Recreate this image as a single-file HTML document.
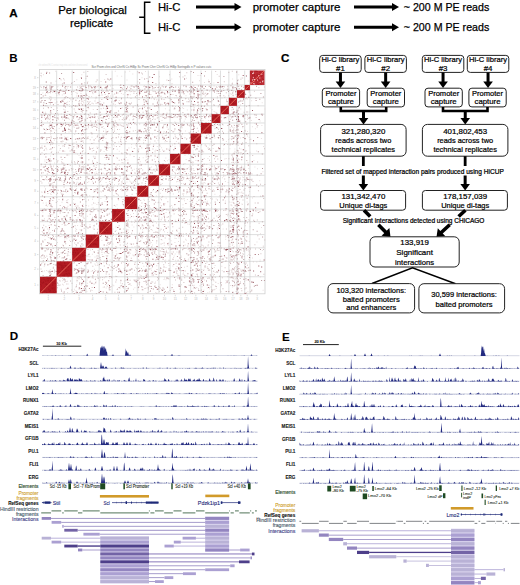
<!DOCTYPE html><html><head><meta charset="utf-8"><style>html,body{margin:0;padding:0;background:#fff;width:520px;height:585px;overflow:hidden}svg text{font-family:"Liberation Sans",sans-serif}</style></head><body><svg width="520" height="585" viewBox="0 0 520 585" style="display:block;font-family:'Liberation Sans',sans-serif">
<rect width="520" height="585" fill="#fff"/>
<text x="9.2" y="17" font-size="11.6" text-anchor="start" font-weight="bold" fill="#000" stroke="#000" stroke-width="0.25">A</text>
<text x="92.5" y="13.6" font-size="11.5" text-anchor="middle" font-weight="normal" fill="#000" textLength="68.6" lengthAdjust="spacingAndGlyphs" stroke="#000" stroke-width="0.25">Per biological</text>
<text x="91.5" y="27" font-size="11.5" text-anchor="middle" font-weight="normal" fill="#000" textLength="43.2" lengthAdjust="spacingAndGlyphs" stroke="#000" stroke-width="0.25">replicate</text>
<path d="M150.5,2.3 H144.6 V33.3 H150.5 M144.6,17.3 H139.2" fill="none" stroke="#000" stroke-width="1.5"/>
<text x="158" y="11.2" font-size="11.5" text-anchor="start" font-weight="normal" fill="#000" textLength="22.5" lengthAdjust="spacingAndGlyphs" stroke="#000" stroke-width="0.25">Hi-C</text>
<text x="252.7" y="11.2" font-size="11.5" text-anchor="start" font-weight="normal" fill="#000" textLength="87.7" lengthAdjust="spacingAndGlyphs" stroke="#000" stroke-width="0.25">promoter capture</text>
<text x="403.8" y="11.2" font-size="11.5" text-anchor="start" font-weight="normal" fill="#000" textLength="85.4" lengthAdjust="spacingAndGlyphs" stroke="#000" stroke-width="0.25">~ 200 M PE reads</text>
<path d="M196,7.0 H235.5" stroke="#000" stroke-width="2.9"/>
<path d="M234.5,3.0 L241.5,7.0 L234.5,11.0 Z" fill="#000"/>
<path d="M354,7.0 H393" stroke="#000" stroke-width="2.9"/>
<path d="M392,3.0 L399,7.0 L392,11.0 Z" fill="#000"/>
<text x="158" y="31.3" font-size="11.5" text-anchor="start" font-weight="normal" fill="#000" textLength="22.5" lengthAdjust="spacingAndGlyphs" stroke="#000" stroke-width="0.25">Hi-C</text>
<text x="252.7" y="31.3" font-size="11.5" text-anchor="start" font-weight="normal" fill="#000" textLength="87.7" lengthAdjust="spacingAndGlyphs" stroke="#000" stroke-width="0.25">promoter capture</text>
<text x="403.8" y="31.3" font-size="11.5" text-anchor="start" font-weight="normal" fill="#000" textLength="85.4" lengthAdjust="spacingAndGlyphs" stroke="#000" stroke-width="0.25">~ 200 M PE reads</text>
<path d="M196,27.2 H235.5" stroke="#000" stroke-width="2.9"/>
<path d="M234.5,23.2 L241.5,27.2 L234.5,31.2 Z" fill="#000"/>
<path d="M354,27.2 H393" stroke="#000" stroke-width="2.9"/>
<path d="M392,23.2 L399,27.2 L392,31.2 Z" fill="#000"/>
<text x="9.3" y="62" font-size="11.6" text-anchor="start" font-weight="bold" fill="#000">B</text>
<rect x="39.5" y="69.5" width="225.5" height="224.3" fill="#fff" stroke="#d0d0d0" stroke-width="0.8"/>
<text x="63" y="66.2" font-size="3.2" text-anchor="middle" font-weight="normal" fill="#e2e2e2" textLength="49" lengthAdjust="spacingAndGlyphs">chr ordered Hi-C contact map intra and inter chromosomal</text>
<text x="151.4" y="67.7" font-size="3.4" text-anchor="middle" font-weight="normal" fill="#6a6a6a" textLength="120" lengthAdjust="spacingAndGlyphs">Scr Prom chrs ord ChrrN Cs HiBp Sc Prom Chrr ChrrN Cs HiBp Sortngdls n P values cutc</text>
<path d="M41.0 264.3h1v1h-1zM54.0 272.3h1v1h-1zM43.8 265.8h1v1h-1zM47.8 276.5h1v1h-1zM44.5 262.7h1v1h-1zM56.1 273.0h1v1h-1zM44.1 262.9h1v1h-1zM42.2 271.3h1v1h-1zM47.0 264.6h1v1h-1zM56.2 273.7h1v1h-1zM54.7 264.6h1v1h-1zM54.2 271.2h1v1h-1zM56.5 264.6h1v1h-1zM52.9 266.4h1v1h-1zM44.1 270.6h1v1h-1zM49.6 274.7h1v1h-1zM44.0 257.4h1v1h-1zM53.7 255.9h1v1h-1zM42.9 257.6h1v1h-1zM43.4 248.0h1v1h-1zM47.4 248.6h1v1h-1zM46.1 255.6h1v1h-1zM42.3 248.3h1v1h-1zM53.2 260.2h1v1h-1zM49.5 256.3h1v1h-1zM49.7 256.1h1v1h-1zM41.4 258.0h1v1h-1zM50.0 254.3h1v1h-1zM55.3 251.3h1v1h-1zM45.0 257.0h1v1h-1zM47.4 259.9h1v1h-1zM46.4 255.7h1v1h-1zM50.4 254.5h1v1h-1zM45.2 245.1h1v1h-1zM42.3 240.6h1v1h-1zM53.8 237.7h1v1h-1zM56.0 243.6h1v1h-1zM47.9 236.9h1v1h-1zM47.9 244.0h1v1h-1zM47.7 243.2h1v1h-1zM54.3 239.2h1v1h-1zM41.1 245.2h1v1h-1zM45.6 245.0h1v1h-1zM48.2 233.9h1v1h-1zM43.7 228.5h1v1h-1zM54.1 228.9h1v1h-1zM48.7 229.1h1v1h-1zM48.2 230.6h1v1h-1zM55.0 227.9h1v1h-1zM42.2 231.7h1v1h-1zM41.7 231.1h1v1h-1zM48.5 225.0h1v1h-1zM48.8 227.3h1v1h-1zM46.9 228.5h1v1h-1zM53.5 220.5h1v1h-1zM45.2 220.8h1v1h-1zM56.6 220.3h1v1h-1zM44.0 218.3h1v1h-1zM51.4 209.3h1v1h-1zM48.4 217.8h1v1h-1zM41.2 210.4h1v1h-1zM42.4 211.4h1v1h-1zM47.7 218.8h1v1h-1zM52.3 214.2h1v1h-1zM42.8 215.6h1v1h-1zM46.8 205.7h1v1h-1zM45.7 202.5h1v1h-1zM40.8 199.2h1v1h-1zM42.7 202.6h1v1h-1zM48.3 204.3h1v1h-1zM50.0 201.3h1v1h-1zM50.9 203.7h1v1h-1zM51.9 189.1h1v1h-1zM44.1 186.3h1v1h-1zM53.6 192.4h1v1h-1zM50.4 190.8h1v1h-1zM40.9 191.6h1v1h-1zM55.9 193.9h1v1h-1zM50.4 189.8h1v1h-1zM50.6 194.1h1v1h-1zM54.6 186.3h1v1h-1zM41.7 191.8h1v1h-1zM54.0 176.1h1v1h-1zM43.6 179.8h1v1h-1zM48.1 182.5h1v1h-1zM52.9 176.1h1v1h-1zM51.0 176.1h1v1h-1zM52.1 182.6h1v1h-1zM45.1 178.6h1v1h-1zM55.6 184.7h1v1h-1zM46.0 179.1h1v1h-1zM46.6 179.4h1v1h-1zM53.9 181.2h1v1h-1zM52.6 184.6h1v1h-1zM53.1 165.2h1v1h-1zM52.3 174.2h1v1h-1zM50.8 166.9h1v1h-1zM47.0 168.9h1v1h-1zM52.4 175.2h1v1h-1zM44.9 174.9h1v1h-1zM52.9 166.2h1v1h-1zM40.6 165.4h1v1h-1zM49.9 166.7h1v1h-1zM55.9 158.9h1v1h-1zM50.1 155.5h1v1h-1zM44.4 159.4h1v1h-1zM54.1 162.4h1v1h-1zM44.5 161.3h1v1h-1zM49.8 162.7h1v1h-1zM41.5 152.1h1v1h-1zM49.1 149.1h1v1h-1zM53.9 146.9h1v1h-1zM43.4 150.0h1v1h-1zM46.3 149.2h1v1h-1zM41.5 145.2h1v1h-1zM51.3 150.9h1v1h-1zM41.5 135.9h1v1h-1zM42.1 137.7h1v1h-1zM50.1 133.7h1v1h-1zM45.7 140.2h1v1h-1zM53.8 139.8h1v1h-1zM45.9 138.6h1v1h-1zM51.9 142.1h1v1h-1zM55.7 129.6h1v1h-1zM46.0 127.9h1v1h-1zM53.6 129.3h1v1h-1zM43.1 128.8h1v1h-1zM55.7 129.9h1v1h-1zM51.2 130.8h1v1h-1zM49.9 131.5h1v1h-1zM43.3 127.9h1v1h-1zM46.4 129.0h1v1h-1zM45.5 129.8h1v1h-1zM55.1 117.0h1v1h-1zM50.0 120.8h1v1h-1zM49.9 114.8h1v1h-1zM47.4 118.6h1v1h-1zM44.0 116.9h1v1h-1zM47.0 121.3h1v1h-1zM41.6 121.2h1v1h-1zM49.0 122.5h1v1h-1zM44.1 116.8h1v1h-1zM56.3 118.3h1v1h-1zM43.3 112.8h1v1h-1zM43.2 113.2h1v1h-1zM41.8 111.9h1v1h-1zM47.4 106.5h1v1h-1zM45.1 111.8h1v1h-1zM54.7 102.6h1v1h-1zM44.6 103.0h1v1h-1zM42.9 104.1h1v1h-1zM43.9 101.8h1v1h-1zM49.7 101.8h1v1h-1zM54.5 99.3h1v1h-1zM49.1 96.2h1v1h-1zM42.4 92.5h1v1h-1zM44.4 94.7h1v1h-1zM53.7 91.5h1v1h-1zM52.4 90.5h1v1h-1zM54.8 91.2h1v1h-1zM45.0 93.4h1v1h-1zM52.2 91.9h1v1h-1zM55.5 93.0h1v1h-1zM56.4 94.8h1v1h-1zM46.7 88.3h1v1h-1zM46.5 89.3h1v1h-1zM53.0 86.1h1v1h-1zM43.1 87.8h1v1h-1zM51.3 89.4h1v1h-1zM46.0 86.4h1v1h-1zM43.0 74.3h1v1h-1zM55.4 80.8h1v1h-1zM55.1 70.8h1v1h-1zM40.9 76.2h1v1h-1zM59.0 280.1h1v1h-1zM67.7 283.5h1v1h-1zM70.1 280.5h1v1h-1zM62.0 280.3h1v1h-1zM69.2 292.9h1v1h-1zM67.1 292.0h1v1h-1zM58.1 283.8h1v1h-1zM57.6 283.1h1v1h-1zM64.4 281.4h1v1h-1zM62.9 284.6h1v1h-1zM67.0 280.7h1v1h-1zM62.0 283.7h1v1h-1zM67.5 277.1h1v1h-1zM63.9 282.1h1v1h-1zM62.6 291.8h1v1h-1zM58.8 285.1h1v1h-1zM62.3 292.9h1v1h-1zM65.4 252.8h1v1h-1zM68.3 255.0h1v1h-1zM60.5 252.2h1v1h-1zM64.6 249.5h1v1h-1zM70.2 248.5h1v1h-1zM64.5 258.6h1v1h-1zM69.6 258.7h1v1h-1zM62.5 256.9h1v1h-1zM71.3 261.0h1v1h-1zM57.4 257.5h1v1h-1zM72.1 249.4h1v1h-1zM69.7 251.7h1v1h-1zM69.1 236.5h1v1h-1zM58.3 246.9h1v1h-1zM64.2 236.2h1v1h-1zM57.0 242.1h1v1h-1zM66.4 238.2h1v1h-1zM64.2 239.4h1v1h-1zM61.5 235.6h1v1h-1zM64.2 247.8h1v1h-1zM69.2 239.8h1v1h-1zM67.9 236.9h1v1h-1zM59.3 236.2h1v1h-1zM62.2 244.6h1v1h-1zM64.6 234.7h1v1h-1zM68.6 234.4h1v1h-1zM60.6 233.4h1v1h-1zM65.6 224.7h1v1h-1zM62.3 229.9h1v1h-1zM61.0 233.4h1v1h-1zM67.2 224.0h1v1h-1zM59.8 233.0h1v1h-1zM63.3 234.1h1v1h-1zM63.0 230.8h1v1h-1zM61.7 224.1h1v1h-1zM62.5 230.0h1v1h-1zM65.6 215.6h1v1h-1zM65.9 220.9h1v1h-1zM62.9 220.1h1v1h-1zM72.0 215.3h1v1h-1zM70.7 219.2h1v1h-1zM62.3 198.0h1v1h-1zM58.5 199.0h1v1h-1zM57.8 208.9h1v1h-1zM56.9 200.9h1v1h-1zM67.5 199.0h1v1h-1zM67.4 202.5h1v1h-1zM67.4 205.8h1v1h-1zM61.5 201.8h1v1h-1zM60.3 192.2h1v1h-1zM60.5 190.3h1v1h-1zM65.8 191.8h1v1h-1zM70.6 186.8h1v1h-1zM62.3 190.9h1v1h-1zM71.8 185.7h1v1h-1zM62.9 182.2h1v1h-1zM72.0 177.5h1v1h-1zM66.3 183.1h1v1h-1zM58.5 180.2h1v1h-1zM61.3 180.6h1v1h-1zM65.5 176.6h1v1h-1zM60.5 179.6h1v1h-1zM63.8 184.2h1v1h-1zM68.1 172.1h1v1h-1zM64.9 164.5h1v1h-1zM57.9 167.1h1v1h-1zM62.9 166.7h1v1h-1zM62.3 170.8h1v1h-1zM68.4 154.4h1v1h-1zM61.1 160.9h1v1h-1zM71.9 162.5h1v1h-1zM71.1 160.5h1v1h-1zM63.4 144.9h1v1h-1zM68.1 144.5h1v1h-1zM58.4 144.9h1v1h-1zM64.3 150.7h1v1h-1zM59.3 149.7h1v1h-1zM62.0 145.4h1v1h-1zM65.8 138.8h1v1h-1zM65.6 142.1h1v1h-1zM61.8 140.6h1v1h-1zM60.3 141.2h1v1h-1zM61.4 142.2h1v1h-1zM68.5 131.5h1v1h-1zM68.8 125.3h1v1h-1zM65.0 129.4h1v1h-1zM71.0 130.3h1v1h-1zM71.4 130.6h1v1h-1zM70.0 130.7h1v1h-1zM60.6 126.1h1v1h-1zM58.7 128.1h1v1h-1zM70.9 131.2h1v1h-1zM57.5 132.9h1v1h-1zM64.5 129.0h1v1h-1zM60.3 122.5h1v1h-1zM71.3 120.0h1v1h-1zM58.5 122.9h1v1h-1zM68.8 118.8h1v1h-1zM62.2 118.6h1v1h-1zM71.8 119.1h1v1h-1zM71.6 106.1h1v1h-1zM70.2 113.8h1v1h-1zM69.2 105.9h1v1h-1zM63.0 108.7h1v1h-1zM56.9 104.0h1v1h-1zM65.8 102.1h1v1h-1zM67.1 101.5h1v1h-1zM70.4 99.2h1v1h-1zM60.7 102.0h1v1h-1zM70.3 99.3h1v1h-1zM57.9 104.0h1v1h-1zM72.0 100.9h1v1h-1zM68.9 104.1h1v1h-1zM68.9 100.9h1v1h-1zM71.6 97.3h1v1h-1zM71.3 91.6h1v1h-1zM71.4 93.6h1v1h-1zM57.8 91.6h1v1h-1zM57.4 92.5h1v1h-1zM71.4 90.8h1v1h-1zM71.0 94.0h1v1h-1zM61.8 94.5h1v1h-1zM57.5 85.8h1v1h-1zM68.1 86.1h1v1h-1zM66.8 87.4h1v1h-1zM56.9 86.5h1v1h-1zM60.7 79.5h1v1h-1zM64.0 79.5h1v1h-1zM61.8 83.7h1v1h-1zM60.3 78.9h1v1h-1zM85.1 281.5h1v1h-1zM76.0 284.1h1v1h-1zM76.9 280.0h1v1h-1zM74.6 290.2h1v1h-1zM75.5 292.0h1v1h-1zM73.9 288.8h1v1h-1zM80.9 284.9h1v1h-1zM77.0 277.1h1v1h-1zM76.5 281.3h1v1h-1zM85.3 289.6h1v1h-1zM78.6 289.1h1v1h-1zM74.9 286.4h1v1h-1zM76.7 277.9h1v1h-1zM85.0 275.3h1v1h-1zM74.8 273.2h1v1h-1zM74.2 269.8h1v1h-1zM82.0 272.6h1v1h-1zM78.4 268.0h1v1h-1zM73.0 262.4h1v1h-1zM81.7 268.1h1v1h-1zM72.4 262.5h1v1h-1zM76.5 276.5h1v1h-1zM79.1 267.7h1v1h-1zM81.8 268.3h1v1h-1zM78.1 268.3h1v1h-1zM80.7 267.7h1v1h-1zM84.2 268.4h1v1h-1zM79.5 247.6h1v1h-1zM74.9 246.7h1v1h-1zM79.6 247.6h1v1h-1zM79.4 241.1h1v1h-1zM81.6 245.5h1v1h-1zM84.9 237.9h1v1h-1zM75.2 227.8h1v1h-1zM80.5 234.4h1v1h-1zM75.2 229.7h1v1h-1zM81.4 223.9h1v1h-1zM84.1 224.6h1v1h-1zM75.3 231.0h1v1h-1zM79.6 229.2h1v1h-1zM80.4 232.8h1v1h-1zM76.1 228.9h1v1h-1zM77.1 224.9h1v1h-1zM75.7 221.9h1v1h-1zM80.3 225.2h1v1h-1zM79.0 214.3h1v1h-1zM75.2 209.4h1v1h-1zM82.3 214.8h1v1h-1zM84.7 219.7h1v1h-1zM79.2 221.6h1v1h-1zM85.7 209.2h1v1h-1zM77.5 217.2h1v1h-1zM80.8 209.3h1v1h-1zM81.1 211.8h1v1h-1zM82.5 209.8h1v1h-1zM83.1 210.8h1v1h-1zM85.3 200.7h1v1h-1zM80.6 208.3h1v1h-1zM75.6 205.6h1v1h-1zM78.9 208.7h1v1h-1zM73.1 199.1h1v1h-1zM73.0 202.8h1v1h-1zM79.4 197.4h1v1h-1zM85.6 201.3h1v1h-1zM82.6 203.7h1v1h-1zM74.8 205.7h1v1h-1zM84.0 197.2h1v1h-1zM72.9 194.9h1v1h-1zM74.4 186.2h1v1h-1zM84.2 190.0h1v1h-1zM84.7 186.2h1v1h-1zM76.1 187.9h1v1h-1zM74.9 192.8h1v1h-1zM74.5 191.7h1v1h-1zM77.5 191.0h1v1h-1zM80.6 187.9h1v1h-1zM72.7 188.9h1v1h-1zM84.8 187.9h1v1h-1zM83.8 194.2h1v1h-1zM73.0 181.9h1v1h-1zM76.6 181.7h1v1h-1zM74.8 184.2h1v1h-1zM79.8 178.9h1v1h-1zM72.2 175.3h1v1h-1zM73.1 182.8h1v1h-1zM84.9 179.7h1v1h-1zM78.5 182.5h1v1h-1zM82.9 185.5h1v1h-1zM80.6 177.0h1v1h-1zM73.0 176.3h1v1h-1zM79.7 184.3h1v1h-1zM73.7 182.0h1v1h-1zM75.3 175.6h1v1h-1zM73.1 180.9h1v1h-1zM80.4 184.0h1v1h-1zM79.2 164.9h1v1h-1zM79.1 173.1h1v1h-1zM84.7 169.6h1v1h-1zM72.8 168.6h1v1h-1zM81.4 165.9h1v1h-1zM78.3 167.5h1v1h-1zM84.3 166.6h1v1h-1zM84.3 169.6h1v1h-1zM73.1 171.7h1v1h-1zM78.3 170.9h1v1h-1zM84.9 167.9h1v1h-1zM82.8 165.4h1v1h-1zM83.0 166.5h1v1h-1zM80.4 169.4h1v1h-1zM84.5 173.0h1v1h-1zM85.1 162.8h1v1h-1zM79.7 157.2h1v1h-1zM82.3 161.7h1v1h-1zM78.5 155.1h1v1h-1zM81.0 157.7h1v1h-1zM77.2 160.6h1v1h-1zM81.4 162.6h1v1h-1zM81.0 156.5h1v1h-1zM76.3 147.6h1v1h-1zM75.3 152.6h1v1h-1zM78.6 145.8h1v1h-1zM76.6 145.7h1v1h-1zM77.0 153.6h1v1h-1zM73.9 151.9h1v1h-1zM79.8 144.7h1v1h-1zM82.8 140.4h1v1h-1zM82.9 142.0h1v1h-1zM74.2 134.0h1v1h-1zM78.5 139.3h1v1h-1zM73.5 142.5h1v1h-1zM75.0 138.3h1v1h-1zM81.4 134.6h1v1h-1zM83.3 132.9h1v1h-1zM73.8 124.7h1v1h-1zM73.9 126.7h1v1h-1zM74.2 123.5h1v1h-1zM77.1 123.3h1v1h-1zM72.6 126.3h1v1h-1zM83.6 127.0h1v1h-1zM73.3 125.0h1v1h-1zM82.7 130.8h1v1h-1zM74.9 131.5h1v1h-1zM84.0 118.7h1v1h-1zM76.8 116.2h1v1h-1zM77.6 119.2h1v1h-1zM72.4 120.1h1v1h-1zM78.9 117.5h1v1h-1zM72.9 116.8h1v1h-1zM72.5 121.9h1v1h-1zM78.2 118.8h1v1h-1zM80.4 113.4h1v1h-1zM74.4 110.5h1v1h-1zM76.4 113.2h1v1h-1zM82.8 108.2h1v1h-1zM81.9 111.9h1v1h-1zM84.9 110.3h1v1h-1zM78.7 108.7h1v1h-1zM84.3 113.6h1v1h-1zM83.5 99.7h1v1h-1zM77.0 105.8h1v1h-1zM72.5 98.6h1v1h-1zM82.2 104.6h1v1h-1zM84.4 100.0h1v1h-1zM74.2 105.6h1v1h-1zM83.4 102.4h1v1h-1zM83.1 101.6h1v1h-1zM73.7 90.2h1v1h-1zM75.5 91.9h1v1h-1zM77.0 92.8h1v1h-1zM85.7 93.7h1v1h-1zM80.5 92.9h1v1h-1zM77.6 90.2h1v1h-1zM77.0 97.8h1v1h-1zM75.9 95.5h1v1h-1zM76.4 93.2h1v1h-1zM76.8 90.0h1v1h-1zM79.4 86.1h1v1h-1zM76.3 89.6h1v1h-1zM78.9 87.7h1v1h-1zM79.5 85.3h1v1h-1zM82.3 85.3h1v1h-1zM80.7 88.1h1v1h-1zM85.4 77.9h1v1h-1zM85.6 76.1h1v1h-1zM81.3 74.3h1v1h-1zM76.3 79.3h1v1h-1zM84.3 83.8h1v1h-1zM72.2 82.0h1v1h-1zM90.5 289.5h1v1h-1zM86.7 279.5h1v1h-1zM89.8 280.6h1v1h-1zM95.5 280.8h1v1h-1zM93.0 277.6h1v1h-1zM98.0 277.9h1v1h-1zM86.4 291.3h1v1h-1zM86.9 282.7h1v1h-1zM87.1 285.6h1v1h-1zM91.7 290.1h1v1h-1zM96.8 265.1h1v1h-1zM95.1 264.8h1v1h-1zM97.2 274.9h1v1h-1zM98.4 264.6h1v1h-1zM93.9 268.7h1v1h-1zM94.4 263.5h1v1h-1zM96.9 263.5h1v1h-1zM87.7 268.9h1v1h-1zM96.9 273.8h1v1h-1zM92.1 276.6h1v1h-1zM89.5 256.2h1v1h-1zM87.8 255.5h1v1h-1zM91.9 253.8h1v1h-1zM87.8 254.0h1v1h-1zM97.4 255.3h1v1h-1zM94.5 256.4h1v1h-1zM98.4 255.8h1v1h-1zM98.2 250.6h1v1h-1zM97.5 249.9h1v1h-1zM98.0 257.9h1v1h-1zM90.0 249.4h1v1h-1zM94.0 224.8h1v1h-1zM93.6 225.9h1v1h-1zM97.4 231.0h1v1h-1zM93.3 228.8h1v1h-1zM92.7 227.6h1v1h-1zM96.4 222.8h1v1h-1zM89.5 224.3h1v1h-1zM86.9 215.7h1v1h-1zM92.2 216.8h1v1h-1zM92.0 217.8h1v1h-1zM95.6 218.2h1v1h-1zM99.1 216.9h1v1h-1zM88.2 205.5h1v1h-1zM92.7 209.0h1v1h-1zM92.0 198.8h1v1h-1zM91.7 207.5h1v1h-1zM96.4 204.1h1v1h-1zM98.6 204.1h1v1h-1zM93.1 207.4h1v1h-1zM94.5 202.8h1v1h-1zM91.5 204.2h1v1h-1zM93.1 189.5h1v1h-1zM89.2 195.2h1v1h-1zM87.1 196.6h1v1h-1zM86.5 194.8h1v1h-1zM97.1 186.0h1v1h-1zM86.0 186.4h1v1h-1zM94.8 177.8h1v1h-1zM87.1 177.8h1v1h-1zM92.6 182.5h1v1h-1zM91.9 180.7h1v1h-1zM87.0 182.1h1v1h-1zM88.3 181.2h1v1h-1zM92.4 168.6h1v1h-1zM90.1 170.0h1v1h-1zM91.0 172.8h1v1h-1zM92.3 169.9h1v1h-1zM92.2 172.4h1v1h-1zM94.2 165.5h1v1h-1zM98.7 168.3h1v1h-1zM95.6 171.6h1v1h-1zM96.1 165.0h1v1h-1zM96.2 161.8h1v1h-1zM92.8 155.8h1v1h-1zM93.2 156.5h1v1h-1zM97.6 147.0h1v1h-1zM91.8 150.4h1v1h-1zM92.8 147.4h1v1h-1zM96.4 146.6h1v1h-1zM97.6 134.2h1v1h-1zM87.7 136.2h1v1h-1zM93.4 142.4h1v1h-1zM98.6 130.2h1v1h-1zM98.4 127.9h1v1h-1zM87.8 125.7h1v1h-1zM90.5 131.9h1v1h-1zM98.5 130.2h1v1h-1zM95.6 124.6h1v1h-1zM90.9 126.5h1v1h-1zM88.0 127.2h1v1h-1zM86.8 117.4h1v1h-1zM97.1 119.7h1v1h-1zM94.8 122.5h1v1h-1zM95.0 120.1h1v1h-1zM86.5 107.3h1v1h-1zM88.3 108.3h1v1h-1zM92.8 109.0h1v1h-1zM94.9 98.2h1v1h-1zM89.7 101.0h1v1h-1zM93.0 103.3h1v1h-1zM92.8 90.6h1v1h-1zM96.1 97.6h1v1h-1zM91.1 96.0h1v1h-1zM92.6 93.3h1v1h-1zM88.0 86.4h1v1h-1zM95.7 86.6h1v1h-1zM87.4 81.3h1v1h-1zM97.2 79.6h1v1h-1zM99.3 279.6h1v1h-1zM111.6 277.3h1v1h-1zM108.7 289.4h1v1h-1zM110.9 286.1h1v1h-1zM108.5 289.3h1v1h-1zM107.8 284.0h1v1h-1zM106.3 282.1h1v1h-1zM109.3 277.8h1v1h-1zM107.0 285.7h1v1h-1zM106.4 285.4h1v1h-1zM102.7 286.8h1v1h-1zM100.8 264.1h1v1h-1zM109.6 269.5h1v1h-1zM103.3 262.2h1v1h-1zM110.5 265.9h1v1h-1zM105.0 276.3h1v1h-1zM105.3 271.3h1v1h-1zM100.2 262.6h1v1h-1zM106.5 264.0h1v1h-1zM100.2 268.0h1v1h-1zM104.3 252.6h1v1h-1zM101.7 254.0h1v1h-1zM105.8 248.8h1v1h-1zM105.7 255.1h1v1h-1zM100.4 260.2h1v1h-1zM111.6 250.3h1v1h-1zM106.2 256.5h1v1h-1zM102.0 256.0h1v1h-1zM109.6 259.4h1v1h-1zM107.3 255.3h1v1h-1zM102.3 249.0h1v1h-1zM107.2 247.9h1v1h-1zM103.8 252.0h1v1h-1zM103.7 244.4h1v1h-1zM101.4 240.1h1v1h-1zM111.4 238.6h1v1h-1zM107.4 234.6h1v1h-1zM109.6 221.7h1v1h-1zM110.7 220.8h1v1h-1zM108.9 212.8h1v1h-1zM111.5 218.3h1v1h-1zM100.5 211.3h1v1h-1zM106.6 213.2h1v1h-1zM111.3 197.5h1v1h-1zM107.5 208.5h1v1h-1zM106.5 204.9h1v1h-1zM100.4 197.9h1v1h-1zM104.5 200.9h1v1h-1zM107.4 208.1h1v1h-1zM100.3 203.7h1v1h-1zM108.2 189.7h1v1h-1zM110.7 187.2h1v1h-1zM100.8 191.6h1v1h-1zM107.6 196.0h1v1h-1zM103.9 188.1h1v1h-1zM100.3 190.8h1v1h-1zM102.9 189.5h1v1h-1zM106.6 186.3h1v1h-1zM108.1 184.6h1v1h-1zM99.4 175.6h1v1h-1zM104.7 175.3h1v1h-1zM100.8 184.5h1v1h-1zM100.6 179.9h1v1h-1zM111.7 182.0h1v1h-1zM99.5 185.2h1v1h-1zM104.3 173.6h1v1h-1zM103.7 167.8h1v1h-1zM109.8 169.5h1v1h-1zM102.6 172.8h1v1h-1zM102.5 172.5h1v1h-1zM111.0 170.2h1v1h-1zM109.7 174.0h1v1h-1zM110.6 174.8h1v1h-1zM109.3 174.7h1v1h-1zM106.5 172.0h1v1h-1zM107.3 163.0h1v1h-1zM104.0 146.2h1v1h-1zM107.4 148.1h1v1h-1zM110.9 144.3h1v1h-1zM109.4 146.9h1v1h-1zM103.6 151.1h1v1h-1zM107.2 144.8h1v1h-1zM102.2 134.6h1v1h-1zM103.6 134.5h1v1h-1zM107.3 142.8h1v1h-1zM101.8 124.0h1v1h-1zM107.7 123.3h1v1h-1zM111.9 126.9h1v1h-1zM105.4 129.6h1v1h-1zM102.7 126.1h1v1h-1zM108.2 123.9h1v1h-1zM107.8 130.8h1v1h-1zM99.6 124.2h1v1h-1zM103.6 128.0h1v1h-1zM111.9 122.2h1v1h-1zM101.8 121.9h1v1h-1zM111.1 121.6h1v1h-1zM111.2 119.2h1v1h-1zM110.1 114.3h1v1h-1zM110.2 112.8h1v1h-1zM102.2 104.6h1v1h-1zM109.5 98.1h1v1h-1zM102.1 104.4h1v1h-1zM99.5 100.9h1v1h-1zM110.1 104.7h1v1h-1zM109.9 95.4h1v1h-1zM108.0 96.1h1v1h-1zM100.8 86.9h1v1h-1zM111.8 87.7h1v1h-1zM107.9 79.1h1v1h-1zM100.6 81.1h1v1h-1zM104.1 78.9h1v1h-1zM112.4 284.4h1v1h-1zM124.1 284.1h1v1h-1zM121.7 285.9h1v1h-1zM123.9 280.5h1v1h-1zM113.3 285.2h1v1h-1zM120.4 279.5h1v1h-1zM123.9 291.3h1v1h-1zM123.8 280.5h1v1h-1zM120.0 282.5h1v1h-1zM118.1 271.2h1v1h-1zM115.1 276.1h1v1h-1zM116.7 266.6h1v1h-1zM115.2 275.8h1v1h-1zM122.8 261.8h1v1h-1zM124.7 267.0h1v1h-1zM113.8 268.0h1v1h-1zM118.4 259.6h1v1h-1zM112.6 254.6h1v1h-1zM115.7 250.5h1v1h-1zM121.9 261.1h1v1h-1zM115.9 254.8h1v1h-1zM116.1 248.1h1v1h-1zM116.6 259.8h1v1h-1zM112.3 252.3h1v1h-1zM117.6 242.5h1v1h-1zM119.3 241.7h1v1h-1zM115.5 235.6h1v1h-1zM112.5 243.4h1v1h-1zM123.7 238.8h1v1h-1zM116.0 246.8h1v1h-1zM115.5 230.0h1v1h-1zM120.4 232.6h1v1h-1zM115.5 226.6h1v1h-1zM124.5 231.4h1v1h-1zM116.2 233.6h1v1h-1zM123.3 232.0h1v1h-1zM112.5 228.5h1v1h-1zM123.1 228.6h1v1h-1zM123.4 205.6h1v1h-1zM121.9 203.6h1v1h-1zM115.2 205.8h1v1h-1zM114.1 204.8h1v1h-1zM116.5 204.3h1v1h-1zM118.2 199.5h1v1h-1zM122.1 189.0h1v1h-1zM113.2 186.2h1v1h-1zM112.3 190.5h1v1h-1zM113.3 194.9h1v1h-1zM115.2 192.5h1v1h-1zM121.3 196.7h1v1h-1zM117.0 185.8h1v1h-1zM118.2 183.2h1v1h-1zM121.9 180.4h1v1h-1zM118.8 183.2h1v1h-1zM118.0 184.1h1v1h-1zM123.1 179.0h1v1h-1zM121.0 181.3h1v1h-1zM120.9 184.9h1v1h-1zM114.0 184.2h1v1h-1zM120.1 177.7h1v1h-1zM119.5 175.9h1v1h-1zM122.7 178.3h1v1h-1zM117.3 167.9h1v1h-1zM123.0 171.7h1v1h-1zM115.4 174.0h1v1h-1zM120.6 169.0h1v1h-1zM122.0 174.6h1v1h-1zM114.8 168.4h1v1h-1zM114.7 172.5h1v1h-1zM119.0 165.7h1v1h-1zM117.8 163.7h1v1h-1zM122.9 162.6h1v1h-1zM121.4 159.8h1v1h-1zM116.2 157.3h1v1h-1zM116.7 148.7h1v1h-1zM118.8 150.8h1v1h-1zM112.7 149.0h1v1h-1zM112.9 144.1h1v1h-1zM113.7 145.5h1v1h-1zM114.0 142.2h1v1h-1zM118.2 141.5h1v1h-1zM124.0 139.3h1v1h-1zM120.8 141.7h1v1h-1zM112.4 141.1h1v1h-1zM115.6 132.7h1v1h-1zM114.1 127.4h1v1h-1zM119.5 124.8h1v1h-1zM112.5 125.8h1v1h-1zM120.0 124.6h1v1h-1zM115.8 126.3h1v1h-1zM119.1 129.0h1v1h-1zM114.1 129.6h1v1h-1zM120.6 124.8h1v1h-1zM114.9 121.5h1v1h-1zM118.8 119.2h1v1h-1zM124.7 119.0h1v1h-1zM122.8 119.8h1v1h-1zM113.5 122.0h1v1h-1zM116.3 116.0h1v1h-1zM114.8 120.2h1v1h-1zM121.6 107.2h1v1h-1zM115.3 106.3h1v1h-1zM120.9 98.7h1v1h-1zM118.1 102.0h1v1h-1zM124.3 102.9h1v1h-1zM118.8 100.0h1v1h-1zM119.2 103.4h1v1h-1zM113.5 101.3h1v1h-1zM114.8 104.1h1v1h-1zM112.7 94.5h1v1h-1zM117.7 92.5h1v1h-1zM115.9 91.4h1v1h-1zM120.9 92.9h1v1h-1zM112.6 96.2h1v1h-1zM121.8 90.3h1v1h-1zM122.8 93.8h1v1h-1zM124.7 91.8h1v1h-1zM112.4 85.1h1v1h-1zM120.6 89.9h1v1h-1zM120.6 88.5h1v1h-1zM123.6 86.6h1v1h-1zM112.8 88.2h1v1h-1zM121.2 75.7h1v1h-1zM124.9 71.4h1v1h-1zM114.8 70.8h1v1h-1zM116.7 75.5h1v1h-1zM127.3 288.3h1v1h-1zM130.6 285.0h1v1h-1zM134.4 287.2h1v1h-1zM135.6 279.0h1v1h-1zM125.7 288.2h1v1h-1zM137.0 285.0h1v1h-1zM133.0 288.7h1v1h-1zM129.0 273.5h1v1h-1zM135.1 266.8h1v1h-1zM134.9 261.7h1v1h-1zM135.3 274.3h1v1h-1zM126.7 265.0h1v1h-1zM128.4 269.7h1v1h-1zM128.2 263.1h1v1h-1zM126.5 276.5h1v1h-1zM134.6 262.0h1v1h-1zM131.9 272.2h1v1h-1zM130.1 249.3h1v1h-1zM136.8 255.9h1v1h-1zM132.4 254.5h1v1h-1zM134.8 251.4h1v1h-1zM128.7 254.8h1v1h-1zM135.9 253.8h1v1h-1zM135.4 249.4h1v1h-1zM129.8 252.8h1v1h-1zM131.3 243.5h1v1h-1zM127.3 237.1h1v1h-1zM131.5 246.4h1v1h-1zM136.4 245.6h1v1h-1zM134.5 246.0h1v1h-1zM129.8 243.3h1v1h-1zM133.4 226.4h1v1h-1zM131.6 224.6h1v1h-1zM136.5 225.2h1v1h-1zM134.1 233.8h1v1h-1zM128.6 227.1h1v1h-1zM126.0 228.8h1v1h-1zM136.3 234.2h1v1h-1zM134.0 222.1h1v1h-1zM128.0 223.4h1v1h-1zM133.0 212.9h1v1h-1zM131.1 220.8h1v1h-1zM129.7 217.3h1v1h-1zM127.6 217.3h1v1h-1zM133.2 216.2h1v1h-1zM137.1 213.9h1v1h-1zM130.1 214.3h1v1h-1zM137.0 194.7h1v1h-1zM130.3 181.6h1v1h-1zM135.0 182.8h1v1h-1zM124.9 176.6h1v1h-1zM129.3 180.4h1v1h-1zM126.5 181.4h1v1h-1zM137.0 177.6h1v1h-1zM137.3 171.5h1v1h-1zM137.0 174.1h1v1h-1zM136.9 171.4h1v1h-1zM135.1 172.8h1v1h-1zM128.4 164.1h1v1h-1zM127.2 162.7h1v1h-1zM127.3 159.4h1v1h-1zM125.8 156.9h1v1h-1zM125.3 159.7h1v1h-1zM136.1 145.7h1v1h-1zM130.9 146.7h1v1h-1zM131.1 144.0h1v1h-1zM128.4 147.6h1v1h-1zM131.8 139.2h1v1h-1zM125.2 135.8h1v1h-1zM135.0 130.1h1v1h-1zM136.2 132.5h1v1h-1zM127.0 131.5h1v1h-1zM137.2 129.6h1v1h-1zM126.0 114.6h1v1h-1zM128.9 119.4h1v1h-1zM127.4 112.0h1v1h-1zM131.5 112.8h1v1h-1zM134.7 105.1h1v1h-1zM129.1 102.7h1v1h-1zM136.3 97.6h1v1h-1zM129.8 91.3h1v1h-1zM129.8 94.3h1v1h-1zM125.7 89.8h1v1h-1zM129.5 89.4h1v1h-1zM136.2 85.1h1v1h-1zM136.0 89.2h1v1h-1zM129.2 70.8h1v1h-1zM137.2 84.5h1v1h-1zM137.3 81.2h1v1h-1zM132.3 73.5h1v1h-1zM145.2 280.2h1v1h-1zM137.3 282.1h1v1h-1zM138.2 292.2h1v1h-1zM139.4 278.0h1v1h-1zM139.0 284.7h1v1h-1zM140.1 277.0h1v1h-1zM144.5 281.0h1v1h-1zM142.3 286.8h1v1h-1zM143.1 289.3h1v1h-1zM145.2 270.6h1v1h-1zM143.3 265.7h1v1h-1zM145.7 271.0h1v1h-1zM142.4 269.5h1v1h-1zM140.7 270.7h1v1h-1zM139.3 270.1h1v1h-1zM145.5 273.5h1v1h-1zM140.3 248.0h1v1h-1zM140.9 249.6h1v1h-1zM143.7 248.9h1v1h-1zM148.1 261.0h1v1h-1zM144.3 251.7h1v1h-1zM140.4 261.3h1v1h-1zM138.2 259.0h1v1h-1zM139.9 248.4h1v1h-1zM147.8 252.7h1v1h-1zM147.9 259.4h1v1h-1zM142.3 235.6h1v1h-1zM147.8 238.7h1v1h-1zM137.8 240.8h1v1h-1zM141.6 237.5h1v1h-1zM142.1 236.2h1v1h-1zM141.4 226.5h1v1h-1zM142.1 229.3h1v1h-1zM140.8 232.8h1v1h-1zM140.4 234.3h1v1h-1zM147.1 225.0h1v1h-1zM147.1 228.0h1v1h-1zM146.1 218.9h1v1h-1zM147.1 214.6h1v1h-1zM144.4 221.2h1v1h-1zM143.9 200.0h1v1h-1zM143.4 198.8h1v1h-1zM147.8 199.0h1v1h-1zM148.2 208.1h1v1h-1zM143.8 205.3h1v1h-1zM138.6 199.4h1v1h-1zM138.9 179.0h1v1h-1zM140.0 178.2h1v1h-1zM140.8 176.6h1v1h-1zM146.5 177.1h1v1h-1zM148.2 185.7h1v1h-1zM138.7 175.4h1v1h-1zM139.0 164.9h1v1h-1zM147.4 174.8h1v1h-1zM143.6 174.8h1v1h-1zM139.5 175.0h1v1h-1zM143.5 172.8h1v1h-1zM145.6 155.4h1v1h-1zM138.7 159.2h1v1h-1zM145.7 156.8h1v1h-1zM139.8 161.2h1v1h-1zM147.7 155.5h1v1h-1zM142.7 157.3h1v1h-1zM141.3 147.5h1v1h-1zM146.0 144.5h1v1h-1zM146.9 146.6h1v1h-1zM147.2 146.9h1v1h-1zM141.0 147.2h1v1h-1zM147.9 133.7h1v1h-1zM143.3 139.8h1v1h-1zM145.2 137.9h1v1h-1zM140.0 129.3h1v1h-1zM143.0 124.6h1v1h-1zM139.3 129.6h1v1h-1zM145.0 124.5h1v1h-1zM145.5 116.0h1v1h-1zM142.5 115.7h1v1h-1zM139.0 116.0h1v1h-1zM141.8 117.2h1v1h-1zM139.2 117.7h1v1h-1zM138.6 118.3h1v1h-1zM138.2 115.9h1v1h-1zM146.6 110.8h1v1h-1zM138.7 108.2h1v1h-1zM138.1 105.9h1v1h-1zM143.3 100.5h1v1h-1zM147.3 102.7h1v1h-1zM145.6 100.9h1v1h-1zM147.1 101.3h1v1h-1zM144.6 101.2h1v1h-1zM146.7 99.5h1v1h-1zM143.1 99.8h1v1h-1zM144.1 97.1h1v1h-1zM143.2 86.1h1v1h-1zM139.0 87.6h1v1h-1zM147.0 86.5h1v1h-1zM147.6 89.1h1v1h-1zM141.5 77.2h1v1h-1zM150.5 282.1h1v1h-1zM151.1 281.3h1v1h-1zM158.1 278.1h1v1h-1zM157.6 279.1h1v1h-1zM149.4 291.1h1v1h-1zM155.0 292.3h1v1h-1zM155.0 281.4h1v1h-1zM154.5 286.6h1v1h-1zM155.1 285.5h1v1h-1zM158.1 286.2h1v1h-1zM156.9 279.9h1v1h-1zM150.5 265.0h1v1h-1zM155.3 273.9h1v1h-1zM150.4 268.0h1v1h-1zM156.3 265.2h1v1h-1zM149.5 263.5h1v1h-1zM155.4 271.4h1v1h-1zM151.3 274.5h1v1h-1zM154.4 273.2h1v1h-1zM153.0 263.1h1v1h-1zM149.4 269.3h1v1h-1zM151.7 266.9h1v1h-1zM158.0 257.0h1v1h-1zM157.3 249.8h1v1h-1zM154.5 252.5h1v1h-1zM152.6 250.7h1v1h-1zM154.7 248.2h1v1h-1zM149.1 260.7h1v1h-1zM153.5 249.4h1v1h-1zM151.9 247.9h1v1h-1zM148.9 253.7h1v1h-1zM149.5 240.2h1v1h-1zM149.5 241.6h1v1h-1zM156.3 235.6h1v1h-1zM150.7 242.1h1v1h-1zM155.9 242.5h1v1h-1zM151.9 244.6h1v1h-1zM149.2 238.5h1v1h-1zM152.4 225.0h1v1h-1zM152.9 225.7h1v1h-1zM151.8 229.7h1v1h-1zM154.9 231.6h1v1h-1zM149.6 226.6h1v1h-1zM148.9 226.9h1v1h-1zM155.6 231.4h1v1h-1zM155.9 222.4h1v1h-1zM152.8 214.2h1v1h-1zM153.4 212.1h1v1h-1zM152.4 221.4h1v1h-1zM152.1 211.9h1v1h-1zM153.3 219.7h1v1h-1zM154.6 220.9h1v1h-1zM149.0 218.0h1v1h-1zM149.1 221.0h1v1h-1zM157.5 202.2h1v1h-1zM150.9 198.6h1v1h-1zM151.1 199.3h1v1h-1zM149.4 206.9h1v1h-1zM150.3 208.5h1v1h-1zM155.3 207.1h1v1h-1zM151.1 195.6h1v1h-1zM152.4 190.3h1v1h-1zM150.7 195.3h1v1h-1zM157.6 190.0h1v1h-1zM154.9 192.0h1v1h-1zM149.8 196.1h1v1h-1zM155.9 195.4h1v1h-1zM149.5 169.5h1v1h-1zM156.7 168.0h1v1h-1zM149.2 167.2h1v1h-1zM151.1 166.6h1v1h-1zM156.3 166.9h1v1h-1zM149.1 173.9h1v1h-1zM156.3 165.3h1v1h-1zM152.5 174.9h1v1h-1zM158.9 173.1h1v1h-1zM156.8 155.7h1v1h-1zM152.6 163.9h1v1h-1zM153.9 158.7h1v1h-1zM155.4 149.6h1v1h-1zM154.5 150.5h1v1h-1zM156.8 145.9h1v1h-1zM154.5 153.4h1v1h-1zM148.4 147.8h1v1h-1zM154.6 151.6h1v1h-1zM157.2 135.6h1v1h-1zM148.6 136.0h1v1h-1zM157.5 139.8h1v1h-1zM155.7 142.5h1v1h-1zM149.7 141.6h1v1h-1zM154.4 129.8h1v1h-1zM151.3 124.2h1v1h-1zM149.1 127.0h1v1h-1zM151.9 133.4h1v1h-1zM148.9 133.4h1v1h-1zM156.2 126.4h1v1h-1zM156.2 123.0h1v1h-1zM150.5 121.9h1v1h-1zM150.8 114.6h1v1h-1zM157.3 116.8h1v1h-1zM153.0 114.6h1v1h-1zM157.7 117.1h1v1h-1zM150.8 112.9h1v1h-1zM158.0 107.2h1v1h-1zM156.6 102.4h1v1h-1zM158.5 99.3h1v1h-1zM157.7 104.5h1v1h-1zM157.6 99.3h1v1h-1zM153.5 97.9h1v1h-1zM155.9 99.3h1v1h-1zM150.8 98.3h1v1h-1zM149.5 94.1h1v1h-1zM155.0 96.7h1v1h-1zM157.6 91.5h1v1h-1zM150.5 94.1h1v1h-1zM153.5 87.9h1v1h-1zM150.6 85.2h1v1h-1zM153.4 87.2h1v1h-1zM155.8 85.2h1v1h-1zM158.8 82.5h1v1h-1zM149.1 83.9h1v1h-1zM159.9 288.0h1v1h-1zM166.3 292.0h1v1h-1zM163.9 292.8h1v1h-1zM168.6 278.6h1v1h-1zM159.7 284.2h1v1h-1zM159.0 291.0h1v1h-1zM166.9 287.0h1v1h-1zM164.0 277.4h1v1h-1zM165.5 279.3h1v1h-1zM163.5 279.1h1v1h-1zM161.7 261.6h1v1h-1zM162.6 271.6h1v1h-1zM160.8 272.5h1v1h-1zM165.5 267.1h1v1h-1zM160.2 271.7h1v1h-1zM168.6 265.1h1v1h-1zM162.9 269.6h1v1h-1zM160.1 254.8h1v1h-1zM169.9 248.8h1v1h-1zM165.2 259.4h1v1h-1zM164.6 260.7h1v1h-1zM166.0 249.7h1v1h-1zM169.4 255.3h1v1h-1zM164.0 260.6h1v1h-1zM161.3 248.4h1v1h-1zM159.2 254.5h1v1h-1zM161.8 247.6h1v1h-1zM162.2 243.0h1v1h-1zM168.1 242.4h1v1h-1zM165.2 247.6h1v1h-1zM161.5 239.6h1v1h-1zM163.8 244.8h1v1h-1zM167.7 244.7h1v1h-1zM168.9 234.8h1v1h-1zM165.6 235.3h1v1h-1zM162.8 224.1h1v1h-1zM162.9 230.0h1v1h-1zM170.0 232.6h1v1h-1zM164.0 231.2h1v1h-1zM168.8 234.2h1v1h-1zM162.5 234.2h1v1h-1zM167.1 232.0h1v1h-1zM159.8 230.3h1v1h-1zM168.9 213.1h1v1h-1zM165.6 212.0h1v1h-1zM161.5 217.4h1v1h-1zM169.9 219.4h1v1h-1zM165.6 197.8h1v1h-1zM160.1 198.3h1v1h-1zM159.7 202.2h1v1h-1zM164.5 203.2h1v1h-1zM166.8 191.1h1v1h-1zM159.9 192.7h1v1h-1zM161.9 195.8h1v1h-1zM159.6 189.0h1v1h-1zM160.9 188.6h1v1h-1zM161.8 183.1h1v1h-1zM162.4 180.0h1v1h-1zM168.0 175.3h1v1h-1zM168.9 183.4h1v1h-1zM161.4 179.6h1v1h-1zM159.5 182.6h1v1h-1zM159.0 177.2h1v1h-1zM162.8 177.9h1v1h-1zM159.6 177.2h1v1h-1zM159.9 184.4h1v1h-1zM164.8 161.1h1v1h-1zM168.5 159.2h1v1h-1zM162.6 163.7h1v1h-1zM165.3 157.6h1v1h-1zM166.9 160.2h1v1h-1zM169.0 163.4h1v1h-1zM159.5 151.1h1v1h-1zM162.0 149.4h1v1h-1zM159.5 145.9h1v1h-1zM164.2 150.4h1v1h-1zM169.1 153.1h1v1h-1zM161.1 147.2h1v1h-1zM166.1 134.4h1v1h-1zM161.6 134.6h1v1h-1zM164.5 141.3h1v1h-1zM164.5 135.3h1v1h-1zM162.4 138.4h1v1h-1zM159.2 133.5h1v1h-1zM168.3 132.8h1v1h-1zM160.1 132.6h1v1h-1zM163.3 131.5h1v1h-1zM163.8 131.2h1v1h-1zM165.8 117.3h1v1h-1zM161.2 114.5h1v1h-1zM160.4 114.4h1v1h-1zM160.1 116.1h1v1h-1zM162.4 115.1h1v1h-1zM161.5 119.9h1v1h-1zM163.7 116.4h1v1h-1zM170.0 116.5h1v1h-1zM165.8 114.7h1v1h-1zM161.5 116.0h1v1h-1zM168.8 109.5h1v1h-1zM165.4 114.2h1v1h-1zM160.3 114.2h1v1h-1zM169.2 109.8h1v1h-1zM164.9 108.3h1v1h-1zM167.9 105.0h1v1h-1zM164.1 99.1h1v1h-1zM168.6 98.1h1v1h-1zM162.8 98.9h1v1h-1zM161.7 103.9h1v1h-1zM169.7 97.9h1v1h-1zM164.5 102.0h1v1h-1zM160.3 91.9h1v1h-1zM160.9 91.2h1v1h-1zM160.1 92.7h1v1h-1zM168.8 92.0h1v1h-1zM159.2 86.1h1v1h-1zM169.2 88.0h1v1h-1zM166.4 79.3h1v1h-1zM166.4 80.0h1v1h-1zM162.8 84.0h1v1h-1zM159.0 76.2h1v1h-1zM176.0 292.9h1v1h-1zM179.7 292.1h1v1h-1zM179.3 288.5h1v1h-1zM171.4 288.4h1v1h-1zM171.8 284.3h1v1h-1zM180.3 277.5h1v1h-1zM178.6 284.1h1v1h-1zM179.7 267.8h1v1h-1zM172.4 265.6h1v1h-1zM176.6 266.1h1v1h-1zM172.6 274.9h1v1h-1zM177.2 273.2h1v1h-1zM175.0 268.5h1v1h-1zM176.4 251.4h1v1h-1zM179.7 251.7h1v1h-1zM171.4 251.4h1v1h-1zM172.0 254.0h1v1h-1zM175.2 259.8h1v1h-1zM173.1 257.0h1v1h-1zM174.7 253.6h1v1h-1zM173.6 255.5h1v1h-1zM178.7 254.1h1v1h-1zM179.4 250.5h1v1h-1zM174.4 242.0h1v1h-1zM176.3 247.4h1v1h-1zM170.6 240.2h1v1h-1zM175.7 237.9h1v1h-1zM174.4 237.8h1v1h-1zM176.6 231.0h1v1h-1zM171.9 209.7h1v1h-1zM173.7 212.9h1v1h-1zM174.8 219.8h1v1h-1zM170.4 216.3h1v1h-1zM180.4 209.3h1v1h-1zM173.6 213.8h1v1h-1zM170.5 215.0h1v1h-1zM180.2 220.4h1v1h-1zM179.6 197.1h1v1h-1zM172.0 206.7h1v1h-1zM171.2 204.9h1v1h-1zM178.9 186.5h1v1h-1zM170.9 190.7h1v1h-1zM178.3 190.2h1v1h-1zM172.8 193.4h1v1h-1zM177.4 187.1h1v1h-1zM178.8 190.6h1v1h-1zM174.0 189.6h1v1h-1zM174.6 176.8h1v1h-1zM170.9 176.8h1v1h-1zM174.4 176.8h1v1h-1zM176.1 181.2h1v1h-1zM177.4 180.9h1v1h-1zM179.0 181.3h1v1h-1zM175.2 175.8h1v1h-1zM171.7 172.7h1v1h-1zM180.4 174.2h1v1h-1zM179.5 144.0h1v1h-1zM172.1 144.4h1v1h-1zM174.4 146.4h1v1h-1zM174.6 146.2h1v1h-1zM174.5 134.0h1v1h-1zM180.0 136.6h1v1h-1zM175.9 141.1h1v1h-1zM179.1 128.8h1v1h-1zM174.1 130.6h1v1h-1zM179.8 126.9h1v1h-1zM170.5 122.3h1v1h-1zM174.6 116.5h1v1h-1zM170.8 115.2h1v1h-1zM174.3 121.6h1v1h-1zM174.0 116.2h1v1h-1zM170.8 113.3h1v1h-1zM173.4 108.4h1v1h-1zM170.6 98.7h1v1h-1zM175.0 105.9h1v1h-1zM178.0 102.4h1v1h-1zM174.4 97.5h1v1h-1zM176.5 97.5h1v1h-1zM171.4 90.2h1v1h-1zM172.5 93.9h1v1h-1zM173.0 89.6h1v1h-1zM171.3 78.4h1v1h-1zM171.3 84.6h1v1h-1zM171.5 83.0h1v1h-1zM178.9 76.0h1v1h-1zM181.2 277.7h1v1h-1zM190.2 281.2h1v1h-1zM190.6 277.1h1v1h-1zM188.4 290.7h1v1h-1zM181.0 284.2h1v1h-1zM185.2 275.1h1v1h-1zM183.0 271.4h1v1h-1zM190.3 263.3h1v1h-1zM181.8 261.9h1v1h-1zM181.1 263.3h1v1h-1zM186.7 275.6h1v1h-1zM184.0 266.7h1v1h-1zM188.3 258.5h1v1h-1zM187.7 259.4h1v1h-1zM180.6 255.4h1v1h-1zM188.8 254.2h1v1h-1zM180.5 261.0h1v1h-1zM180.8 256.8h1v1h-1zM185.1 238.7h1v1h-1zM184.7 244.4h1v1h-1zM183.4 247.7h1v1h-1zM190.3 244.0h1v1h-1zM185.8 239.7h1v1h-1zM187.2 223.5h1v1h-1zM188.8 224.0h1v1h-1zM186.3 221.7h1v1h-1zM180.7 214.0h1v1h-1zM181.7 216.0h1v1h-1zM185.1 220.4h1v1h-1zM184.4 209.5h1v1h-1zM182.3 198.5h1v1h-1zM184.1 200.3h1v1h-1zM182.5 204.2h1v1h-1zM186.9 199.0h1v1h-1zM182.5 207.0h1v1h-1zM183.3 193.3h1v1h-1zM183.0 195.2h1v1h-1zM186.1 193.3h1v1h-1zM183.6 190.3h1v1h-1zM186.5 175.6h1v1h-1zM188.9 179.9h1v1h-1zM183.0 183.2h1v1h-1zM181.1 182.9h1v1h-1zM184.7 184.6h1v1h-1zM181.7 174.0h1v1h-1zM189.8 170.6h1v1h-1zM188.4 167.2h1v1h-1zM189.8 165.2h1v1h-1zM189.3 165.5h1v1h-1zM183.2 172.8h1v1h-1zM190.0 174.0h1v1h-1zM182.3 169.0h1v1h-1zM185.7 158.9h1v1h-1zM189.4 158.3h1v1h-1zM184.5 154.8h1v1h-1zM188.2 154.1h1v1h-1zM184.5 162.9h1v1h-1zM190.1 136.6h1v1h-1zM189.4 133.7h1v1h-1zM189.4 125.8h1v1h-1zM181.4 123.0h1v1h-1zM184.9 130.5h1v1h-1zM187.8 124.8h1v1h-1zM188.5 131.9h1v1h-1zM188.1 115.4h1v1h-1zM184.8 118.5h1v1h-1zM183.7 120.8h1v1h-1zM185.8 115.1h1v1h-1zM182.7 115.1h1v1h-1zM183.1 107.9h1v1h-1zM186.8 109.5h1v1h-1zM181.9 107.2h1v1h-1zM189.0 99.7h1v1h-1zM185.5 95.2h1v1h-1zM181.6 89.6h1v1h-1zM190.0 85.8h1v1h-1zM186.0 77.7h1v1h-1zM200.9 284.1h1v1h-1zM191.4 279.1h1v1h-1zM196.4 287.3h1v1h-1zM199.1 293.0h1v1h-1zM199.4 285.3h1v1h-1zM194.0 281.2h1v1h-1zM196.0 287.0h1v1h-1zM193.3 265.2h1v1h-1zM196.7 269.7h1v1h-1zM197.0 258.3h1v1h-1zM200.4 258.3h1v1h-1zM198.6 250.7h1v1h-1zM198.5 253.3h1v1h-1zM194.3 251.6h1v1h-1zM194.4 243.8h1v1h-1zM195.1 245.3h1v1h-1zM194.9 238.8h1v1h-1zM191.9 227.2h1v1h-1zM197.4 232.0h1v1h-1zM196.4 231.2h1v1h-1zM197.5 213.3h1v1h-1zM196.9 220.9h1v1h-1zM195.6 220.1h1v1h-1zM199.8 211.6h1v1h-1zM199.6 206.0h1v1h-1zM196.5 201.3h1v1h-1zM199.3 199.2h1v1h-1zM199.0 185.8h1v1h-1zM193.4 190.1h1v1h-1zM194.6 181.5h1v1h-1zM200.1 184.8h1v1h-1zM200.5 182.5h1v1h-1zM191.1 170.1h1v1h-1zM199.7 172.5h1v1h-1zM193.8 154.2h1v1h-1zM195.2 154.4h1v1h-1zM195.4 160.1h1v1h-1zM191.7 163.3h1v1h-1zM192.7 152.6h1v1h-1zM192.6 150.5h1v1h-1zM192.1 124.5h1v1h-1zM193.2 125.3h1v1h-1zM199.5 116.8h1v1h-1zM200.5 120.0h1v1h-1zM200.3 107.9h1v1h-1zM197.7 103.4h1v1h-1zM197.9 105.3h1v1h-1zM200.4 99.3h1v1h-1zM192.6 105.0h1v1h-1zM191.2 92.5h1v1h-1zM191.8 91.9h1v1h-1zM196.7 87.7h1v1h-1zM199.7 75.1h1v1h-1zM199.0 80.2h1v1h-1zM197.5 74.9h1v1h-1zM207.3 292.2h1v1h-1zM209.0 288.2h1v1h-1zM206.8 287.5h1v1h-1zM209.1 291.5h1v1h-1zM203.4 289.7h1v1h-1zM204.1 279.4h1v1h-1zM201.6 286.2h1v1h-1zM211.4 292.3h1v1h-1zM201.1 289.1h1v1h-1zM205.2 266.7h1v1h-1zM211.0 267.0h1v1h-1zM209.1 269.8h1v1h-1zM201.6 263.2h1v1h-1zM206.9 266.3h1v1h-1zM204.4 266.9h1v1h-1zM206.6 261.8h1v1h-1zM204.3 266.2h1v1h-1zM203.5 268.7h1v1h-1zM208.2 258.5h1v1h-1zM207.4 255.8h1v1h-1zM210.5 256.7h1v1h-1zM209.0 260.2h1v1h-1zM206.0 260.8h1v1h-1zM209.1 258.3h1v1h-1zM206.8 248.6h1v1h-1zM209.7 253.8h1v1h-1zM206.3 249.2h1v1h-1zM209.9 261.3h1v1h-1zM207.1 256.7h1v1h-1zM208.2 253.3h1v1h-1zM207.8 244.1h1v1h-1zM202.7 247.0h1v1h-1zM202.5 245.0h1v1h-1zM208.6 247.5h1v1h-1zM209.5 235.2h1v1h-1zM203.1 245.7h1v1h-1zM205.8 247.3h1v1h-1zM203.5 238.4h1v1h-1zM210.5 238.6h1v1h-1zM210.5 247.8h1v1h-1zM203.6 221.8h1v1h-1zM210.8 223.9h1v1h-1zM201.4 231.0h1v1h-1zM210.9 227.6h1v1h-1zM210.3 227.1h1v1h-1zM207.7 218.4h1v1h-1zM201.2 218.0h1v1h-1zM209.8 219.7h1v1h-1zM205.6 216.2h1v1h-1zM209.9 202.6h1v1h-1zM211.1 207.2h1v1h-1zM210.0 198.0h1v1h-1zM209.1 204.7h1v1h-1zM206.8 200.7h1v1h-1zM205.4 186.2h1v1h-1zM202.1 191.1h1v1h-1zM202.4 186.3h1v1h-1zM203.4 179.9h1v1h-1zM203.7 181.9h1v1h-1zM201.2 180.2h1v1h-1zM203.4 178.6h1v1h-1zM201.6 178.4h1v1h-1zM209.2 183.2h1v1h-1zM204.7 182.7h1v1h-1zM208.6 167.4h1v1h-1zM211.2 175.0h1v1h-1zM211.1 172.8h1v1h-1zM204.5 168.6h1v1h-1zM209.4 169.2h1v1h-1zM203.7 174.9h1v1h-1zM209.7 164.8h1v1h-1zM206.5 164.0h1v1h-1zM203.9 158.0h1v1h-1zM209.0 156.1h1v1h-1zM205.6 163.9h1v1h-1zM209.8 162.0h1v1h-1zM207.4 158.0h1v1h-1zM209.4 144.5h1v1h-1zM203.2 151.5h1v1h-1zM205.8 145.5h1v1h-1zM204.3 136.5h1v1h-1zM210.7 141.4h1v1h-1zM206.2 135.1h1v1h-1zM207.7 134.1h1v1h-1zM201.1 136.1h1v1h-1zM208.9 135.6h1v1h-1zM208.2 119.9h1v1h-1zM201.0 120.7h1v1h-1zM203.3 115.3h1v1h-1zM202.4 120.1h1v1h-1zM209.8 114.7h1v1h-1zM201.5 111.1h1v1h-1zM206.4 109.2h1v1h-1zM209.7 107.4h1v1h-1zM207.3 104.9h1v1h-1zM204.2 105.2h1v1h-1zM207.8 99.8h1v1h-1zM202.3 102.1h1v1h-1zM211.4 99.9h1v1h-1zM203.6 93.3h1v1h-1zM207.6 92.9h1v1h-1zM201.4 94.6h1v1h-1zM202.4 93.3h1v1h-1zM201.3 85.3h1v1h-1zM211.2 89.1h1v1h-1zM208.1 79.4h1v1h-1zM204.0 82.0h1v1h-1zM219.7 289.4h1v1h-1zM213.5 280.6h1v1h-1zM217.7 282.9h1v1h-1zM220.4 286.2h1v1h-1zM214.5 288.8h1v1h-1zM215.9 287.8h1v1h-1zM214.8 285.3h1v1h-1zM213.8 267.0h1v1h-1zM214.6 264.9h1v1h-1zM212.5 273.4h1v1h-1zM214.7 272.0h1v1h-1zM218.0 271.2h1v1h-1zM216.8 272.1h1v1h-1zM213.0 275.2h1v1h-1zM214.9 255.5h1v1h-1zM219.6 259.7h1v1h-1zM212.6 255.6h1v1h-1zM212.5 247.9h1v1h-1zM216.9 249.4h1v1h-1zM220.0 251.0h1v1h-1zM214.4 249.9h1v1h-1zM219.4 249.9h1v1h-1zM220.1 259.9h1v1h-1zM217.7 237.9h1v1h-1zM217.5 245.2h1v1h-1zM214.4 246.2h1v1h-1zM219.6 245.5h1v1h-1zM216.7 227.8h1v1h-1zM217.2 229.3h1v1h-1zM217.8 226.9h1v1h-1zM218.8 225.9h1v1h-1zM216.8 211.1h1v1h-1zM218.9 216.8h1v1h-1zM213.7 211.8h1v1h-1zM218.0 209.9h1v1h-1zM215.7 198.5h1v1h-1zM214.7 201.8h1v1h-1zM219.8 197.2h1v1h-1zM215.2 208.1h1v1h-1zM220.3 189.6h1v1h-1zM219.6 190.3h1v1h-1zM214.4 193.7h1v1h-1zM212.9 188.9h1v1h-1zM217.9 183.4h1v1h-1zM217.9 182.3h1v1h-1zM217.8 175.4h1v1h-1zM212.6 182.0h1v1h-1zM216.8 179.8h1v1h-1zM212.8 179.3h1v1h-1zM214.4 171.7h1v1h-1zM211.8 165.8h1v1h-1zM215.2 169.4h1v1h-1zM216.8 174.3h1v1h-1zM219.1 165.8h1v1h-1zM220.2 157.2h1v1h-1zM217.5 164.2h1v1h-1zM218.5 148.7h1v1h-1zM212.7 147.9h1v1h-1zM219.1 149.2h1v1h-1zM218.0 137.5h1v1h-1zM214.3 137.4h1v1h-1zM212.5 136.8h1v1h-1zM218.7 132.2h1v1h-1zM215.1 127.8h1v1h-1zM214.2 128.3h1v1h-1zM213.5 126.3h1v1h-1zM213.1 125.0h1v1h-1zM214.6 125.2h1v1h-1zM220.1 113.7h1v1h-1zM214.7 111.8h1v1h-1zM213.6 110.9h1v1h-1zM216.2 112.1h1v1h-1zM211.6 109.3h1v1h-1zM217.6 106.4h1v1h-1zM212.2 100.3h1v1h-1zM216.7 98.3h1v1h-1zM213.1 104.2h1v1h-1zM216.5 92.9h1v1h-1zM218.3 90.4h1v1h-1zM213.8 85.5h1v1h-1zM218.5 89.2h1v1h-1zM213.4 88.5h1v1h-1zM213.4 82.6h1v1h-1zM216.7 73.9h1v1h-1zM225.3 282.6h1v1h-1zM226.1 291.0h1v1h-1zM228.5 282.8h1v1h-1zM225.6 279.9h1v1h-1zM221.3 265.7h1v1h-1zM227.2 272.7h1v1h-1zM225.1 261.1h1v1h-1zM224.0 248.3h1v1h-1zM222.5 258.0h1v1h-1zM223.5 261.0h1v1h-1zM224.7 256.8h1v1h-1zM225.1 236.6h1v1h-1zM225.7 235.7h1v1h-1zM228.0 245.8h1v1h-1zM225.2 238.8h1v1h-1zM228.5 225.4h1v1h-1zM220.7 224.6h1v1h-1zM224.8 234.5h1v1h-1zM228.8 233.1h1v1h-1zM222.6 228.5h1v1h-1zM227.1 215.3h1v1h-1zM227.1 218.9h1v1h-1zM224.9 200.4h1v1h-1zM221.9 177.2h1v1h-1zM227.7 181.9h1v1h-1zM220.9 185.5h1v1h-1zM224.9 181.0h1v1h-1zM227.5 166.8h1v1h-1zM223.2 173.8h1v1h-1zM226.0 164.7h1v1h-1zM224.7 175.2h1v1h-1zM224.3 158.6h1v1h-1zM222.8 154.0h1v1h-1zM225.7 158.1h1v1h-1zM222.5 150.4h1v1h-1zM223.3 148.6h1v1h-1zM225.9 140.9h1v1h-1zM228.1 138.9h1v1h-1zM223.2 139.2h1v1h-1zM227.8 131.6h1v1h-1zM221.8 123.5h1v1h-1zM226.8 116.2h1v1h-1zM223.9 114.3h1v1h-1zM223.8 118.0h1v1h-1zM226.5 101.1h1v1h-1zM223.9 96.9h1v1h-1zM221.5 97.6h1v1h-1zM224.7 96.6h1v1h-1zM222.8 88.0h1v1h-1zM231.7 280.0h1v1h-1zM236.8 277.7h1v1h-1zM234.4 279.6h1v1h-1zM232.8 292.7h1v1h-1zM235.5 290.9h1v1h-1zM236.5 285.6h1v1h-1zM232.9 285.5h1v1h-1zM234.9 278.2h1v1h-1zM234.3 283.2h1v1h-1zM232.8 278.2h1v1h-1zM232.0 277.3h1v1h-1zM230.5 277.5h1v1h-1zM235.8 277.7h1v1h-1zM229.9 285.0h1v1h-1zM232.3 275.6h1v1h-1zM235.9 270.8h1v1h-1zM229.3 272.6h1v1h-1zM235.1 265.9h1v1h-1zM236.5 266.9h1v1h-1zM233.0 273.2h1v1h-1zM231.1 271.7h1v1h-1zM229.1 265.1h1v1h-1zM230.9 269.4h1v1h-1zM230.6 276.4h1v1h-1zM234.8 272.2h1v1h-1zM234.0 260.2h1v1h-1zM229.5 260.2h1v1h-1zM230.3 260.5h1v1h-1zM229.6 257.3h1v1h-1zM229.6 254.8h1v1h-1zM236.7 258.8h1v1h-1zM230.3 257.6h1v1h-1zM235.8 255.7h1v1h-1zM234.3 258.1h1v1h-1zM236.1 251.6h1v1h-1zM236.1 248.3h1v1h-1zM233.1 255.0h1v1h-1zM233.6 258.7h1v1h-1zM232.7 241.7h1v1h-1zM231.4 247.8h1v1h-1zM230.8 240.2h1v1h-1zM231.4 242.6h1v1h-1zM233.7 246.1h1v1h-1zM231.8 229.6h1v1h-1zM231.0 221.7h1v1h-1zM230.5 231.0h1v1h-1zM234.3 222.5h1v1h-1zM236.8 216.8h1v1h-1zM232.9 213.4h1v1h-1zM231.0 209.7h1v1h-1zM230.7 211.9h1v1h-1zM229.6 215.6h1v1h-1zM229.1 220.4h1v1h-1zM232.2 218.0h1v1h-1zM231.3 211.3h1v1h-1zM230.0 213.0h1v1h-1zM228.9 201.5h1v1h-1zM234.2 203.2h1v1h-1zM231.4 205.2h1v1h-1zM230.6 201.7h1v1h-1zM230.5 196.2h1v1h-1zM231.2 186.3h1v1h-1zM231.1 194.7h1v1h-1zM234.8 188.6h1v1h-1zM233.9 196.4h1v1h-1zM231.4 182.5h1v1h-1zM231.8 176.0h1v1h-1zM233.1 176.1h1v1h-1zM232.7 175.9h1v1h-1zM231.1 177.5h1v1h-1zM233.8 168.8h1v1h-1zM236.7 174.5h1v1h-1zM230.9 168.8h1v1h-1zM232.3 168.9h1v1h-1zM231.0 173.2h1v1h-1zM234.6 175.1h1v1h-1zM232.8 164.8h1v1h-1zM231.4 158.4h1v1h-1zM231.1 161.9h1v1h-1zM233.8 162.7h1v1h-1zM234.9 161.8h1v1h-1zM234.5 151.8h1v1h-1zM229.4 148.2h1v1h-1zM235.4 144.3h1v1h-1zM234.4 150.7h1v1h-1zM234.4 148.5h1v1h-1zM231.7 143.6h1v1h-1zM236.9 134.6h1v1h-1zM230.3 143.0h1v1h-1zM229.4 138.2h1v1h-1zM236.1 137.3h1v1h-1zM230.2 127.2h1v1h-1zM233.7 127.2h1v1h-1zM231.1 131.5h1v1h-1zM232.1 126.8h1v1h-1zM231.8 130.1h1v1h-1zM233.5 124.4h1v1h-1zM233.1 115.7h1v1h-1zM232.2 115.7h1v1h-1zM230.0 118.7h1v1h-1zM229.9 118.9h1v1h-1zM231.2 109.4h1v1h-1zM234.5 112.0h1v1h-1zM232.5 94.2h1v1h-1zM229.7 93.3h1v1h-1zM230.9 93.8h1v1h-1zM231.4 96.5h1v1h-1zM233.3 88.0h1v1h-1zM232.0 82.4h1v1h-1zM232.1 78.6h1v1h-1zM236.4 71.1h1v1h-1zM244.1 281.1h1v1h-1zM244.6 287.4h1v1h-1zM237.5 281.6h1v1h-1zM242.6 293.1h1v1h-1zM237.8 282.6h1v1h-1zM244.4 292.4h1v1h-1zM244.0 276.6h1v1h-1zM240.3 268.7h1v1h-1zM241.7 269.6h1v1h-1zM238.9 262.4h1v1h-1zM240.3 270.2h1v1h-1zM243.0 271.0h1v1h-1zM238.9 272.5h1v1h-1zM241.7 248.0h1v1h-1zM243.0 254.0h1v1h-1zM238.5 249.2h1v1h-1zM239.1 253.8h1v1h-1zM243.8 255.9h1v1h-1zM241.5 260.9h1v1h-1zM237.4 252.0h1v1h-1zM238.0 234.7h1v1h-1zM239.8 243.7h1v1h-1zM240.4 238.8h1v1h-1zM239.7 242.9h1v1h-1zM244.2 243.2h1v1h-1zM238.7 245.4h1v1h-1zM244.0 238.3h1v1h-1zM243.7 230.0h1v1h-1zM243.3 234.1h1v1h-1zM238.0 209.5h1v1h-1zM239.3 220.4h1v1h-1zM241.7 220.7h1v1h-1zM240.4 211.0h1v1h-1zM238.7 215.2h1v1h-1zM241.5 203.4h1v1h-1zM241.9 203.9h1v1h-1zM239.2 198.8h1v1h-1zM240.4 194.9h1v1h-1zM241.3 191.4h1v1h-1zM241.8 195.9h1v1h-1zM237.4 188.3h1v1h-1zM238.5 192.0h1v1h-1zM238.4 191.7h1v1h-1zM240.6 192.3h1v1h-1zM244.0 180.4h1v1h-1zM243.1 176.9h1v1h-1zM242.1 176.5h1v1h-1zM242.2 179.4h1v1h-1zM239.8 177.2h1v1h-1zM241.2 165.4h1v1h-1zM237.6 170.0h1v1h-1zM241.5 168.6h1v1h-1zM243.7 173.6h1v1h-1zM242.5 166.7h1v1h-1zM237.0 155.8h1v1h-1zM239.2 158.8h1v1h-1zM237.9 158.2h1v1h-1zM238.0 158.6h1v1h-1zM240.5 148.6h1v1h-1zM239.9 153.5h1v1h-1zM244.3 133.7h1v1h-1zM237.6 136.3h1v1h-1zM238.9 135.4h1v1h-1zM243.6 133.7h1v1h-1zM242.2 127.2h1v1h-1zM238.9 133.2h1v1h-1zM238.1 132.6h1v1h-1zM238.7 124.3h1v1h-1zM243.3 132.3h1v1h-1zM238.8 132.4h1v1h-1zM238.6 124.1h1v1h-1zM239.9 120.6h1v1h-1zM237.5 120.3h1v1h-1zM244.3 117.9h1v1h-1zM244.4 114.0h1v1h-1zM240.3 108.5h1v1h-1zM238.8 106.0h1v1h-1zM238.2 109.4h1v1h-1zM239.0 100.7h1v1h-1zM240.3 99.4h1v1h-1zM240.0 104.4h1v1h-1zM241.7 100.7h1v1h-1zM244.1 105.0h1v1h-1zM238.6 85.4h1v1h-1zM243.5 86.7h1v1h-1zM238.3 74.3h1v1h-1zM240.7 77.6h1v1h-1zM249.6 286.5h1v1h-1zM247.4 291.3h1v1h-1zM245.7 292.3h1v1h-1zM245.6 279.7h1v1h-1zM249.1 281.0h1v1h-1zM247.6 268.3h1v1h-1zM249.0 260.5h1v1h-1zM248.4 253.9h1v1h-1zM248.0 248.7h1v1h-1zM246.9 255.2h1v1h-1zM249.9 248.7h1v1h-1zM248.4 259.1h1v1h-1zM248.8 241.0h1v1h-1zM247.8 245.9h1v1h-1zM249.7 222.4h1v1h-1zM249.6 226.3h1v1h-1zM247.2 229.9h1v1h-1zM245.0 225.2h1v1h-1zM247.9 219.3h1v1h-1zM246.4 217.3h1v1h-1zM249.1 214.3h1v1h-1zM246.6 201.5h1v1h-1zM249.1 191.0h1v1h-1zM248.0 194.6h1v1h-1zM246.6 178.7h1v1h-1zM249.0 183.6h1v1h-1zM249.1 180.3h1v1h-1zM248.1 171.9h1v1h-1zM245.6 172.5h1v1h-1zM249.3 155.2h1v1h-1zM246.5 160.3h1v1h-1zM247.4 162.3h1v1h-1zM249.6 151.7h1v1h-1zM249.1 139.3h1v1h-1zM246.9 135.4h1v1h-1zM247.8 133.3h1v1h-1zM245.0 130.8h1v1h-1zM245.1 129.7h1v1h-1zM247.0 130.9h1v1h-1zM246.2 123.7h1v1h-1zM247.2 116.5h1v1h-1zM247.0 118.7h1v1h-1zM245.2 114.1h1v1h-1zM248.5 111.4h1v1h-1zM245.3 98.1h1v1h-1zM246.9 98.6h1v1h-1zM248.0 95.7h1v1h-1zM246.3 84.7h1v1h-1zM247.8 80.5h1v1h-1zM262.6 289.8h1v1h-1zM259.8 276.4h1v1h-1zM252.9 261.4h1v1h-1zM256.3 261.4h1v1h-1zM252.0 257.5h1v1h-1zM261.9 250.0h1v1h-1zM252.8 261.3h1v1h-1zM259.5 261.1h1v1h-1zM259.6 259.5h1v1h-1zM258.7 248.1h1v1h-1zM256.5 241.5h1v1h-1zM262.8 246.4h1v1h-1zM262.8 245.6h1v1h-1zM260.0 233.3h1v1h-1zM261.0 227.1h1v1h-1zM261.9 221.7h1v1h-1zM259.2 211.6h1v1h-1zM252.0 197.4h1v1h-1zM259.2 180.2h1v1h-1zM262.3 185.5h1v1h-1zM251.5 178.4h1v1h-1zM251.7 173.6h1v1h-1zM259.3 174.9h1v1h-1zM262.4 171.3h1v1h-1zM257.0 168.2h1v1h-1zM254.4 166.6h1v1h-1zM253.4 160.1h1v1h-1zM263.0 146.0h1v1h-1zM256.1 150.5h1v1h-1zM260.9 138.0h1v1h-1zM251.9 126.2h1v1h-1zM261.4 125.0h1v1h-1zM254.9 128.3h1v1h-1zM254.4 123.0h1v1h-1zM256.9 124.9h1v1h-1zM250.8 119.9h1v1h-1zM259.6 120.4h1v1h-1zM264.3 108.6h1v1h-1zM251.1 100.3h1v1h-1zM261.7 102.3h1v1h-1zM251.1 97.3h1v1h-1zM153.0 117.4h1v1h-1zM57.7 116.8h1v1h-1zM170.0 116.1h1v1h-1zM117.2 116.9h1v1h-1zM63.2 116.7h1v1h-1zM88.1 116.5h1v1h-1zM100.0 117.3h1v1h-1zM108.9 116.2h1v1h-1zM186.1 116.9h1v1h-1zM97.4 116.2h1v1h-1zM132.3 116.2h1v1h-1zM94.6 117.3h1v1h-1zM113.6 116.6h1v1h-1zM146.6 116.6h1v1h-1zM204.8 117.7h1v1h-1zM47.0 117.0h1v1h-1zM90.1 117.6h1v1h-1zM229.7 115.9h1v1h-1zM160.0 270.2h1v1h-1zM124.3 269.9h1v1h-1zM80.1 270.0h1v1h-1zM151.0 269.7h1v1h-1zM41.8 270.6h1v1h-1zM46.1 269.9h1v1h-1zM146.7 271.2h1v1h-1zM87.2 269.6h1v1h-1zM90.7 270.7h1v1h-1zM249.5 269.8h1v1h-1zM109.9 269.7h1v1h-1zM47.5 270.7h1v1h-1zM211.1 270.8h1v1h-1zM141.5 270.6h1v1h-1zM221.7 270.3h1v1h-1zM241.4 269.9h1v1h-1zM112.0 169.4h1v1h-1zM236.1 169.3h1v1h-1zM210.4 169.6h1v1h-1zM214.4 169.6h1v1h-1zM81.8 168.1h1v1h-1zM237.8 169.3h1v1h-1zM133.8 168.8h1v1h-1zM199.6 168.1h1v1h-1zM198.7 168.2h1v1h-1zM248.3 168.0h1v1h-1zM185.8 168.4h1v1h-1zM229.2 168.7h1v1h-1zM213.6 168.5h1v1h-1zM87.0 169.0h1v1h-1zM183.2 169.5h1v1h-1zM203.1 168.8h1v1h-1zM53.2 169.1h1v1h-1zM87.0 169.0h1v1h-1zM126.6 168.4h1v1h-1zM229.3 169.1h1v1h-1zM90.3 169.5h1v1h-1zM159.5 178.8h1v1h-1zM196.7 178.1h1v1h-1zM94.0 178.6h1v1h-1zM138.0 178.9h1v1h-1zM71.1 178.1h1v1h-1zM179.2 178.2h1v1h-1zM145.2 177.5h1v1h-1zM128.7 178.7h1v1h-1zM204.1 178.6h1v1h-1zM93.8 178.6h1v1h-1zM177.4 177.6h1v1h-1zM53.1 179.1h1v1h-1zM247.3 178.5h1v1h-1zM174.1 177.4h1v1h-1zM235.8 178.3h1v1h-1zM172.3 177.5h1v1h-1zM233.0 177.9h1v1h-1zM65.3 178.4h1v1h-1zM99.1 124.1h1v1h-1zM153.4 124.8h1v1h-1zM70.4 124.2h1v1h-1zM98.9 123.4h1v1h-1zM222.7 124.6h1v1h-1zM122.9 123.6h1v1h-1zM89.3 125.0h1v1h-1zM92.4 124.1h1v1h-1zM84.2 124.6h1v1h-1zM171.6 123.6h1v1h-1zM87.2 125.0h1v1h-1zM119.6 123.9h1v1h-1zM229.1 123.8h1v1h-1zM74.6 124.4h1v1h-1zM105.0 90.7h1v1h-1zM195.7 90.7h1v1h-1zM177.6 90.4h1v1h-1zM102.0 90.8h1v1h-1zM61.0 90.6h1v1h-1zM152.5 90.9h1v1h-1zM81.6 89.7h1v1h-1zM58.7 89.9h1v1h-1zM96.9 89.8h1v1h-1zM59.1 90.5h1v1h-1zM207.2 89.7h1v1h-1zM106.0 90.6h1v1h-1zM106.2 89.5h1v1h-1zM229.0 89.9h1v1h-1zM162.0 91.2h1v1h-1zM202.0 89.7h1v1h-1zM193.4 89.7h1v1h-1zM132.2 89.6h1v1h-1zM151.9 89.6h1v1h-1zM167.4 90.5h1v1h-1zM232.6 90.6h1v1h-1zM210.6 89.6h1v1h-1zM50.5 85.5h1v1h-1zM84.0 85.4h1v1h-1zM244.1 85.6h1v1h-1zM216.7 87.1h1v1h-1zM64.1 87.1h1v1h-1zM97.0 86.2h1v1h-1zM178.0 86.9h1v1h-1zM40.0 85.8h1v1h-1zM50.2 86.4h1v1h-1zM237.7 86.2h1v1h-1zM110.0 85.5h1v1h-1zM218.3 86.0h1v1h-1zM129.3 86.8h1v1h-1zM106.3 86.1h1v1h-1zM170.1 86.2h1v1h-1zM213.4 85.4h1v1h-1zM90.2 85.7h1v1h-1zM189.0 87.0h1v1h-1zM215.7 86.2h1v1h-1zM133.0 86.0h1v1h-1zM179.3 173.0h1v1h-1zM67.6 172.8h1v1h-1zM88.4 173.6h1v1h-1zM211.9 173.5h1v1h-1zM147.0 171.9h1v1h-1zM74.7 172.0h1v1h-1zM147.4 173.5h1v1h-1zM149.9 172.6h1v1h-1zM215.9 172.7h1v1h-1zM93.9 172.4h1v1h-1zM188.0 173.1h1v1h-1zM178.3 172.1h1v1h-1zM215.4 173.5h1v1h-1zM204.0 172.8h1v1h-1zM87.2 173.5h1v1h-1zM50.6 172.5h1v1h-1zM250.7 173.3h1v1h-1zM89.0 173.4h1v1h-1zM137.0 173.3h1v1h-1zM124.3 172.4h1v1h-1zM112.5 188.7h1v1h-1zM221.9 189.6h1v1h-1zM201.3 188.6h1v1h-1zM87.1 188.5h1v1h-1zM66.2 188.8h1v1h-1zM122.1 189.1h1v1h-1zM203.4 189.9h1v1h-1zM168.8 188.2h1v1h-1zM110.5 188.2h1v1h-1zM120.9 188.3h1v1h-1zM200.7 189.5h1v1h-1zM183.6 189.0h1v1h-1zM131.8 189.6h1v1h-1zM81.4 188.2h1v1h-1zM134.5 188.2h1v1h-1zM135.6 190.0h1v1h-1zM198.7 188.4h1v1h-1zM210.2 189.1h1v1h-1zM179.2 188.9h1v1h-1zM197.5 189.4h1v1h-1zM221.7 188.7h1v1h-1zM175.0 247.9h1v1h-1zM175.2 248.9h1v1h-1zM175.8 248.8h1v1h-1zM216.4 249.4h1v1h-1zM74.8 248.6h1v1h-1zM75.1 248.5h1v1h-1zM211.9 248.3h1v1h-1zM154.0 247.9h1v1h-1zM244.1 249.3h1v1h-1zM130.7 249.5h1v1h-1zM58.0 248.0h1v1h-1zM62.4 247.9h1v1h-1zM218.7 248.3h1v1h-1zM140.2 249.4h1v1h-1zM199.7 248.3h1v1h-1zM41.6 249.0h1v1h-1zM187.5 248.7h1v1h-1zM160.0 221.0h1v1h-1zM253.3 220.4h1v1h-1zM72.7 220.3h1v1h-1zM238.1 219.7h1v1h-1zM76.7 220.7h1v1h-1zM231.7 219.6h1v1h-1zM248.9 219.9h1v1h-1zM109.2 220.3h1v1h-1zM164.8 219.6h1v1h-1zM206.1 220.3h1v1h-1zM61.6 220.1h1v1h-1zM248.7 219.5h1v1h-1zM239.4 219.4h1v1h-1zM47.4 220.9h1v1h-1zM58.5 219.5h1v1h-1zM95.7 220.2h1v1h-1zM134.8 221.0h1v1h-1zM154.9 221.1h1v1h-1zM194.6 220.1h1v1h-1zM91.2 219.5h1v1h-1zM220.2 220.1h1v1h-1zM209.2 114.3h1v1h-1zM211.3 114.6h1v1h-1zM133.5 113.6h1v1h-1zM60.8 113.6h1v1h-1zM143.8 115.1h1v1h-1zM179.1 114.4h1v1h-1zM125.6 114.1h1v1h-1zM74.5 114.4h1v1h-1zM115.5 114.5h1v1h-1zM140.8 114.9h1v1h-1zM157.9 113.8h1v1h-1zM216.2 114.4h1v1h-1zM206.2 113.9h1v1h-1zM68.8 114.3h1v1h-1zM211.4 113.7h1v1h-1zM89.2 115.1h1v1h-1zM204.8 210.3h1v1h-1zM87.0 210.3h1v1h-1zM96.5 208.6h1v1h-1zM152.5 209.2h1v1h-1zM79.2 208.7h1v1h-1zM177.6 208.9h1v1h-1zM191.6 209.3h1v1h-1zM246.4 209.7h1v1h-1zM43.8 209.6h1v1h-1zM86.8 209.4h1v1h-1zM151.2 209.3h1v1h-1zM58.1 209.3h1v1h-1zM171.6 210.5h1v1h-1zM237.4 210.8h1v1h-1zM139.2 210.0h1v1h-1zM257.4 210.1h1v1h-1zM50.1 210.1h1v1h-1zM85.3 210.8h1v1h-1zM228.7 209.7h1v1h-1zM152.4 209.5h1v1h-1zM248.8 136.8h1v1h-1zM91.5 136.7h1v1h-1zM207.1 137.3h1v1h-1zM87.3 136.7h1v1h-1zM105.4 138.1h1v1h-1zM163.3 138.3h1v1h-1zM56.8 137.3h1v1h-1zM67.3 136.8h1v1h-1zM47.4 137.1h1v1h-1zM54.3 138.3h1v1h-1zM240.1 137.6h1v1h-1zM95.0 138.0h1v1h-1zM78.7 137.5h1v1h-1zM155.9 136.6h1v1h-1zM138.4 137.5h1v1h-1zM165.8 137.9h1v1h-1zM176.2 137.1h1v1h-1zM85.2 137.4h1v1h-1zM82.1 235.2h1v1h-1zM149.3 236.4h1v1h-1zM69.5 236.1h1v1h-1zM216.1 234.8h1v1h-1zM151.4 235.9h1v1h-1zM200.0 236.5h1v1h-1zM125.5 235.1h1v1h-1zM55.4 235.9h1v1h-1zM60.3 236.0h1v1h-1zM55.1 235.7h1v1h-1zM186.0 234.8h1v1h-1zM120.6 234.8h1v1h-1zM46.7 235.4h1v1h-1zM229.3 236.0h1v1h-1zM202.3 85.0h1v1h-1zM201.2 182.8h1v1h-1zM202.1 86.7h1v1h-1zM202.4 93.4h1v1h-1zM202.4 124.4h1v1h-1zM201.9 169.4h1v1h-1zM193.8 257.2h1v1h-1zM194.0 223.3h1v1h-1zM192.5 215.2h1v1h-1zM193.8 107.3h1v1h-1zM193.4 111.4h1v1h-1zM193.2 285.6h1v1h-1zM193.8 257.4h1v1h-1zM193.7 284.7h1v1h-1zM193.0 153.9h1v1h-1zM193.8 170.1h1v1h-1zM193.9 196.8h1v1h-1zM192.7 288.2h1v1h-1zM192.9 190.5h1v1h-1zM193.4 107.4h1v1h-1zM193.2 169.9h1v1h-1zM193.1 92.1h1v1h-1zM193.6 280.4h1v1h-1zM192.8 162.3h1v1h-1zM138.8 97.0h1v1h-1zM138.8 234.5h1v1h-1zM138.0 151.2h1v1h-1zM137.6 161.8h1v1h-1zM137.9 238.4h1v1h-1zM139.4 163.5h1v1h-1zM138.1 138.8h1v1h-1zM138.1 150.6h1v1h-1zM138.2 289.4h1v1h-1zM138.2 175.8h1v1h-1zM138.9 92.7h1v1h-1zM137.8 247.3h1v1h-1zM139.2 205.0h1v1h-1zM139.0 216.1h1v1h-1zM138.6 183.1h1v1h-1zM139.1 207.5h1v1h-1zM139.3 274.3h1v1h-1zM138.1 158.7h1v1h-1zM138.3 254.5h1v1h-1zM139.1 173.1h1v1h-1zM82.0 88.7h1v1h-1zM81.7 193.7h1v1h-1zM81.7 94.7h1v1h-1zM81.9 243.2h1v1h-1zM81.3 222.9h1v1h-1zM82.3 167.9h1v1h-1zM81.8 166.8h1v1h-1zM80.8 90.3h1v1h-1zM82.2 224.0h1v1h-1zM81.6 108.6h1v1h-1zM81.3 290.0h1v1h-1zM81.8 152.4h1v1h-1zM80.9 168.6h1v1h-1zM81.7 233.7h1v1h-1zM81.2 160.7h1v1h-1zM146.2 236.2h1v1h-1zM145.8 117.4h1v1h-1zM145.8 117.0h1v1h-1zM145.2 105.8h1v1h-1zM144.9 105.3h1v1h-1zM145.6 134.5h1v1h-1zM146.1 248.6h1v1h-1zM146.1 97.6h1v1h-1zM146.1 102.7h1v1h-1zM146.1 238.2h1v1h-1zM145.4 282.5h1v1h-1zM145.8 179.0h1v1h-1zM146.0 271.3h1v1h-1zM145.7 227.1h1v1h-1zM144.9 159.8h1v1h-1zM145.9 228.2h1v1h-1zM146.3 274.0h1v1h-1zM145.6 287.4h1v1h-1zM146.4 251.3h1v1h-1zM144.8 163.7h1v1h-1zM144.8 137.0h1v1h-1zM145.0 71.1h1v1h-1zM145.8 213.7h1v1h-1zM146.1 172.7h1v1h-1zM145.6 130.2h1v1h-1zM146.0 244.1h1v1h-1zM144.8 244.1h1v1h-1zM198.0 268.6h1v1h-1zM197.0 92.9h1v1h-1zM197.6 215.3h1v1h-1zM197.2 155.2h1v1h-1zM197.3 227.8h1v1h-1zM197.1 145.5h1v1h-1zM197.9 210.3h1v1h-1zM197.7 254.9h1v1h-1zM196.8 114.4h1v1h-1zM197.3 221.9h1v1h-1zM196.8 227.4h1v1h-1zM198.2 106.5h1v1h-1zM198.1 93.1h1v1h-1zM197.4 204.5h1v1h-1zM196.9 242.4h1v1h-1zM196.9 269.7h1v1h-1zM197.1 187.0h1v1h-1zM147.7 201.4h1v1h-1zM148.4 86.3h1v1h-1zM148.5 263.0h1v1h-1zM148.6 206.4h1v1h-1zM147.6 149.9h1v1h-1zM147.6 175.0h1v1h-1zM147.3 110.0h1v1h-1zM147.4 149.7h1v1h-1zM147.5 238.6h1v1h-1zM148.9 261.5h1v1h-1zM147.6 293.1h1v1h-1zM148.3 265.6h1v1h-1zM148.8 268.7h1v1h-1zM148.8 200.9h1v1h-1zM148.8 144.8h1v1h-1zM148.2 233.2h1v1h-1zM149.0 285.6h1v1h-1zM147.5 137.7h1v1h-1zM149.0 129.5h1v1h-1zM149.0 218.6h1v1h-1zM148.8 230.1h1v1h-1zM148.8 225.5h1v1h-1zM148.6 268.1h1v1h-1zM148.5 260.9h1v1h-1zM147.3 112.2h1v1h-1zM63.4 221.5h1v1h-1zM64.4 109.0h1v1h-1zM64.4 222.3h1v1h-1zM63.9 113.7h1v1h-1zM64.1 231.5h1v1h-1zM64.0 144.7h1v1h-1zM63.9 215.9h1v1h-1zM64.8 175.8h1v1h-1zM64.8 173.2h1v1h-1zM64.2 136.6h1v1h-1zM64.4 166.9h1v1h-1zM64.9 170.9h1v1h-1zM64.7 178.7h1v1h-1zM237.5 288.7h1v1h-1zM236.1 152.3h1v1h-1zM236.6 124.2h1v1h-1zM236.2 106.1h1v1h-1zM237.6 275.4h1v1h-1zM236.4 174.0h1v1h-1zM236.3 196.7h1v1h-1zM236.4 112.7h1v1h-1zM236.2 290.7h1v1h-1zM236.8 222.3h1v1h-1zM237.5 188.4h1v1h-1zM236.6 287.8h1v1h-1zM237.1 165.0h1v1h-1zM237.6 141.1h1v1h-1zM237.6 220.3h1v1h-1zM236.6 200.7h1v1h-1zM236.1 250.9h1v1h-1zM236.9 168.1h1v1h-1zM237.4 94.7h1v1h-1zM236.3 261.6h1v1h-1zM237.2 209.6h1v1h-1zM191.5 201.3h1v1h-1zM191.1 102.4h1v1h-1zM190.2 122.8h1v1h-1zM190.2 160.1h1v1h-1zM191.2 252.0h1v1h-1zM191.5 135.4h1v1h-1zM190.7 252.9h1v1h-1zM190.4 256.5h1v1h-1zM190.5 89.8h1v1h-1zM191.5 106.1h1v1h-1zM190.1 155.5h1v1h-1zM191.0 203.0h1v1h-1zM190.3 176.6h1v1h-1zM190.9 239.3h1v1h-1zM190.4 244.8h1v1h-1zM190.3 209.4h1v1h-1zM190.1 140.4h1v1h-1zM190.6 174.6h1v1h-1zM190.1 131.0h1v1h-1zM190.8 123.4h1v1h-1zM190.3 176.7h1v1h-1zM191.4 141.8h1v1h-1zM190.7 124.2h1v1h-1zM106.4 197.9h1v1h-1zM105.9 178.8h1v1h-1zM106.0 110.6h1v1h-1zM105.6 182.0h1v1h-1zM105.9 187.2h1v1h-1zM106.3 143.1h1v1h-1zM105.9 271.1h1v1h-1zM105.7 287.6h1v1h-1zM106.0 158.5h1v1h-1zM106.8 142.5h1v1h-1zM105.8 169.9h1v1h-1zM105.8 159.0h1v1h-1zM106.8 124.8h1v1h-1zM105.9 85.9h1v1h-1zM50.5 133.0h1v1h-1zM50.8 137.2h1v1h-1zM49.9 193.2h1v1h-1zM49.4 178.5h1v1h-1zM50.0 118.3h1v1h-1zM50.2 204.9h1v1h-1zM49.4 237.6h1v1h-1zM49.8 269.3h1v1h-1zM49.7 273.2h1v1h-1zM49.8 189.3h1v1h-1zM49.9 141.4h1v1h-1zM49.2 142.0h1v1h-1zM49.8 183.6h1v1h-1zM50.7 88.5h1v1h-1zM50.9 97.5h1v1h-1zM50.1 232.3h1v1h-1zM232.9 182.0h1v1h-1zM232.1 277.4h1v1h-1zM231.6 89.8h1v1h-1zM232.7 91.3h1v1h-1zM231.9 245.0h1v1h-1zM231.8 250.3h1v1h-1zM232.8 108.2h1v1h-1zM232.4 201.7h1v1h-1zM232.0 143.3h1v1h-1zM232.2 163.9h1v1h-1zM232.7 197.3h1v1h-1zM232.1 186.4h1v1h-1zM231.9 209.6h1v1h-1zM232.9 177.0h1v1h-1zM231.7 174.6h1v1h-1zM232.6 278.2h1v1h-1zM231.7 169.6h1v1h-1zM232.2 243.8h1v1h-1zM233.1 164.0h1v1h-1zM231.9 286.4h1v1h-1zM232.9 90.3h1v1h-1zM179.0 88.9h1v1h-1zM178.5 244.9h1v1h-1zM179.1 128.7h1v1h-1zM179.7 215.7h1v1h-1zM178.9 93.3h1v1h-1zM178.6 252.0h1v1h-1zM178.9 251.5h1v1h-1zM179.3 76.6h1v1h-1zM178.6 178.3h1v1h-1zM178.7 285.7h1v1h-1zM179.5 145.4h1v1h-1zM179.5 89.7h1v1h-1zM178.3 123.1h1v1h-1zM178.5 197.6h1v1h-1zM178.4 237.5h1v1h-1zM179.3 171.5h1v1h-1zM179.3 269.8h1v1h-1zM178.5 98.7h1v1h-1zM178.0 241.0h1v1h-1zM237.4 236.0h1v1h-1zM237.9 224.4h1v1h-1zM237.2 192.3h1v1h-1zM237.6 279.6h1v1h-1zM237.7 219.3h1v1h-1zM236.6 200.5h1v1h-1zM237.9 175.1h1v1h-1zM236.7 265.4h1v1h-1zM237.7 280.6h1v1h-1zM237.7 153.0h1v1h-1zM237.3 248.5h1v1h-1zM237.5 284.3h1v1h-1zM237.3 267.6h1v1h-1zM237.1 221.4h1v1h-1zM238.3 86.0h1v1h-1zM237.1 132.8h1v1h-1zM237.8 91.6h1v1h-1zM237.1 254.9h1v1h-1zM237.7 234.1h1v1h-1zM237.5 169.6h1v1h-1zM126.6 94.3h1v1h-1zM127.3 187.7h1v1h-1zM127.3 255.7h1v1h-1zM126.4 237.7h1v1h-1zM126.5 176.9h1v1h-1zM126.1 105.2h1v1h-1zM126.5 79.4h1v1h-1zM126.2 243.7h1v1h-1zM126.4 256.4h1v1h-1zM127.4 125.0h1v1h-1z" fill="#e8dede"/>
<path d="M42.6 261.6h1v1h-1zM40.5 268.5h1v1h-1zM54.0 269.4h1v1h-1zM48.3 271.6h1v1h-1zM53.3 264.1h1v1h-1zM41.2 262.7h1v1h-1zM47.6 276.1h1v1h-1zM54.7 270.7h1v1h-1zM50.9 257.2h1v1h-1zM40.4 256.4h1v1h-1zM51.6 254.5h1v1h-1zM42.8 260.1h1v1h-1zM51.1 250.5h1v1h-1zM44.6 250.1h1v1h-1zM44.6 250.7h1v1h-1zM54.0 261.1h1v1h-1zM40.7 244.0h1v1h-1zM40.8 242.9h1v1h-1zM44.5 239.2h1v1h-1zM42.2 240.6h1v1h-1zM55.2 239.6h1v1h-1zM52.0 245.4h1v1h-1zM56.3 247.5h1v1h-1zM52.1 229.9h1v1h-1zM48.9 228.2h1v1h-1zM40.5 234.2h1v1h-1zM46.7 232.0h1v1h-1zM55.4 225.2h1v1h-1zM43.2 224.7h1v1h-1zM45.4 226.3h1v1h-1zM43.4 229.8h1v1h-1zM48.8 232.7h1v1h-1zM41.6 219.6h1v1h-1zM53.2 210.7h1v1h-1zM49.2 215.6h1v1h-1zM47.8 215.6h1v1h-1zM54.1 211.4h1v1h-1zM54.3 217.0h1v1h-1zM45.9 204.6h1v1h-1zM43.9 208.4h1v1h-1zM45.6 204.9h1v1h-1zM56.3 197.0h1v1h-1zM52.3 199.9h1v1h-1zM49.5 209.0h1v1h-1zM53.5 197.7h1v1h-1zM55.8 201.9h1v1h-1zM47.4 193.1h1v1h-1zM44.4 192.2h1v1h-1zM51.4 192.0h1v1h-1zM44.5 190.5h1v1h-1zM41.4 182.4h1v1h-1zM50.5 179.2h1v1h-1zM53.5 179.2h1v1h-1zM56.5 178.7h1v1h-1zM52.4 185.0h1v1h-1zM41.3 176.2h1v1h-1zM49.4 183.7h1v1h-1zM40.4 180.7h1v1h-1zM49.5 185.5h1v1h-1zM53.4 176.0h1v1h-1zM51.2 169.7h1v1h-1zM46.8 173.4h1v1h-1zM54.8 174.8h1v1h-1zM42.8 166.5h1v1h-1zM45.1 165.5h1v1h-1zM55.2 168.0h1v1h-1zM46.4 159.3h1v1h-1zM44.6 164.1h1v1h-1zM44.0 154.0h1v1h-1zM41.3 146.8h1v1h-1zM51.9 147.4h1v1h-1zM41.8 147.7h1v1h-1zM56.1 152.2h1v1h-1zM44.0 149.5h1v1h-1zM45.6 147.7h1v1h-1zM45.5 153.3h1v1h-1zM46.7 142.1h1v1h-1zM55.3 137.9h1v1h-1zM46.4 136.9h1v1h-1zM40.3 137.6h1v1h-1zM56.4 141.6h1v1h-1zM52.8 142.7h1v1h-1zM51.9 143.6h1v1h-1zM41.4 125.6h1v1h-1zM49.1 128.9h1v1h-1zM48.7 125.8h1v1h-1zM50.0 127.9h1v1h-1zM54.0 132.0h1v1h-1zM48.8 118.8h1v1h-1zM40.9 120.3h1v1h-1zM46.6 117.3h1v1h-1zM56.6 107.6h1v1h-1zM43.0 107.8h1v1h-1zM53.2 109.0h1v1h-1zM45.0 105.3h1v1h-1zM56.4 101.4h1v1h-1zM48.8 98.2h1v1h-1zM44.1 100.1h1v1h-1zM46.4 105.3h1v1h-1zM43.0 102.3h1v1h-1zM50.1 99.7h1v1h-1zM49.9 103.6h1v1h-1zM40.3 101.8h1v1h-1zM41.2 97.1h1v1h-1zM45.2 94.9h1v1h-1zM53.1 90.6h1v1h-1zM56.4 91.3h1v1h-1zM49.2 92.0h1v1h-1zM49.8 89.6h1v1h-1zM43.4 86.1h1v1h-1zM46.4 85.3h1v1h-1zM45.4 81.6h1v1h-1zM40.7 72.7h1v1h-1zM40.5 75.0h1v1h-1zM60.7 288.8h1v1h-1zM57.0 287.2h1v1h-1zM70.1 280.6h1v1h-1zM65.7 288.4h1v1h-1zM62.3 277.8h1v1h-1zM57.5 285.0h1v1h-1zM65.4 281.1h1v1h-1zM59.6 284.5h1v1h-1zM71.5 282.8h1v1h-1zM71.3 289.5h1v1h-1zM66.3 283.6h1v1h-1zM59.7 280.5h1v1h-1zM60.3 276.8h1v1h-1zM62.8 251.1h1v1h-1zM66.8 255.2h1v1h-1zM61.5 257.5h1v1h-1zM59.1 256.2h1v1h-1zM69.7 259.0h1v1h-1zM63.2 257.4h1v1h-1zM59.5 248.0h1v1h-1zM67.3 253.5h1v1h-1zM57.1 255.2h1v1h-1zM62.7 257.2h1v1h-1zM70.1 241.0h1v1h-1zM65.2 243.3h1v1h-1zM71.6 234.7h1v1h-1zM59.9 231.3h1v1h-1zM58.9 226.2h1v1h-1zM56.8 228.2h1v1h-1zM72.0 223.6h1v1h-1zM66.4 215.5h1v1h-1zM58.4 219.7h1v1h-1zM63.7 217.5h1v1h-1zM62.6 212.0h1v1h-1zM66.4 214.7h1v1h-1zM69.5 219.2h1v1h-1zM59.7 212.6h1v1h-1zM69.9 218.8h1v1h-1zM59.7 205.0h1v1h-1zM66.4 200.2h1v1h-1zM58.5 208.3h1v1h-1zM63.0 190.8h1v1h-1zM62.7 194.0h1v1h-1zM63.6 186.5h1v1h-1zM61.2 193.4h1v1h-1zM70.6 188.6h1v1h-1zM62.5 193.7h1v1h-1zM57.0 192.8h1v1h-1zM72.2 176.0h1v1h-1zM58.0 177.0h1v1h-1zM57.0 179.0h1v1h-1zM60.0 180.0h1v1h-1zM64.8 179.6h1v1h-1zM70.1 185.4h1v1h-1zM61.3 174.9h1v1h-1zM69.8 164.7h1v1h-1zM70.9 167.9h1v1h-1zM60.7 168.3h1v1h-1zM64.1 168.2h1v1h-1zM57.6 170.1h1v1h-1zM62.4 167.7h1v1h-1zM60.2 172.5h1v1h-1zM61.3 171.0h1v1h-1zM61.6 159.0h1v1h-1zM63.3 162.8h1v1h-1zM57.4 160.3h1v1h-1zM71.2 161.7h1v1h-1zM56.8 161.5h1v1h-1zM57.8 151.7h1v1h-1zM68.3 147.6h1v1h-1zM69.6 150.5h1v1h-1zM59.9 147.9h1v1h-1zM64.0 144.1h1v1h-1zM60.7 141.0h1v1h-1zM62.5 140.8h1v1h-1zM70.8 138.2h1v1h-1zM67.5 139.3h1v1h-1zM60.5 123.2h1v1h-1zM61.1 125.9h1v1h-1zM69.9 129.4h1v1h-1zM68.1 128.6h1v1h-1zM68.9 125.4h1v1h-1zM70.7 115.1h1v1h-1zM70.2 114.7h1v1h-1zM57.7 114.4h1v1h-1zM64.8 115.8h1v1h-1zM67.6 117.9h1v1h-1zM57.9 118.5h1v1h-1zM57.0 109.9h1v1h-1zM67.3 111.0h1v1h-1zM71.2 106.6h1v1h-1zM57.2 112.8h1v1h-1zM61.8 99.7h1v1h-1zM67.1 104.2h1v1h-1zM65.9 103.8h1v1h-1zM69.4 97.9h1v1h-1zM58.6 94.2h1v1h-1zM65.5 96.0h1v1h-1zM69.0 90.0h1v1h-1zM66.0 89.4h1v1h-1zM57.0 88.9h1v1h-1zM60.1 89.1h1v1h-1zM62.2 83.3h1v1h-1zM63.1 78.3h1v1h-1zM81.6 282.5h1v1h-1zM79.0 292.0h1v1h-1zM77.4 276.8h1v1h-1zM75.9 286.3h1v1h-1zM78.5 278.2h1v1h-1zM79.1 283.8h1v1h-1zM85.1 284.9h1v1h-1zM76.2 290.7h1v1h-1zM81.0 277.8h1v1h-1zM76.4 279.8h1v1h-1zM82.5 293.1h1v1h-1zM83.0 280.5h1v1h-1zM82.8 288.2h1v1h-1zM76.2 292.5h1v1h-1zM76.0 285.4h1v1h-1zM72.7 291.0h1v1h-1zM80.9 267.7h1v1h-1zM73.9 268.0h1v1h-1zM82.6 269.9h1v1h-1zM79.6 276.7h1v1h-1zM77.7 271.4h1v1h-1zM73.9 262.2h1v1h-1zM83.8 268.9h1v1h-1zM82.7 268.4h1v1h-1zM81.1 243.4h1v1h-1zM81.9 234.8h1v1h-1zM82.6 238.0h1v1h-1zM82.6 244.5h1v1h-1zM75.6 243.9h1v1h-1zM85.2 238.2h1v1h-1zM80.7 246.4h1v1h-1zM76.1 245.2h1v1h-1zM74.2 242.6h1v1h-1zM79.4 247.7h1v1h-1zM73.2 238.6h1v1h-1zM75.9 239.3h1v1h-1zM72.5 239.5h1v1h-1zM82.3 238.1h1v1h-1zM78.2 232.2h1v1h-1zM85.3 226.1h1v1h-1zM73.6 222.0h1v1h-1zM74.6 225.2h1v1h-1zM81.7 225.9h1v1h-1zM83.7 227.8h1v1h-1zM80.7 230.2h1v1h-1zM79.1 215.0h1v1h-1zM72.6 219.2h1v1h-1zM83.6 217.7h1v1h-1zM75.6 221.4h1v1h-1zM79.9 221.0h1v1h-1zM82.6 216.6h1v1h-1zM81.4 211.8h1v1h-1zM79.6 213.3h1v1h-1zM79.8 210.4h1v1h-1zM72.6 211.1h1v1h-1zM83.5 199.0h1v1h-1zM76.0 208.1h1v1h-1zM85.6 205.0h1v1h-1zM77.4 205.6h1v1h-1zM74.6 202.9h1v1h-1zM78.6 207.2h1v1h-1zM72.8 195.1h1v1h-1zM74.2 192.0h1v1h-1zM72.3 195.5h1v1h-1zM82.4 194.4h1v1h-1zM85.8 195.0h1v1h-1zM85.3 176.8h1v1h-1zM75.8 179.1h1v1h-1zM75.9 185.7h1v1h-1zM78.5 184.0h1v1h-1zM84.2 181.1h1v1h-1zM76.1 183.4h1v1h-1zM78.6 164.3h1v1h-1zM75.8 170.9h1v1h-1zM83.0 167.4h1v1h-1zM84.7 166.5h1v1h-1zM79.1 165.8h1v1h-1zM74.5 162.4h1v1h-1zM74.6 164.0h1v1h-1zM73.9 161.2h1v1h-1zM80.6 161.8h1v1h-1zM84.1 163.9h1v1h-1zM81.0 157.8h1v1h-1zM73.2 151.8h1v1h-1zM72.4 148.3h1v1h-1zM76.5 144.1h1v1h-1zM84.8 152.6h1v1h-1zM82.5 150.3h1v1h-1zM79.4 137.8h1v1h-1zM81.9 140.6h1v1h-1zM85.3 136.7h1v1h-1zM83.1 133.6h1v1h-1zM75.8 141.4h1v1h-1zM81.3 137.8h1v1h-1zM74.9 139.0h1v1h-1zM84.5 132.6h1v1h-1zM78.2 127.8h1v1h-1zM77.2 127.8h1v1h-1zM81.9 126.4h1v1h-1zM76.4 124.4h1v1h-1zM78.4 126.7h1v1h-1zM76.1 116.8h1v1h-1zM72.9 117.8h1v1h-1zM73.8 114.4h1v1h-1zM73.6 121.1h1v1h-1zM84.4 120.6h1v1h-1zM78.5 118.9h1v1h-1zM72.9 120.8h1v1h-1zM78.3 108.1h1v1h-1zM73.7 108.6h1v1h-1zM78.6 101.3h1v1h-1zM78.5 103.0h1v1h-1zM79.1 100.0h1v1h-1zM81.2 100.4h1v1h-1zM78.3 103.3h1v1h-1zM81.7 100.8h1v1h-1zM78.3 95.4h1v1h-1zM80.5 95.8h1v1h-1zM81.2 90.6h1v1h-1zM84.6 95.3h1v1h-1zM82.8 85.8h1v1h-1zM83.4 71.8h1v1h-1zM73.9 80.9h1v1h-1zM84.3 82.3h1v1h-1zM91.8 277.2h1v1h-1zM93.6 283.6h1v1h-1zM95.9 293.0h1v1h-1zM87.8 277.2h1v1h-1zM90.0 290.4h1v1h-1zM87.2 277.2h1v1h-1zM91.6 287.0h1v1h-1zM96.4 261.4h1v1h-1zM92.3 265.7h1v1h-1zM87.0 272.0h1v1h-1zM94.9 260.7h1v1h-1zM92.0 248.9h1v1h-1zM96.4 255.5h1v1h-1zM87.4 248.9h1v1h-1zM87.7 259.0h1v1h-1zM89.5 259.2h1v1h-1zM86.5 255.4h1v1h-1zM93.5 251.2h1v1h-1zM89.3 259.6h1v1h-1zM93.6 251.3h1v1h-1zM93.9 233.7h1v1h-1zM93.4 224.9h1v1h-1zM86.2 226.4h1v1h-1zM97.1 228.8h1v1h-1zM93.9 228.8h1v1h-1zM98.5 225.5h1v1h-1zM94.4 216.7h1v1h-1zM89.7 213.8h1v1h-1zM98.6 221.5h1v1h-1zM87.0 209.3h1v1h-1zM91.6 218.5h1v1h-1zM94.3 216.0h1v1h-1zM93.3 210.2h1v1h-1zM92.2 211.2h1v1h-1zM97.9 202.3h1v1h-1zM93.0 202.6h1v1h-1zM88.0 199.6h1v1h-1zM95.3 190.6h1v1h-1zM97.4 190.6h1v1h-1zM93.5 191.5h1v1h-1zM86.2 187.7h1v1h-1zM92.4 196.4h1v1h-1zM92.3 177.4h1v1h-1zM96.6 178.2h1v1h-1zM86.3 176.2h1v1h-1zM91.8 176.8h1v1h-1zM99.1 181.8h1v1h-1zM87.2 176.6h1v1h-1zM94.6 174.4h1v1h-1zM95.6 167.0h1v1h-1zM89.1 170.8h1v1h-1zM93.2 165.4h1v1h-1zM92.6 162.2h1v1h-1zM88.3 159.3h1v1h-1zM92.0 160.5h1v1h-1zM96.9 161.9h1v1h-1zM94.6 156.5h1v1h-1zM93.2 149.9h1v1h-1zM89.0 146.8h1v1h-1zM91.8 148.1h1v1h-1zM95.5 153.6h1v1h-1zM96.9 148.0h1v1h-1zM97.0 135.4h1v1h-1zM87.1 137.4h1v1h-1zM96.7 136.5h1v1h-1zM89.7 139.2h1v1h-1zM93.2 125.7h1v1h-1zM92.0 126.7h1v1h-1zM91.2 132.5h1v1h-1zM98.2 117.8h1v1h-1zM86.8 117.9h1v1h-1zM94.7 116.2h1v1h-1zM91.3 122.6h1v1h-1zM90.5 116.3h1v1h-1zM90.2 120.5h1v1h-1zM86.9 107.0h1v1h-1zM89.8 112.4h1v1h-1zM87.2 101.3h1v1h-1zM98.3 105.9h1v1h-1zM95.6 102.7h1v1h-1zM88.1 103.0h1v1h-1zM87.3 104.0h1v1h-1zM89.6 104.1h1v1h-1zM91.6 102.7h1v1h-1zM94.5 100.6h1v1h-1zM88.6 101.8h1v1h-1zM95.4 91.4h1v1h-1zM92.1 92.2h1v1h-1zM95.6 96.8h1v1h-1zM95.1 90.8h1v1h-1zM98.2 94.9h1v1h-1zM88.5 96.3h1v1h-1zM88.3 87.6h1v1h-1zM88.1 85.2h1v1h-1zM95.6 81.3h1v1h-1zM96.5 79.5h1v1h-1zM87.3 71.1h1v1h-1zM105.1 284.1h1v1h-1zM103.7 277.2h1v1h-1zM107.2 292.6h1v1h-1zM101.8 277.0h1v1h-1zM99.8 277.2h1v1h-1zM102.1 279.3h1v1h-1zM103.9 286.4h1v1h-1zM108.8 264.5h1v1h-1zM108.7 273.7h1v1h-1zM103.8 265.5h1v1h-1zM111.0 266.6h1v1h-1zM105.7 273.4h1v1h-1zM102.0 255.9h1v1h-1zM108.2 252.9h1v1h-1zM109.8 248.8h1v1h-1zM103.7 260.4h1v1h-1zM99.8 259.2h1v1h-1zM101.4 251.8h1v1h-1zM104.5 248.8h1v1h-1zM103.2 255.9h1v1h-1zM102.3 248.1h1v1h-1zM108.5 237.9h1v1h-1zM108.1 246.7h1v1h-1zM107.7 241.9h1v1h-1zM107.2 239.8h1v1h-1zM105.2 236.1h1v1h-1zM111.8 235.8h1v1h-1zM107.1 242.7h1v1h-1zM104.8 219.4h1v1h-1zM111.1 211.9h1v1h-1zM110.7 218.2h1v1h-1zM111.7 212.8h1v1h-1zM108.7 213.4h1v1h-1zM111.5 198.5h1v1h-1zM108.4 187.1h1v1h-1zM102.8 190.8h1v1h-1zM104.6 195.0h1v1h-1zM109.7 191.0h1v1h-1zM101.6 178.6h1v1h-1zM99.8 181.0h1v1h-1zM102.3 185.7h1v1h-1zM109.5 183.1h1v1h-1zM109.2 181.0h1v1h-1zM100.4 168.9h1v1h-1zM100.8 168.4h1v1h-1zM109.4 172.2h1v1h-1zM108.4 157.3h1v1h-1zM104.5 156.9h1v1h-1zM108.7 154.8h1v1h-1zM99.8 150.7h1v1h-1zM105.6 148.9h1v1h-1zM106.4 149.9h1v1h-1zM102.7 135.7h1v1h-1zM111.4 140.1h1v1h-1zM102.2 140.0h1v1h-1zM103.0 130.7h1v1h-1zM112.1 129.2h1v1h-1zM105.8 123.2h1v1h-1zM108.3 117.9h1v1h-1zM99.3 122.4h1v1h-1zM103.1 107.7h1v1h-1zM100.6 108.3h1v1h-1zM109.8 110.2h1v1h-1zM101.3 99.1h1v1h-1zM100.7 103.5h1v1h-1zM111.0 101.4h1v1h-1zM103.3 102.6h1v1h-1zM100.0 104.6h1v1h-1zM107.7 90.7h1v1h-1zM104.7 93.7h1v1h-1zM108.1 93.2h1v1h-1zM105.7 97.5h1v1h-1zM107.4 95.4h1v1h-1zM101.5 94.5h1v1h-1zM109.3 89.4h1v1h-1zM104.3 87.3h1v1h-1zM101.5 88.5h1v1h-1zM104.5 87.5h1v1h-1zM105.6 74.1h1v1h-1zM108.8 79.4h1v1h-1zM119.4 287.5h1v1h-1zM122.5 286.9h1v1h-1zM115.8 279.5h1v1h-1zM122.3 285.7h1v1h-1zM114.4 291.7h1v1h-1zM116.7 289.1h1v1h-1zM121.0 285.1h1v1h-1zM123.9 291.5h1v1h-1zM117.1 288.6h1v1h-1zM115.3 281.4h1v1h-1zM123.1 287.4h1v1h-1zM121.8 283.2h1v1h-1zM119.9 285.6h1v1h-1zM113.2 268.3h1v1h-1zM114.1 265.2h1v1h-1zM123.8 268.2h1v1h-1zM121.0 262.4h1v1h-1zM116.3 276.0h1v1h-1zM115.4 266.9h1v1h-1zM117.0 266.0h1v1h-1zM118.1 264.2h1v1h-1zM113.6 266.0h1v1h-1zM116.0 269.8h1v1h-1zM124.1 249.4h1v1h-1zM117.4 257.4h1v1h-1zM118.6 253.0h1v1h-1zM117.6 258.1h1v1h-1zM116.3 253.6h1v1h-1zM120.2 248.3h1v1h-1zM115.0 255.5h1v1h-1zM120.2 257.2h1v1h-1zM115.4 258.3h1v1h-1zM112.9 234.8h1v1h-1zM123.4 241.9h1v1h-1zM119.7 244.5h1v1h-1zM123.4 244.8h1v1h-1zM120.3 235.5h1v1h-1zM115.4 246.3h1v1h-1zM117.9 238.2h1v1h-1zM112.8 233.1h1v1h-1zM118.6 225.3h1v1h-1zM119.8 228.4h1v1h-1zM114.8 231.1h1v1h-1zM124.1 200.0h1v1h-1zM116.9 208.2h1v1h-1zM122.6 199.0h1v1h-1zM124.2 208.8h1v1h-1zM113.8 204.9h1v1h-1zM121.5 190.2h1v1h-1zM116.0 193.0h1v1h-1zM112.3 187.3h1v1h-1zM121.9 189.6h1v1h-1zM117.9 194.7h1v1h-1zM116.6 193.7h1v1h-1zM120.7 184.4h1v1h-1zM121.6 182.6h1v1h-1zM124.8 182.8h1v1h-1zM118.1 181.1h1v1h-1zM116.7 164.6h1v1h-1zM115.3 166.3h1v1h-1zM121.9 172.2h1v1h-1zM121.6 162.2h1v1h-1zM118.7 159.7h1v1h-1zM121.1 159.3h1v1h-1zM116.9 157.7h1v1h-1zM119.2 146.1h1v1h-1zM121.6 153.2h1v1h-1zM124.4 152.0h1v1h-1zM115.9 146.1h1v1h-1zM121.2 152.7h1v1h-1zM118.5 134.0h1v1h-1zM120.2 138.7h1v1h-1zM114.6 142.1h1v1h-1zM117.0 128.9h1v1h-1zM121.3 125.2h1v1h-1zM124.6 127.7h1v1h-1zM113.9 130.8h1v1h-1zM113.0 132.0h1v1h-1zM112.4 126.7h1v1h-1zM121.7 114.4h1v1h-1zM123.8 119.1h1v1h-1zM121.8 119.1h1v1h-1zM114.3 112.5h1v1h-1zM118.0 114.1h1v1h-1zM118.0 110.6h1v1h-1zM115.5 99.2h1v1h-1zM114.2 99.9h1v1h-1zM113.1 103.4h1v1h-1zM124.1 103.6h1v1h-1zM114.2 93.4h1v1h-1zM122.2 87.8h1v1h-1zM122.6 89.0h1v1h-1zM119.7 84.9h1v1h-1zM133.5 279.5h1v1h-1zM128.3 284.0h1v1h-1zM125.5 279.7h1v1h-1zM127.6 288.4h1v1h-1zM134.3 279.8h1v1h-1zM137.1 283.4h1v1h-1zM129.6 279.7h1v1h-1zM131.8 268.4h1v1h-1zM136.9 268.4h1v1h-1zM136.2 268.1h1v1h-1zM128.5 251.5h1v1h-1zM125.6 248.6h1v1h-1zM130.8 257.7h1v1h-1zM128.2 252.6h1v1h-1zM129.7 249.4h1v1h-1zM133.5 255.2h1v1h-1zM136.3 252.8h1v1h-1zM133.1 243.4h1v1h-1zM125.2 247.8h1v1h-1zM131.2 232.8h1v1h-1zM127.8 225.6h1v1h-1zM127.8 232.1h1v1h-1zM132.2 210.0h1v1h-1zM127.3 213.2h1v1h-1zM131.3 221.5h1v1h-1zM131.3 189.0h1v1h-1zM128.4 185.8h1v1h-1zM135.9 193.3h1v1h-1zM131.6 193.8h1v1h-1zM134.8 187.5h1v1h-1zM132.7 186.6h1v1h-1zM132.8 181.6h1v1h-1zM134.8 181.0h1v1h-1zM131.2 176.1h1v1h-1zM129.0 166.1h1v1h-1zM126.5 170.9h1v1h-1zM126.4 174.8h1v1h-1zM125.6 174.2h1v1h-1zM136.6 170.6h1v1h-1zM137.0 159.3h1v1h-1zM129.6 154.2h1v1h-1zM133.5 156.1h1v1h-1zM135.6 144.4h1v1h-1zM133.7 148.0h1v1h-1zM131.8 150.8h1v1h-1zM125.8 152.2h1v1h-1zM125.4 141.1h1v1h-1zM136.6 137.8h1v1h-1zM132.8 130.5h1v1h-1zM129.8 127.3h1v1h-1zM127.8 115.8h1v1h-1zM132.4 119.2h1v1h-1zM130.0 114.3h1v1h-1zM133.2 118.5h1v1h-1zM125.0 107.2h1v1h-1zM128.6 103.0h1v1h-1zM131.0 102.6h1v1h-1zM129.6 104.0h1v1h-1zM126.2 101.9h1v1h-1zM129.6 103.0h1v1h-1zM136.0 93.0h1v1h-1zM130.5 97.7h1v1h-1zM134.4 91.0h1v1h-1zM132.7 90.8h1v1h-1zM133.4 92.8h1v1h-1zM136.5 95.0h1v1h-1zM137.2 71.2h1v1h-1zM138.5 278.4h1v1h-1zM147.3 291.9h1v1h-1zM143.5 280.9h1v1h-1zM146.0 284.2h1v1h-1zM145.9 282.0h1v1h-1zM137.6 279.9h1v1h-1zM144.5 288.1h1v1h-1zM142.9 276.4h1v1h-1zM143.3 276.6h1v1h-1zM140.6 275.3h1v1h-1zM147.6 274.4h1v1h-1zM141.0 268.1h1v1h-1zM142.2 262.8h1v1h-1zM145.0 262.3h1v1h-1zM140.6 254.1h1v1h-1zM139.7 250.7h1v1h-1zM143.6 249.3h1v1h-1zM139.3 252.9h1v1h-1zM140.2 240.2h1v1h-1zM148.0 234.7h1v1h-1zM138.9 246.3h1v1h-1zM143.0 241.9h1v1h-1zM141.0 247.4h1v1h-1zM142.7 235.8h1v1h-1zM139.2 233.8h1v1h-1zM138.9 232.8h1v1h-1zM140.2 228.3h1v1h-1zM140.0 227.3h1v1h-1zM142.5 225.2h1v1h-1zM142.9 212.8h1v1h-1zM140.2 217.5h1v1h-1zM138.1 209.7h1v1h-1zM142.2 219.5h1v1h-1zM140.9 206.1h1v1h-1zM141.4 202.6h1v1h-1zM144.4 206.9h1v1h-1zM140.2 199.9h1v1h-1zM144.9 183.1h1v1h-1zM141.5 182.5h1v1h-1zM146.4 175.7h1v1h-1zM142.8 179.6h1v1h-1zM139.3 168.6h1v1h-1zM148.0 169.4h1v1h-1zM143.4 173.4h1v1h-1zM148.2 169.8h1v1h-1zM138.3 168.6h1v1h-1zM140.8 168.0h1v1h-1zM142.2 169.4h1v1h-1zM147.5 156.0h1v1h-1zM141.3 164.1h1v1h-1zM138.3 148.5h1v1h-1zM145.9 146.8h1v1h-1zM137.3 149.7h1v1h-1zM143.1 142.5h1v1h-1zM145.5 124.9h1v1h-1zM137.4 133.2h1v1h-1zM148.1 129.9h1v1h-1zM145.8 121.5h1v1h-1zM141.9 108.8h1v1h-1zM142.6 111.7h1v1h-1zM137.8 109.2h1v1h-1zM144.0 106.7h1v1h-1zM143.8 102.2h1v1h-1zM142.2 105.3h1v1h-1zM146.0 92.0h1v1h-1zM139.3 92.0h1v1h-1zM138.8 90.2h1v1h-1zM146.2 91.3h1v1h-1zM144.9 94.9h1v1h-1zM142.2 89.7h1v1h-1zM142.0 73.5h1v1h-1zM141.1 72.4h1v1h-1zM147.7 81.5h1v1h-1zM158.3 286.1h1v1h-1zM149.4 286.0h1v1h-1zM158.0 278.6h1v1h-1zM154.4 282.7h1v1h-1zM156.3 292.8h1v1h-1zM157.9 278.0h1v1h-1zM152.2 281.5h1v1h-1zM157.1 277.1h1v1h-1zM156.5 269.0h1v1h-1zM156.1 274.1h1v1h-1zM154.2 270.9h1v1h-1zM158.2 276.4h1v1h-1zM153.5 263.3h1v1h-1zM152.8 271.8h1v1h-1zM155.0 248.8h1v1h-1zM154.0 251.5h1v1h-1zM151.9 249.6h1v1h-1zM156.3 258.8h1v1h-1zM155.2 259.6h1v1h-1zM153.9 252.7h1v1h-1zM156.3 256.5h1v1h-1zM150.3 249.8h1v1h-1zM155.6 254.1h1v1h-1zM154.6 250.6h1v1h-1zM149.4 243.2h1v1h-1zM156.5 236.5h1v1h-1zM152.1 240.0h1v1h-1zM155.7 235.1h1v1h-1zM156.2 240.6h1v1h-1zM153.4 236.9h1v1h-1zM152.0 236.4h1v1h-1zM152.9 236.2h1v1h-1zM156.3 240.2h1v1h-1zM156.8 231.8h1v1h-1zM156.4 227.3h1v1h-1zM152.1 221.9h1v1h-1zM152.8 224.8h1v1h-1zM150.7 229.0h1v1h-1zM157.7 232.2h1v1h-1zM153.5 231.9h1v1h-1zM155.4 231.8h1v1h-1zM158.1 224.5h1v1h-1zM158.2 218.8h1v1h-1zM149.6 218.2h1v1h-1zM150.9 215.5h1v1h-1zM150.6 210.7h1v1h-1zM151.7 209.8h1v1h-1zM155.1 201.8h1v1h-1zM158.1 201.8h1v1h-1zM151.5 199.4h1v1h-1zM158.0 190.4h1v1h-1zM150.7 193.8h1v1h-1zM149.8 193.7h1v1h-1zM156.9 190.5h1v1h-1zM156.0 165.6h1v1h-1zM154.8 170.7h1v1h-1zM153.1 169.2h1v1h-1zM153.5 168.8h1v1h-1zM149.4 167.4h1v1h-1zM158.0 165.7h1v1h-1zM157.6 164.1h1v1h-1zM152.4 148.6h1v1h-1zM149.3 143.9h1v1h-1zM153.2 144.4h1v1h-1zM158.8 137.5h1v1h-1zM156.1 138.0h1v1h-1zM154.4 140.6h1v1h-1zM154.0 123.6h1v1h-1zM158.8 129.7h1v1h-1zM150.6 123.5h1v1h-1zM152.1 116.2h1v1h-1zM154.6 118.8h1v1h-1zM152.1 118.9h1v1h-1zM153.7 121.7h1v1h-1zM155.7 112.0h1v1h-1zM149.3 107.5h1v1h-1zM157.6 105.7h1v1h-1zM153.8 98.7h1v1h-1zM158.2 100.3h1v1h-1zM157.0 101.5h1v1h-1zM157.1 95.9h1v1h-1zM158.2 90.9h1v1h-1zM155.0 91.3h1v1h-1zM148.6 90.0h1v1h-1zM150.5 85.2h1v1h-1zM153.8 73.9h1v1h-1zM155.4 83.3h1v1h-1zM167.9 291.6h1v1h-1zM166.8 277.6h1v1h-1zM161.1 289.3h1v1h-1zM162.4 289.9h1v1h-1zM167.7 278.3h1v1h-1zM167.8 277.7h1v1h-1zM159.3 287.0h1v1h-1zM169.6 290.0h1v1h-1zM167.6 291.5h1v1h-1zM169.1 270.1h1v1h-1zM168.3 263.0h1v1h-1zM160.4 267.9h1v1h-1zM164.9 262.2h1v1h-1zM159.8 269.7h1v1h-1zM163.2 264.3h1v1h-1zM168.6 269.3h1v1h-1zM168.6 267.9h1v1h-1zM159.8 250.5h1v1h-1zM159.7 256.4h1v1h-1zM167.5 252.4h1v1h-1zM161.7 248.5h1v1h-1zM161.6 251.0h1v1h-1zM168.5 259.7h1v1h-1zM159.2 257.4h1v1h-1zM163.8 251.4h1v1h-1zM160.8 239.0h1v1h-1zM160.2 235.1h1v1h-1zM169.5 247.0h1v1h-1zM164.7 237.4h1v1h-1zM160.6 243.6h1v1h-1zM163.7 242.5h1v1h-1zM168.7 238.5h1v1h-1zM167.7 226.5h1v1h-1zM160.0 234.1h1v1h-1zM164.2 223.9h1v1h-1zM169.9 232.3h1v1h-1zM163.1 229.3h1v1h-1zM167.2 234.3h1v1h-1zM160.6 228.8h1v1h-1zM166.7 216.7h1v1h-1zM164.8 220.9h1v1h-1zM159.4 214.0h1v1h-1zM168.0 216.3h1v1h-1zM160.4 213.6h1v1h-1zM160.7 210.4h1v1h-1zM167.3 201.3h1v1h-1zM160.8 205.2h1v1h-1zM161.0 199.2h1v1h-1zM161.4 196.8h1v1h-1zM163.5 204.8h1v1h-1zM169.6 205.8h1v1h-1zM162.9 188.6h1v1h-1zM162.3 196.1h1v1h-1zM162.1 190.0h1v1h-1zM169.6 192.4h1v1h-1zM168.9 185.4h1v1h-1zM168.5 179.8h1v1h-1zM168.5 178.5h1v1h-1zM160.4 184.1h1v1h-1zM163.9 159.9h1v1h-1zM160.3 164.1h1v1h-1zM162.5 163.5h1v1h-1zM168.6 148.7h1v1h-1zM166.4 141.1h1v1h-1zM165.0 140.1h1v1h-1zM163.7 137.2h1v1h-1zM165.4 134.9h1v1h-1zM169.6 140.9h1v1h-1zM162.7 126.0h1v1h-1zM165.9 132.2h1v1h-1zM165.6 132.3h1v1h-1zM163.2 133.0h1v1h-1zM166.6 126.4h1v1h-1zM167.7 128.8h1v1h-1zM165.4 117.5h1v1h-1zM166.5 112.7h1v1h-1zM168.8 113.4h1v1h-1zM166.2 103.2h1v1h-1zM159.7 104.8h1v1h-1zM160.3 103.8h1v1h-1zM162.4 92.0h1v1h-1zM159.0 94.8h1v1h-1zM160.5 95.8h1v1h-1zM165.0 96.9h1v1h-1zM166.0 85.7h1v1h-1zM165.8 89.9h1v1h-1zM162.9 86.6h1v1h-1zM169.1 74.3h1v1h-1zM169.7 79.8h1v1h-1zM173.2 289.5h1v1h-1zM180.3 291.5h1v1h-1zM175.0 279.4h1v1h-1zM177.4 277.4h1v1h-1zM173.8 293.1h1v1h-1zM175.6 262.7h1v1h-1zM176.0 272.4h1v1h-1zM175.6 268.3h1v1h-1zM177.3 274.8h1v1h-1zM172.9 251.4h1v1h-1zM177.6 259.7h1v1h-1zM177.8 235.8h1v1h-1zM174.5 235.3h1v1h-1zM171.5 233.4h1v1h-1zM172.3 226.3h1v1h-1zM172.1 230.4h1v1h-1zM173.7 208.7h1v1h-1zM174.2 204.3h1v1h-1zM178.9 197.9h1v1h-1zM179.3 179.4h1v1h-1zM172.6 170.9h1v1h-1zM178.4 166.7h1v1h-1zM179.5 169.2h1v1h-1zM177.5 138.9h1v1h-1zM174.8 135.7h1v1h-1zM171.1 130.1h1v1h-1zM172.6 116.9h1v1h-1zM174.1 107.6h1v1h-1zM175.4 95.1h1v1h-1zM175.9 95.2h1v1h-1zM179.5 87.9h1v1h-1zM180.1 86.5h1v1h-1zM184.2 277.2h1v1h-1zM184.2 292.3h1v1h-1zM184.4 286.6h1v1h-1zM183.4 282.1h1v1h-1zM188.6 284.8h1v1h-1zM188.2 289.9h1v1h-1zM184.7 270.6h1v1h-1zM186.7 265.7h1v1h-1zM184.0 274.7h1v1h-1zM182.7 273.6h1v1h-1zM182.5 248.6h1v1h-1zM190.4 248.3h1v1h-1zM188.9 250.5h1v1h-1zM182.0 249.3h1v1h-1zM183.8 247.9h1v1h-1zM183.1 260.4h1v1h-1zM183.4 241.4h1v1h-1zM187.3 245.5h1v1h-1zM190.0 242.9h1v1h-1zM190.4 242.4h1v1h-1zM182.2 226.7h1v1h-1zM184.3 222.6h1v1h-1zM189.1 233.3h1v1h-1zM182.8 233.4h1v1h-1zM181.8 222.1h1v1h-1zM185.7 232.9h1v1h-1zM185.2 222.2h1v1h-1zM189.7 222.5h1v1h-1zM181.7 215.0h1v1h-1zM184.3 210.9h1v1h-1zM182.3 219.4h1v1h-1zM181.0 198.2h1v1h-1zM189.7 200.9h1v1h-1zM183.6 198.3h1v1h-1zM188.2 187.0h1v1h-1zM182.4 193.6h1v1h-1zM188.6 191.6h1v1h-1zM188.2 178.3h1v1h-1zM186.2 178.3h1v1h-1zM183.3 177.3h1v1h-1zM190.0 169.6h1v1h-1zM180.9 175.2h1v1h-1zM184.5 171.1h1v1h-1zM183.1 163.8h1v1h-1zM186.0 138.8h1v1h-1zM189.8 143.2h1v1h-1zM181.2 136.5h1v1h-1zM180.7 135.4h1v1h-1zM182.9 124.2h1v1h-1zM181.4 127.3h1v1h-1zM186.6 123.2h1v1h-1zM180.9 117.6h1v1h-1zM180.5 116.0h1v1h-1zM182.4 112.1h1v1h-1zM185.4 98.1h1v1h-1zM184.9 98.3h1v1h-1zM186.5 101.2h1v1h-1zM188.1 98.4h1v1h-1zM182.3 102.7h1v1h-1zM190.0 104.8h1v1h-1zM181.5 92.3h1v1h-1zM181.0 97.3h1v1h-1zM189.3 93.6h1v1h-1zM183.5 85.1h1v1h-1zM183.0 85.4h1v1h-1zM182.5 76.6h1v1h-1zM186.3 72.3h1v1h-1zM184.4 75.2h1v1h-1zM192.1 284.8h1v1h-1zM191.2 282.9h1v1h-1zM199.0 278.9h1v1h-1zM194.1 292.5h1v1h-1zM200.7 290.0h1v1h-1zM200.1 277.4h1v1h-1zM195.1 276.0h1v1h-1zM196.4 268.0h1v1h-1zM195.5 268.3h1v1h-1zM192.4 272.9h1v1h-1zM199.5 265.0h1v1h-1zM195.1 263.5h1v1h-1zM199.9 250.2h1v1h-1zM199.6 257.0h1v1h-1zM196.8 254.9h1v1h-1zM191.8 260.0h1v1h-1zM198.0 252.0h1v1h-1zM192.9 258.7h1v1h-1zM191.1 239.1h1v1h-1zM193.0 243.3h1v1h-1zM197.7 231.6h1v1h-1zM199.4 222.2h1v1h-1zM193.3 231.4h1v1h-1zM200.3 232.6h1v1h-1zM199.5 221.0h1v1h-1zM196.7 216.2h1v1h-1zM199.2 209.3h1v1h-1zM192.2 201.7h1v1h-1zM200.5 202.4h1v1h-1zM191.1 194.0h1v1h-1zM197.9 192.3h1v1h-1zM200.0 189.3h1v1h-1zM191.6 192.4h1v1h-1zM191.1 186.8h1v1h-1zM198.4 187.4h1v1h-1zM192.4 180.7h1v1h-1zM191.6 176.5h1v1h-1zM194.8 183.1h1v1h-1zM198.4 176.5h1v1h-1zM198.8 168.1h1v1h-1zM200.3 174.0h1v1h-1zM191.5 173.8h1v1h-1zM196.7 168.3h1v1h-1zM193.4 172.8h1v1h-1zM199.0 168.8h1v1h-1zM194.9 156.0h1v1h-1zM192.8 157.2h1v1h-1zM196.9 148.4h1v1h-1zM195.3 149.3h1v1h-1zM196.8 127.8h1v1h-1zM193.9 126.1h1v1h-1zM197.8 130.5h1v1h-1zM191.1 121.1h1v1h-1zM193.1 117.8h1v1h-1zM200.1 119.8h1v1h-1zM192.8 122.4h1v1h-1zM196.5 111.5h1v1h-1zM199.7 108.9h1v1h-1zM197.0 104.9h1v1h-1zM193.2 105.4h1v1h-1zM192.0 98.2h1v1h-1zM194.5 104.2h1v1h-1zM191.9 96.4h1v1h-1zM193.6 93.3h1v1h-1zM193.3 85.4h1v1h-1zM199.8 88.3h1v1h-1zM210.5 286.5h1v1h-1zM211.0 279.8h1v1h-1zM202.7 277.3h1v1h-1zM208.5 284.8h1v1h-1zM211.3 288.9h1v1h-1zM207.2 277.7h1v1h-1zM210.6 278.8h1v1h-1zM209.2 269.4h1v1h-1zM207.7 268.2h1v1h-1zM202.5 273.5h1v1h-1zM205.2 263.1h1v1h-1zM211.0 275.8h1v1h-1zM207.2 267.8h1v1h-1zM202.8 260.0h1v1h-1zM204.0 258.1h1v1h-1zM203.7 247.9h1v1h-1zM204.5 247.5h1v1h-1zM205.1 246.7h1v1h-1zM208.4 241.5h1v1h-1zM207.6 245.3h1v1h-1zM201.3 244.5h1v1h-1zM208.4 226.5h1v1h-1zM203.9 223.1h1v1h-1zM203.7 226.9h1v1h-1zM204.8 228.6h1v1h-1zM205.4 228.3h1v1h-1zM206.6 225.6h1v1h-1zM209.2 227.0h1v1h-1zM208.1 217.8h1v1h-1zM211.2 220.0h1v1h-1zM207.4 213.8h1v1h-1zM208.4 221.4h1v1h-1zM205.0 215.6h1v1h-1zM201.9 217.9h1v1h-1zM209.8 220.9h1v1h-1zM208.0 203.6h1v1h-1zM204.6 201.6h1v1h-1zM205.9 205.0h1v1h-1zM209.4 185.9h1v1h-1zM206.6 192.7h1v1h-1zM205.3 195.3h1v1h-1zM201.0 196.7h1v1h-1zM209.6 195.9h1v1h-1zM202.0 176.5h1v1h-1zM211.3 184.0h1v1h-1zM202.4 182.7h1v1h-1zM210.5 182.8h1v1h-1zM201.4 179.6h1v1h-1zM202.5 184.4h1v1h-1zM205.1 175.1h1v1h-1zM201.6 174.2h1v1h-1zM204.7 172.4h1v1h-1zM211.2 165.8h1v1h-1zM205.8 173.8h1v1h-1zM209.0 159.8h1v1h-1zM202.6 158.7h1v1h-1zM204.7 144.6h1v1h-1zM209.2 148.0h1v1h-1zM207.6 147.6h1v1h-1zM205.9 145.7h1v1h-1zM201.3 134.4h1v1h-1zM210.7 141.2h1v1h-1zM211.3 115.8h1v1h-1zM206.0 114.9h1v1h-1zM205.6 108.3h1v1h-1zM203.8 101.3h1v1h-1zM204.3 101.4h1v1h-1zM210.5 101.2h1v1h-1zM205.2 92.8h1v1h-1zM203.3 93.8h1v1h-1zM206.1 94.2h1v1h-1zM203.1 91.5h1v1h-1zM204.8 95.4h1v1h-1zM209.2 90.5h1v1h-1zM207.0 93.5h1v1h-1zM206.3 89.6h1v1h-1zM208.5 85.8h1v1h-1zM209.9 83.1h1v1h-1zM204.9 71.1h1v1h-1zM208.2 81.3h1v1h-1zM212.3 278.6h1v1h-1zM220.4 291.2h1v1h-1zM213.5 289.3h1v1h-1zM212.8 279.5h1v1h-1zM220.0 282.7h1v1h-1zM212.6 279.0h1v1h-1zM215.3 281.8h1v1h-1zM214.8 276.8h1v1h-1zM212.1 289.8h1v1h-1zM212.5 284.3h1v1h-1zM213.0 270.8h1v1h-1zM213.8 273.9h1v1h-1zM213.2 270.8h1v1h-1zM214.0 249.1h1v1h-1zM211.8 260.6h1v1h-1zM217.6 250.0h1v1h-1zM215.2 250.8h1v1h-1zM218.2 260.4h1v1h-1zM214.4 251.4h1v1h-1zM214.2 255.3h1v1h-1zM219.3 258.3h1v1h-1zM220.2 245.5h1v1h-1zM218.9 247.1h1v1h-1zM218.1 224.9h1v1h-1zM219.8 232.8h1v1h-1zM216.7 232.6h1v1h-1zM213.5 217.7h1v1h-1zM218.5 214.5h1v1h-1zM220.1 209.6h1v1h-1zM216.3 215.4h1v1h-1zM214.7 201.4h1v1h-1zM217.0 199.4h1v1h-1zM211.7 198.6h1v1h-1zM214.8 208.3h1v1h-1zM216.6 187.0h1v1h-1zM217.5 186.6h1v1h-1zM213.7 190.6h1v1h-1zM211.7 190.7h1v1h-1zM219.4 195.3h1v1h-1zM212.8 175.6h1v1h-1zM214.5 178.0h1v1h-1zM214.7 166.9h1v1h-1zM216.6 172.3h1v1h-1zM213.9 165.4h1v1h-1zM215.2 174.6h1v1h-1zM216.5 175.0h1v1h-1zM215.1 156.3h1v1h-1zM217.3 158.4h1v1h-1zM214.9 161.1h1v1h-1zM214.1 158.3h1v1h-1zM217.3 150.6h1v1h-1zM212.2 145.0h1v1h-1zM213.6 133.7h1v1h-1zM214.0 135.8h1v1h-1zM214.9 123.2h1v1h-1zM217.1 132.4h1v1h-1zM218.0 128.8h1v1h-1zM218.7 130.9h1v1h-1zM216.7 127.8h1v1h-1zM218.1 105.5h1v1h-1zM212.7 98.2h1v1h-1zM216.9 96.6h1v1h-1zM218.0 93.1h1v1h-1zM215.2 70.9h1v1h-1zM218.7 75.7h1v1h-1zM222.3 288.2h1v1h-1zM221.8 277.2h1v1h-1zM222.6 288.2h1v1h-1zM227.5 280.0h1v1h-1zM224.6 267.3h1v1h-1zM228.3 273.2h1v1h-1zM222.3 261.4h1v1h-1zM227.4 276.2h1v1h-1zM221.5 258.8h1v1h-1zM228.8 250.6h1v1h-1zM228.3 247.7h1v1h-1zM225.9 228.4h1v1h-1zM222.3 223.5h1v1h-1zM228.9 231.4h1v1h-1zM227.5 213.8h1v1h-1zM225.8 214.0h1v1h-1zM223.3 210.0h1v1h-1zM222.7 199.1h1v1h-1zM222.6 199.7h1v1h-1zM228.3 193.6h1v1h-1zM221.6 186.3h1v1h-1zM223.9 185.6h1v1h-1zM223.2 175.5h1v1h-1zM228.4 158.3h1v1h-1zM223.2 144.6h1v1h-1zM227.3 144.1h1v1h-1zM221.8 128.1h1v1h-1zM222.0 130.8h1v1h-1zM222.9 132.3h1v1h-1zM221.2 120.4h1v1h-1zM220.8 116.8h1v1h-1zM228.0 103.2h1v1h-1zM226.0 99.6h1v1h-1zM227.7 103.4h1v1h-1zM228.8 102.3h1v1h-1zM223.3 95.3h1v1h-1zM225.8 92.2h1v1h-1zM228.2 95.3h1v1h-1zM227.6 88.4h1v1h-1zM226.7 88.7h1v1h-1zM223.8 81.3h1v1h-1zM228.3 72.1h1v1h-1zM229.6 277.0h1v1h-1zM231.0 276.8h1v1h-1zM233.2 280.9h1v1h-1zM234.7 284.6h1v1h-1zM234.0 285.3h1v1h-1zM229.0 282.3h1v1h-1zM233.1 277.5h1v1h-1zM236.1 261.8h1v1h-1zM232.7 269.1h1v1h-1zM229.3 261.8h1v1h-1zM229.4 273.7h1v1h-1zM230.5 258.9h1v1h-1zM230.3 255.3h1v1h-1zM232.7 251.3h1v1h-1zM230.4 254.0h1v1h-1zM235.7 254.4h1v1h-1zM230.3 249.3h1v1h-1zM229.4 245.7h1v1h-1zM232.2 238.6h1v1h-1zM232.7 241.7h1v1h-1zM229.4 243.4h1v1h-1zM232.5 236.5h1v1h-1zM229.1 231.6h1v1h-1zM230.6 232.9h1v1h-1zM230.5 225.4h1v1h-1zM236.5 229.8h1v1h-1zM230.5 226.9h1v1h-1zM233.6 222.3h1v1h-1zM234.6 218.2h1v1h-1zM233.7 218.3h1v1h-1zM229.9 214.7h1v1h-1zM230.6 204.6h1v1h-1zM233.2 207.0h1v1h-1zM236.1 196.7h1v1h-1zM234.1 187.1h1v1h-1zM234.3 186.0h1v1h-1zM234.4 186.1h1v1h-1zM235.1 186.3h1v1h-1zM230.9 179.0h1v1h-1zM232.8 179.0h1v1h-1zM232.2 184.1h1v1h-1zM232.7 175.3h1v1h-1zM232.0 180.8h1v1h-1zM233.9 179.3h1v1h-1zM231.8 175.9h1v1h-1zM229.1 169.8h1v1h-1zM236.8 164.5h1v1h-1zM230.2 173.4h1v1h-1zM231.8 171.2h1v1h-1zM232.0 169.1h1v1h-1zM232.7 159.3h1v1h-1zM235.9 157.6h1v1h-1zM232.5 153.6h1v1h-1zM236.5 149.8h1v1h-1zM233.4 152.8h1v1h-1zM231.2 138.8h1v1h-1zM234.0 125.1h1v1h-1zM235.1 115.6h1v1h-1zM229.7 114.4h1v1h-1zM230.9 117.2h1v1h-1zM234.3 115.4h1v1h-1zM229.3 114.4h1v1h-1zM233.9 111.7h1v1h-1zM231.5 113.2h1v1h-1zM236.2 96.1h1v1h-1zM232.5 95.0h1v1h-1zM235.0 92.3h1v1h-1zM231.7 89.8h1v1h-1zM237.9 288.0h1v1h-1zM241.3 290.3h1v1h-1zM239.8 278.1h1v1h-1zM237.6 279.3h1v1h-1zM240.0 281.6h1v1h-1zM244.2 284.8h1v1h-1zM240.7 287.9h1v1h-1zM244.3 288.5h1v1h-1zM238.8 268.3h1v1h-1zM243.7 250.4h1v1h-1zM237.3 251.9h1v1h-1zM242.0 255.6h1v1h-1zM240.2 254.9h1v1h-1zM242.9 248.3h1v1h-1zM241.6 257.8h1v1h-1zM242.4 253.3h1v1h-1zM243.1 250.6h1v1h-1zM240.7 249.5h1v1h-1zM239.9 237.7h1v1h-1zM238.1 228.9h1v1h-1zM243.4 230.3h1v1h-1zM239.8 220.9h1v1h-1zM243.4 216.9h1v1h-1zM237.9 203.6h1v1h-1zM242.5 199.5h1v1h-1zM238.4 205.1h1v1h-1zM244.5 188.0h1v1h-1zM242.5 192.8h1v1h-1zM237.9 177.1h1v1h-1zM241.9 183.7h1v1h-1zM238.5 184.7h1v1h-1zM238.6 183.5h1v1h-1zM239.8 182.3h1v1h-1zM243.7 168.0h1v1h-1zM237.3 170.0h1v1h-1zM240.2 167.4h1v1h-1zM239.6 167.3h1v1h-1zM241.5 156.6h1v1h-1zM238.9 147.7h1v1h-1zM240.5 152.3h1v1h-1zM237.6 144.8h1v1h-1zM242.0 142.5h1v1h-1zM237.6 129.7h1v1h-1zM244.3 133.1h1v1h-1zM244.2 130.2h1v1h-1zM240.1 122.5h1v1h-1zM243.7 115.6h1v1h-1zM237.5 116.8h1v1h-1zM243.6 111.7h1v1h-1zM239.0 107.0h1v1h-1zM241.4 100.4h1v1h-1zM242.6 100.3h1v1h-1zM237.9 86.0h1v1h-1zM240.4 78.7h1v1h-1zM242.2 77.5h1v1h-1zM249.9 291.3h1v1h-1zM246.0 292.7h1v1h-1zM245.7 287.6h1v1h-1zM248.2 279.8h1v1h-1zM246.3 267.4h1v1h-1zM248.5 270.0h1v1h-1zM244.8 266.3h1v1h-1zM246.9 264.7h1v1h-1zM244.9 263.8h1v1h-1zM248.1 267.0h1v1h-1zM245.6 262.6h1v1h-1zM249.8 248.5h1v1h-1zM248.9 252.5h1v1h-1zM249.1 254.5h1v1h-1zM249.6 255.0h1v1h-1zM249.5 247.7h1v1h-1zM245.1 239.5h1v1h-1zM246.3 236.2h1v1h-1zM246.9 222.3h1v1h-1zM246.1 229.9h1v1h-1zM246.0 210.5h1v1h-1zM246.1 216.9h1v1h-1zM245.0 221.4h1v1h-1zM247.7 203.3h1v1h-1zM247.8 194.9h1v1h-1zM245.5 180.0h1v1h-1zM246.7 185.2h1v1h-1zM245.4 179.1h1v1h-1zM245.6 180.5h1v1h-1zM247.9 174.6h1v1h-1zM249.8 174.0h1v1h-1zM246.2 159.9h1v1h-1zM245.2 150.8h1v1h-1zM245.5 150.3h1v1h-1zM248.3 145.3h1v1h-1zM245.5 141.9h1v1h-1zM246.4 123.6h1v1h-1zM248.0 117.7h1v1h-1zM247.0 114.8h1v1h-1zM249.0 105.3h1v1h-1zM245.5 98.3h1v1h-1zM246.0 105.8h1v1h-1zM245.9 96.9h1v1h-1zM248.5 91.6h1v1h-1zM251.3 289.6h1v1h-1zM251.2 290.6h1v1h-1zM263.4 273.8h1v1h-1zM254.9 274.5h1v1h-1zM255.0 248.4h1v1h-1zM260.4 253.3h1v1h-1zM258.7 238.5h1v1h-1zM254.4 244.2h1v1h-1zM264.2 239.6h1v1h-1zM258.6 222.8h1v1h-1zM256.8 219.5h1v1h-1zM252.2 213.6h1v1h-1zM255.6 210.4h1v1h-1zM254.7 202.4h1v1h-1zM263.2 198.1h1v1h-1zM257.9 190.2h1v1h-1zM260.1 195.7h1v1h-1zM253.5 196.0h1v1h-1zM258.0 185.9h1v1h-1zM250.2 186.6h1v1h-1zM252.5 181.1h1v1h-1zM264.3 184.0h1v1h-1zM260.0 183.7h1v1h-1zM257.1 161.5h1v1h-1zM252.2 155.1h1v1h-1zM264.0 148.2h1v1h-1zM250.3 138.8h1v1h-1zM256.3 143.3h1v1h-1zM256.7 126.6h1v1h-1zM255.6 117.1h1v1h-1zM257.6 105.3h1v1h-1zM253.9 90.7h1v1h-1zM263.9 86.6h1v1h-1zM258.4 87.2h1v1h-1zM148.7 117.2h1v1h-1zM122.9 117.6h1v1h-1zM113.1 116.9h1v1h-1zM101.6 117.4h1v1h-1zM156.8 117.5h1v1h-1zM104.4 116.2h1v1h-1zM120.1 116.1h1v1h-1zM101.4 116.9h1v1h-1zM115.5 116.8h1v1h-1zM49.7 116.6h1v1h-1zM173.5 115.9h1v1h-1zM47.8 117.7h1v1h-1zM67.4 117.4h1v1h-1zM170.5 116.2h1v1h-1zM103.1 116.2h1v1h-1zM249.5 116.7h1v1h-1zM191.2 116.3h1v1h-1zM192.5 116.6h1v1h-1zM146.6 116.1h1v1h-1zM242.1 116.0h1v1h-1zM134.9 116.0h1v1h-1zM82.1 117.2h1v1h-1zM54.1 117.1h1v1h-1zM76.7 116.4h1v1h-1zM55.6 117.3h1v1h-1zM195.0 116.1h1v1h-1zM247.8 270.3h1v1h-1zM134.0 269.7h1v1h-1zM111.8 270.0h1v1h-1zM174.1 271.2h1v1h-1zM207.9 269.8h1v1h-1zM234.7 271.2h1v1h-1zM162.8 269.5h1v1h-1zM48.8 270.5h1v1h-1zM77.9 269.8h1v1h-1zM120.1 269.7h1v1h-1zM170.0 269.9h1v1h-1zM241.3 270.9h1v1h-1zM144.2 270.6h1v1h-1zM49.4 270.9h1v1h-1zM103.3 271.0h1v1h-1zM146.4 270.4h1v1h-1zM154.2 270.6h1v1h-1zM229.2 269.8h1v1h-1zM95.2 270.2h1v1h-1zM181.2 270.3h1v1h-1zM203.1 270.1h1v1h-1zM92.1 270.2h1v1h-1zM243.4 270.3h1v1h-1zM88.1 270.1h1v1h-1zM233.8 269.5h1v1h-1zM231.4 270.5h1v1h-1zM245.6 270.9h1v1h-1zM51.1 168.1h1v1h-1zM209.8 169.5h1v1h-1zM197.2 169.4h1v1h-1zM153.6 169.6h1v1h-1zM71.9 168.4h1v1h-1zM57.7 169.4h1v1h-1zM149.1 168.6h1v1h-1zM243.2 169.6h1v1h-1zM189.6 168.8h1v1h-1zM240.5 169.3h1v1h-1zM46.7 168.5h1v1h-1zM177.2 168.1h1v1h-1zM151.5 169.4h1v1h-1zM241.2 168.6h1v1h-1zM71.4 169.6h1v1h-1zM175.8 169.4h1v1h-1zM112.3 168.5h1v1h-1zM75.1 169.0h1v1h-1zM126.8 169.6h1v1h-1zM136.4 168.2h1v1h-1zM101.1 169.3h1v1h-1zM131.8 169.8h1v1h-1zM156.2 169.7h1v1h-1zM190.1 169.5h1v1h-1zM155.6 168.4h1v1h-1zM156.0 168.9h1v1h-1zM90.0 169.7h1v1h-1zM108.4 168.4h1v1h-1zM134.7 178.9h1v1h-1zM243.9 178.9h1v1h-1zM234.1 177.4h1v1h-1zM144.2 178.0h1v1h-1zM219.1 178.3h1v1h-1zM114.6 178.9h1v1h-1zM186.8 178.1h1v1h-1zM123.6 177.6h1v1h-1zM191.6 178.4h1v1h-1zM196.0 178.1h1v1h-1zM91.6 177.9h1v1h-1zM126.6 178.8h1v1h-1zM214.4 178.3h1v1h-1zM55.4 178.8h1v1h-1zM205.3 178.8h1v1h-1zM107.9 177.8h1v1h-1zM85.6 178.8h1v1h-1zM88.4 178.4h1v1h-1zM233.2 179.0h1v1h-1zM112.8 177.7h1v1h-1zM177.6 179.1h1v1h-1zM249.7 179.1h1v1h-1zM161.3 179.0h1v1h-1zM232.7 178.7h1v1h-1zM249.1 179.0h1v1h-1zM182.8 178.6h1v1h-1zM73.8 178.1h1v1h-1zM224.2 178.4h1v1h-1zM60.0 177.5h1v1h-1zM188.9 124.8h1v1h-1zM41.0 124.3h1v1h-1zM84.6 123.7h1v1h-1zM229.4 123.9h1v1h-1zM65.9 124.1h1v1h-1zM218.7 123.8h1v1h-1zM220.0 124.4h1v1h-1zM96.5 124.4h1v1h-1zM99.6 123.7h1v1h-1zM96.0 124.1h1v1h-1zM136.2 124.3h1v1h-1zM163.2 124.6h1v1h-1zM153.1 124.3h1v1h-1zM139.2 123.5h1v1h-1zM49.3 124.4h1v1h-1zM100.7 124.0h1v1h-1zM146.0 124.4h1v1h-1zM90.9 124.2h1v1h-1zM66.8 123.9h1v1h-1zM222.1 124.0h1v1h-1zM218.6 124.7h1v1h-1zM90.7 125.0h1v1h-1zM257.3 125.0h1v1h-1zM94.1 124.2h1v1h-1zM131.0 124.0h1v1h-1zM130.7 90.9h1v1h-1zM139.4 90.1h1v1h-1zM190.1 89.6h1v1h-1zM60.6 90.0h1v1h-1zM183.5 90.4h1v1h-1zM149.0 90.6h1v1h-1zM124.7 89.9h1v1h-1zM239.7 90.7h1v1h-1zM159.0 90.6h1v1h-1zM238.4 90.5h1v1h-1zM95.8 89.9h1v1h-1zM85.2 89.4h1v1h-1zM190.9 90.1h1v1h-1zM153.6 90.8h1v1h-1zM86.6 90.2h1v1h-1zM213.7 90.2h1v1h-1zM73.2 91.1h1v1h-1zM103.0 90.4h1v1h-1zM53.6 91.1h1v1h-1zM138.6 90.6h1v1h-1zM110.9 91.0h1v1h-1zM217.1 90.3h1v1h-1zM223.9 86.3h1v1h-1zM98.2 85.4h1v1h-1zM131.8 85.6h1v1h-1zM202.0 85.9h1v1h-1zM89.8 85.6h1v1h-1zM220.8 86.0h1v1h-1zM163.2 86.2h1v1h-1zM77.1 86.4h1v1h-1zM219.6 86.7h1v1h-1zM80.7 86.3h1v1h-1zM221.5 86.9h1v1h-1zM209.4 86.1h1v1h-1zM143.8 85.6h1v1h-1zM66.4 85.9h1v1h-1zM227.3 86.2h1v1h-1zM100.3 85.7h1v1h-1zM216.1 86.5h1v1h-1zM40.8 86.7h1v1h-1zM227.5 85.5h1v1h-1zM233.4 86.7h1v1h-1zM193.1 85.6h1v1h-1zM93.4 85.9h1v1h-1zM171.1 86.3h1v1h-1zM232.9 86.5h1v1h-1zM170.3 86.4h1v1h-1zM209.8 85.5h1v1h-1zM158.1 86.7h1v1h-1zM232.2 86.3h1v1h-1zM76.9 173.6h1v1h-1zM191.7 172.9h1v1h-1zM174.4 172.2h1v1h-1zM143.2 173.3h1v1h-1zM144.5 172.6h1v1h-1zM86.9 172.4h1v1h-1zM240.4 173.1h1v1h-1zM197.4 172.2h1v1h-1zM97.4 173.6h1v1h-1zM139.2 172.0h1v1h-1zM137.6 172.5h1v1h-1zM95.7 173.3h1v1h-1zM42.7 172.2h1v1h-1zM229.4 173.2h1v1h-1zM226.3 172.1h1v1h-1zM67.1 172.1h1v1h-1zM175.1 173.2h1v1h-1zM98.5 172.0h1v1h-1zM83.7 172.3h1v1h-1zM238.3 172.0h1v1h-1zM248.0 171.9h1v1h-1zM134.3 172.5h1v1h-1zM167.3 189.6h1v1h-1zM228.6 188.9h1v1h-1zM239.5 189.0h1v1h-1zM174.5 189.7h1v1h-1zM53.2 188.5h1v1h-1zM189.5 188.7h1v1h-1zM177.6 188.7h1v1h-1zM227.6 189.9h1v1h-1zM205.7 189.9h1v1h-1zM120.2 188.9h1v1h-1zM130.9 189.4h1v1h-1zM193.4 188.9h1v1h-1zM131.0 188.4h1v1h-1zM45.0 188.4h1v1h-1zM132.0 189.7h1v1h-1zM222.3 189.0h1v1h-1zM230.8 189.3h1v1h-1zM186.6 189.3h1v1h-1zM90.3 188.9h1v1h-1zM60.1 189.8h1v1h-1zM163.0 188.2h1v1h-1zM189.8 189.1h1v1h-1zM125.7 188.5h1v1h-1zM176.5 189.5h1v1h-1zM168.0 188.4h1v1h-1zM183.0 189.5h1v1h-1zM48.9 189.9h1v1h-1zM97.5 188.5h1v1h-1zM94.8 189.0h1v1h-1zM55.6 189.9h1v1h-1zM94.3 189.3h1v1h-1zM174.5 189.4h1v1h-1zM151.4 248.0h1v1h-1zM135.2 248.8h1v1h-1zM52.7 247.9h1v1h-1zM144.3 248.8h1v1h-1zM202.8 249.4h1v1h-1zM168.2 248.3h1v1h-1zM46.6 249.3h1v1h-1zM126.5 248.3h1v1h-1zM147.5 248.5h1v1h-1zM153.9 248.2h1v1h-1zM185.4 248.1h1v1h-1zM191.9 249.5h1v1h-1zM199.9 249.3h1v1h-1zM213.5 248.3h1v1h-1zM106.9 248.3h1v1h-1zM65.8 248.0h1v1h-1zM106.3 248.0h1v1h-1zM45.8 248.0h1v1h-1zM263.0 248.9h1v1h-1zM182.8 248.4h1v1h-1zM245.4 248.6h1v1h-1zM81.7 220.8h1v1h-1zM182.8 220.2h1v1h-1zM196.6 221.1h1v1h-1zM198.4 220.3h1v1h-1zM244.7 221.1h1v1h-1zM226.9 219.5h1v1h-1zM189.1 219.5h1v1h-1zM253.2 219.8h1v1h-1zM77.1 219.5h1v1h-1zM99.2 220.8h1v1h-1zM168.0 220.3h1v1h-1zM225.1 219.8h1v1h-1zM89.6 220.9h1v1h-1zM215.1 220.1h1v1h-1zM181.8 220.0h1v1h-1zM43.5 219.7h1v1h-1zM70.4 219.3h1v1h-1zM73.9 220.5h1v1h-1zM134.6 219.7h1v1h-1zM198.1 219.4h1v1h-1zM94.2 220.8h1v1h-1zM175.9 221.0h1v1h-1zM212.4 220.2h1v1h-1zM125.7 220.9h1v1h-1zM160.7 219.3h1v1h-1zM224.0 221.1h1v1h-1zM204.7 220.7h1v1h-1zM261.9 221.0h1v1h-1zM185.3 220.0h1v1h-1zM239.4 219.4h1v1h-1zM71.3 220.9h1v1h-1zM96.0 219.9h1v1h-1zM58.7 220.5h1v1h-1zM92.0 219.6h1v1h-1zM150.5 220.6h1v1h-1zM76.2 220.8h1v1h-1zM201.3 219.6h1v1h-1zM108.2 114.6h1v1h-1zM107.6 114.4h1v1h-1zM206.2 113.8h1v1h-1zM114.4 114.6h1v1h-1zM208.9 114.9h1v1h-1zM193.9 115.1h1v1h-1zM83.9 114.1h1v1h-1zM174.5 114.1h1v1h-1zM169.6 114.2h1v1h-1zM230.2 114.1h1v1h-1zM130.4 113.6h1v1h-1zM129.7 114.8h1v1h-1zM165.8 115.0h1v1h-1zM47.0 115.0h1v1h-1zM99.7 114.9h1v1h-1zM155.6 114.4h1v1h-1zM45.6 113.4h1v1h-1zM206.0 115.0h1v1h-1zM100.4 114.3h1v1h-1zM156.8 115.0h1v1h-1zM255.7 114.9h1v1h-1zM211.5 113.8h1v1h-1zM41.7 114.8h1v1h-1zM186.9 113.7h1v1h-1zM113.5 113.9h1v1h-1zM117.6 113.7h1v1h-1zM94.6 113.4h1v1h-1zM195.8 114.3h1v1h-1zM48.1 114.2h1v1h-1zM255.7 114.3h1v1h-1zM127.7 114.9h1v1h-1zM136.9 114.3h1v1h-1zM172.5 113.7h1v1h-1zM122.3 114.2h1v1h-1zM99.8 114.8h1v1h-1zM44.5 114.6h1v1h-1zM225.3 209.8h1v1h-1zM90.8 209.1h1v1h-1zM42.4 209.5h1v1h-1zM232.3 209.0h1v1h-1zM43.1 209.2h1v1h-1zM155.8 210.1h1v1h-1zM53.9 209.7h1v1h-1zM57.5 210.0h1v1h-1zM56.7 210.2h1v1h-1zM175.8 209.1h1v1h-1zM172.6 209.5h1v1h-1zM203.8 208.8h1v1h-1zM79.3 209.8h1v1h-1zM197.3 209.1h1v1h-1zM58.0 209.5h1v1h-1zM172.4 209.1h1v1h-1zM94.5 209.1h1v1h-1zM49.9 210.1h1v1h-1zM52.7 209.9h1v1h-1zM76.7 208.9h1v1h-1zM204.9 209.8h1v1h-1zM119.6 209.9h1v1h-1zM97.4 210.2h1v1h-1zM113.5 210.1h1v1h-1zM148.6 209.3h1v1h-1zM93.7 209.0h1v1h-1zM203.3 209.1h1v1h-1zM43.4 210.1h1v1h-1zM255.1 210.2h1v1h-1zM105.4 210.2h1v1h-1zM192.1 210.0h1v1h-1zM106.1 209.8h1v1h-1zM203.2 209.8h1v1h-1zM194.4 209.9h1v1h-1zM61.2 210.3h1v1h-1zM83.4 209.3h1v1h-1zM178.4 208.6h1v1h-1zM180.9 209.1h1v1h-1zM78.6 210.4h1v1h-1zM81.6 210.6h1v1h-1zM233.1 210.4h1v1h-1zM45.0 209.5h1v1h-1zM173.2 210.6h1v1h-1zM236.3 210.9h1v1h-1zM179.1 210.3h1v1h-1zM127.2 210.5h1v1h-1zM90.7 211.1h1v1h-1zM82.1 211.1h1v1h-1zM75.3 210.2h1v1h-1zM72.4 209.9h1v1h-1zM259.5 210.8h1v1h-1zM104.0 209.7h1v1h-1zM152.0 210.0h1v1h-1zM262.3 209.5h1v1h-1zM144.0 209.8h1v1h-1zM161.6 210.4h1v1h-1zM229.7 210.1h1v1h-1zM148.8 209.7h1v1h-1zM183.8 210.0h1v1h-1zM49.5 210.9h1v1h-1zM157.3 210.3h1v1h-1zM69.2 209.9h1v1h-1zM179.9 209.7h1v1h-1zM79.9 210.0h1v1h-1zM87.3 210.5h1v1h-1zM98.4 210.5h1v1h-1zM139.0 210.9h1v1h-1zM40.2 209.9h1v1h-1zM168.3 209.4h1v1h-1zM74.2 209.8h1v1h-1zM40.3 137.8h1v1h-1zM125.9 138.1h1v1h-1zM231.7 137.7h1v1h-1zM140.6 137.1h1v1h-1zM175.3 137.4h1v1h-1zM166.6 137.0h1v1h-1zM163.3 138.4h1v1h-1zM186.3 138.2h1v1h-1zM65.3 138.3h1v1h-1zM140.1 137.2h1v1h-1zM118.0 136.6h1v1h-1zM78.1 138.3h1v1h-1zM184.4 137.3h1v1h-1zM237.8 137.2h1v1h-1zM120.8 136.8h1v1h-1zM87.5 138.1h1v1h-1zM233.5 136.8h1v1h-1zM56.6 137.0h1v1h-1zM50.6 137.5h1v1h-1zM143.9 137.2h1v1h-1zM56.4 138.3h1v1h-1zM217.9 137.4h1v1h-1zM60.4 137.5h1v1h-1zM86.2 138.3h1v1h-1zM100.9 234.9h1v1h-1zM177.5 235.8h1v1h-1zM124.5 235.0h1v1h-1zM163.0 235.7h1v1h-1zM128.0 235.9h1v1h-1zM129.0 235.8h1v1h-1zM80.3 236.1h1v1h-1zM242.5 235.8h1v1h-1zM44.1 235.2h1v1h-1zM237.5 236.2h1v1h-1zM53.0 235.9h1v1h-1zM160.3 236.1h1v1h-1zM105.1 236.1h1v1h-1zM182.8 235.7h1v1h-1zM109.9 235.4h1v1h-1zM157.9 235.1h1v1h-1zM66.4 234.9h1v1h-1zM189.9 236.1h1v1h-1zM257.3 235.3h1v1h-1zM135.8 235.4h1v1h-1zM210.6 235.7h1v1h-1zM152.9 236.5h1v1h-1zM155.2 234.9h1v1h-1zM85.3 235.3h1v1h-1zM65.8 236.5h1v1h-1zM199.9 236.1h1v1h-1zM148.3 235.9h1v1h-1zM139.8 235.2h1v1h-1zM202.3 123.1h1v1h-1zM201.4 101.3h1v1h-1zM201.3 269.3h1v1h-1zM201.3 275.4h1v1h-1zM201.2 131.2h1v1h-1zM201.4 228.1h1v1h-1zM201.6 92.5h1v1h-1zM201.7 122.9h1v1h-1zM202.1 93.0h1v1h-1zM202.4 227.9h1v1h-1zM200.8 169.7h1v1h-1zM201.1 228.4h1v1h-1zM200.9 201.4h1v1h-1zM201.2 118.0h1v1h-1zM201.8 97.9h1v1h-1zM201.1 292.2h1v1h-1zM201.4 278.0h1v1h-1zM200.9 98.4h1v1h-1zM202.3 151.0h1v1h-1zM201.1 196.2h1v1h-1zM202.0 131.7h1v1h-1zM201.7 151.4h1v1h-1zM192.5 164.6h1v1h-1zM193.5 245.3h1v1h-1zM193.8 220.6h1v1h-1zM192.8 96.7h1v1h-1zM192.7 168.3h1v1h-1zM193.6 95.8h1v1h-1zM192.6 206.7h1v1h-1zM192.7 210.7h1v1h-1zM192.9 282.1h1v1h-1zM192.5 88.5h1v1h-1zM193.5 93.3h1v1h-1zM193.5 146.4h1v1h-1zM193.9 144.6h1v1h-1zM194.0 244.8h1v1h-1zM193.8 205.3h1v1h-1zM193.0 261.7h1v1h-1zM193.0 212.6h1v1h-1zM193.8 240.9h1v1h-1zM192.8 132.8h1v1h-1zM192.9 104.3h1v1h-1zM192.8 196.1h1v1h-1zM192.4 161.5h1v1h-1zM193.1 103.9h1v1h-1zM193.6 257.1h1v1h-1zM193.5 279.3h1v1h-1zM137.9 168.9h1v1h-1zM138.6 143.1h1v1h-1zM139.3 139.4h1v1h-1zM138.9 157.2h1v1h-1zM139.3 247.8h1v1h-1zM138.0 287.3h1v1h-1zM137.7 138.8h1v1h-1zM137.7 254.6h1v1h-1zM138.3 278.5h1v1h-1zM138.2 245.7h1v1h-1zM138.8 253.5h1v1h-1zM139.3 254.6h1v1h-1zM138.2 220.2h1v1h-1zM138.4 221.3h1v1h-1zM138.2 207.6h1v1h-1zM139.4 108.0h1v1h-1zM138.4 277.2h1v1h-1zM138.4 260.2h1v1h-1zM138.8 117.8h1v1h-1zM139.0 216.2h1v1h-1zM138.4 206.6h1v1h-1zM137.8 184.1h1v1h-1zM138.5 98.9h1v1h-1zM81.0 272.3h1v1h-1zM82.0 96.5h1v1h-1zM80.7 139.5h1v1h-1zM81.0 209.0h1v1h-1zM80.8 236.8h1v1h-1zM80.7 144.0h1v1h-1zM81.9 110.5h1v1h-1zM81.5 126.0h1v1h-1zM81.9 151.0h1v1h-1zM81.7 234.1h1v1h-1zM82.3 214.2h1v1h-1zM80.8 110.7h1v1h-1zM82.1 196.3h1v1h-1zM80.9 133.2h1v1h-1zM80.6 221.4h1v1h-1zM81.4 104.8h1v1h-1zM82.2 234.9h1v1h-1zM81.3 240.3h1v1h-1zM80.5 288.3h1v1h-1zM81.8 219.8h1v1h-1zM80.8 77.1h1v1h-1zM81.1 130.2h1v1h-1zM80.8 102.7h1v1h-1zM81.5 85.7h1v1h-1zM81.2 109.1h1v1h-1zM80.6 157.4h1v1h-1zM81.9 163.6h1v1h-1zM81.1 98.1h1v1h-1zM81.8 272.6h1v1h-1zM80.7 276.8h1v1h-1zM82.2 97.0h1v1h-1zM81.0 208.7h1v1h-1zM81.7 166.1h1v1h-1zM145.4 261.8h1v1h-1zM146.1 94.9h1v1h-1zM145.6 255.9h1v1h-1zM145.2 160.3h1v1h-1zM146.5 158.9h1v1h-1zM146.1 131.4h1v1h-1zM145.9 111.7h1v1h-1zM146.2 154.1h1v1h-1zM145.9 254.2h1v1h-1zM145.0 140.1h1v1h-1zM144.9 99.7h1v1h-1zM145.1 256.3h1v1h-1zM146.4 77.9h1v1h-1zM146.5 276.2h1v1h-1zM145.5 227.2h1v1h-1zM146.0 265.4h1v1h-1zM145.5 275.2h1v1h-1zM145.6 124.8h1v1h-1zM145.7 173.0h1v1h-1zM145.4 129.4h1v1h-1zM146.5 138.1h1v1h-1zM146.2 208.6h1v1h-1zM146.2 261.6h1v1h-1zM145.4 249.4h1v1h-1zM196.9 251.1h1v1h-1zM196.6 237.6h1v1h-1zM197.0 275.5h1v1h-1zM198.1 177.2h1v1h-1zM198.3 217.3h1v1h-1zM196.5 118.2h1v1h-1zM196.9 269.3h1v1h-1zM198.1 247.5h1v1h-1zM197.7 121.5h1v1h-1zM198.2 184.6h1v1h-1zM197.5 227.6h1v1h-1zM196.7 229.9h1v1h-1zM197.9 236.6h1v1h-1zM197.6 218.2h1v1h-1zM198.1 260.9h1v1h-1zM196.6 88.0h1v1h-1zM197.4 250.9h1v1h-1zM198.1 199.7h1v1h-1zM197.8 244.6h1v1h-1zM198.0 288.4h1v1h-1zM197.6 90.7h1v1h-1zM197.6 146.0h1v1h-1zM197.3 113.2h1v1h-1zM197.9 168.9h1v1h-1zM198.2 104.6h1v1h-1zM197.3 261.7h1v1h-1zM197.7 252.4h1v1h-1zM147.6 157.9h1v1h-1zM148.6 228.0h1v1h-1zM147.7 209.8h1v1h-1zM148.3 231.1h1v1h-1zM148.0 229.5h1v1h-1zM147.7 208.6h1v1h-1zM147.7 147.9h1v1h-1zM148.9 123.1h1v1h-1zM147.9 169.4h1v1h-1zM149.0 205.2h1v1h-1zM148.7 88.5h1v1h-1zM148.5 174.8h1v1h-1zM147.7 150.7h1v1h-1zM148.7 134.5h1v1h-1zM147.3 129.1h1v1h-1zM148.4 268.5h1v1h-1zM147.9 288.5h1v1h-1zM147.7 206.4h1v1h-1zM148.0 87.6h1v1h-1zM147.3 283.4h1v1h-1zM148.7 196.8h1v1h-1zM148.7 123.1h1v1h-1zM147.8 248.3h1v1h-1zM63.7 234.8h1v1h-1zM64.8 97.3h1v1h-1zM64.5 144.1h1v1h-1zM63.4 260.2h1v1h-1zM63.7 116.8h1v1h-1zM63.8 145.9h1v1h-1zM63.8 278.2h1v1h-1zM63.6 247.2h1v1h-1zM63.5 98.8h1v1h-1zM63.8 102.4h1v1h-1zM64.6 90.4h1v1h-1zM63.8 181.7h1v1h-1zM64.0 180.5h1v1h-1zM63.9 175.2h1v1h-1zM64.9 219.2h1v1h-1zM64.9 131.7h1v1h-1zM64.1 233.1h1v1h-1zM63.4 292.9h1v1h-1zM63.5 230.8h1v1h-1zM64.2 181.0h1v1h-1zM64.3 233.5h1v1h-1zM63.6 93.2h1v1h-1zM237.6 134.5h1v1h-1zM236.6 110.4h1v1h-1zM237.3 150.0h1v1h-1zM236.0 220.4h1v1h-1zM236.9 289.8h1v1h-1zM235.9 166.7h1v1h-1zM236.7 190.7h1v1h-1zM236.2 134.7h1v1h-1zM236.9 110.7h1v1h-1zM237.4 264.3h1v1h-1zM237.3 168.2h1v1h-1zM237.6 153.0h1v1h-1zM237.0 269.1h1v1h-1zM235.9 143.6h1v1h-1zM237.6 208.4h1v1h-1zM235.9 198.7h1v1h-1zM236.4 129.9h1v1h-1zM236.3 205.3h1v1h-1zM237.4 79.5h1v1h-1zM237.2 266.4h1v1h-1zM236.8 205.9h1v1h-1zM237.4 183.0h1v1h-1zM236.3 71.7h1v1h-1zM236.7 140.8h1v1h-1zM237.4 286.9h1v1h-1zM236.1 198.9h1v1h-1zM235.9 276.6h1v1h-1zM237.5 110.2h1v1h-1zM236.3 109.8h1v1h-1zM235.9 270.6h1v1h-1zM190.3 225.8h1v1h-1zM190.9 91.0h1v1h-1zM189.9 181.4h1v1h-1zM191.4 203.7h1v1h-1zM191.5 156.4h1v1h-1zM191.4 215.5h1v1h-1zM189.9 205.8h1v1h-1zM190.8 161.9h1v1h-1zM191.0 194.9h1v1h-1zM189.9 292.4h1v1h-1zM191.4 199.9h1v1h-1zM189.9 174.2h1v1h-1zM191.2 109.4h1v1h-1zM189.8 291.5h1v1h-1zM189.8 177.8h1v1h-1zM190.3 116.5h1v1h-1zM190.6 204.3h1v1h-1zM191.3 103.5h1v1h-1zM190.5 185.5h1v1h-1zM190.2 97.4h1v1h-1zM190.5 237.6h1v1h-1zM190.8 250.3h1v1h-1zM190.8 141.2h1v1h-1zM107.1 170.1h1v1h-1zM105.7 276.2h1v1h-1zM105.6 261.2h1v1h-1zM107.1 169.9h1v1h-1zM106.3 88.7h1v1h-1zM106.3 86.1h1v1h-1zM107.3 146.7h1v1h-1zM106.2 87.5h1v1h-1zM106.2 154.6h1v1h-1zM105.7 153.5h1v1h-1zM106.7 255.6h1v1h-1zM106.4 244.8h1v1h-1zM107.1 86.5h1v1h-1zM105.8 219.1h1v1h-1zM106.1 147.4h1v1h-1zM105.7 143.6h1v1h-1zM106.4 107.4h1v1h-1zM107.3 247.6h1v1h-1zM105.6 108.6h1v1h-1zM106.8 252.5h1v1h-1zM105.9 146.2h1v1h-1zM106.0 271.4h1v1h-1zM107.2 214.2h1v1h-1zM105.8 198.7h1v1h-1zM106.7 155.5h1v1h-1zM50.6 179.1h1v1h-1zM50.3 96.6h1v1h-1zM50.5 98.8h1v1h-1zM50.4 214.1h1v1h-1zM50.8 107.0h1v1h-1zM50.8 273.6h1v1h-1zM49.8 205.5h1v1h-1zM50.7 160.3h1v1h-1zM49.7 203.6h1v1h-1zM50.2 88.7h1v1h-1zM49.1 272.4h1v1h-1zM49.4 127.6h1v1h-1zM49.5 184.6h1v1h-1zM49.1 213.3h1v1h-1zM49.9 214.5h1v1h-1zM50.0 212.1h1v1h-1zM50.2 198.8h1v1h-1zM50.8 151.9h1v1h-1zM49.9 144.2h1v1h-1zM50.0 257.6h1v1h-1zM49.9 92.3h1v1h-1zM50.5 135.7h1v1h-1zM50.3 160.8h1v1h-1zM49.2 115.0h1v1h-1zM50.4 143.5h1v1h-1zM50.2 215.8h1v1h-1zM50.5 263.0h1v1h-1zM49.9 237.3h1v1h-1zM49.8 111.4h1v1h-1zM49.3 253.8h1v1h-1zM233.3 130.3h1v1h-1zM233.0 258.4h1v1h-1zM232.6 153.3h1v1h-1zM232.5 274.1h1v1h-1zM233.0 157.4h1v1h-1zM233.2 216.9h1v1h-1zM232.8 180.6h1v1h-1zM232.2 174.2h1v1h-1zM232.1 158.8h1v1h-1zM231.8 239.3h1v1h-1zM232.9 214.1h1v1h-1zM233.1 182.8h1v1h-1zM233.2 277.6h1v1h-1zM232.8 225.3h1v1h-1zM232.2 129.9h1v1h-1zM232.8 95.2h1v1h-1zM232.1 156.6h1v1h-1zM232.6 198.2h1v1h-1zM231.8 144.0h1v1h-1zM232.0 268.3h1v1h-1zM232.0 164.6h1v1h-1zM233.1 262.1h1v1h-1zM231.8 70.8h1v1h-1zM232.1 256.9h1v1h-1zM232.2 167.3h1v1h-1zM232.8 109.0h1v1h-1zM231.9 208.3h1v1h-1zM233.1 128.7h1v1h-1zM233.0 199.3h1v1h-1zM233.4 224.4h1v1h-1zM179.5 270.0h1v1h-1zM178.7 132.5h1v1h-1zM178.2 218.5h1v1h-1zM179.5 113.6h1v1h-1zM179.2 278.7h1v1h-1zM178.2 268.5h1v1h-1zM178.3 86.6h1v1h-1zM178.7 251.3h1v1h-1zM178.1 90.4h1v1h-1zM179.5 117.4h1v1h-1zM178.6 284.0h1v1h-1zM178.7 227.8h1v1h-1zM178.7 263.9h1v1h-1zM178.1 191.6h1v1h-1zM178.7 98.5h1v1h-1zM179.4 276.4h1v1h-1zM179.3 130.0h1v1h-1zM177.9 214.3h1v1h-1zM178.0 219.1h1v1h-1zM178.4 275.0h1v1h-1zM179.1 285.9h1v1h-1zM237.9 124.4h1v1h-1zM236.9 219.4h1v1h-1zM237.4 109.8h1v1h-1zM237.7 128.8h1v1h-1zM237.7 79.6h1v1h-1zM237.7 180.9h1v1h-1zM238.1 268.2h1v1h-1zM237.4 190.1h1v1h-1zM237.9 291.7h1v1h-1zM237.3 212.9h1v1h-1zM237.0 215.4h1v1h-1zM237.1 271.0h1v1h-1zM238.3 152.2h1v1h-1zM237.3 215.6h1v1h-1zM237.0 209.5h1v1h-1zM237.5 192.6h1v1h-1zM238.3 225.5h1v1h-1zM237.5 265.8h1v1h-1zM237.5 193.5h1v1h-1zM237.2 185.2h1v1h-1zM126.3 136.5h1v1h-1zM127.4 264.0h1v1h-1zM126.0 185.0h1v1h-1zM127.2 270.7h1v1h-1zM127.0 96.7h1v1h-1zM126.1 108.3h1v1h-1zM126.1 225.1h1v1h-1zM127.1 167.0h1v1h-1zM126.3 190.4h1v1h-1zM127.0 245.7h1v1h-1zM126.2 115.9h1v1h-1zM126.4 256.7h1v1h-1zM127.0 276.7h1v1h-1zM127.4 229.5h1v1h-1zM125.9 229.9h1v1h-1zM127.0 224.2h1v1h-1zM127.1 125.9h1v1h-1zM127.0 242.8h1v1h-1zM126.3 90.7h1v1h-1zM126.3 220.4h1v1h-1zM127.5 115.1h1v1h-1zM127.3 223.7h1v1h-1zM127.4 277.9h1v1h-1z" fill="#d4c2c3"/>
<path d="M52.8 267.5h1v1h-1zM46.4 276.1h1v1h-1zM41.2 271.1h1v1h-1zM47.5 264.3h1v1h-1zM42.6 275.3h1v1h-1zM44.2 264.3h1v1h-1zM43.8 255.4h1v1h-1zM41.3 255.2h1v1h-1zM55.0 257.8h1v1h-1zM51.4 260.0h1v1h-1zM47.0 258.5h1v1h-1zM50.7 261.3h1v1h-1zM52.1 253.1h1v1h-1zM49.7 253.8h1v1h-1zM53.4 260.2h1v1h-1zM42.3 254.5h1v1h-1zM41.2 248.2h1v1h-1zM50.5 243.3h1v1h-1zM48.7 242.7h1v1h-1zM41.5 246.9h1v1h-1zM52.0 237.4h1v1h-1zM47.3 241.9h1v1h-1zM48.1 235.0h1v1h-1zM42.5 241.4h1v1h-1zM42.1 227.3h1v1h-1zM54.3 224.7h1v1h-1zM41.9 215.5h1v1h-1zM50.0 209.2h1v1h-1zM54.9 219.2h1v1h-1zM52.4 218.9h1v1h-1zM46.8 220.4h1v1h-1zM51.6 206.2h1v1h-1zM50.7 205.4h1v1h-1zM52.6 190.1h1v1h-1zM41.9 195.6h1v1h-1zM43.5 178.9h1v1h-1zM53.5 181.9h1v1h-1zM46.2 176.3h1v1h-1zM42.4 179.1h1v1h-1zM46.1 176.5h1v1h-1zM55.2 179.9h1v1h-1zM50.6 165.8h1v1h-1zM52.8 170.0h1v1h-1zM54.2 173.1h1v1h-1zM48.7 172.1h1v1h-1zM43.6 166.8h1v1h-1zM44.7 166.1h1v1h-1zM45.2 170.3h1v1h-1zM48.0 167.1h1v1h-1zM40.8 163.7h1v1h-1zM46.2 162.1h1v1h-1zM45.4 156.6h1v1h-1zM52.8 153.9h1v1h-1zM40.2 147.6h1v1h-1zM40.2 153.8h1v1h-1zM44.3 145.8h1v1h-1zM52.1 147.1h1v1h-1zM50.8 141.4h1v1h-1zM46.3 138.7h1v1h-1zM53.7 126.0h1v1h-1zM44.0 129.0h1v1h-1zM50.4 130.3h1v1h-1zM52.1 122.1h1v1h-1zM56.1 120.0h1v1h-1zM41.0 122.1h1v1h-1zM40.8 114.5h1v1h-1zM44.9 113.5h1v1h-1zM47.9 107.3h1v1h-1zM55.0 113.1h1v1h-1zM44.7 99.9h1v1h-1zM41.5 100.1h1v1h-1zM40.6 101.5h1v1h-1zM46.0 103.1h1v1h-1zM48.6 101.9h1v1h-1zM52.9 104.2h1v1h-1zM47.4 92.2h1v1h-1zM42.7 95.5h1v1h-1zM40.7 93.9h1v1h-1zM40.6 97.8h1v1h-1zM45.7 88.6h1v1h-1zM46.0 81.6h1v1h-1zM46.4 71.7h1v1h-1zM49.1 72.5h1v1h-1zM57.0 282.5h1v1h-1zM61.0 290.5h1v1h-1zM61.8 252.5h1v1h-1zM67.3 260.9h1v1h-1zM57.7 249.2h1v1h-1zM58.4 253.9h1v1h-1zM64.1 250.0h1v1h-1zM67.8 251.2h1v1h-1zM61.7 252.3h1v1h-1zM57.3 251.7h1v1h-1zM62.5 252.0h1v1h-1zM57.5 235.4h1v1h-1zM61.0 247.0h1v1h-1zM72.1 240.4h1v1h-1zM69.2 245.1h1v1h-1zM62.9 245.2h1v1h-1zM71.4 226.9h1v1h-1zM62.4 230.2h1v1h-1zM58.1 226.0h1v1h-1zM66.2 220.3h1v1h-1zM63.9 221.6h1v1h-1zM72.1 209.9h1v1h-1zM67.7 212.2h1v1h-1zM63.7 215.9h1v1h-1zM57.8 216.1h1v1h-1zM64.3 212.1h1v1h-1zM62.0 207.4h1v1h-1zM66.4 207.6h1v1h-1zM66.5 202.0h1v1h-1zM71.3 189.6h1v1h-1zM70.2 189.0h1v1h-1zM62.0 194.8h1v1h-1zM69.5 182.1h1v1h-1zM58.9 179.4h1v1h-1zM69.3 183.0h1v1h-1zM70.0 185.2h1v1h-1zM65.0 176.5h1v1h-1zM64.6 178.4h1v1h-1zM56.8 165.9h1v1h-1zM62.8 167.5h1v1h-1zM63.7 164.8h1v1h-1zM60.6 156.7h1v1h-1zM61.6 162.4h1v1h-1zM66.6 154.5h1v1h-1zM69.7 145.0h1v1h-1zM68.8 144.8h1v1h-1zM60.7 134.2h1v1h-1zM68.5 129.1h1v1h-1zM70.2 124.7h1v1h-1zM71.9 120.2h1v1h-1zM61.3 117.1h1v1h-1zM64.7 110.7h1v1h-1zM69.0 114.0h1v1h-1zM60.6 101.7h1v1h-1zM61.3 100.5h1v1h-1zM58.9 91.7h1v1h-1zM71.1 91.2h1v1h-1zM67.2 96.9h1v1h-1zM57.9 92.5h1v1h-1zM71.2 82.8h1v1h-1zM61.1 73.0h1v1h-1zM83.1 280.6h1v1h-1zM84.7 288.1h1v1h-1zM81.9 290.2h1v1h-1zM79.2 282.4h1v1h-1zM73.7 293.0h1v1h-1zM84.0 289.5h1v1h-1zM82.7 271.3h1v1h-1zM78.7 276.1h1v1h-1zM78.0 270.2h1v1h-1zM80.6 262.1h1v1h-1zM76.3 264.8h1v1h-1zM84.3 265.3h1v1h-1zM84.4 276.4h1v1h-1zM77.7 271.7h1v1h-1zM81.1 237.6h1v1h-1zM80.1 245.5h1v1h-1zM77.5 242.4h1v1h-1zM82.8 238.9h1v1h-1zM85.2 239.2h1v1h-1zM74.2 238.7h1v1h-1zM73.8 235.7h1v1h-1zM81.7 222.1h1v1h-1zM83.9 224.4h1v1h-1zM81.7 226.1h1v1h-1zM81.8 224.5h1v1h-1zM81.7 222.5h1v1h-1zM76.4 233.1h1v1h-1zM79.5 219.1h1v1h-1zM76.1 211.5h1v1h-1zM79.2 213.0h1v1h-1zM75.8 219.4h1v1h-1zM79.9 201.5h1v1h-1zM76.1 207.2h1v1h-1zM82.4 206.1h1v1h-1zM74.0 190.0h1v1h-1zM85.6 193.9h1v1h-1zM84.4 192.1h1v1h-1zM79.9 176.7h1v1h-1zM78.8 182.9h1v1h-1zM77.6 178.6h1v1h-1zM77.8 177.2h1v1h-1zM73.8 182.4h1v1h-1zM78.0 170.9h1v1h-1zM74.0 174.1h1v1h-1zM80.6 167.8h1v1h-1zM77.9 161.1h1v1h-1zM77.0 162.6h1v1h-1zM74.1 150.2h1v1h-1zM73.3 146.3h1v1h-1zM78.0 146.6h1v1h-1zM72.6 150.2h1v1h-1zM82.8 136.9h1v1h-1zM72.2 143.6h1v1h-1zM77.4 124.7h1v1h-1zM85.5 124.9h1v1h-1zM81.0 130.6h1v1h-1zM78.0 132.9h1v1h-1zM73.6 123.1h1v1h-1zM75.3 130.6h1v1h-1zM83.0 125.7h1v1h-1zM76.3 127.7h1v1h-1zM81.5 116.0h1v1h-1zM85.0 119.4h1v1h-1zM73.2 116.3h1v1h-1zM78.9 117.2h1v1h-1zM79.1 121.2h1v1h-1zM79.4 121.4h1v1h-1zM82.5 109.9h1v1h-1zM75.3 112.0h1v1h-1zM75.4 99.8h1v1h-1zM85.4 105.6h1v1h-1zM78.6 103.8h1v1h-1zM84.8 104.6h1v1h-1zM82.2 104.6h1v1h-1zM72.8 98.3h1v1h-1zM73.1 105.1h1v1h-1zM81.4 90.3h1v1h-1zM83.2 97.5h1v1h-1zM80.6 95.1h1v1h-1zM80.3 96.7h1v1h-1zM85.7 93.7h1v1h-1zM80.3 87.2h1v1h-1zM76.1 89.2h1v1h-1zM81.7 88.1h1v1h-1zM94.9 278.7h1v1h-1zM95.2 282.2h1v1h-1zM89.5 281.5h1v1h-1zM97.5 277.6h1v1h-1zM88.9 288.1h1v1h-1zM99.0 264.0h1v1h-1zM87.5 262.6h1v1h-1zM93.8 271.3h1v1h-1zM97.4 271.9h1v1h-1zM92.3 275.4h1v1h-1zM90.4 262.2h1v1h-1zM96.7 257.8h1v1h-1zM88.5 253.7h1v1h-1zM86.0 248.2h1v1h-1zM93.9 251.7h1v1h-1zM96.2 223.6h1v1h-1zM87.5 227.4h1v1h-1zM94.1 216.0h1v1h-1zM95.4 216.9h1v1h-1zM90.6 211.2h1v1h-1zM94.1 191.0h1v1h-1zM93.3 196.2h1v1h-1zM95.0 181.5h1v1h-1zM88.4 178.1h1v1h-1zM93.0 182.7h1v1h-1zM96.3 177.9h1v1h-1zM98.4 179.8h1v1h-1zM98.4 169.2h1v1h-1zM95.0 168.9h1v1h-1zM94.4 158.1h1v1h-1zM95.9 151.5h1v1h-1zM98.4 140.4h1v1h-1zM93.6 139.5h1v1h-1zM91.4 143.1h1v1h-1zM96.0 129.6h1v1h-1zM86.2 128.5h1v1h-1zM94.6 126.0h1v1h-1zM96.4 126.7h1v1h-1zM91.5 133.3h1v1h-1zM94.1 114.2h1v1h-1zM86.2 110.2h1v1h-1zM88.0 106.7h1v1h-1zM96.8 109.1h1v1h-1zM99.1 94.8h1v1h-1zM86.3 94.9h1v1h-1zM94.5 87.4h1v1h-1zM86.8 75.8h1v1h-1zM86.9 82.6h1v1h-1zM108.2 280.2h1v1h-1zM108.7 287.5h1v1h-1zM102.7 291.6h1v1h-1zM102.7 282.8h1v1h-1zM109.4 289.2h1v1h-1zM105.2 281.7h1v1h-1zM111.0 276.5h1v1h-1zM111.9 267.2h1v1h-1zM106.0 262.8h1v1h-1zM111.5 262.1h1v1h-1zM106.7 252.0h1v1h-1zM99.5 257.2h1v1h-1zM106.7 249.0h1v1h-1zM110.6 241.2h1v1h-1zM103.7 244.5h1v1h-1zM108.6 243.7h1v1h-1zM105.7 238.7h1v1h-1zM105.7 247.7h1v1h-1zM101.9 212.0h1v1h-1zM100.4 217.0h1v1h-1zM100.3 217.8h1v1h-1zM103.8 215.8h1v1h-1zM99.5 220.1h1v1h-1zM101.6 202.4h1v1h-1zM101.7 204.0h1v1h-1zM107.1 201.3h1v1h-1zM105.9 186.4h1v1h-1zM103.7 188.1h1v1h-1zM102.5 190.3h1v1h-1zM102.6 177.2h1v1h-1zM110.0 184.1h1v1h-1zM103.3 177.1h1v1h-1zM102.4 185.8h1v1h-1zM110.3 185.8h1v1h-1zM106.0 174.4h1v1h-1zM104.2 167.7h1v1h-1zM99.4 163.1h1v1h-1zM109.7 154.9h1v1h-1zM110.2 164.0h1v1h-1zM104.8 146.7h1v1h-1zM100.4 149.4h1v1h-1zM99.7 139.0h1v1h-1zM107.3 142.5h1v1h-1zM106.8 142.5h1v1h-1zM111.0 127.9h1v1h-1zM101.5 126.7h1v1h-1zM105.7 133.4h1v1h-1zM108.7 122.4h1v1h-1zM111.7 120.9h1v1h-1zM105.0 121.8h1v1h-1zM105.4 122.4h1v1h-1zM102.1 120.4h1v1h-1zM110.5 110.3h1v1h-1zM99.6 111.7h1v1h-1zM101.6 104.7h1v1h-1zM111.0 98.1h1v1h-1zM108.8 92.9h1v1h-1zM108.2 93.0h1v1h-1zM119.0 291.8h1v1h-1zM117.4 291.8h1v1h-1zM120.4 280.2h1v1h-1zM118.6 287.0h1v1h-1zM121.3 272.2h1v1h-1zM119.5 270.2h1v1h-1zM117.4 264.6h1v1h-1zM119.0 257.7h1v1h-1zM117.1 257.2h1v1h-1zM118.4 259.4h1v1h-1zM113.5 260.0h1v1h-1zM123.5 251.0h1v1h-1zM115.2 257.8h1v1h-1zM113.8 257.4h1v1h-1zM123.7 241.0h1v1h-1zM119.1 238.4h1v1h-1zM119.4 229.0h1v1h-1zM119.5 228.6h1v1h-1zM121.3 232.3h1v1h-1zM122.2 201.3h1v1h-1zM122.9 204.2h1v1h-1zM123.0 182.9h1v1h-1zM114.1 179.7h1v1h-1zM114.4 174.6h1v1h-1zM124.1 166.1h1v1h-1zM115.7 167.6h1v1h-1zM113.1 148.3h1v1h-1zM120.7 144.1h1v1h-1zM120.2 140.8h1v1h-1zM124.6 143.3h1v1h-1zM122.7 125.8h1v1h-1zM114.2 125.6h1v1h-1zM112.9 121.5h1v1h-1zM115.6 122.3h1v1h-1zM124.8 111.2h1v1h-1zM115.6 112.3h1v1h-1zM118.8 103.0h1v1h-1zM119.1 90.7h1v1h-1zM121.0 97.7h1v1h-1zM120.3 84.6h1v1h-1zM134.6 280.4h1v1h-1zM127.8 287.8h1v1h-1zM136.7 279.9h1v1h-1zM125.9 290.7h1v1h-1zM129.4 283.5h1v1h-1zM134.3 263.8h1v1h-1zM130.9 268.4h1v1h-1zM131.4 260.1h1v1h-1zM125.6 258.8h1v1h-1zM136.4 250.3h1v1h-1zM130.2 260.0h1v1h-1zM130.8 243.8h1v1h-1zM136.9 242.8h1v1h-1zM131.9 230.2h1v1h-1zM127.8 219.4h1v1h-1zM131.1 216.0h1v1h-1zM132.2 190.1h1v1h-1zM130.5 195.9h1v1h-1zM133.5 187.6h1v1h-1zM136.2 176.2h1v1h-1zM131.3 182.8h1v1h-1zM134.2 179.9h1v1h-1zM126.7 178.3h1v1h-1zM136.9 170.6h1v1h-1zM130.8 167.6h1v1h-1zM129.8 165.2h1v1h-1zM128.8 166.1h1v1h-1zM136.0 143.0h1v1h-1zM130.4 137.9h1v1h-1zM136.0 138.2h1v1h-1zM126.2 130.1h1v1h-1zM125.2 131.4h1v1h-1zM137.0 131.6h1v1h-1zM126.8 132.2h1v1h-1zM127.4 132.6h1v1h-1zM129.2 131.3h1v1h-1zM133.8 116.1h1v1h-1zM132.9 115.6h1v1h-1zM136.5 113.2h1v1h-1zM132.6 106.5h1v1h-1zM126.0 101.7h1v1h-1zM137.1 104.2h1v1h-1zM137.0 105.3h1v1h-1zM134.9 96.6h1v1h-1zM130.4 88.3h1v1h-1zM141.3 277.8h1v1h-1zM145.6 280.8h1v1h-1zM141.8 289.2h1v1h-1zM147.7 287.3h1v1h-1zM141.3 286.3h1v1h-1zM138.8 283.4h1v1h-1zM146.9 263.0h1v1h-1zM146.7 273.5h1v1h-1zM145.6 250.4h1v1h-1zM142.1 248.9h1v1h-1zM147.1 253.6h1v1h-1zM147.1 255.9h1v1h-1zM142.4 249.0h1v1h-1zM145.5 250.9h1v1h-1zM145.9 258.5h1v1h-1zM143.7 254.4h1v1h-1zM147.2 261.2h1v1h-1zM147.5 239.6h1v1h-1zM143.8 242.5h1v1h-1zM145.2 235.9h1v1h-1zM141.8 224.5h1v1h-1zM142.2 231.8h1v1h-1zM143.2 227.7h1v1h-1zM147.6 224.7h1v1h-1zM138.6 216.0h1v1h-1zM141.5 212.3h1v1h-1zM139.0 216.2h1v1h-1zM141.0 217.5h1v1h-1zM138.0 213.5h1v1h-1zM148.3 180.1h1v1h-1zM137.5 183.2h1v1h-1zM137.7 178.3h1v1h-1zM139.4 176.8h1v1h-1zM140.9 185.4h1v1h-1zM145.0 172.3h1v1h-1zM138.4 159.1h1v1h-1zM147.3 147.4h1v1h-1zM147.3 135.7h1v1h-1zM147.5 135.3h1v1h-1zM144.4 128.1h1v1h-1zM145.4 130.6h1v1h-1zM139.6 129.9h1v1h-1zM143.4 131.3h1v1h-1zM147.1 133.3h1v1h-1zM137.4 131.2h1v1h-1zM140.5 114.6h1v1h-1zM144.8 122.7h1v1h-1zM147.0 114.9h1v1h-1zM143.4 99.1h1v1h-1zM147.4 90.4h1v1h-1zM145.8 95.6h1v1h-1zM144.4 88.4h1v1h-1zM139.2 79.0h1v1h-1zM144.1 78.4h1v1h-1zM152.8 288.6h1v1h-1zM150.7 286.0h1v1h-1zM150.5 282.9h1v1h-1zM158.2 288.4h1v1h-1zM150.9 288.0h1v1h-1zM150.0 290.5h1v1h-1zM154.2 285.8h1v1h-1zM152.6 274.6h1v1h-1zM150.9 264.4h1v1h-1zM157.7 262.9h1v1h-1zM156.7 255.5h1v1h-1zM152.2 253.9h1v1h-1zM157.8 259.1h1v1h-1zM151.2 246.6h1v1h-1zM151.6 234.0h1v1h-1zM156.6 215.7h1v1h-1zM150.4 211.7h1v1h-1zM149.5 212.7h1v1h-1zM150.7 221.0h1v1h-1zM154.3 210.7h1v1h-1zM152.2 199.2h1v1h-1zM153.8 203.5h1v1h-1zM155.8 191.2h1v1h-1zM152.0 195.0h1v1h-1zM150.7 191.9h1v1h-1zM155.2 164.5h1v1h-1zM158.1 164.4h1v1h-1zM156.7 169.6h1v1h-1zM151.8 159.6h1v1h-1zM158.7 162.6h1v1h-1zM154.8 161.2h1v1h-1zM156.9 156.9h1v1h-1zM154.6 155.6h1v1h-1zM150.5 155.2h1v1h-1zM158.1 161.0h1v1h-1zM152.1 152.3h1v1h-1zM152.9 145.9h1v1h-1zM156.8 149.9h1v1h-1zM158.4 153.8h1v1h-1zM150.4 138.7h1v1h-1zM157.4 131.1h1v1h-1zM150.0 125.0h1v1h-1zM150.2 127.5h1v1h-1zM150.7 124.6h1v1h-1zM155.8 126.8h1v1h-1zM154.0 124.3h1v1h-1zM154.5 129.8h1v1h-1zM148.8 132.5h1v1h-1zM152.5 116.0h1v1h-1zM149.6 118.3h1v1h-1zM150.3 120.6h1v1h-1zM157.0 111.2h1v1h-1zM148.3 112.8h1v1h-1zM157.3 112.8h1v1h-1zM152.5 103.5h1v1h-1zM157.0 102.6h1v1h-1zM151.8 96.5h1v1h-1zM149.0 97.7h1v1h-1zM149.0 91.5h1v1h-1zM157.8 92.1h1v1h-1zM158.5 93.1h1v1h-1zM151.9 86.1h1v1h-1zM152.2 87.4h1v1h-1zM149.2 76.6h1v1h-1zM166.3 277.6h1v1h-1zM164.8 291.1h1v1h-1zM163.6 288.8h1v1h-1zM162.5 287.6h1v1h-1zM167.0 286.7h1v1h-1zM163.9 291.9h1v1h-1zM160.1 267.4h1v1h-1zM158.9 272.3h1v1h-1zM163.5 266.6h1v1h-1zM159.2 273.0h1v1h-1zM162.7 270.6h1v1h-1zM161.0 272.6h1v1h-1zM160.9 257.0h1v1h-1zM164.6 256.1h1v1h-1zM162.6 258.7h1v1h-1zM164.8 254.5h1v1h-1zM165.8 251.6h1v1h-1zM162.8 253.8h1v1h-1zM164.8 253.5h1v1h-1zM163.2 251.3h1v1h-1zM164.2 226.0h1v1h-1zM163.8 215.8h1v1h-1zM169.0 211.7h1v1h-1zM162.7 209.7h1v1h-1zM166.4 209.2h1v1h-1zM164.0 217.2h1v1h-1zM162.7 208.9h1v1h-1zM168.3 190.9h1v1h-1zM170.0 186.5h1v1h-1zM167.1 191.8h1v1h-1zM165.1 190.4h1v1h-1zM165.9 175.4h1v1h-1zM161.4 175.7h1v1h-1zM168.4 163.2h1v1h-1zM159.1 149.2h1v1h-1zM166.3 148.5h1v1h-1zM159.2 144.6h1v1h-1zM163.2 150.7h1v1h-1zM168.9 150.0h1v1h-1zM166.0 131.2h1v1h-1zM167.8 132.3h1v1h-1zM166.5 116.3h1v1h-1zM162.7 116.9h1v1h-1zM163.2 113.3h1v1h-1zM165.1 104.5h1v1h-1zM161.1 98.4h1v1h-1zM164.4 93.4h1v1h-1zM167.1 96.3h1v1h-1zM163.9 92.7h1v1h-1zM160.1 87.6h1v1h-1zM161.7 85.4h1v1h-1zM168.2 80.1h1v1h-1zM171.6 286.9h1v1h-1zM174.1 277.0h1v1h-1zM173.3 264.1h1v1h-1zM176.9 256.0h1v1h-1zM171.5 253.2h1v1h-1zM178.7 250.5h1v1h-1zM172.5 258.8h1v1h-1zM171.2 243.8h1v1h-1zM171.3 233.0h1v1h-1zM176.2 229.8h1v1h-1zM180.3 233.1h1v1h-1zM170.6 232.0h1v1h-1zM175.1 221.0h1v1h-1zM174.4 204.1h1v1h-1zM171.8 190.8h1v1h-1zM175.8 185.9h1v1h-1zM170.4 179.9h1v1h-1zM180.2 176.5h1v1h-1zM179.1 168.8h1v1h-1zM177.3 168.4h1v1h-1zM173.8 166.6h1v1h-1zM173.3 149.2h1v1h-1zM174.3 143.3h1v1h-1zM178.2 128.9h1v1h-1zM172.6 131.3h1v1h-1zM174.4 128.4h1v1h-1zM180.2 124.0h1v1h-1zM173.9 125.1h1v1h-1zM179.5 118.7h1v1h-1zM175.2 122.8h1v1h-1zM174.3 108.2h1v1h-1zM172.3 105.6h1v1h-1zM170.5 99.3h1v1h-1zM178.6 100.6h1v1h-1zM174.2 102.6h1v1h-1zM180.4 96.9h1v1h-1zM180.1 89.7h1v1h-1zM184.7 290.7h1v1h-1zM181.2 279.6h1v1h-1zM190.3 267.4h1v1h-1zM187.4 273.2h1v1h-1zM180.9 266.9h1v1h-1zM190.5 274.6h1v1h-1zM184.2 258.4h1v1h-1zM180.8 259.1h1v1h-1zM187.8 254.4h1v1h-1zM186.3 253.3h1v1h-1zM187.8 243.2h1v1h-1zM183.1 245.2h1v1h-1zM181.0 235.3h1v1h-1zM183.6 217.9h1v1h-1zM185.8 213.8h1v1h-1zM184.5 211.1h1v1h-1zM183.3 214.1h1v1h-1zM183.1 212.4h1v1h-1zM185.4 202.9h1v1h-1zM183.4 190.4h1v1h-1zM181.4 180.0h1v1h-1zM189.0 183.7h1v1h-1zM182.2 176.8h1v1h-1zM184.4 184.1h1v1h-1zM184.9 183.2h1v1h-1zM190.6 166.5h1v1h-1zM181.9 133.2h1v1h-1zM181.2 125.4h1v1h-1zM189.9 114.2h1v1h-1zM184.7 116.0h1v1h-1zM182.2 100.1h1v1h-1zM188.4 101.2h1v1h-1zM180.6 96.5h1v1h-1zM183.5 93.2h1v1h-1zM187.3 91.2h1v1h-1zM185.7 86.2h1v1h-1zM194.6 287.7h1v1h-1zM191.8 293.1h1v1h-1zM196.6 273.7h1v1h-1zM191.4 249.7h1v1h-1zM196.4 258.6h1v1h-1zM194.0 252.5h1v1h-1zM193.8 243.3h1v1h-1zM196.3 241.2h1v1h-1zM199.6 246.2h1v1h-1zM196.3 238.3h1v1h-1zM199.9 236.4h1v1h-1zM199.8 227.6h1v1h-1zM191.0 221.2h1v1h-1zM192.1 212.7h1v1h-1zM199.2 215.1h1v1h-1zM199.6 204.6h1v1h-1zM197.1 197.0h1v1h-1zM195.8 203.3h1v1h-1zM194.2 177.2h1v1h-1zM195.2 175.5h1v1h-1zM198.6 150.7h1v1h-1zM196.3 148.3h1v1h-1zM193.5 153.9h1v1h-1zM192.7 132.8h1v1h-1zM195.8 132.0h1v1h-1zM200.5 125.9h1v1h-1zM191.9 119.5h1v1h-1zM198.2 108.1h1v1h-1zM191.0 100.8h1v1h-1zM199.3 94.3h1v1h-1zM192.2 81.8h1v1h-1zM202.8 277.2h1v1h-1zM206.0 280.6h1v1h-1zM202.6 283.4h1v1h-1zM203.0 284.8h1v1h-1zM208.6 277.6h1v1h-1zM209.8 274.6h1v1h-1zM208.6 264.0h1v1h-1zM204.6 265.5h1v1h-1zM209.8 260.5h1v1h-1zM210.5 256.7h1v1h-1zM208.7 250.7h1v1h-1zM204.0 260.8h1v1h-1zM210.4 259.3h1v1h-1zM209.4 258.7h1v1h-1zM208.3 254.1h1v1h-1zM209.9 249.3h1v1h-1zM209.5 258.1h1v1h-1zM206.4 237.3h1v1h-1zM203.8 223.2h1v1h-1zM208.8 227.9h1v1h-1zM209.2 226.1h1v1h-1zM203.8 230.1h1v1h-1zM205.2 218.9h1v1h-1zM203.9 217.6h1v1h-1zM204.6 211.0h1v1h-1zM204.9 198.7h1v1h-1zM206.4 203.7h1v1h-1zM202.8 201.7h1v1h-1zM208.4 186.1h1v1h-1zM208.5 188.3h1v1h-1zM205.4 195.2h1v1h-1zM201.8 192.3h1v1h-1zM207.6 183.8h1v1h-1zM202.0 178.8h1v1h-1zM204.7 179.8h1v1h-1zM207.2 175.6h1v1h-1zM201.0 164.9h1v1h-1zM204.7 174.1h1v1h-1zM203.6 163.8h1v1h-1zM201.4 160.8h1v1h-1zM210.3 149.8h1v1h-1zM208.5 149.0h1v1h-1zM201.1 144.3h1v1h-1zM206.0 136.7h1v1h-1zM208.3 122.6h1v1h-1zM210.3 115.7h1v1h-1zM202.1 110.3h1v1h-1zM210.9 113.6h1v1h-1zM209.5 101.2h1v1h-1zM203.9 105.7h1v1h-1zM204.9 101.1h1v1h-1zM207.2 93.2h1v1h-1zM203.5 88.1h1v1h-1zM210.0 86.9h1v1h-1zM205.0 86.1h1v1h-1zM208.7 81.3h1v1h-1zM204.0 75.4h1v1h-1zM211.7 277.3h1v1h-1zM215.6 286.1h1v1h-1zM220.4 281.9h1v1h-1zM219.2 275.7h1v1h-1zM212.2 276.6h1v1h-1zM216.6 271.5h1v1h-1zM211.9 268.1h1v1h-1zM213.3 262.7h1v1h-1zM216.4 271.2h1v1h-1zM212.5 256.4h1v1h-1zM219.3 260.1h1v1h-1zM217.4 237.1h1v1h-1zM217.7 242.3h1v1h-1zM212.6 239.5h1v1h-1zM212.0 243.0h1v1h-1zM213.4 225.1h1v1h-1zM218.9 224.5h1v1h-1zM219.9 233.9h1v1h-1zM218.1 222.9h1v1h-1zM219.3 219.0h1v1h-1zM217.9 217.1h1v1h-1zM215.2 210.8h1v1h-1zM220.0 215.2h1v1h-1zM219.1 216.1h1v1h-1zM219.0 202.0h1v1h-1zM220.3 191.6h1v1h-1zM212.2 190.6h1v1h-1zM214.2 183.1h1v1h-1zM219.2 184.6h1v1h-1zM213.7 178.4h1v1h-1zM211.8 180.8h1v1h-1zM216.5 175.5h1v1h-1zM218.9 170.9h1v1h-1zM217.9 166.6h1v1h-1zM216.3 168.0h1v1h-1zM216.5 155.7h1v1h-1zM213.5 143.7h1v1h-1zM218.8 135.1h1v1h-1zM213.7 135.3h1v1h-1zM217.7 100.6h1v1h-1zM217.8 99.9h1v1h-1zM213.0 98.9h1v1h-1zM219.2 104.3h1v1h-1zM218.2 100.9h1v1h-1zM213.7 104.8h1v1h-1zM217.8 91.1h1v1h-1zM214.0 91.4h1v1h-1zM220.9 284.5h1v1h-1zM225.7 290.9h1v1h-1zM228.3 290.9h1v1h-1zM223.5 271.2h1v1h-1zM228.4 271.1h1v1h-1zM221.3 262.0h1v1h-1zM226.3 257.4h1v1h-1zM225.5 260.4h1v1h-1zM222.6 258.8h1v1h-1zM223.7 248.4h1v1h-1zM221.2 255.8h1v1h-1zM220.7 247.6h1v1h-1zM227.9 237.1h1v1h-1zM228.5 240.3h1v1h-1zM227.1 220.8h1v1h-1zM224.8 202.8h1v1h-1zM225.0 195.7h1v1h-1zM225.6 191.3h1v1h-1zM222.1 188.4h1v1h-1zM226.2 189.6h1v1h-1zM228.6 177.0h1v1h-1zM220.5 168.6h1v1h-1zM226.9 173.8h1v1h-1zM224.9 169.0h1v1h-1zM224.0 143.9h1v1h-1zM222.6 139.5h1v1h-1zM223.0 132.9h1v1h-1zM223.8 117.3h1v1h-1zM226.6 101.3h1v1h-1zM226.5 104.8h1v1h-1zM223.4 75.9h1v1h-1zM234.0 281.7h1v1h-1zM230.1 262.8h1v1h-1zM234.2 267.4h1v1h-1zM234.7 255.0h1v1h-1zM235.5 251.2h1v1h-1zM234.2 256.4h1v1h-1zM230.9 242.1h1v1h-1zM231.4 235.9h1v1h-1zM231.1 233.0h1v1h-1zM233.3 212.8h1v1h-1zM230.5 216.8h1v1h-1zM234.7 205.3h1v1h-1zM233.7 198.3h1v1h-1zM233.2 202.5h1v1h-1zM229.0 191.3h1v1h-1zM231.5 195.6h1v1h-1zM231.1 189.8h1v1h-1zM231.7 179.1h1v1h-1zM234.7 180.4h1v1h-1zM229.1 173.4h1v1h-1zM234.3 173.6h1v1h-1zM231.5 154.4h1v1h-1zM236.0 155.0h1v1h-1zM229.6 144.2h1v1h-1zM233.9 153.2h1v1h-1zM234.8 135.4h1v1h-1zM232.9 137.8h1v1h-1zM231.5 135.9h1v1h-1zM232.4 131.4h1v1h-1zM231.1 125.4h1v1h-1zM236.3 129.0h1v1h-1zM235.5 130.3h1v1h-1zM229.8 130.8h1v1h-1zM232.2 119.8h1v1h-1zM233.8 111.3h1v1h-1zM232.2 92.6h1v1h-1zM235.5 94.2h1v1h-1zM235.5 90.7h1v1h-1zM229.2 96.9h1v1h-1zM235.9 87.7h1v1h-1zM234.7 87.1h1v1h-1zM230.5 85.2h1v1h-1zM236.0 71.4h1v1h-1zM231.7 83.4h1v1h-1zM239.5 282.9h1v1h-1zM243.1 283.3h1v1h-1zM238.4 263.8h1v1h-1zM242.8 272.8h1v1h-1zM243.7 262.6h1v1h-1zM239.5 274.7h1v1h-1zM240.0 252.4h1v1h-1zM243.3 258.9h1v1h-1zM237.5 254.0h1v1h-1zM238.0 239.5h1v1h-1zM241.4 240.9h1v1h-1zM241.1 238.4h1v1h-1zM240.8 242.7h1v1h-1zM238.3 225.8h1v1h-1zM244.5 222.7h1v1h-1zM238.9 229.7h1v1h-1zM242.7 232.4h1v1h-1zM242.8 231.3h1v1h-1zM241.0 227.8h1v1h-1zM243.2 234.2h1v1h-1zM238.4 212.0h1v1h-1zM241.0 211.1h1v1h-1zM241.8 210.9h1v1h-1zM238.4 218.9h1v1h-1zM238.3 219.1h1v1h-1zM239.0 202.5h1v1h-1zM237.0 208.5h1v1h-1zM241.1 196.6h1v1h-1zM241.7 195.1h1v1h-1zM243.7 184.2h1v1h-1zM242.1 185.7h1v1h-1zM238.9 184.3h1v1h-1zM243.8 172.1h1v1h-1zM241.0 166.7h1v1h-1zM240.3 169.8h1v1h-1zM241.2 159.2h1v1h-1zM243.0 153.0h1v1h-1zM241.0 143.8h1v1h-1zM241.9 153.5h1v1h-1zM242.7 137.1h1v1h-1zM241.6 143.5h1v1h-1zM242.4 125.9h1v1h-1zM239.0 120.8h1v1h-1zM239.1 121.0h1v1h-1zM238.1 101.6h1v1h-1zM239.8 100.5h1v1h-1zM242.2 103.1h1v1h-1zM238.7 88.2h1v1h-1zM245.4 278.2h1v1h-1zM248.6 250.4h1v1h-1zM246.2 240.4h1v1h-1zM246.6 197.7h1v1h-1zM247.3 204.2h1v1h-1zM246.6 208.3h1v1h-1zM245.5 194.8h1v1h-1zM248.6 186.8h1v1h-1zM245.2 170.0h1v1h-1zM246.9 152.9h1v1h-1zM246.3 134.0h1v1h-1zM246.2 133.0h1v1h-1zM245.2 121.2h1v1h-1zM246.5 111.6h1v1h-1zM248.7 105.1h1v1h-1zM261.1 279.9h1v1h-1zM263.9 280.1h1v1h-1zM254.9 284.9h1v1h-1zM253.0 281.9h1v1h-1zM253.8 285.8h1v1h-1zM257.7 275.0h1v1h-1zM258.0 254.0h1v1h-1zM262.1 236.4h1v1h-1zM263.2 224.9h1v1h-1zM252.7 229.3h1v1h-1zM256.6 230.7h1v1h-1zM251.6 215.2h1v1h-1zM257.8 211.9h1v1h-1zM254.1 221.1h1v1h-1zM257.5 202.4h1v1h-1zM256.2 184.5h1v1h-1zM251.3 179.5h1v1h-1zM256.7 174.5h1v1h-1zM261.8 153.5h1v1h-1zM257.8 151.3h1v1h-1zM261.8 114.8h1v1h-1zM254.3 114.2h1v1h-1zM259.3 98.7h1v1h-1zM255.6 100.1h1v1h-1zM255.4 97.8h1v1h-1zM260.4 92.9h1v1h-1zM250.2 94.7h1v1h-1zM262.9 96.6h1v1h-1zM256.0 85.8h1v1h-1zM225.4 117.3h1v1h-1zM164.3 117.7h1v1h-1zM103.0 116.0h1v1h-1zM201.5 116.1h1v1h-1zM199.2 116.1h1v1h-1zM46.1 117.5h1v1h-1zM80.4 117.2h1v1h-1zM61.3 116.2h1v1h-1zM72.5 116.3h1v1h-1zM205.2 116.3h1v1h-1zM234.9 116.0h1v1h-1zM237.3 116.0h1v1h-1zM178.7 115.9h1v1h-1zM57.2 117.5h1v1h-1zM135.8 116.9h1v1h-1zM231.6 116.1h1v1h-1zM185.6 116.5h1v1h-1zM103.0 117.2h1v1h-1zM66.2 117.2h1v1h-1zM238.0 117.1h1v1h-1zM176.7 116.5h1v1h-1zM65.7 117.0h1v1h-1zM125.6 117.4h1v1h-1zM64.2 116.2h1v1h-1zM47.2 116.2h1v1h-1zM126.5 117.2h1v1h-1zM116.5 116.2h1v1h-1zM53.2 116.2h1v1h-1zM168.5 269.7h1v1h-1zM144.8 269.7h1v1h-1zM130.0 269.6h1v1h-1zM170.2 270.1h1v1h-1zM199.1 269.5h1v1h-1zM106.7 271.3h1v1h-1zM83.6 270.2h1v1h-1zM139.4 269.9h1v1h-1zM195.6 270.8h1v1h-1zM82.7 270.0h1v1h-1zM103.0 271.0h1v1h-1zM81.1 271.0h1v1h-1zM176.4 270.5h1v1h-1zM81.8 270.7h1v1h-1zM244.9 270.0h1v1h-1zM196.8 269.5h1v1h-1zM145.9 269.7h1v1h-1zM129.4 269.5h1v1h-1zM144.2 270.4h1v1h-1zM118.0 271.2h1v1h-1zM237.6 270.8h1v1h-1zM100.1 270.9h1v1h-1zM51.4 271.0h1v1h-1zM73.9 269.6h1v1h-1zM142.1 270.2h1v1h-1zM121.4 168.6h1v1h-1zM117.2 168.4h1v1h-1zM119.0 168.2h1v1h-1zM115.2 168.4h1v1h-1zM237.1 168.2h1v1h-1zM210.3 168.3h1v1h-1zM222.3 168.2h1v1h-1zM183.8 168.8h1v1h-1zM186.8 168.2h1v1h-1zM44.4 169.4h1v1h-1zM233.8 169.5h1v1h-1zM85.8 169.5h1v1h-1zM230.5 169.3h1v1h-1zM183.1 168.2h1v1h-1zM262.0 168.1h1v1h-1zM78.1 169.5h1v1h-1zM82.4 168.9h1v1h-1zM94.6 168.4h1v1h-1zM47.5 168.7h1v1h-1zM182.5 169.1h1v1h-1zM68.7 169.6h1v1h-1zM184.2 168.7h1v1h-1zM243.3 168.5h1v1h-1zM63.2 168.4h1v1h-1zM197.1 168.4h1v1h-1zM178.2 169.3h1v1h-1zM104.8 168.3h1v1h-1zM138.1 177.7h1v1h-1zM71.2 178.1h1v1h-1zM180.8 178.3h1v1h-1zM109.6 178.0h1v1h-1zM200.5 178.5h1v1h-1zM212.3 177.5h1v1h-1zM59.8 177.9h1v1h-1zM98.4 177.5h1v1h-1zM217.1 178.7h1v1h-1zM145.4 177.7h1v1h-1zM114.8 178.1h1v1h-1zM204.8 178.7h1v1h-1zM59.4 179.1h1v1h-1zM187.0 177.7h1v1h-1zM98.8 179.1h1v1h-1zM59.5 177.5h1v1h-1zM239.4 178.6h1v1h-1zM115.2 177.4h1v1h-1zM112.3 179.0h1v1h-1zM143.0 177.8h1v1h-1zM114.4 177.6h1v1h-1zM216.4 178.5h1v1h-1zM177.0 179.1h1v1h-1zM71.5 124.1h1v1h-1zM116.5 123.8h1v1h-1zM176.1 124.0h1v1h-1zM241.4 123.7h1v1h-1zM150.6 123.9h1v1h-1zM80.9 124.6h1v1h-1zM181.5 123.8h1v1h-1zM152.1 124.8h1v1h-1zM183.7 124.3h1v1h-1zM113.7 123.3h1v1h-1zM113.3 124.7h1v1h-1zM172.6 124.0h1v1h-1zM128.4 123.3h1v1h-1zM62.9 123.4h1v1h-1zM216.9 124.1h1v1h-1zM187.0 124.2h1v1h-1zM49.8 125.0h1v1h-1zM143.9 124.2h1v1h-1zM134.4 123.3h1v1h-1zM98.5 123.3h1v1h-1zM88.1 123.9h1v1h-1zM190.4 123.8h1v1h-1zM107.4 124.7h1v1h-1zM227.5 124.9h1v1h-1zM90.6 124.8h1v1h-1zM166.9 125.0h1v1h-1zM213.9 124.0h1v1h-1zM164.5 123.9h1v1h-1zM42.7 123.9h1v1h-1zM112.8 123.7h1v1h-1zM91.8 124.4h1v1h-1zM159.5 89.5h1v1h-1zM213.8 90.0h1v1h-1zM227.4 89.6h1v1h-1zM235.0 91.1h1v1h-1zM45.5 89.8h1v1h-1zM240.3 91.1h1v1h-1zM97.9 89.9h1v1h-1zM172.2 89.6h1v1h-1zM178.3 89.5h1v1h-1zM223.3 90.1h1v1h-1zM101.1 90.2h1v1h-1zM174.2 90.6h1v1h-1zM185.7 90.2h1v1h-1zM65.3 89.7h1v1h-1zM196.9 89.5h1v1h-1zM54.7 90.5h1v1h-1zM47.0 91.1h1v1h-1zM220.2 90.9h1v1h-1zM228.0 90.9h1v1h-1zM59.3 90.3h1v1h-1zM128.7 90.3h1v1h-1zM172.2 91.0h1v1h-1zM53.5 90.4h1v1h-1zM93.6 89.4h1v1h-1zM230.9 89.9h1v1h-1zM216.4 90.5h1v1h-1zM64.3 91.1h1v1h-1zM198.5 90.6h1v1h-1zM192.8 90.8h1v1h-1zM206.7 89.7h1v1h-1zM45.8 89.6h1v1h-1zM75.9 89.5h1v1h-1zM145.8 86.8h1v1h-1zM201.6 85.8h1v1h-1zM241.1 85.8h1v1h-1zM46.0 86.8h1v1h-1zM85.0 85.6h1v1h-1zM173.1 87.0h1v1h-1zM136.7 86.5h1v1h-1zM93.9 87.1h1v1h-1zM51.7 86.2h1v1h-1zM232.2 86.7h1v1h-1zM70.2 86.6h1v1h-1zM70.1 86.4h1v1h-1zM237.2 85.5h1v1h-1zM243.4 86.7h1v1h-1zM88.3 85.4h1v1h-1zM43.3 86.4h1v1h-1zM154.7 87.0h1v1h-1zM185.5 85.4h1v1h-1zM90.9 86.6h1v1h-1zM175.2 86.6h1v1h-1zM64.9 86.1h1v1h-1zM133.9 86.6h1v1h-1zM130.7 85.5h1v1h-1zM157.6 87.1h1v1h-1zM133.4 86.5h1v1h-1zM201.3 86.2h1v1h-1zM233.1 172.9h1v1h-1zM197.3 173.2h1v1h-1zM177.3 172.9h1v1h-1zM91.5 172.1h1v1h-1zM248.2 173.2h1v1h-1zM191.2 172.2h1v1h-1zM204.1 172.0h1v1h-1zM75.9 173.1h1v1h-1zM101.1 173.2h1v1h-1zM41.1 172.6h1v1h-1zM228.7 172.7h1v1h-1zM216.8 172.8h1v1h-1zM234.1 172.2h1v1h-1zM101.0 172.6h1v1h-1zM237.5 172.7h1v1h-1zM194.7 172.9h1v1h-1zM150.1 172.3h1v1h-1zM222.7 171.9h1v1h-1zM52.8 173.2h1v1h-1zM228.5 173.6h1v1h-1zM121.4 172.2h1v1h-1zM123.4 172.5h1v1h-1zM107.7 172.1h1v1h-1zM205.1 172.3h1v1h-1zM239.3 171.8h1v1h-1zM121.1 171.9h1v1h-1zM207.0 173.4h1v1h-1zM260.6 173.3h1v1h-1zM124.8 188.9h1v1h-1zM153.0 188.9h1v1h-1zM54.8 189.1h1v1h-1zM177.0 189.2h1v1h-1zM109.1 189.8h1v1h-1zM217.2 188.8h1v1h-1zM112.8 189.6h1v1h-1zM116.9 188.9h1v1h-1zM167.3 188.4h1v1h-1zM107.8 189.6h1v1h-1zM189.8 188.6h1v1h-1zM107.3 189.8h1v1h-1zM104.3 189.1h1v1h-1zM108.7 188.4h1v1h-1zM70.9 189.7h1v1h-1zM52.7 189.2h1v1h-1zM57.6 189.8h1v1h-1zM199.8 188.6h1v1h-1zM50.8 188.9h1v1h-1zM205.0 188.4h1v1h-1zM65.1 189.6h1v1h-1zM189.2 188.4h1v1h-1zM243.6 189.5h1v1h-1zM80.5 189.2h1v1h-1zM81.5 188.6h1v1h-1zM217.1 248.2h1v1h-1zM177.0 248.6h1v1h-1zM203.4 249.5h1v1h-1zM47.8 248.4h1v1h-1zM239.6 249.1h1v1h-1zM153.2 249.0h1v1h-1zM246.0 248.1h1v1h-1zM225.0 249.5h1v1h-1zM149.4 248.2h1v1h-1zM243.1 248.3h1v1h-1zM175.2 247.8h1v1h-1zM246.3 249.5h1v1h-1zM239.1 249.5h1v1h-1zM79.7 248.9h1v1h-1zM113.2 248.0h1v1h-1zM260.0 249.1h1v1h-1zM140.2 248.0h1v1h-1zM123.8 249.0h1v1h-1zM101.4 249.5h1v1h-1zM102.0 248.1h1v1h-1zM102.6 248.7h1v1h-1zM84.1 248.0h1v1h-1zM67.8 248.8h1v1h-1zM144.9 249.6h1v1h-1zM129.5 248.9h1v1h-1zM174.8 248.7h1v1h-1zM152.4 248.6h1v1h-1zM163.2 249.1h1v1h-1zM142.9 247.9h1v1h-1zM229.1 248.6h1v1h-1zM43.3 220.0h1v1h-1zM140.7 220.8h1v1h-1zM58.4 219.5h1v1h-1zM197.2 220.5h1v1h-1zM212.0 219.6h1v1h-1zM102.3 220.1h1v1h-1zM201.7 219.7h1v1h-1zM91.0 219.7h1v1h-1zM135.5 220.8h1v1h-1zM217.1 220.5h1v1h-1zM232.7 219.9h1v1h-1zM65.3 219.5h1v1h-1zM164.2 219.6h1v1h-1zM41.9 220.3h1v1h-1zM170.5 220.8h1v1h-1zM200.7 221.1h1v1h-1zM205.4 220.9h1v1h-1zM229.9 219.4h1v1h-1zM50.2 219.6h1v1h-1zM123.2 113.7h1v1h-1zM233.6 114.0h1v1h-1zM80.7 115.0h1v1h-1zM117.2 114.7h1v1h-1zM87.9 114.2h1v1h-1zM136.6 115.0h1v1h-1zM142.0 115.0h1v1h-1zM199.3 114.0h1v1h-1zM117.2 114.8h1v1h-1zM84.9 113.5h1v1h-1zM136.0 114.3h1v1h-1zM149.4 115.1h1v1h-1zM196.2 114.2h1v1h-1zM54.2 114.8h1v1h-1zM195.9 114.6h1v1h-1zM111.4 115.1h1v1h-1zM49.6 114.2h1v1h-1zM138.9 114.9h1v1h-1zM96.1 113.5h1v1h-1zM130.6 113.4h1v1h-1zM245.3 114.2h1v1h-1zM146.5 114.4h1v1h-1zM195.2 210.1h1v1h-1zM117.8 208.9h1v1h-1zM103.2 209.8h1v1h-1zM236.7 210.3h1v1h-1zM152.2 210.0h1v1h-1zM156.2 208.6h1v1h-1zM81.4 208.8h1v1h-1zM156.0 208.7h1v1h-1zM66.4 209.5h1v1h-1zM200.5 209.1h1v1h-1zM58.2 209.7h1v1h-1zM235.4 209.5h1v1h-1zM158.9 210.3h1v1h-1zM203.3 209.0h1v1h-1zM195.3 209.5h1v1h-1zM195.1 209.5h1v1h-1zM144.2 209.1h1v1h-1zM89.5 210.2h1v1h-1zM102.9 209.7h1v1h-1zM180.0 209.8h1v1h-1zM214.4 209.1h1v1h-1zM174.7 209.7h1v1h-1zM137.5 210.6h1v1h-1zM252.9 210.3h1v1h-1zM192.3 209.7h1v1h-1zM128.1 209.8h1v1h-1zM57.2 209.7h1v1h-1zM232.8 210.8h1v1h-1zM242.0 211.0h1v1h-1zM56.6 210.8h1v1h-1zM58.4 210.4h1v1h-1zM82.9 209.7h1v1h-1zM232.1 210.5h1v1h-1zM71.6 209.6h1v1h-1zM245.5 209.5h1v1h-1zM229.4 210.4h1v1h-1zM104.2 211.1h1v1h-1zM134.9 210.3h1v1h-1zM199.1 210.1h1v1h-1zM60.4 210.5h1v1h-1zM103.9 210.7h1v1h-1zM195.7 209.7h1v1h-1zM59.9 209.8h1v1h-1zM209.3 210.2h1v1h-1zM205.6 210.3h1v1h-1zM183.0 209.9h1v1h-1zM86.1 211.0h1v1h-1zM257.2 136.9h1v1h-1zM59.3 137.6h1v1h-1zM101.3 137.0h1v1h-1zM220.0 136.8h1v1h-1zM222.2 138.0h1v1h-1zM177.7 138.0h1v1h-1zM48.6 137.1h1v1h-1zM211.1 136.9h1v1h-1zM41.6 138.2h1v1h-1zM81.7 137.7h1v1h-1zM217.8 137.1h1v1h-1zM131.2 138.3h1v1h-1zM173.1 137.8h1v1h-1zM115.7 137.2h1v1h-1zM79.0 137.9h1v1h-1zM43.4 137.1h1v1h-1zM40.8 136.9h1v1h-1zM111.1 138.2h1v1h-1zM103.3 136.8h1v1h-1zM139.1 136.7h1v1h-1zM136.0 136.9h1v1h-1zM218.2 137.2h1v1h-1zM244.7 138.2h1v1h-1zM112.3 137.3h1v1h-1zM99.2 137.0h1v1h-1zM189.2 137.4h1v1h-1zM83.8 137.9h1v1h-1zM150.1 137.5h1v1h-1zM233.3 137.7h1v1h-1zM145.4 138.1h1v1h-1zM102.0 137.3h1v1h-1zM137.7 137.6h1v1h-1zM150.3 137.9h1v1h-1zM53.3 138.0h1v1h-1zM125.6 136.8h1v1h-1zM208.5 235.6h1v1h-1zM140.4 236.4h1v1h-1zM45.2 235.1h1v1h-1zM42.4 234.9h1v1h-1zM242.7 236.1h1v1h-1zM125.9 235.4h1v1h-1zM169.5 236.0h1v1h-1zM83.7 235.7h1v1h-1zM227.9 236.4h1v1h-1zM228.3 235.0h1v1h-1zM52.3 234.8h1v1h-1zM147.3 236.5h1v1h-1zM138.8 234.9h1v1h-1zM227.1 235.1h1v1h-1zM134.8 236.1h1v1h-1zM207.4 235.6h1v1h-1zM180.6 235.4h1v1h-1zM120.9 236.1h1v1h-1zM215.6 235.1h1v1h-1zM140.1 235.9h1v1h-1zM100.1 235.9h1v1h-1zM158.2 234.9h1v1h-1zM73.1 235.2h1v1h-1zM150.5 235.8h1v1h-1zM126.7 234.9h1v1h-1zM155.3 234.8h1v1h-1zM126.8 236.5h1v1h-1zM83.3 236.1h1v1h-1zM58.3 234.9h1v1h-1zM81.6 236.2h1v1h-1zM71.6 236.3h1v1h-1zM124.1 236.0h1v1h-1zM202.0 179.5h1v1h-1zM201.6 219.0h1v1h-1zM201.1 251.0h1v1h-1zM202.2 278.4h1v1h-1zM201.0 238.9h1v1h-1zM201.2 239.3h1v1h-1zM202.3 277.1h1v1h-1zM201.9 132.6h1v1h-1zM201.9 109.8h1v1h-1zM201.6 249.5h1v1h-1zM201.0 106.0h1v1h-1zM201.3 153.8h1v1h-1zM201.4 185.8h1v1h-1zM202.4 291.1h1v1h-1zM202.4 234.8h1v1h-1zM201.1 260.6h1v1h-1zM201.1 172.7h1v1h-1zM200.8 208.5h1v1h-1zM202.2 214.1h1v1h-1zM201.2 237.5h1v1h-1zM201.8 86.4h1v1h-1zM201.0 225.9h1v1h-1zM201.1 189.7h1v1h-1zM202.3 227.3h1v1h-1zM201.5 122.0h1v1h-1zM201.2 105.2h1v1h-1zM202.4 292.9h1v1h-1zM201.8 257.8h1v1h-1zM202.4 215.4h1v1h-1zM201.5 213.2h1v1h-1zM202.0 159.0h1v1h-1zM201.4 200.6h1v1h-1zM201.0 282.1h1v1h-1zM202.1 227.9h1v1h-1zM200.8 151.6h1v1h-1zM202.0 224.7h1v1h-1zM200.7 199.5h1v1h-1zM193.1 195.4h1v1h-1zM193.7 119.9h1v1h-1zM193.0 72.0h1v1h-1zM193.5 221.3h1v1h-1zM193.0 88.2h1v1h-1zM192.6 194.4h1v1h-1zM192.7 279.1h1v1h-1zM193.8 147.0h1v1h-1zM192.9 130.8h1v1h-1zM194.0 248.8h1v1h-1zM192.7 104.1h1v1h-1zM193.8 287.1h1v1h-1zM192.7 257.0h1v1h-1zM192.5 116.7h1v1h-1zM193.6 133.5h1v1h-1zM193.0 237.9h1v1h-1zM192.8 198.3h1v1h-1zM192.7 207.9h1v1h-1zM192.5 116.9h1v1h-1zM192.3 277.9h1v1h-1zM193.1 251.0h1v1h-1zM193.5 216.3h1v1h-1zM193.5 258.9h1v1h-1zM139.2 262.1h1v1h-1zM139.3 89.2h1v1h-1zM138.7 225.5h1v1h-1zM137.7 287.0h1v1h-1zM138.9 112.0h1v1h-1zM138.9 94.3h1v1h-1zM137.8 264.1h1v1h-1zM139.0 269.9h1v1h-1zM139.1 281.8h1v1h-1zM138.2 234.7h1v1h-1zM138.4 267.8h1v1h-1zM138.1 221.0h1v1h-1zM139.1 82.6h1v1h-1zM138.0 254.3h1v1h-1zM137.7 151.3h1v1h-1zM138.0 225.1h1v1h-1zM139.3 114.9h1v1h-1zM139.3 241.1h1v1h-1zM138.2 286.4h1v1h-1zM139.0 170.5h1v1h-1zM137.7 140.5h1v1h-1zM137.7 162.5h1v1h-1zM138.7 209.4h1v1h-1zM80.8 107.9h1v1h-1zM80.6 120.7h1v1h-1zM82.1 195.9h1v1h-1zM81.5 155.0h1v1h-1zM81.4 213.3h1v1h-1zM81.4 95.7h1v1h-1zM82.0 145.1h1v1h-1zM81.2 229.4h1v1h-1zM81.2 269.8h1v1h-1zM82.1 208.4h1v1h-1zM81.2 115.8h1v1h-1zM80.7 215.4h1v1h-1zM81.5 146.5h1v1h-1zM81.8 279.0h1v1h-1zM80.7 194.9h1v1h-1zM81.7 220.2h1v1h-1zM82.0 232.9h1v1h-1zM80.9 146.4h1v1h-1zM82.3 282.4h1v1h-1zM80.7 141.1h1v1h-1zM146.2 252.6h1v1h-1zM145.7 220.5h1v1h-1zM146.1 124.0h1v1h-1zM145.8 100.8h1v1h-1zM145.4 110.3h1v1h-1zM145.5 268.7h1v1h-1zM145.1 212.6h1v1h-1zM145.9 151.6h1v1h-1zM146.1 216.4h1v1h-1zM145.8 256.1h1v1h-1zM144.9 219.3h1v1h-1zM145.6 203.7h1v1h-1zM145.6 241.3h1v1h-1zM145.7 216.3h1v1h-1zM146.1 90.6h1v1h-1zM146.0 101.2h1v1h-1zM145.5 125.5h1v1h-1zM145.3 181.1h1v1h-1zM146.0 243.0h1v1h-1zM145.4 218.4h1v1h-1zM145.4 277.0h1v1h-1zM146.5 152.9h1v1h-1zM146.5 246.4h1v1h-1zM146.3 223.3h1v1h-1zM145.2 204.7h1v1h-1zM146.4 161.8h1v1h-1zM146.3 111.0h1v1h-1zM146.1 242.2h1v1h-1zM197.6 225.3h1v1h-1zM198.0 253.5h1v1h-1zM198.1 96.8h1v1h-1zM196.9 242.1h1v1h-1zM198.3 289.9h1v1h-1zM197.0 110.6h1v1h-1zM197.3 110.3h1v1h-1zM197.9 270.1h1v1h-1zM197.9 216.4h1v1h-1zM196.8 112.4h1v1h-1zM197.8 177.4h1v1h-1zM198.0 280.7h1v1h-1zM197.9 85.4h1v1h-1zM197.5 97.2h1v1h-1zM197.7 251.6h1v1h-1zM197.4 276.2h1v1h-1zM148.4 93.0h1v1h-1zM147.5 161.8h1v1h-1zM147.6 127.4h1v1h-1zM147.9 117.2h1v1h-1zM147.6 114.4h1v1h-1zM147.3 161.0h1v1h-1zM147.7 280.2h1v1h-1zM148.3 210.9h1v1h-1zM147.9 252.1h1v1h-1zM149.0 181.6h1v1h-1zM147.5 204.8h1v1h-1zM147.5 97.0h1v1h-1zM148.8 116.0h1v1h-1zM148.5 211.0h1v1h-1zM147.6 276.4h1v1h-1zM147.9 177.7h1v1h-1zM148.6 168.3h1v1h-1zM148.8 212.2h1v1h-1zM148.6 135.2h1v1h-1zM148.7 215.0h1v1h-1zM148.1 212.6h1v1h-1zM148.8 148.8h1v1h-1zM148.0 147.4h1v1h-1zM147.4 217.3h1v1h-1zM63.9 129.9h1v1h-1zM64.3 157.0h1v1h-1zM64.0 119.7h1v1h-1zM65.0 124.7h1v1h-1zM65.1 174.5h1v1h-1zM64.4 237.2h1v1h-1zM63.4 206.0h1v1h-1zM64.6 191.1h1v1h-1zM65.0 219.1h1v1h-1zM64.6 279.6h1v1h-1zM64.3 129.8h1v1h-1zM64.9 106.6h1v1h-1zM64.4 97.2h1v1h-1zM65.0 130.1h1v1h-1zM63.8 291.4h1v1h-1zM63.8 180.0h1v1h-1zM64.5 233.1h1v1h-1zM64.9 122.4h1v1h-1zM64.1 138.6h1v1h-1zM64.7 110.8h1v1h-1zM65.0 217.8h1v1h-1zM63.6 104.6h1v1h-1zM64.3 241.4h1v1h-1zM63.5 164.6h1v1h-1zM64.8 235.9h1v1h-1zM63.4 279.2h1v1h-1zM63.4 184.0h1v1h-1zM64.7 87.6h1v1h-1zM63.8 111.8h1v1h-1zM64.4 224.4h1v1h-1zM64.3 253.0h1v1h-1zM236.7 131.9h1v1h-1zM236.9 174.2h1v1h-1zM236.7 140.7h1v1h-1zM237.0 277.7h1v1h-1zM235.9 203.9h1v1h-1zM236.0 221.2h1v1h-1zM237.5 275.1h1v1h-1zM236.2 132.5h1v1h-1zM236.6 287.5h1v1h-1zM236.2 193.7h1v1h-1zM236.5 126.7h1v1h-1zM235.8 221.2h1v1h-1zM236.6 177.4h1v1h-1zM236.6 171.0h1v1h-1zM236.5 293.3h1v1h-1zM237.3 135.5h1v1h-1zM236.2 293.0h1v1h-1zM236.6 179.9h1v1h-1zM236.8 142.1h1v1h-1zM236.8 258.3h1v1h-1zM236.5 165.5h1v1h-1zM237.5 273.8h1v1h-1zM236.1 222.8h1v1h-1zM236.4 282.3h1v1h-1zM236.0 125.2h1v1h-1zM237.4 252.3h1v1h-1zM236.8 182.0h1v1h-1zM237.0 182.7h1v1h-1zM190.6 133.4h1v1h-1zM189.8 140.8h1v1h-1zM190.7 230.9h1v1h-1zM191.4 208.8h1v1h-1zM191.4 97.8h1v1h-1zM191.4 186.1h1v1h-1zM190.4 105.9h1v1h-1zM190.7 256.9h1v1h-1zM190.6 180.7h1v1h-1zM190.7 168.8h1v1h-1zM190.6 71.0h1v1h-1zM190.1 86.3h1v1h-1zM191.3 291.1h1v1h-1zM189.9 170.7h1v1h-1zM190.4 166.6h1v1h-1zM191.1 125.2h1v1h-1zM190.2 96.2h1v1h-1zM189.9 115.7h1v1h-1zM190.2 161.6h1v1h-1zM190.1 203.5h1v1h-1zM191.2 205.9h1v1h-1zM190.5 167.9h1v1h-1zM190.9 281.5h1v1h-1zM191.5 128.9h1v1h-1zM106.9 260.3h1v1h-1zM105.6 118.9h1v1h-1zM106.6 90.2h1v1h-1zM106.4 144.6h1v1h-1zM105.8 112.9h1v1h-1zM107.2 208.0h1v1h-1zM106.1 105.0h1v1h-1zM106.8 184.8h1v1h-1zM107.0 131.2h1v1h-1zM106.0 291.7h1v1h-1zM106.3 258.5h1v1h-1zM105.9 141.8h1v1h-1zM105.7 131.4h1v1h-1zM107.1 106.3h1v1h-1zM106.7 116.0h1v1h-1zM106.0 282.8h1v1h-1zM106.7 239.4h1v1h-1zM106.7 237.4h1v1h-1zM106.5 96.8h1v1h-1zM105.9 148.3h1v1h-1zM105.7 96.0h1v1h-1zM106.1 196.2h1v1h-1zM107.3 78.6h1v1h-1zM106.6 214.8h1v1h-1zM107.3 236.6h1v1h-1zM106.4 98.2h1v1h-1zM105.9 260.4h1v1h-1zM106.4 197.3h1v1h-1zM106.8 185.5h1v1h-1zM49.7 164.2h1v1h-1zM49.9 197.9h1v1h-1zM50.3 177.7h1v1h-1zM50.1 271.6h1v1h-1zM49.5 87.4h1v1h-1zM49.8 180.6h1v1h-1zM50.8 124.9h1v1h-1zM49.4 85.5h1v1h-1zM50.4 148.6h1v1h-1zM49.8 102.0h1v1h-1zM49.5 263.5h1v1h-1zM50.6 276.2h1v1h-1zM50.6 259.6h1v1h-1zM50.4 112.5h1v1h-1zM49.7 221.8h1v1h-1zM50.7 224.2h1v1h-1zM50.0 211.6h1v1h-1zM50.1 256.4h1v1h-1zM50.5 183.4h1v1h-1zM50.3 208.4h1v1h-1zM49.4 158.4h1v1h-1zM50.6 88.7h1v1h-1zM50.5 82.5h1v1h-1zM50.8 87.6h1v1h-1zM49.2 218.2h1v1h-1zM232.5 268.6h1v1h-1zM232.8 242.0h1v1h-1zM231.7 107.0h1v1h-1zM233.4 132.6h1v1h-1zM232.2 218.1h1v1h-1zM232.6 168.8h1v1h-1zM232.7 232.0h1v1h-1zM233.2 225.1h1v1h-1zM232.5 272.4h1v1h-1zM232.2 87.4h1v1h-1zM231.6 276.8h1v1h-1zM232.3 199.3h1v1h-1zM231.9 284.9h1v1h-1zM233.2 143.2h1v1h-1zM232.8 159.9h1v1h-1zM232.0 292.0h1v1h-1zM232.3 116.4h1v1h-1zM231.6 259.4h1v1h-1zM232.4 291.7h1v1h-1zM232.0 190.3h1v1h-1zM232.4 187.9h1v1h-1zM232.7 161.8h1v1h-1zM232.3 280.5h1v1h-1zM178.6 232.8h1v1h-1zM179.3 95.9h1v1h-1zM178.2 207.8h1v1h-1zM179.7 114.3h1v1h-1zM178.5 102.3h1v1h-1zM179.7 120.5h1v1h-1zM179.7 285.7h1v1h-1zM179.5 187.0h1v1h-1zM177.9 267.6h1v1h-1zM179.2 153.8h1v1h-1zM179.4 97.8h1v1h-1zM178.3 142.7h1v1h-1zM178.0 106.1h1v1h-1zM179.3 130.2h1v1h-1zM178.3 210.2h1v1h-1zM179.6 186.9h1v1h-1zM178.5 92.4h1v1h-1zM179.7 94.8h1v1h-1zM179.6 107.9h1v1h-1zM178.6 153.8h1v1h-1zM178.4 129.6h1v1h-1zM179.7 245.0h1v1h-1zM178.0 152.9h1v1h-1zM178.9 245.2h1v1h-1zM178.6 252.4h1v1h-1zM179.3 134.2h1v1h-1zM178.5 268.5h1v1h-1zM178.7 110.5h1v1h-1zM236.7 161.4h1v1h-1zM237.4 210.6h1v1h-1zM237.3 280.9h1v1h-1zM238.4 204.9h1v1h-1zM237.2 275.2h1v1h-1zM236.7 128.8h1v1h-1zM238.3 107.5h1v1h-1zM236.6 230.8h1v1h-1zM237.1 181.6h1v1h-1zM238.2 90.4h1v1h-1zM238.3 250.9h1v1h-1zM237.6 268.3h1v1h-1zM237.7 270.6h1v1h-1zM238.0 242.7h1v1h-1zM237.4 186.1h1v1h-1zM237.8 280.8h1v1h-1zM238.0 263.5h1v1h-1zM237.0 80.3h1v1h-1zM237.5 126.1h1v1h-1zM237.3 142.1h1v1h-1zM238.0 274.0h1v1h-1zM237.4 150.4h1v1h-1zM237.6 225.9h1v1h-1zM237.9 251.6h1v1h-1zM238.1 272.6h1v1h-1zM237.4 288.3h1v1h-1zM237.5 185.3h1v1h-1zM237.1 155.4h1v1h-1zM237.1 171.9h1v1h-1zM238.1 248.2h1v1h-1zM237.0 114.6h1v1h-1zM127.2 279.7h1v1h-1zM126.2 106.7h1v1h-1zM126.4 194.9h1v1h-1zM126.3 256.6h1v1h-1zM125.9 169.9h1v1h-1zM127.1 108.0h1v1h-1zM126.9 110.5h1v1h-1zM127.1 259.7h1v1h-1zM126.9 222.4h1v1h-1zM126.4 124.2h1v1h-1zM127.3 185.5h1v1h-1zM125.9 103.5h1v1h-1zM125.9 225.3h1v1h-1zM126.6 187.1h1v1h-1zM126.8 265.4h1v1h-1zM127.1 225.5h1v1h-1zM126.6 247.0h1v1h-1zM126.5 133.3h1v1h-1zM126.4 261.0h1v1h-1zM126.0 271.0h1v1h-1zM126.0 178.8h1v1h-1zM125.8 285.9h1v1h-1zM127.1 237.2h1v1h-1zM125.9 223.4h1v1h-1zM127.5 281.9h1v1h-1zM126.6 153.5h1v1h-1zM125.8 176.3h1v1h-1zM125.8 118.4h1v1h-1zM126.2 220.1h1v1h-1zM125.9 255.6h1v1h-1zM127.0 86.5h1v1h-1zM126.2 233.0h1v1h-1zM127.2 105.2h1v1h-1zM126.1 213.2h1v1h-1zM127.2 105.8h1v1h-1zM126.9 233.3h1v1h-1zM126.4 153.0h1v1h-1zM126.3 269.7h1v1h-1z" fill="#bb9a9e"/>
<path d="M44.6 276.7h1v1h-1zM40.0 264.6h1v1h-1zM55.7 264.4h1v1h-1zM41.7 248.3h1v1h-1zM50.2 251.6h1v1h-1zM46.0 259.9h1v1h-1zM55.2 257.3h1v1h-1zM52.2 252.1h1v1h-1zM54.1 257.4h1v1h-1zM46.6 245.1h1v1h-1zM54.7 245.1h1v1h-1zM53.2 238.8h1v1h-1zM54.0 230.6h1v1h-1zM46.4 232.6h1v1h-1zM43.5 232.7h1v1h-1zM49.0 227.0h1v1h-1zM43.2 229.7h1v1h-1zM51.4 220.6h1v1h-1zM54.0 221.6h1v1h-1zM41.6 209.9h1v1h-1zM50.0 215.5h1v1h-1zM53.4 212.3h1v1h-1zM48.9 201.6h1v1h-1zM41.6 199.9h1v1h-1zM49.2 203.0h1v1h-1zM52.7 197.3h1v1h-1zM52.5 186.4h1v1h-1zM55.7 186.6h1v1h-1zM47.2 191.0h1v1h-1zM44.1 191.6h1v1h-1zM52.0 190.9h1v1h-1zM53.0 191.6h1v1h-1zM44.1 196.5h1v1h-1zM49.5 185.0h1v1h-1zM46.6 168.0h1v1h-1zM52.0 172.1h1v1h-1zM47.6 170.7h1v1h-1zM48.6 160.5h1v1h-1zM48.0 158.7h1v1h-1zM53.2 158.2h1v1h-1zM51.6 126.5h1v1h-1zM56.2 124.4h1v1h-1zM44.4 132.6h1v1h-1zM40.5 124.9h1v1h-1zM51.2 124.5h1v1h-1zM52.5 128.1h1v1h-1zM47.2 129.0h1v1h-1zM43.9 114.8h1v1h-1zM52.4 119.2h1v1h-1zM45.1 118.6h1v1h-1zM42.2 111.7h1v1h-1zM43.1 105.0h1v1h-1zM51.4 102.0h1v1h-1zM46.1 91.8h1v1h-1zM45.1 87.3h1v1h-1zM46.0 72.7h1v1h-1zM67.4 287.8h1v1h-1zM65.4 259.1h1v1h-1zM62.8 260.5h1v1h-1zM66.3 258.2h1v1h-1zM61.7 228.6h1v1h-1zM68.4 223.1h1v1h-1zM60.9 230.4h1v1h-1zM61.5 218.4h1v1h-1zM69.7 217.3h1v1h-1zM69.8 204.4h1v1h-1zM62.2 199.2h1v1h-1zM67.2 190.8h1v1h-1zM61.0 190.6h1v1h-1zM62.0 195.7h1v1h-1zM67.1 181.7h1v1h-1zM69.9 176.9h1v1h-1zM66.8 174.0h1v1h-1zM65.5 169.8h1v1h-1zM56.8 168.7h1v1h-1zM56.8 170.8h1v1h-1zM67.2 164.1h1v1h-1zM71.5 149.4h1v1h-1zM62.5 150.6h1v1h-1zM65.7 138.4h1v1h-1zM66.3 139.2h1v1h-1zM61.8 124.6h1v1h-1zM62.4 130.7h1v1h-1zM71.2 122.8h1v1h-1zM71.0 121.7h1v1h-1zM60.0 101.2h1v1h-1zM62.4 100.7h1v1h-1zM62.6 90.7h1v1h-1zM58.5 92.3h1v1h-1zM59.6 89.9h1v1h-1zM59.2 77.9h1v1h-1zM78.8 287.4h1v1h-1zM83.1 281.0h1v1h-1zM83.6 290.0h1v1h-1zM80.5 291.8h1v1h-1zM84.1 286.2h1v1h-1zM81.0 288.1h1v1h-1zM76.7 292.1h1v1h-1zM77.0 269.5h1v1h-1zM75.4 268.7h1v1h-1zM78.6 263.0h1v1h-1zM76.2 272.5h1v1h-1zM75.2 239.9h1v1h-1zM78.1 232.4h1v1h-1zM72.8 226.3h1v1h-1zM79.7 220.2h1v1h-1zM74.6 214.9h1v1h-1zM82.6 213.3h1v1h-1zM74.2 204.1h1v1h-1zM77.5 191.8h1v1h-1zM77.3 193.6h1v1h-1zM77.1 192.4h1v1h-1zM78.3 184.3h1v1h-1zM80.0 182.4h1v1h-1zM84.0 182.4h1v1h-1zM80.5 171.8h1v1h-1zM78.7 168.2h1v1h-1zM81.1 169.4h1v1h-1zM73.2 174.4h1v1h-1zM73.6 151.8h1v1h-1zM77.8 145.3h1v1h-1zM80.1 152.8h1v1h-1zM84.7 129.3h1v1h-1zM85.0 124.8h1v1h-1zM78.7 109.0h1v1h-1zM85.0 105.3h1v1h-1zM75.3 105.6h1v1h-1zM78.8 105.0h1v1h-1zM77.9 95.5h1v1h-1zM83.5 95.0h1v1h-1zM82.4 89.3h1v1h-1zM81.3 83.6h1v1h-1zM73.2 71.9h1v1h-1zM86.4 285.5h1v1h-1zM88.4 276.8h1v1h-1zM94.0 287.0h1v1h-1zM91.4 282.8h1v1h-1zM98.7 291.9h1v1h-1zM93.0 272.4h1v1h-1zM86.5 263.2h1v1h-1zM91.6 259.5h1v1h-1zM95.9 259.8h1v1h-1zM97.7 252.5h1v1h-1zM89.5 226.4h1v1h-1zM96.9 232.5h1v1h-1zM95.6 216.5h1v1h-1zM95.2 214.5h1v1h-1zM97.3 196.8h1v1h-1zM96.6 188.4h1v1h-1zM97.2 192.3h1v1h-1zM92.2 176.4h1v1h-1zM99.1 178.8h1v1h-1zM89.2 167.5h1v1h-1zM87.5 164.5h1v1h-1zM92.9 163.0h1v1h-1zM89.5 148.6h1v1h-1zM87.7 152.9h1v1h-1zM95.2 121.6h1v1h-1zM89.5 116.9h1v1h-1zM87.9 98.4h1v1h-1zM86.6 98.1h1v1h-1zM97.5 102.2h1v1h-1zM94.5 91.5h1v1h-1zM94.7 86.3h1v1h-1zM91.5 87.3h1v1h-1zM100.2 290.9h1v1h-1zM109.0 285.1h1v1h-1zM109.4 286.5h1v1h-1zM107.6 267.3h1v1h-1zM109.4 275.9h1v1h-1zM100.7 262.9h1v1h-1zM111.6 249.8h1v1h-1zM105.4 251.0h1v1h-1zM109.6 242.5h1v1h-1zM110.9 219.1h1v1h-1zM100.8 215.6h1v1h-1zM100.1 204.7h1v1h-1zM106.9 204.3h1v1h-1zM108.7 179.0h1v1h-1zM99.7 177.5h1v1h-1zM104.4 164.2h1v1h-1zM108.8 168.7h1v1h-1zM108.3 158.7h1v1h-1zM108.9 164.1h1v1h-1zM105.5 155.0h1v1h-1zM106.1 147.2h1v1h-1zM102.6 137.4h1v1h-1zM100.2 124.3h1v1h-1zM101.1 119.9h1v1h-1zM109.5 111.3h1v1h-1zM109.4 112.0h1v1h-1zM107.2 99.1h1v1h-1zM102.0 104.5h1v1h-1zM99.4 103.6h1v1h-1zM101.0 92.2h1v1h-1zM104.2 96.9h1v1h-1zM104.0 92.1h1v1h-1zM105.5 87.3h1v1h-1zM105.2 81.5h1v1h-1zM110.3 78.4h1v1h-1zM122.7 285.9h1v1h-1zM118.4 268.6h1v1h-1zM117.9 264.6h1v1h-1zM120.6 252.9h1v1h-1zM119.6 253.0h1v1h-1zM122.2 252.0h1v1h-1zM114.8 255.4h1v1h-1zM117.3 242.1h1v1h-1zM116.0 238.6h1v1h-1zM119.1 240.3h1v1h-1zM118.2 232.8h1v1h-1zM117.3 226.9h1v1h-1zM117.2 221.9h1v1h-1zM117.8 198.3h1v1h-1zM123.4 186.3h1v1h-1zM115.7 190.3h1v1h-1zM115.3 190.5h1v1h-1zM118.8 179.5h1v1h-1zM123.4 174.3h1v1h-1zM115.8 169.3h1v1h-1zM121.5 169.0h1v1h-1zM121.3 167.9h1v1h-1zM123.8 158.7h1v1h-1zM113.6 163.3h1v1h-1zM113.0 155.3h1v1h-1zM118.5 114.6h1v1h-1zM120.2 108.0h1v1h-1zM120.5 102.4h1v1h-1zM115.6 99.7h1v1h-1zM114.7 100.6h1v1h-1zM116.2 92.6h1v1h-1zM115.6 96.7h1v1h-1zM123.3 85.0h1v1h-1zM126.4 290.1h1v1h-1zM135.8 281.2h1v1h-1zM127.5 264.6h1v1h-1zM125.4 251.1h1v1h-1zM134.9 254.2h1v1h-1zM135.0 237.6h1v1h-1zM125.1 246.1h1v1h-1zM136.5 242.7h1v1h-1zM127.4 215.0h1v1h-1zM135.9 216.1h1v1h-1zM130.2 186.6h1v1h-1zM133.8 184.7h1v1h-1zM132.2 151.0h1v1h-1zM128.4 136.1h1v1h-1zM126.9 127.0h1v1h-1zM133.1 122.0h1v1h-1zM130.0 122.7h1v1h-1zM126.3 111.3h1v1h-1zM125.0 104.8h1v1h-1zM143.7 278.0h1v1h-1zM146.7 263.3h1v1h-1zM147.0 264.1h1v1h-1zM147.1 241.4h1v1h-1zM140.8 209.5h1v1h-1zM144.8 211.8h1v1h-1zM143.5 216.6h1v1h-1zM144.7 203.0h1v1h-1zM145.8 177.1h1v1h-1zM140.6 164.6h1v1h-1zM139.6 145.7h1v1h-1zM145.9 137.1h1v1h-1zM138.8 138.8h1v1h-1zM140.8 131.3h1v1h-1zM141.9 107.8h1v1h-1zM147.2 103.3h1v1h-1zM143.7 104.2h1v1h-1zM142.0 96.5h1v1h-1zM144.5 91.8h1v1h-1zM140.7 91.1h1v1h-1zM156.8 288.8h1v1h-1zM148.5 279.7h1v1h-1zM155.5 287.0h1v1h-1zM153.1 264.1h1v1h-1zM151.7 272.8h1v1h-1zM152.0 265.6h1v1h-1zM155.8 248.7h1v1h-1zM157.6 258.6h1v1h-1zM148.3 253.8h1v1h-1zM149.7 248.7h1v1h-1zM152.4 258.7h1v1h-1zM151.5 252.5h1v1h-1zM156.2 257.1h1v1h-1zM158.6 256.0h1v1h-1zM148.3 244.9h1v1h-1zM156.5 246.0h1v1h-1zM157.6 228.1h1v1h-1zM154.7 215.5h1v1h-1zM153.8 206.9h1v1h-1zM155.0 208.0h1v1h-1zM153.6 199.7h1v1h-1zM152.6 196.1h1v1h-1zM157.0 190.0h1v1h-1zM148.4 134.4h1v1h-1zM154.3 136.6h1v1h-1zM148.4 121.7h1v1h-1zM158.8 121.1h1v1h-1zM150.8 109.0h1v1h-1zM154.4 105.4h1v1h-1zM157.9 104.6h1v1h-1zM156.3 105.2h1v1h-1zM155.7 92.7h1v1h-1zM157.4 95.3h1v1h-1zM153.6 74.0h1v1h-1zM151.9 77.1h1v1h-1zM152.2 82.1h1v1h-1zM161.8 289.8h1v1h-1zM162.7 257.1h1v1h-1zM161.3 256.6h1v1h-1zM167.3 243.2h1v1h-1zM165.7 227.8h1v1h-1zM163.3 213.3h1v1h-1zM161.2 214.0h1v1h-1zM160.1 210.0h1v1h-1zM163.3 203.4h1v1h-1zM159.8 207.3h1v1h-1zM168.6 190.9h1v1h-1zM161.5 178.9h1v1h-1zM169.2 175.9h1v1h-1zM162.3 127.2h1v1h-1zM159.8 132.5h1v1h-1zM160.1 131.6h1v1h-1zM167.5 102.7h1v1h-1zM164.2 102.5h1v1h-1zM168.2 103.5h1v1h-1zM161.3 92.2h1v1h-1zM167.2 92.2h1v1h-1zM179.2 277.4h1v1h-1zM173.5 291.0h1v1h-1zM178.6 263.4h1v1h-1zM173.5 271.7h1v1h-1zM176.3 234.8h1v1h-1zM175.5 245.4h1v1h-1zM180.2 234.0h1v1h-1zM171.8 223.2h1v1h-1zM171.7 220.0h1v1h-1zM179.6 215.0h1v1h-1zM175.7 197.8h1v1h-1zM179.5 180.1h1v1h-1zM172.4 166.4h1v1h-1zM178.8 168.0h1v1h-1zM170.1 145.8h1v1h-1zM174.8 148.0h1v1h-1zM180.2 130.4h1v1h-1zM176.7 113.9h1v1h-1zM172.9 102.1h1v1h-1zM171.8 101.2h1v1h-1zM170.2 93.9h1v1h-1zM188.9 280.6h1v1h-1zM185.7 286.8h1v1h-1zM184.6 286.3h1v1h-1zM189.6 281.6h1v1h-1zM189.1 277.6h1v1h-1zM184.7 259.9h1v1h-1zM188.6 248.3h1v1h-1zM185.3 260.4h1v1h-1zM185.6 221.9h1v1h-1zM186.6 191.6h1v1h-1zM189.7 190.4h1v1h-1zM188.6 160.3h1v1h-1zM190.5 136.8h1v1h-1zM189.6 132.7h1v1h-1zM184.3 114.2h1v1h-1zM182.8 103.4h1v1h-1zM182.9 91.5h1v1h-1zM190.3 91.6h1v1h-1zM184.1 78.5h1v1h-1zM197.5 279.1h1v1h-1zM191.0 274.8h1v1h-1zM194.3 264.7h1v1h-1zM196.3 263.2h1v1h-1zM200.5 257.4h1v1h-1zM195.2 261.3h1v1h-1zM198.0 225.5h1v1h-1zM194.9 226.7h1v1h-1zM190.9 180.9h1v1h-1zM191.9 185.5h1v1h-1zM200.8 166.5h1v1h-1zM197.4 169.1h1v1h-1zM193.0 125.5h1v1h-1zM192.8 129.0h1v1h-1zM195.9 97.1h1v1h-1zM197.6 94.2h1v1h-1zM191.5 87.3h1v1h-1zM208.2 287.0h1v1h-1zM211.3 290.7h1v1h-1zM206.8 284.6h1v1h-1zM202.8 290.9h1v1h-1zM211.5 262.9h1v1h-1zM204.8 274.1h1v1h-1zM208.8 250.7h1v1h-1zM207.8 251.6h1v1h-1zM211.0 220.4h1v1h-1zM201.7 210.6h1v1h-1zM206.0 216.6h1v1h-1zM202.0 203.8h1v1h-1zM206.5 202.8h1v1h-1zM203.7 195.3h1v1h-1zM204.0 196.2h1v1h-1zM207.8 183.4h1v1h-1zM206.1 168.5h1v1h-1zM203.5 173.9h1v1h-1zM201.4 149.8h1v1h-1zM211.6 137.0h1v1h-1zM201.1 122.1h1v1h-1zM210.4 119.9h1v1h-1zM205.5 122.5h1v1h-1zM206.5 109.2h1v1h-1zM207.6 101.2h1v1h-1zM207.4 99.9h1v1h-1zM206.5 103.4h1v1h-1zM214.8 254.7h1v1h-1zM219.7 256.1h1v1h-1zM219.7 235.2h1v1h-1zM219.5 242.4h1v1h-1zM218.5 236.4h1v1h-1zM212.1 228.2h1v1h-1zM218.9 227.9h1v1h-1zM214.9 203.8h1v1h-1zM217.8 177.6h1v1h-1zM213.3 154.9h1v1h-1zM219.3 148.1h1v1h-1zM218.1 147.4h1v1h-1zM215.5 150.7h1v1h-1zM216.2 127.1h1v1h-1zM219.8 93.0h1v1h-1zM212.7 90.2h1v1h-1zM219.7 95.2h1v1h-1zM214.9 88.4h1v1h-1zM212.0 88.2h1v1h-1zM217.5 82.1h1v1h-1zM226.6 281.4h1v1h-1zM226.4 271.1h1v1h-1zM223.9 255.2h1v1h-1zM225.9 218.9h1v1h-1zM225.9 219.2h1v1h-1zM224.1 197.3h1v1h-1zM225.6 208.2h1v1h-1zM227.9 191.4h1v1h-1zM222.0 183.4h1v1h-1zM224.0 169.3h1v1h-1zM221.0 160.0h1v1h-1zM221.0 128.0h1v1h-1zM236.6 288.8h1v1h-1zM236.3 273.3h1v1h-1zM229.9 251.1h1v1h-1zM231.2 256.3h1v1h-1zM230.5 237.0h1v1h-1zM235.7 238.7h1v1h-1zM232.7 247.5h1v1h-1zM229.7 230.5h1v1h-1zM233.2 229.4h1v1h-1zM232.9 228.5h1v1h-1zM232.3 228.9h1v1h-1zM236.2 213.9h1v1h-1zM235.8 207.9h1v1h-1zM236.2 197.3h1v1h-1zM233.8 184.2h1v1h-1zM232.1 177.8h1v1h-1zM234.9 172.7h1v1h-1zM233.0 158.6h1v1h-1zM236.7 125.2h1v1h-1zM229.7 129.6h1v1h-1zM229.1 121.2h1v1h-1zM236.3 111.7h1v1h-1zM232.6 113.2h1v1h-1zM236.2 89.0h1v1h-1zM236.7 82.7h1v1h-1zM244.6 293.0h1v1h-1zM238.5 284.2h1v1h-1zM243.5 278.7h1v1h-1zM237.5 284.2h1v1h-1zM240.6 273.8h1v1h-1zM237.2 262.4h1v1h-1zM240.5 275.4h1v1h-1zM241.0 261.7h1v1h-1zM241.4 256.5h1v1h-1zM241.8 242.7h1v1h-1zM237.0 232.5h1v1h-1zM244.3 229.7h1v1h-1zM238.3 218.2h1v1h-1zM237.3 201.1h1v1h-1zM239.6 207.9h1v1h-1zM238.5 180.4h1v1h-1zM238.3 168.4h1v1h-1zM237.0 160.1h1v1h-1zM241.4 156.7h1v1h-1zM242.8 149.3h1v1h-1zM241.1 131.1h1v1h-1zM242.8 116.3h1v1h-1zM243.0 98.4h1v1h-1zM241.1 89.6h1v1h-1zM242.7 75.1h1v1h-1zM247.7 279.3h1v1h-1zM244.9 266.6h1v1h-1zM249.1 257.0h1v1h-1zM247.5 246.4h1v1h-1zM246.8 233.5h1v1h-1zM245.3 220.3h1v1h-1zM249.8 186.7h1v1h-1zM245.0 184.3h1v1h-1zM247.8 164.6h1v1h-1zM248.8 173.5h1v1h-1zM248.4 97.1h1v1h-1zM245.1 93.7h1v1h-1zM245.9 75.4h1v1h-1zM251.3 281.5h1v1h-1zM252.6 281.7h1v1h-1zM256.6 284.7h1v1h-1zM258.3 265.4h1v1h-1zM253.1 270.5h1v1h-1zM261.2 266.4h1v1h-1zM263.6 259.4h1v1h-1zM254.7 253.9h1v1h-1zM255.2 207.3h1v1h-1zM262.4 195.6h1v1h-1zM250.0 172.6h1v1h-1zM251.8 161.3h1v1h-1zM253.0 140.3h1v1h-1zM261.4 132.2h1v1h-1zM258.6 118.9h1v1h-1zM252.0 109.9h1v1h-1zM104.2 116.1h1v1h-1zM93.7 116.7h1v1h-1zM238.0 115.9h1v1h-1zM168.5 116.3h1v1h-1zM65.5 117.5h1v1h-1zM224.7 116.9h1v1h-1zM41.3 116.7h1v1h-1zM76.7 116.1h1v1h-1zM204.0 116.6h1v1h-1zM63.8 116.5h1v1h-1zM91.9 116.5h1v1h-1zM142.1 116.8h1v1h-1zM169.7 116.5h1v1h-1zM195.5 116.9h1v1h-1zM180.1 115.9h1v1h-1zM249.3 117.5h1v1h-1zM141.0 117.6h1v1h-1zM52.1 116.3h1v1h-1zM208.3 116.2h1v1h-1zM171.5 117.0h1v1h-1zM196.9 116.8h1v1h-1zM249.7 269.7h1v1h-1zM102.0 269.5h1v1h-1zM242.7 269.7h1v1h-1zM164.8 270.7h1v1h-1zM124.2 269.7h1v1h-1zM260.2 271.3h1v1h-1zM190.2 270.3h1v1h-1zM56.2 271.1h1v1h-1zM78.5 270.5h1v1h-1zM218.1 269.8h1v1h-1zM155.4 271.1h1v1h-1zM182.6 270.0h1v1h-1zM120.5 271.2h1v1h-1zM145.1 270.7h1v1h-1zM87.6 271.2h1v1h-1zM97.6 270.7h1v1h-1zM244.5 270.8h1v1h-1zM78.2 271.0h1v1h-1zM119.7 271.1h1v1h-1zM51.8 270.7h1v1h-1zM78.2 169.5h1v1h-1zM181.6 168.3h1v1h-1zM209.0 169.2h1v1h-1zM243.6 169.1h1v1h-1zM220.2 168.5h1v1h-1zM210.4 168.8h1v1h-1zM40.5 169.3h1v1h-1zM171.9 169.5h1v1h-1zM86.6 168.1h1v1h-1zM87.8 169.1h1v1h-1zM114.6 168.4h1v1h-1zM201.4 169.1h1v1h-1zM91.3 169.1h1v1h-1zM62.3 168.7h1v1h-1zM215.4 168.2h1v1h-1zM230.3 168.3h1v1h-1zM181.8 168.6h1v1h-1zM51.6 168.5h1v1h-1zM149.2 169.0h1v1h-1zM60.9 169.5h1v1h-1zM236.2 168.6h1v1h-1zM87.3 168.4h1v1h-1zM192.5 177.7h1v1h-1zM247.5 179.1h1v1h-1zM135.3 178.5h1v1h-1zM48.5 178.9h1v1h-1zM104.9 178.3h1v1h-1zM246.4 177.6h1v1h-1zM49.6 178.0h1v1h-1zM233.6 178.0h1v1h-1zM205.0 177.9h1v1h-1zM171.9 178.9h1v1h-1zM148.0 178.2h1v1h-1zM116.1 177.9h1v1h-1zM55.5 178.7h1v1h-1zM127.5 178.7h1v1h-1zM90.8 179.1h1v1h-1zM165.5 178.4h1v1h-1zM68.9 178.4h1v1h-1zM92.6 177.9h1v1h-1zM169.5 177.7h1v1h-1zM214.4 178.7h1v1h-1zM146.8 178.8h1v1h-1zM138.7 178.0h1v1h-1zM106.4 177.7h1v1h-1zM49.9 124.7h1v1h-1zM117.5 124.6h1v1h-1zM68.3 124.3h1v1h-1zM182.5 124.8h1v1h-1zM60.4 123.8h1v1h-1zM228.9 123.7h1v1h-1zM157.0 123.5h1v1h-1zM152.2 124.0h1v1h-1zM255.9 123.5h1v1h-1zM166.9 124.3h1v1h-1zM87.9 124.2h1v1h-1zM75.4 124.8h1v1h-1zM199.5 124.3h1v1h-1zM178.2 125.0h1v1h-1zM60.9 123.9h1v1h-1zM211.7 125.0h1v1h-1zM107.6 123.4h1v1h-1zM56.7 123.8h1v1h-1zM99.1 123.5h1v1h-1zM157.1 124.4h1v1h-1zM50.3 90.7h1v1h-1zM181.7 90.3h1v1h-1zM221.2 90.4h1v1h-1zM193.2 89.5h1v1h-1zM174.9 90.4h1v1h-1zM197.2 90.9h1v1h-1zM81.7 89.8h1v1h-1zM68.0 90.0h1v1h-1zM78.8 89.9h1v1h-1zM111.9 90.7h1v1h-1zM79.7 90.2h1v1h-1zM197.5 90.7h1v1h-1zM189.1 90.2h1v1h-1zM54.0 91.0h1v1h-1zM120.1 90.5h1v1h-1zM89.4 91.0h1v1h-1zM167.0 90.9h1v1h-1zM91.4 90.2h1v1h-1zM141.7 90.0h1v1h-1zM244.2 89.6h1v1h-1zM135.6 85.6h1v1h-1zM149.3 87.0h1v1h-1zM51.3 86.6h1v1h-1zM219.9 85.4h1v1h-1zM169.3 87.0h1v1h-1zM105.5 86.8h1v1h-1zM145.5 86.2h1v1h-1zM220.0 86.4h1v1h-1zM107.0 85.4h1v1h-1zM222.3 86.1h1v1h-1zM100.1 87.1h1v1h-1zM219.6 86.5h1v1h-1zM200.1 85.6h1v1h-1zM62.1 85.5h1v1h-1zM194.6 87.0h1v1h-1zM165.1 86.5h1v1h-1zM171.4 86.2h1v1h-1zM85.5 86.9h1v1h-1zM120.4 87.1h1v1h-1zM141.7 173.5h1v1h-1zM151.6 172.4h1v1h-1zM114.1 172.5h1v1h-1zM137.1 173.2h1v1h-1zM236.2 173.1h1v1h-1zM130.7 172.5h1v1h-1zM200.1 172.4h1v1h-1zM227.4 172.4h1v1h-1zM85.6 172.6h1v1h-1zM131.0 172.7h1v1h-1zM61.3 171.9h1v1h-1zM182.2 172.0h1v1h-1zM217.9 173.2h1v1h-1zM185.8 173.2h1v1h-1zM109.9 172.6h1v1h-1zM91.8 172.2h1v1h-1zM143.6 172.6h1v1h-1zM245.8 172.5h1v1h-1zM243.3 172.2h1v1h-1zM80.6 172.0h1v1h-1zM52.7 172.8h1v1h-1zM81.5 189.8h1v1h-1zM170.2 189.8h1v1h-1zM125.1 189.0h1v1h-1zM74.9 189.7h1v1h-1zM122.7 189.8h1v1h-1zM217.4 189.0h1v1h-1zM111.5 189.6h1v1h-1zM90.6 188.9h1v1h-1zM171.4 189.4h1v1h-1zM174.6 189.7h1v1h-1zM75.3 189.5h1v1h-1zM170.7 188.5h1v1h-1zM228.8 188.3h1v1h-1zM69.7 188.2h1v1h-1zM84.2 189.5h1v1h-1zM80.5 188.7h1v1h-1zM54.1 189.6h1v1h-1zM165.3 188.9h1v1h-1zM220.3 188.7h1v1h-1zM225.5 249.1h1v1h-1zM124.0 248.7h1v1h-1zM150.2 249.0h1v1h-1zM227.3 248.9h1v1h-1zM74.2 249.2h1v1h-1zM139.1 248.9h1v1h-1zM174.7 248.0h1v1h-1zM114.6 248.1h1v1h-1zM154.9 248.6h1v1h-1zM170.6 248.4h1v1h-1zM99.6 248.5h1v1h-1zM109.9 248.4h1v1h-1zM226.4 248.7h1v1h-1zM226.0 249.5h1v1h-1zM172.5 248.3h1v1h-1zM230.2 248.6h1v1h-1zM193.0 247.9h1v1h-1zM108.6 219.9h1v1h-1zM149.3 220.5h1v1h-1zM144.9 219.6h1v1h-1zM178.0 220.1h1v1h-1zM59.6 220.9h1v1h-1zM229.3 220.2h1v1h-1zM105.1 220.0h1v1h-1zM237.0 220.9h1v1h-1zM72.1 219.8h1v1h-1zM224.1 220.0h1v1h-1zM143.8 219.8h1v1h-1zM92.7 219.5h1v1h-1zM150.3 219.7h1v1h-1zM150.6 221.1h1v1h-1zM236.5 219.4h1v1h-1zM230.2 221.0h1v1h-1zM92.2 219.3h1v1h-1zM79.4 219.3h1v1h-1zM115.0 114.9h1v1h-1zM238.0 113.6h1v1h-1zM242.7 115.0h1v1h-1zM66.4 115.0h1v1h-1zM178.3 114.2h1v1h-1zM190.7 115.1h1v1h-1zM242.7 115.1h1v1h-1zM261.4 113.7h1v1h-1zM205.9 114.2h1v1h-1zM162.5 113.8h1v1h-1zM216.4 113.6h1v1h-1zM174.8 114.5h1v1h-1zM173.1 114.0h1v1h-1zM143.2 114.9h1v1h-1zM193.9 114.4h1v1h-1zM166.1 114.2h1v1h-1zM150.8 115.1h1v1h-1zM195.0 114.3h1v1h-1zM187.7 113.8h1v1h-1zM154.6 114.7h1v1h-1zM240.5 209.3h1v1h-1zM59.7 210.3h1v1h-1zM54.4 210.1h1v1h-1zM172.6 209.7h1v1h-1zM164.2 209.0h1v1h-1zM215.0 209.8h1v1h-1zM201.3 209.6h1v1h-1zM140.3 210.1h1v1h-1zM204.1 209.9h1v1h-1zM115.0 209.0h1v1h-1zM116.8 209.8h1v1h-1zM141.0 208.9h1v1h-1zM100.7 209.3h1v1h-1zM106.6 209.0h1v1h-1zM48.8 208.9h1v1h-1zM203.5 209.1h1v1h-1zM179.5 208.8h1v1h-1zM262.6 209.5h1v1h-1zM41.9 209.7h1v1h-1zM250.0 211.1h1v1h-1zM45.5 209.5h1v1h-1zM236.6 209.6h1v1h-1zM249.4 210.7h1v1h-1zM80.8 210.1h1v1h-1zM235.9 209.9h1v1h-1zM131.9 210.3h1v1h-1zM252.6 209.6h1v1h-1zM157.8 209.6h1v1h-1zM216.3 209.6h1v1h-1zM111.5 210.9h1v1h-1zM215.1 210.4h1v1h-1zM206.6 211.0h1v1h-1zM203.0 210.0h1v1h-1zM79.0 211.0h1v1h-1zM182.0 211.0h1v1h-1zM181.7 138.1h1v1h-1zM131.3 137.5h1v1h-1zM42.1 137.6h1v1h-1zM162.3 136.7h1v1h-1zM168.1 136.7h1v1h-1zM125.8 138.2h1v1h-1zM76.8 138.2h1v1h-1zM65.5 137.7h1v1h-1zM206.3 137.4h1v1h-1zM163.7 138.3h1v1h-1zM70.1 138.1h1v1h-1zM100.7 138.0h1v1h-1zM65.4 137.6h1v1h-1zM101.1 137.8h1v1h-1zM209.6 138.2h1v1h-1zM244.3 137.9h1v1h-1zM61.3 137.4h1v1h-1zM205.3 137.4h1v1h-1zM123.8 137.0h1v1h-1zM118.6 235.3h1v1h-1zM129.3 235.7h1v1h-1zM74.7 235.4h1v1h-1zM168.6 235.0h1v1h-1zM106.5 236.5h1v1h-1zM211.7 234.8h1v1h-1zM118.3 236.1h1v1h-1zM188.1 235.6h1v1h-1zM68.0 235.3h1v1h-1zM151.4 235.3h1v1h-1zM154.0 236.3h1v1h-1zM162.4 235.5h1v1h-1zM77.5 235.6h1v1h-1zM66.8 235.6h1v1h-1zM141.4 235.3h1v1h-1zM105.1 235.7h1v1h-1zM202.5 236.2h1v1h-1zM201.1 279.7h1v1h-1zM201.9 186.6h1v1h-1zM202.0 281.2h1v1h-1zM202.3 256.3h1v1h-1zM201.0 72.9h1v1h-1zM201.8 262.0h1v1h-1zM201.3 90.2h1v1h-1zM201.6 200.1h1v1h-1zM202.1 164.2h1v1h-1zM200.6 227.4h1v1h-1zM202.3 219.6h1v1h-1zM201.8 203.4h1v1h-1zM201.2 271.6h1v1h-1zM202.2 107.9h1v1h-1zM201.4 185.5h1v1h-1zM201.5 168.4h1v1h-1zM202.2 165.8h1v1h-1zM200.7 240.2h1v1h-1zM201.3 170.7h1v1h-1zM201.9 101.4h1v1h-1zM193.4 109.5h1v1h-1zM193.5 127.8h1v1h-1zM192.9 123.4h1v1h-1zM192.3 261.2h1v1h-1zM194.0 101.1h1v1h-1zM193.0 226.8h1v1h-1zM192.4 232.5h1v1h-1zM193.9 89.6h1v1h-1zM192.5 145.0h1v1h-1zM194.0 145.2h1v1h-1zM193.7 93.2h1v1h-1zM192.7 157.0h1v1h-1zM192.3 269.4h1v1h-1zM192.3 244.6h1v1h-1zM192.7 280.5h1v1h-1zM193.1 229.8h1v1h-1zM193.7 145.1h1v1h-1zM192.4 176.5h1v1h-1zM193.6 210.1h1v1h-1zM192.4 260.1h1v1h-1zM194.0 222.9h1v1h-1zM192.9 182.9h1v1h-1zM193.8 206.9h1v1h-1zM139.1 90.3h1v1h-1zM138.4 271.0h1v1h-1zM138.9 251.1h1v1h-1zM138.0 110.8h1v1h-1zM139.3 116.6h1v1h-1zM139.4 130.7h1v1h-1zM137.9 255.8h1v1h-1zM138.7 72.2h1v1h-1zM138.5 171.5h1v1h-1zM137.8 175.1h1v1h-1zM139.2 92.9h1v1h-1zM138.2 87.7h1v1h-1zM137.7 85.9h1v1h-1zM138.1 207.4h1v1h-1zM138.4 198.8h1v1h-1zM138.6 129.8h1v1h-1zM137.9 216.7h1v1h-1zM139.3 219.5h1v1h-1zM138.9 91.8h1v1h-1zM82.1 199.2h1v1h-1zM81.6 157.3h1v1h-1zM82.1 125.9h1v1h-1zM82.2 147.7h1v1h-1zM81.0 77.7h1v1h-1zM80.7 124.1h1v1h-1zM80.6 171.5h1v1h-1zM81.2 130.3h1v1h-1zM81.6 194.4h1v1h-1zM82.2 161.5h1v1h-1zM80.9 108.9h1v1h-1zM81.9 133.0h1v1h-1zM82.1 129.3h1v1h-1zM81.5 119.8h1v1h-1zM82.2 89.7h1v1h-1zM81.7 183.8h1v1h-1zM81.2 272.7h1v1h-1zM81.9 205.3h1v1h-1zM81.2 283.2h1v1h-1zM81.6 157.7h1v1h-1zM81.3 118.0h1v1h-1zM81.1 98.5h1v1h-1zM81.0 116.0h1v1h-1zM145.4 135.2h1v1h-1zM145.4 122.9h1v1h-1zM145.9 208.0h1v1h-1zM144.8 185.1h1v1h-1zM146.2 275.6h1v1h-1zM145.4 277.1h1v1h-1zM145.0 205.8h1v1h-1zM146.5 234.4h1v1h-1zM145.4 227.2h1v1h-1zM146.5 150.8h1v1h-1zM146.3 113.2h1v1h-1zM146.0 212.0h1v1h-1zM145.3 147.9h1v1h-1zM198.1 122.4h1v1h-1zM197.7 160.3h1v1h-1zM197.6 95.4h1v1h-1zM197.0 265.5h1v1h-1zM197.9 153.5h1v1h-1zM196.9 242.6h1v1h-1zM197.4 185.1h1v1h-1zM197.2 186.5h1v1h-1zM197.0 181.1h1v1h-1zM197.7 240.8h1v1h-1zM197.0 186.5h1v1h-1zM198.0 155.4h1v1h-1zM196.9 209.7h1v1h-1zM197.7 260.5h1v1h-1zM197.4 133.2h1v1h-1zM197.3 98.2h1v1h-1zM197.0 109.4h1v1h-1zM197.5 101.7h1v1h-1zM197.8 281.7h1v1h-1zM197.7 222.8h1v1h-1zM197.4 204.0h1v1h-1zM197.5 195.9h1v1h-1zM197.6 233.1h1v1h-1zM196.8 185.1h1v1h-1zM198.3 236.2h1v1h-1zM197.7 164.6h1v1h-1zM148.3 86.5h1v1h-1zM147.5 144.4h1v1h-1zM147.5 213.9h1v1h-1zM148.9 254.9h1v1h-1zM148.2 156.2h1v1h-1zM147.5 118.7h1v1h-1zM149.1 265.6h1v1h-1zM149.0 239.4h1v1h-1zM148.8 147.4h1v1h-1zM148.8 97.0h1v1h-1zM147.4 107.4h1v1h-1zM147.7 135.3h1v1h-1zM148.7 221.0h1v1h-1zM149.1 150.1h1v1h-1zM148.6 93.8h1v1h-1zM147.6 123.7h1v1h-1zM147.9 80.7h1v1h-1zM64.7 172.1h1v1h-1zM65.0 92.5h1v1h-1zM64.3 207.2h1v1h-1zM64.7 128.8h1v1h-1zM65.0 178.6h1v1h-1zM63.9 171.8h1v1h-1zM64.0 127.4h1v1h-1zM64.5 236.6h1v1h-1zM65.0 218.8h1v1h-1zM64.2 172.9h1v1h-1zM64.5 103.0h1v1h-1zM63.7 82.6h1v1h-1zM63.5 105.4h1v1h-1zM64.5 241.2h1v1h-1zM63.9 114.4h1v1h-1zM64.0 128.4h1v1h-1zM64.5 112.1h1v1h-1zM64.1 256.6h1v1h-1zM64.9 129.9h1v1h-1zM63.7 222.4h1v1h-1zM236.5 143.2h1v1h-1zM236.8 159.7h1v1h-1zM235.9 254.4h1v1h-1zM237.0 249.7h1v1h-1zM237.5 121.0h1v1h-1zM236.0 88.2h1v1h-1zM236.0 119.0h1v1h-1zM236.5 183.3h1v1h-1zM237.0 234.1h1v1h-1zM237.1 83.5h1v1h-1zM237.5 161.8h1v1h-1zM236.2 212.9h1v1h-1zM236.9 226.8h1v1h-1zM237.6 215.1h1v1h-1zM237.1 137.9h1v1h-1zM191.0 192.7h1v1h-1zM190.8 248.7h1v1h-1zM189.9 284.8h1v1h-1zM191.5 199.7h1v1h-1zM190.5 96.5h1v1h-1zM191.4 156.6h1v1h-1zM191.2 275.4h1v1h-1zM190.6 193.3h1v1h-1zM191.2 261.7h1v1h-1zM189.9 257.2h1v1h-1zM191.2 290.7h1v1h-1zM191.4 247.4h1v1h-1zM191.5 275.6h1v1h-1zM191.2 195.4h1v1h-1zM190.8 240.4h1v1h-1zM190.5 261.9h1v1h-1zM191.1 86.3h1v1h-1zM191.3 274.3h1v1h-1zM190.4 204.8h1v1h-1zM107.1 126.1h1v1h-1zM106.8 201.2h1v1h-1zM106.6 250.5h1v1h-1zM106.4 173.3h1v1h-1zM106.4 261.1h1v1h-1zM106.7 143.2h1v1h-1zM107.1 107.8h1v1h-1zM106.1 258.1h1v1h-1zM106.0 106.0h1v1h-1zM105.7 240.1h1v1h-1zM106.4 156.9h1v1h-1zM106.5 115.6h1v1h-1zM106.9 108.0h1v1h-1zM106.9 175.8h1v1h-1zM107.2 110.9h1v1h-1zM106.8 111.4h1v1h-1zM49.2 160.3h1v1h-1zM49.1 275.3h1v1h-1zM49.1 210.6h1v1h-1zM50.8 238.0h1v1h-1zM50.1 139.7h1v1h-1zM49.9 274.7h1v1h-1zM50.4 244.3h1v1h-1zM50.2 179.3h1v1h-1zM50.2 110.3h1v1h-1zM49.3 200.0h1v1h-1zM50.4 249.2h1v1h-1zM49.4 276.4h1v1h-1zM50.4 262.9h1v1h-1zM50.8 238.5h1v1h-1zM49.1 142.1h1v1h-1zM49.1 275.3h1v1h-1zM50.1 251.6h1v1h-1zM49.2 180.4h1v1h-1zM232.8 111.7h1v1h-1zM232.3 235.9h1v1h-1zM232.5 168.8h1v1h-1zM232.7 226.9h1v1h-1zM233.2 170.5h1v1h-1zM233.2 173.3h1v1h-1zM232.3 225.6h1v1h-1zM232.5 230.8h1v1h-1zM233.0 220.1h1v1h-1zM231.6 212.9h1v1h-1zM232.4 183.6h1v1h-1zM232.8 170.7h1v1h-1zM232.5 255.6h1v1h-1zM232.4 164.9h1v1h-1zM231.8 173.4h1v1h-1zM233.2 141.2h1v1h-1zM232.1 229.3h1v1h-1zM232.0 196.7h1v1h-1zM179.5 257.6h1v1h-1zM178.2 166.4h1v1h-1zM179.0 186.7h1v1h-1zM178.3 89.7h1v1h-1zM179.2 188.2h1v1h-1zM179.0 107.2h1v1h-1zM179.3 71.9h1v1h-1zM179.0 234.8h1v1h-1zM179.4 186.9h1v1h-1zM178.3 267.4h1v1h-1zM178.4 201.1h1v1h-1zM179.4 244.7h1v1h-1zM178.6 91.7h1v1h-1zM178.2 195.0h1v1h-1zM177.9 153.6h1v1h-1zM178.2 99.5h1v1h-1zM178.9 235.4h1v1h-1zM179.7 176.0h1v1h-1zM179.2 90.3h1v1h-1zM178.5 285.5h1v1h-1zM179.2 109.4h1v1h-1zM237.8 204.9h1v1h-1zM237.2 275.7h1v1h-1zM236.7 292.7h1v1h-1zM238.1 215.9h1v1h-1zM237.8 118.6h1v1h-1zM238.1 186.1h1v1h-1zM238.1 119.2h1v1h-1zM237.0 155.2h1v1h-1zM237.5 234.3h1v1h-1zM237.0 181.1h1v1h-1zM237.0 204.3h1v1h-1zM237.6 134.7h1v1h-1zM236.6 139.3h1v1h-1zM238.3 120.4h1v1h-1zM237.1 175.3h1v1h-1zM238.0 182.1h1v1h-1zM238.2 93.1h1v1h-1zM125.9 262.9h1v1h-1zM127.2 189.3h1v1h-1zM126.0 109.3h1v1h-1zM126.7 149.4h1v1h-1zM126.3 132.2h1v1h-1zM126.1 231.3h1v1h-1zM126.5 274.0h1v1h-1zM126.9 278.9h1v1h-1zM127.4 252.4h1v1h-1zM126.7 137.1h1v1h-1zM126.6 166.3h1v1h-1zM126.0 175.0h1v1h-1zM126.1 88.2h1v1h-1zM127.4 94.2h1v1h-1zM127.4 162.5h1v1h-1zM127.1 136.6h1v1h-1zM126.6 249.6h1v1h-1z" fill="#9a5660"/>
<path d="M56.67 70.5V293.3M40.0 276.76H264.5M72.19 70.5V293.3M40.0 261.35H264.5M85.83 70.5V293.3M40.0 247.82H264.5M99.17 70.5V293.3M40.0 234.58H264.5M112.11 70.5V293.3M40.0 221.73H264.5M124.87 70.5V293.3M40.0 209.07H264.5M137.27 70.5V293.3M40.0 196.77H264.5M148.30 70.5V293.3M40.0 185.82H264.5M158.92 70.5V293.3M40.0 175.28H264.5M170.06 70.5V293.3M40.0 164.22H264.5M180.47 70.5V293.3M40.0 153.89H264.5M190.71 70.5V293.3M40.0 143.73H264.5M200.97 70.5V293.3M40.0 133.55H264.5M211.62 70.5V293.3M40.0 122.98H264.5M220.49 70.5V293.3M40.0 114.18H264.5M228.86 70.5V293.3M40.0 105.87H264.5M236.96 70.5V293.3M40.0 97.83H264.5M244.69 70.5V293.3M40.0 90.16H264.5M249.92 70.5V293.3M40.0 84.97H264.5" stroke="#c4c4c4" stroke-width="0.55" fill="none"/>
<rect x="40.00" y="276.76" width="16.67" height="16.54" fill="#b21b23"/>
<path d="M50.2 280.9h1v1h-1zM43.0 281.6h1v1h-1zM49.3 282.2h1v1h-1zM52.8 282.5h1v1h-1zM43.2 282.3h1v1h-1zM54.6 282.9h1v1h-1zM52.9 291.3h1v1h-1zM44.4 279.5h1v1h-1zM42.9 282.1h1v1h-1zM45.3 283.6h1v1h-1zM41.0 285.6h1v1h-1zM49.0 290.9h1v1h-1zM43.4 277.0h1v1h-1zM41.4 278.4h1v1h-1zM40.7 290.9h1v1h-1zM54.0 278.7h1v1h-1zM40.8 279.4h1v1h-1zM41.6 292.2h1v1h-1zM49.1 285.6h1v1h-1zM48.1 288.4h1v1h-1zM55.3 278.8h1v1h-1zM53.5 287.6h1v1h-1zM40.2 291.3h1v1h-1zM50.3 281.9h1v1h-1zM53.8 281.2h1v1h-1zM55.3 291.1h1v1h-1zM40.3 281.2h1v1h-1zM44.4 286.8h1v1h-1zM52.3 285.0h1v1h-1zM52.0 281.8h1v1h-1zM45.8 283.4h1v1h-1zM47.5 280.5h1v1h-1zM49.5 290.9h1v1h-1zM51.0 280.9h1v1h-1zM45.2 280.8h1v1h-1zM46.2 292.1h1v1h-1zM46.0 286.9h1v1h-1zM40.3 283.9h1v1h-1zM48.2 278.8h1v1h-1zM51.0 280.2h1v1h-1zM51.0 281.5h1v1h-1zM46.0 283.6h1v1h-1zM50.0 279.8h1v1h-1zM43.4 278.9h1v1h-1zM46.0 284.1h1v1h-1zM41.9 282.8h1v1h-1zM53.8 292.1h1v1h-1zM48.7 289.4h1v1h-1zM55.6 276.9h1v1h-1zM44.1 287.9h1v1h-1zM47.7 280.0h1v1h-1zM40.8 279.4h1v1h-1zM43.3 278.5h1v1h-1zM41.3 282.3h1v1h-1zM51.5 287.4h1v1h-1zM52.1 288.2h1v1h-1zM46.7 277.9h1v1h-1zM46.5 279.5h1v1h-1zM52.2 283.8h1v1h-1zM45.4 290.7h1v1h-1zM43.8 290.4h1v1h-1zM40.3 289.6h1v1h-1zM49.3 278.0h1v1h-1zM47.8 277.9h1v1h-1zM51.8 280.9h1v1h-1zM53.8 289.5h1v1h-1zM46.7 284.4h1v1h-1zM50.0 290.0h1v1h-1z" fill="#9a1018" opacity="0.6"/>
<path d="M40.50 292.80L56.17 277.26" stroke="#ea6a5a" stroke-width="0.9"/>
<rect x="56.67" y="261.35" width="15.52" height="15.41" fill="#b21b23"/>
<path d="M65.4 269.0h1v1h-1zM59.9 264.5h1v1h-1zM63.8 275.3h1v1h-1zM56.9 263.3h1v1h-1zM63.2 274.5h1v1h-1zM66.0 273.6h1v1h-1zM61.6 265.6h1v1h-1zM64.9 265.8h1v1h-1zM64.0 274.5h1v1h-1zM63.6 265.2h1v1h-1zM61.0 267.2h1v1h-1zM67.6 269.7h1v1h-1zM68.1 272.7h1v1h-1zM61.4 266.3h1v1h-1zM57.6 271.0h1v1h-1zM62.3 274.9h1v1h-1zM59.6 271.9h1v1h-1zM59.5 264.2h1v1h-1zM59.4 263.5h1v1h-1zM69.7 263.5h1v1h-1zM61.3 271.5h1v1h-1zM70.1 269.4h1v1h-1zM62.4 265.6h1v1h-1zM58.2 263.3h1v1h-1zM62.6 270.8h1v1h-1zM63.6 265.2h1v1h-1zM62.0 267.4h1v1h-1zM67.8 266.4h1v1h-1zM68.9 263.5h1v1h-1zM67.2 265.6h1v1h-1zM64.0 262.3h1v1h-1zM65.1 270.2h1v1h-1zM61.8 268.9h1v1h-1zM65.6 264.9h1v1h-1zM65.9 266.7h1v1h-1zM69.7 274.6h1v1h-1zM69.7 265.3h1v1h-1zM66.0 265.6h1v1h-1zM70.3 261.9h1v1h-1zM57.3 267.2h1v1h-1zM67.6 275.5h1v1h-1zM62.1 265.5h1v1h-1zM59.9 271.8h1v1h-1zM69.0 273.3h1v1h-1zM64.4 263.2h1v1h-1zM67.0 273.7h1v1h-1zM57.7 274.3h1v1h-1zM64.7 273.6h1v1h-1zM61.3 263.4h1v1h-1zM61.1 265.0h1v1h-1zM57.0 265.7h1v1h-1zM57.7 275.1h1v1h-1zM58.7 267.2h1v1h-1zM63.3 267.1h1v1h-1zM63.0 267.3h1v1h-1zM60.1 261.5h1v1h-1zM65.7 271.0h1v1h-1zM65.0 265.1h1v1h-1zM66.1 273.0h1v1h-1z" fill="#9a1018" opacity="0.6"/>
<path d="M57.17 276.26L71.69 261.85" stroke="#ea6a5a" stroke-width="0.9"/>
<rect x="72.19" y="247.82" width="13.64" height="13.54" fill="#b21b23"/>
<path d="M76.5 258.7h1v1h-1zM81.9 256.1h1v1h-1zM74.7 260.3h1v1h-1zM74.1 250.3h1v1h-1zM72.4 251.5h1v1h-1zM78.4 254.6h1v1h-1zM84.3 251.9h1v1h-1zM76.7 250.0h1v1h-1zM77.6 252.2h1v1h-1zM84.5 259.1h1v1h-1zM75.0 251.9h1v1h-1zM72.3 253.8h1v1h-1zM78.3 248.4h1v1h-1zM73.5 253.9h1v1h-1zM72.9 259.5h1v1h-1zM82.4 255.1h1v1h-1zM78.5 257.6h1v1h-1zM77.3 253.6h1v1h-1zM84.6 255.1h1v1h-1zM80.2 255.6h1v1h-1zM81.4 247.9h1v1h-1zM72.3 247.9h1v1h-1zM74.2 248.8h1v1h-1zM84.5 250.0h1v1h-1zM74.3 259.6h1v1h-1zM81.9 249.8h1v1h-1zM73.2 255.2h1v1h-1zM81.3 251.4h1v1h-1zM75.1 252.7h1v1h-1zM78.4 253.5h1v1h-1zM73.3 252.3h1v1h-1zM77.7 254.3h1v1h-1zM82.8 255.4h1v1h-1zM76.8 259.9h1v1h-1zM73.4 250.0h1v1h-1zM83.2 250.1h1v1h-1zM80.8 259.3h1v1h-1zM82.6 254.6h1v1h-1zM76.0 259.8h1v1h-1zM72.7 251.6h1v1h-1zM76.1 249.1h1v1h-1zM80.4 257.2h1v1h-1zM75.9 254.4h1v1h-1zM72.6 252.5h1v1h-1zM81.8 254.2h1v1h-1zM73.3 252.0h1v1h-1z" fill="#9a1018" opacity="0.6"/>
<path d="M72.69 260.85L85.33 248.32" stroke="#ea6a5a" stroke-width="0.9"/>
<rect x="85.83" y="234.58" width="13.34" height="13.24" fill="#b21b23"/>
<path d="M89.8 245.0h1v1h-1zM96.8 246.5h1v1h-1zM90.3 240.1h1v1h-1zM93.6 235.0h1v1h-1zM90.5 243.3h1v1h-1zM90.0 239.7h1v1h-1zM90.3 239.0h1v1h-1zM88.7 239.0h1v1h-1zM96.7 238.6h1v1h-1zM93.6 243.3h1v1h-1zM88.5 238.2h1v1h-1zM96.0 236.9h1v1h-1zM89.3 242.0h1v1h-1zM92.5 239.6h1v1h-1zM96.1 244.3h1v1h-1zM87.7 238.9h1v1h-1zM95.1 243.3h1v1h-1zM90.0 241.1h1v1h-1zM92.7 243.4h1v1h-1zM94.0 243.3h1v1h-1zM93.0 243.9h1v1h-1zM90.9 237.2h1v1h-1zM86.3 235.2h1v1h-1zM91.2 238.8h1v1h-1zM89.2 243.6h1v1h-1zM94.4 239.1h1v1h-1zM89.3 238.8h1v1h-1zM90.6 245.8h1v1h-1zM92.3 239.2h1v1h-1zM90.9 235.9h1v1h-1zM92.1 240.5h1v1h-1zM97.1 240.0h1v1h-1zM89.0 241.1h1v1h-1zM92.4 244.3h1v1h-1zM97.4 236.9h1v1h-1zM94.7 236.5h1v1h-1zM97.9 237.6h1v1h-1zM94.4 239.9h1v1h-1zM87.9 241.0h1v1h-1zM94.4 243.7h1v1h-1zM89.8 244.6h1v1h-1zM87.9 246.3h1v1h-1zM94.9 244.0h1v1h-1zM89.4 235.4h1v1h-1z" fill="#9a1018" opacity="0.6"/>
<path d="M86.33 247.32L98.67 235.08" stroke="#ea6a5a" stroke-width="0.9"/>
<rect x="99.17" y="221.73" width="12.94" height="12.84" fill="#b21b23"/>
<path d="M107.0 224.3h1v1h-1zM106.5 224.4h1v1h-1zM99.7 232.4h1v1h-1zM108.0 223.1h1v1h-1zM100.1 230.5h1v1h-1zM109.9 224.8h1v1h-1zM110.5 222.2h1v1h-1zM105.3 228.6h1v1h-1zM103.2 224.6h1v1h-1zM109.6 228.4h1v1h-1zM103.0 226.3h1v1h-1zM110.1 232.8h1v1h-1zM110.0 228.2h1v1h-1zM102.0 228.5h1v1h-1zM107.4 225.0h1v1h-1zM104.5 229.0h1v1h-1zM103.6 227.0h1v1h-1zM106.5 226.6h1v1h-1zM107.9 224.3h1v1h-1zM106.4 228.5h1v1h-1zM101.6 230.5h1v1h-1zM100.4 228.8h1v1h-1zM106.8 223.8h1v1h-1zM100.7 222.7h1v1h-1zM104.9 227.7h1v1h-1zM105.0 223.1h1v1h-1zM107.4 229.7h1v1h-1zM107.2 231.7h1v1h-1zM106.8 224.4h1v1h-1zM104.6 226.4h1v1h-1zM106.1 229.9h1v1h-1zM105.0 231.8h1v1h-1zM110.7 224.3h1v1h-1zM101.5 222.0h1v1h-1zM101.6 223.2h1v1h-1zM100.3 231.5h1v1h-1zM99.8 227.4h1v1h-1zM101.5 229.0h1v1h-1zM103.4 226.0h1v1h-1zM104.0 231.8h1v1h-1zM105.4 224.2h1v1h-1z" fill="#9a1018" opacity="0.6"/>
<path d="M99.67 234.08L111.61 222.23" stroke="#ea6a5a" stroke-width="0.9"/>
<rect x="112.11" y="209.07" width="12.76" height="12.66" fill="#b21b23"/>
<path d="M114.5 211.5h1v1h-1zM113.4 220.4h1v1h-1zM121.2 211.8h1v1h-1zM119.0 219.5h1v1h-1zM115.3 210.6h1v1h-1zM117.6 219.5h1v1h-1zM116.9 218.1h1v1h-1zM112.7 219.6h1v1h-1zM118.6 210.9h1v1h-1zM114.4 214.0h1v1h-1zM121.5 214.8h1v1h-1zM112.3 220.4h1v1h-1zM115.1 218.4h1v1h-1zM114.6 213.3h1v1h-1zM113.2 215.2h1v1h-1zM114.4 210.7h1v1h-1zM112.8 220.2h1v1h-1zM120.8 211.9h1v1h-1zM112.6 209.1h1v1h-1zM120.4 218.4h1v1h-1zM115.7 218.7h1v1h-1zM112.5 210.3h1v1h-1zM118.4 213.9h1v1h-1zM118.6 217.7h1v1h-1zM122.2 217.1h1v1h-1zM119.3 217.2h1v1h-1zM119.4 220.7h1v1h-1zM119.8 219.1h1v1h-1zM121.1 213.2h1v1h-1zM123.1 209.2h1v1h-1zM121.1 209.9h1v1h-1zM114.3 210.4h1v1h-1zM123.4 212.5h1v1h-1zM116.9 214.9h1v1h-1zM114.9 218.7h1v1h-1zM120.2 220.3h1v1h-1zM113.9 214.8h1v1h-1zM117.1 213.4h1v1h-1zM122.7 219.3h1v1h-1zM114.3 212.5h1v1h-1z" fill="#9a1018" opacity="0.6"/>
<path d="M112.61 221.23L124.37 209.57" stroke="#ea6a5a" stroke-width="0.9"/>
<rect x="124.87" y="196.77" width="12.40" height="12.30" fill="#b21b23"/>
<path d="M125.3 201.4h1v1h-1zM128.0 208.0h1v1h-1zM128.6 204.8h1v1h-1zM127.3 200.6h1v1h-1zM128.2 198.8h1v1h-1zM127.0 199.0h1v1h-1zM131.4 198.5h1v1h-1zM133.9 197.0h1v1h-1zM129.7 202.2h1v1h-1zM132.0 200.7h1v1h-1zM129.6 201.2h1v1h-1zM127.4 200.5h1v1h-1zM133.6 205.3h1v1h-1zM127.5 201.4h1v1h-1zM132.4 198.9h1v1h-1zM128.6 203.5h1v1h-1zM131.6 200.8h1v1h-1zM131.0 201.5h1v1h-1zM135.6 205.5h1v1h-1zM132.2 205.4h1v1h-1zM126.8 206.8h1v1h-1zM128.8 203.6h1v1h-1zM134.2 203.5h1v1h-1zM133.3 201.6h1v1h-1zM127.2 203.8h1v1h-1zM128.8 200.2h1v1h-1zM131.0 207.9h1v1h-1zM127.1 204.1h1v1h-1zM130.0 203.9h1v1h-1zM130.6 201.4h1v1h-1zM126.5 200.9h1v1h-1zM133.2 200.0h1v1h-1zM127.8 197.8h1v1h-1zM131.9 198.2h1v1h-1zM130.7 205.9h1v1h-1zM125.4 207.2h1v1h-1zM133.7 199.9h1v1h-1zM135.9 206.8h1v1h-1z" fill="#9a1018" opacity="0.6"/>
<path d="M125.37 208.57L136.77 197.27" stroke="#ea6a5a" stroke-width="0.9"/>
<rect x="137.27" y="185.82" width="11.03" height="10.95" fill="#b21b23"/>
<path d="M142.5 189.0h1v1h-1zM145.9 185.9h1v1h-1zM143.6 192.6h1v1h-1zM142.9 186.3h1v1h-1zM145.1 193.6h1v1h-1zM139.1 190.6h1v1h-1zM144.8 195.3h1v1h-1zM138.2 186.0h1v1h-1zM138.3 188.8h1v1h-1zM140.1 190.6h1v1h-1zM143.1 191.4h1v1h-1zM140.3 187.8h1v1h-1zM141.6 195.7h1v1h-1zM144.8 187.6h1v1h-1zM147.0 188.7h1v1h-1zM139.0 191.3h1v1h-1zM137.9 195.6h1v1h-1zM146.0 193.2h1v1h-1zM140.8 193.0h1v1h-1zM144.1 186.3h1v1h-1zM137.9 187.3h1v1h-1zM139.7 187.4h1v1h-1zM142.6 190.9h1v1h-1zM138.2 190.3h1v1h-1zM146.6 191.6h1v1h-1zM145.3 191.8h1v1h-1zM147.0 194.9h1v1h-1zM143.0 194.4h1v1h-1zM139.0 190.1h1v1h-1zM137.9 194.7h1v1h-1z" fill="#9a1018" opacity="0.6"/>
<path d="M137.77 196.27L147.80 186.32" stroke="#ea6a5a" stroke-width="0.9"/>
<rect x="148.30" y="175.28" width="10.62" height="10.54" fill="#b21b23"/>
<path d="M151.1 182.8h1v1h-1zM151.8 183.3h1v1h-1zM152.2 183.6h1v1h-1zM154.0 180.3h1v1h-1zM148.6 180.6h1v1h-1zM150.4 178.4h1v1h-1zM154.2 177.5h1v1h-1zM152.2 182.9h1v1h-1zM156.1 178.4h1v1h-1zM153.7 181.6h1v1h-1zM156.6 182.7h1v1h-1zM155.8 180.2h1v1h-1zM154.8 175.7h1v1h-1zM155.2 181.6h1v1h-1zM157.2 180.8h1v1h-1zM153.7 179.9h1v1h-1zM152.7 175.7h1v1h-1zM153.3 183.2h1v1h-1zM153.9 175.6h1v1h-1zM156.6 183.8h1v1h-1zM149.2 176.5h1v1h-1zM156.4 181.2h1v1h-1zM149.8 183.4h1v1h-1zM150.9 181.8h1v1h-1zM153.4 180.9h1v1h-1zM156.0 178.3h1v1h-1zM153.9 183.5h1v1h-1z" fill="#9a1018" opacity="0.6"/>
<path d="M148.80 185.32L158.42 175.78" stroke="#ea6a5a" stroke-width="0.9"/>
<rect x="158.92" y="164.22" width="11.14" height="11.06" fill="#b21b23"/>
<path d="M167.6 170.4h1v1h-1zM166.3 171.5h1v1h-1zM168.3 168.7h1v1h-1zM159.5 166.1h1v1h-1zM166.4 167.6h1v1h-1zM160.2 167.5h1v1h-1zM166.6 166.5h1v1h-1zM162.7 172.4h1v1h-1zM167.2 173.8h1v1h-1zM164.0 172.0h1v1h-1zM161.7 165.3h1v1h-1zM166.9 170.0h1v1h-1zM160.9 173.6h1v1h-1zM167.4 172.4h1v1h-1zM168.2 167.3h1v1h-1zM167.6 165.2h1v1h-1zM162.6 164.6h1v1h-1zM163.4 168.2h1v1h-1zM160.9 166.7h1v1h-1zM162.8 164.8h1v1h-1zM164.9 167.8h1v1h-1zM161.4 167.0h1v1h-1zM165.9 173.6h1v1h-1zM161.1 172.8h1v1h-1zM163.7 171.9h1v1h-1zM164.7 170.8h1v1h-1zM166.4 169.5h1v1h-1zM160.8 169.2h1v1h-1zM159.7 172.7h1v1h-1zM167.9 171.6h1v1h-1z" fill="#9a1018" opacity="0.6"/>
<path d="M159.42 174.78L169.56 164.72" stroke="#ea6a5a" stroke-width="0.9"/>
<rect x="170.06" y="153.89" width="10.41" height="10.33" fill="#b21b23"/>
<path d="M173.0 159.5h1v1h-1zM178.8 154.4h1v1h-1zM177.0 154.3h1v1h-1zM177.9 157.3h1v1h-1zM170.6 154.3h1v1h-1zM178.5 160.1h1v1h-1zM171.5 160.1h1v1h-1zM175.4 158.1h1v1h-1zM173.3 156.2h1v1h-1zM172.3 154.2h1v1h-1zM177.6 161.5h1v1h-1zM177.1 158.1h1v1h-1zM172.2 156.4h1v1h-1zM177.6 160.7h1v1h-1zM172.0 159.0h1v1h-1zM170.9 156.8h1v1h-1zM172.8 158.2h1v1h-1zM177.6 156.8h1v1h-1zM178.0 157.8h1v1h-1zM178.6 161.5h1v1h-1zM178.0 161.7h1v1h-1zM170.7 161.0h1v1h-1zM172.8 154.0h1v1h-1zM178.1 154.0h1v1h-1zM178.5 156.5h1v1h-1zM172.7 161.2h1v1h-1z" fill="#9a1018" opacity="0.6"/>
<path d="M170.56 163.72L179.97 154.39" stroke="#ea6a5a" stroke-width="0.9"/>
<rect x="180.47" y="143.73" width="10.24" height="10.16" fill="#b21b23"/>
<path d="M183.3 152.1h1v1h-1zM185.5 145.5h1v1h-1zM185.9 145.0h1v1h-1zM187.4 151.3h1v1h-1zM184.2 152.8h1v1h-1zM185.2 151.0h1v1h-1zM184.9 151.3h1v1h-1zM185.1 144.6h1v1h-1zM180.6 149.0h1v1h-1zM182.6 149.4h1v1h-1zM183.0 150.0h1v1h-1zM181.5 149.5h1v1h-1zM182.0 151.5h1v1h-1zM186.4 144.5h1v1h-1zM188.8 152.5h1v1h-1zM188.4 150.1h1v1h-1zM183.6 148.7h1v1h-1zM189.2 145.1h1v1h-1zM181.6 150.2h1v1h-1zM185.0 144.3h1v1h-1zM185.0 143.9h1v1h-1zM184.6 149.9h1v1h-1zM184.2 145.0h1v1h-1zM181.2 147.5h1v1h-1zM187.8 144.9h1v1h-1zM180.7 150.0h1v1h-1z" fill="#9a1018" opacity="0.6"/>
<path d="M180.97 153.39L190.21 144.23" stroke="#ea6a5a" stroke-width="0.9"/>
<rect x="190.71" y="133.55" width="10.26" height="10.19" fill="#b21b23"/>
<path d="M197.2 138.1h1v1h-1zM199.7 142.4h1v1h-1zM193.3 136.1h1v1h-1zM194.7 140.4h1v1h-1zM198.2 142.7h1v1h-1zM190.7 140.9h1v1h-1zM194.3 139.9h1v1h-1zM190.8 136.8h1v1h-1zM197.6 137.6h1v1h-1zM195.4 141.0h1v1h-1zM197.1 137.1h1v1h-1zM195.5 136.3h1v1h-1zM193.2 136.2h1v1h-1zM198.8 141.6h1v1h-1zM197.3 138.9h1v1h-1zM192.9 139.4h1v1h-1zM191.0 138.5h1v1h-1zM199.1 136.7h1v1h-1zM192.2 142.2h1v1h-1zM194.9 139.0h1v1h-1zM194.6 136.0h1v1h-1zM191.8 142.4h1v1h-1zM197.0 141.3h1v1h-1zM200.0 135.9h1v1h-1zM197.1 134.8h1v1h-1zM192.6 134.6h1v1h-1z" fill="#9a1018" opacity="0.6"/>
<path d="M191.21 143.23L200.47 134.05" stroke="#ea6a5a" stroke-width="0.9"/>
<rect x="200.97" y="122.98" width="10.65" height="10.57" fill="#b21b23"/>
<path d="M209.6 123.2h1v1h-1zM205.3 132.1h1v1h-1zM203.0 129.9h1v1h-1zM208.0 123.9h1v1h-1zM207.0 127.2h1v1h-1zM206.0 129.2h1v1h-1zM209.4 132.3h1v1h-1zM206.4 128.7h1v1h-1zM202.8 125.1h1v1h-1zM208.4 131.5h1v1h-1zM202.4 131.6h1v1h-1zM201.4 131.4h1v1h-1zM201.1 132.3h1v1h-1zM210.4 123.7h1v1h-1zM209.0 125.3h1v1h-1zM202.2 131.0h1v1h-1zM210.6 125.1h1v1h-1zM210.0 131.2h1v1h-1zM206.3 125.4h1v1h-1zM208.1 124.0h1v1h-1zM201.3 128.8h1v1h-1zM201.9 123.6h1v1h-1zM201.6 128.2h1v1h-1zM203.3 126.6h1v1h-1zM202.1 127.4h1v1h-1zM204.6 125.2h1v1h-1zM204.9 132.4h1v1h-1zM207.7 124.7h1v1h-1z" fill="#9a1018" opacity="0.6"/>
<path d="M201.47 133.05L211.12 123.48" stroke="#ea6a5a" stroke-width="0.9"/>
<rect x="211.62" y="114.18" width="8.87" height="8.80" fill="#b21b23"/>
<path d="M212.4 117.9h1v1h-1zM212.0 118.7h1v1h-1zM217.1 120.6h1v1h-1zM214.6 116.2h1v1h-1zM217.4 116.9h1v1h-1zM216.4 121.9h1v1h-1zM218.0 121.0h1v1h-1zM217.5 116.7h1v1h-1zM217.2 121.3h1v1h-1zM217.1 116.3h1v1h-1zM216.0 116.0h1v1h-1zM215.7 116.1h1v1h-1zM215.4 116.8h1v1h-1zM217.8 121.1h1v1h-1zM215.6 119.3h1v1h-1zM216.5 120.3h1v1h-1zM212.0 120.2h1v1h-1zM215.3 115.0h1v1h-1zM212.8 120.5h1v1h-1z" fill="#9a1018" opacity="0.6"/>
<path d="M212.12 122.48L219.99 114.68" stroke="#ea6a5a" stroke-width="0.9"/>
<rect x="220.49" y="105.87" width="8.37" height="8.31" fill="#b21b23"/>
<path d="M225.4 107.4h1v1h-1zM225.3 112.6h1v1h-1zM221.2 112.3h1v1h-1zM221.5 111.6h1v1h-1zM221.6 106.2h1v1h-1zM223.7 107.9h1v1h-1zM224.3 109.2h1v1h-1zM221.4 110.6h1v1h-1zM221.5 107.6h1v1h-1zM220.8 112.4h1v1h-1zM222.3 106.1h1v1h-1zM226.7 109.0h1v1h-1zM227.6 113.1h1v1h-1zM224.6 107.6h1v1h-1zM227.6 107.3h1v1h-1zM221.1 110.0h1v1h-1zM223.4 110.2h1v1h-1z" fill="#9a1018" opacity="0.6"/>
<path d="M220.99 113.68L228.36 106.37" stroke="#ea6a5a" stroke-width="0.9"/>
<rect x="228.86" y="97.83" width="8.10" height="8.04" fill="#b21b23"/>
<path d="M231.8 99.3h1v1h-1zM230.7 100.1h1v1h-1zM234.5 103.2h1v1h-1zM234.6 103.1h1v1h-1zM231.6 102.6h1v1h-1zM231.1 99.1h1v1h-1zM235.2 99.3h1v1h-1zM229.6 101.2h1v1h-1zM232.0 99.4h1v1h-1zM233.0 101.3h1v1h-1zM230.5 98.8h1v1h-1zM232.7 101.2h1v1h-1zM231.0 99.2h1v1h-1zM232.7 102.4h1v1h-1zM230.0 102.3h1v1h-1zM233.1 103.8h1v1h-1z" fill="#9a1018" opacity="0.6"/>
<path d="M229.36 105.37L236.46 98.33" stroke="#ea6a5a" stroke-width="0.9"/>
<rect x="236.96" y="90.16" width="7.73" height="7.67" fill="#b21b23"/>
<path d="M237.2 96.5h1v1h-1zM240.5 94.1h1v1h-1zM242.8 93.7h1v1h-1zM243.0 96.4h1v1h-1zM238.5 95.6h1v1h-1zM243.2 94.0h1v1h-1zM238.0 94.0h1v1h-1zM243.7 92.3h1v1h-1zM239.5 94.8h1v1h-1zM241.4 96.1h1v1h-1zM237.0 93.9h1v1h-1zM239.1 94.1h1v1h-1zM243.3 93.3h1v1h-1zM242.5 90.6h1v1h-1z" fill="#9a1018" opacity="0.6"/>
<path d="M237.46 97.33L244.19 90.66" stroke="#ea6a5a" stroke-width="0.9"/>
<rect x="244.69" y="84.97" width="5.23" height="5.19" fill="#b21b23"/>
<path d="M247.8 85.9h1v1h-1zM247.3 89.1h1v1h-1zM248.3 86.6h1v1h-1zM246.2 88.2h1v1h-1zM247.3 86.0h1v1h-1zM245.8 88.2h1v1h-1z" fill="#9a1018" opacity="0.6"/>
<path d="M245.19 89.66L249.42 85.47" stroke="#ea6a5a" stroke-width="0.9"/>
<rect x="249.92" y="70.50" width="14.58" height="14.47" fill="#bd2c34"/>
<path d="M256.1 70.8h1v1h-1zM257.8 83.9h1v1h-1zM257.0 79.0h1v1h-1zM252.3 71.6h1v1h-1zM263.1 71.2h1v1h-1zM256.5 82.5h1v1h-1zM261.7 75.0h1v1h-1zM253.7 79.3h1v1h-1zM257.6 78.9h1v1h-1zM250.4 80.6h1v1h-1zM254.1 77.4h1v1h-1zM252.0 75.3h1v1h-1zM255.5 70.9h1v1h-1zM256.9 75.0h1v1h-1zM253.4 81.3h1v1h-1zM260.4 71.5h1v1h-1zM251.2 73.1h1v1h-1zM256.6 73.4h1v1h-1zM257.4 74.7h1v1h-1zM257.1 75.1h1v1h-1zM251.7 77.5h1v1h-1zM256.8 70.9h1v1h-1zM256.0 80.2h1v1h-1zM254.2 74.3h1v1h-1zM254.0 73.9h1v1h-1zM261.1 75.8h1v1h-1zM254.6 76.0h1v1h-1zM255.7 80.2h1v1h-1zM259.9 73.9h1v1h-1zM256.7 83.3h1v1h-1zM260.6 83.7h1v1h-1zM250.7 70.8h1v1h-1zM260.6 81.4h1v1h-1zM259.4 79.9h1v1h-1zM258.7 73.9h1v1h-1zM259.2 81.0h1v1h-1zM263.0 79.1h1v1h-1zM252.8 78.0h1v1h-1zM254.4 75.7h1v1h-1zM259.2 71.7h1v1h-1zM252.8 79.9h1v1h-1zM257.4 77.4h1v1h-1zM259.6 71.6h1v1h-1zM250.2 72.4h1v1h-1zM262.4 71.3h1v1h-1zM254.6 70.6h1v1h-1zM259.1 80.1h1v1h-1zM253.6 74.6h1v1h-1zM256.3 75.2h1v1h-1zM261.7 80.8h1v1h-1zM259.6 82.5h1v1h-1zM262.1 78.5h1v1h-1z" fill="#9a1018" opacity="0.6"/>
<path d="M257.0 79.6h1v1h-1zM259.3 77.4h1v1h-1zM262.4 80.4h1v1h-1zM252.1 73.0h1v1h-1zM259.7 81.8h1v1h-1zM252.9 77.3h1v1h-1zM253.7 83.6h1v1h-1zM262.0 81.3h1v1h-1zM254.3 79.0h1v1h-1zM253.7 79.1h1v1h-1zM258.1 75.3h1v1h-1zM253.3 82.9h1v1h-1zM252.0 79.4h1v1h-1zM252.9 71.7h1v1h-1zM252.7 73.0h1v1h-1zM250.5 82.5h1v1h-1zM253.2 81.0h1v1h-1zM261.3 73.7h1v1h-1z" fill="#f4d0d0"/>
<path d="M250.42 84.47L264.00 71.00" stroke="#ea6a5a" stroke-width="0.9"/>
<path d="M48.3 294.8v1.5M37.0 285.0h1.5M64.4 294.8v1.5M37.0 269.1h1.5M79.0 294.8v1.5M37.0 254.6h1.5M92.5 294.8v1.5M37.0 241.2h1.5M105.6 294.8v1.5M37.0 228.2h1.5M118.5 294.8v1.5M37.0 215.4h1.5M131.1 294.8v1.5M37.0 202.9h1.5M142.8 294.8v1.5M37.0 191.3h1.5M153.6 294.8v1.5M37.0 180.6h1.5M164.5 294.8v1.5M37.0 169.8h1.5M175.3 294.8v1.5M37.0 159.1h1.5M185.6 294.8v1.5M37.0 148.8h1.5M195.8 294.8v1.5M37.0 138.6h1.5M206.3 294.8v1.5M37.0 128.3h1.5M216.1 294.8v1.5M37.0 118.6h1.5M224.7 294.8v1.5M37.0 110.0h1.5M232.9 294.8v1.5M37.0 101.9h1.5M240.8 294.8v1.5M37.0 94.0h1.5M247.3 294.8v1.5M37.0 87.6h1.5M257.2 294.8v1.5M37.0 77.7h1.5" stroke="#bbb" stroke-width="0.5"/>
<text x="48.3" y="299.8" font-size="3" text-anchor="middle" font-weight="normal" fill="#bbb">1</text>
<text x="36.0" y="286.0" font-size="3" text-anchor="end" font-weight="normal" fill="#bbb">1</text>
<text x="64.4" y="299.8" font-size="3" text-anchor="middle" font-weight="normal" fill="#bbb">2</text>
<text x="36.0" y="270.1" font-size="3" text-anchor="end" font-weight="normal" fill="#bbb">2</text>
<text x="79.0" y="299.8" font-size="3" text-anchor="middle" font-weight="normal" fill="#bbb">3</text>
<text x="36.0" y="255.6" font-size="3" text-anchor="end" font-weight="normal" fill="#bbb">3</text>
<text x="92.5" y="299.8" font-size="3" text-anchor="middle" font-weight="normal" fill="#bbb">4</text>
<text x="36.0" y="242.2" font-size="3" text-anchor="end" font-weight="normal" fill="#bbb">4</text>
<text x="105.6" y="299.8" font-size="3" text-anchor="middle" font-weight="normal" fill="#bbb">5</text>
<text x="36.0" y="229.2" font-size="3" text-anchor="end" font-weight="normal" fill="#bbb">5</text>
<text x="118.5" y="299.8" font-size="3" text-anchor="middle" font-weight="normal" fill="#bbb">6</text>
<text x="36.0" y="216.4" font-size="3" text-anchor="end" font-weight="normal" fill="#bbb">6</text>
<text x="131.1" y="299.8" font-size="3" text-anchor="middle" font-weight="normal" fill="#bbb">7</text>
<text x="36.0" y="203.9" font-size="3" text-anchor="end" font-weight="normal" fill="#bbb">7</text>
<text x="142.8" y="299.8" font-size="3" text-anchor="middle" font-weight="normal" fill="#bbb">8</text>
<text x="36.0" y="192.3" font-size="3" text-anchor="end" font-weight="normal" fill="#bbb">8</text>
<text x="153.6" y="299.8" font-size="3" text-anchor="middle" font-weight="normal" fill="#bbb">9</text>
<text x="36.0" y="181.6" font-size="3" text-anchor="end" font-weight="normal" fill="#bbb">9</text>
<text x="164.5" y="299.8" font-size="3" text-anchor="middle" font-weight="normal" fill="#bbb">10</text>
<text x="36.0" y="170.8" font-size="3" text-anchor="end" font-weight="normal" fill="#bbb">10</text>
<text x="175.3" y="299.8" font-size="3" text-anchor="middle" font-weight="normal" fill="#bbb">11</text>
<text x="36.0" y="160.1" font-size="3" text-anchor="end" font-weight="normal" fill="#bbb">11</text>
<text x="185.6" y="299.8" font-size="3" text-anchor="middle" font-weight="normal" fill="#bbb">12</text>
<text x="36.0" y="149.8" font-size="3" text-anchor="end" font-weight="normal" fill="#bbb">12</text>
<text x="195.8" y="299.8" font-size="3" text-anchor="middle" font-weight="normal" fill="#bbb">13</text>
<text x="36.0" y="139.6" font-size="3" text-anchor="end" font-weight="normal" fill="#bbb">13</text>
<text x="206.3" y="299.8" font-size="3" text-anchor="middle" font-weight="normal" fill="#bbb">14</text>
<text x="36.0" y="129.3" font-size="3" text-anchor="end" font-weight="normal" fill="#bbb">14</text>
<text x="216.1" y="299.8" font-size="3" text-anchor="middle" font-weight="normal" fill="#bbb">15</text>
<text x="36.0" y="119.6" font-size="3" text-anchor="end" font-weight="normal" fill="#bbb">15</text>
<text x="224.7" y="299.8" font-size="3" text-anchor="middle" font-weight="normal" fill="#bbb">16</text>
<text x="36.0" y="111.0" font-size="3" text-anchor="end" font-weight="normal" fill="#bbb">16</text>
<text x="232.9" y="299.8" font-size="3" text-anchor="middle" font-weight="normal" fill="#bbb">17</text>
<text x="36.0" y="102.9" font-size="3" text-anchor="end" font-weight="normal" fill="#bbb">17</text>
<text x="240.8" y="299.8" font-size="3" text-anchor="middle" font-weight="normal" fill="#bbb">18</text>
<text x="36.0" y="95.0" font-size="3" text-anchor="end" font-weight="normal" fill="#bbb">18</text>
<text x="247.3" y="299.8" font-size="3" text-anchor="middle" font-weight="normal" fill="#bbb">19</text>
<text x="36.0" y="88.6" font-size="3" text-anchor="end" font-weight="normal" fill="#bbb">19</text>
<text x="257.2" y="299.8" font-size="3" text-anchor="middle" font-weight="normal" fill="#bbb">X</text>
<text x="36.0" y="78.7" font-size="3" text-anchor="end" font-weight="normal" fill="#bbb">X</text>
<text x="281" y="62" font-size="11.6" text-anchor="start" font-weight="bold" fill="#000" stroke="#000" stroke-width="0.22">C</text>
<rect x="319.7" y="55.4" width="41.5" height="17" rx="3" fill="#fff" stroke="#222" stroke-width="1"/>
<text x="340.45" y="61.7" font-size="7.9" text-anchor="middle" font-weight="normal" fill="#000" textLength="38" lengthAdjust="spacingAndGlyphs" stroke="#000" stroke-width="0.22">Hi-C library</text>
<text x="340.45" y="70.9" font-size="7.9" text-anchor="middle" font-weight="normal" fill="#000" stroke="#000" stroke-width="0.22">#1</text>
<path d="M340.45,72.5 V82.0" stroke="#000" stroke-width="3"/>
<path d="M335.65,81.5 L345.25,81.5 L340.45,88 Z" fill="#000"/>
<rect x="322.3" y="88.2" width="37.3" height="18.7" rx="3" fill="#fff" stroke="#222" stroke-width="1"/>
<text x="340.95" y="95.8" font-size="7.9" text-anchor="middle" font-weight="normal" fill="#000" textLength="31" lengthAdjust="spacingAndGlyphs" stroke="#000" stroke-width="0.22">Promoter</text>
<text x="340.95" y="104.2" font-size="7.9" text-anchor="middle" font-weight="normal" fill="#000" textLength="26" lengthAdjust="spacingAndGlyphs" stroke="#000" stroke-width="0.22">capture</text>
<rect x="364.9" y="55.4" width="41.5" height="17" rx="3" fill="#fff" stroke="#222" stroke-width="1"/>
<text x="385.65" y="61.7" font-size="7.9" text-anchor="middle" font-weight="normal" fill="#000" textLength="38" lengthAdjust="spacingAndGlyphs" stroke="#000" stroke-width="0.22">Hi-C library</text>
<text x="385.65" y="70.9" font-size="7.9" text-anchor="middle" font-weight="normal" fill="#000" stroke="#000" stroke-width="0.22">#2</text>
<path d="M385.65,72.5 V82.0" stroke="#000" stroke-width="3"/>
<path d="M380.84999999999997,81.5 L390.45,81.5 L385.65,88 Z" fill="#000"/>
<rect x="367.2" y="88.2" width="37.3" height="18.7" rx="3" fill="#fff" stroke="#222" stroke-width="1"/>
<text x="385.84999999999997" y="95.8" font-size="7.9" text-anchor="middle" font-weight="normal" fill="#000" textLength="31" lengthAdjust="spacingAndGlyphs" stroke="#000" stroke-width="0.22">Promoter</text>
<text x="385.84999999999997" y="104.2" font-size="7.9" text-anchor="middle" font-weight="normal" fill="#000" textLength="26" lengthAdjust="spacingAndGlyphs" stroke="#000" stroke-width="0.22">capture</text>
<rect x="422.3" y="55.4" width="41.5" height="17" rx="3" fill="#fff" stroke="#222" stroke-width="1"/>
<text x="443.05" y="61.7" font-size="7.9" text-anchor="middle" font-weight="normal" fill="#000" textLength="38" lengthAdjust="spacingAndGlyphs" stroke="#000" stroke-width="0.22">Hi-C library</text>
<text x="443.05" y="70.9" font-size="7.9" text-anchor="middle" font-weight="normal" fill="#000" stroke="#000" stroke-width="0.22">#3</text>
<path d="M443.05,72.5 V82.0" stroke="#000" stroke-width="3"/>
<path d="M438.25,81.5 L447.85,81.5 L443.05,88 Z" fill="#000"/>
<rect x="425" y="88.2" width="37.3" height="18.7" rx="3" fill="#fff" stroke="#222" stroke-width="1"/>
<text x="443.65" y="95.8" font-size="7.9" text-anchor="middle" font-weight="normal" fill="#000" textLength="31" lengthAdjust="spacingAndGlyphs" stroke="#000" stroke-width="0.22">Promoter</text>
<text x="443.65" y="104.2" font-size="7.9" text-anchor="middle" font-weight="normal" fill="#000" textLength="26" lengthAdjust="spacingAndGlyphs" stroke="#000" stroke-width="0.22">capture</text>
<rect x="467.3" y="55.4" width="41.5" height="17" rx="3" fill="#fff" stroke="#222" stroke-width="1"/>
<text x="488.05" y="61.7" font-size="7.9" text-anchor="middle" font-weight="normal" fill="#000" textLength="38" lengthAdjust="spacingAndGlyphs" stroke="#000" stroke-width="0.22">Hi-C library</text>
<text x="488.05" y="70.9" font-size="7.9" text-anchor="middle" font-weight="normal" fill="#000" stroke="#000" stroke-width="0.22">#4</text>
<path d="M488.05,72.5 V82.0" stroke="#000" stroke-width="3"/>
<path d="M483.25,81.5 L492.85,81.5 L488.05,88 Z" fill="#000"/>
<rect x="468.9" y="88.2" width="37.3" height="18.7" rx="3" fill="#fff" stroke="#222" stroke-width="1"/>
<text x="487.54999999999995" y="95.8" font-size="7.9" text-anchor="middle" font-weight="normal" fill="#000" textLength="31" lengthAdjust="spacingAndGlyphs" stroke="#000" stroke-width="0.22">Promoter</text>
<text x="487.54999999999995" y="104.2" font-size="7.9" text-anchor="middle" font-weight="normal" fill="#000" textLength="26" lengthAdjust="spacingAndGlyphs" stroke="#000" stroke-width="0.22">capture</text>
<path d="M340.8,106.9 V111 H386.2 V106.9" fill="none" stroke="#000" stroke-width="2.6"/>
<path d="M363.5,111 V118.4" stroke="#000" stroke-width="3"/>
<path d="M358.7,117.9 L368.3,117.9 L363.5,124.4 Z" fill="#000"/>
<rect x="320.6" y="124.4" width="85.5" height="31.8" rx="5" fill="#fff" stroke="#222" stroke-width="1"/>
<text x="363.35" y="134.3" font-size="7.9" text-anchor="middle" font-weight="normal" fill="#000" stroke="#000" stroke-width="0.22">321,280,320</text>
<text x="363.35" y="143.3" font-size="7.9" text-anchor="middle" font-weight="normal" fill="#000" textLength="56" lengthAdjust="spacingAndGlyphs" stroke="#000" stroke-width="0.22">reads across two</text>
<text x="363.35" y="152.3" font-size="7.9" text-anchor="middle" font-weight="normal" fill="#000" textLength="63.5" lengthAdjust="spacingAndGlyphs" stroke="#000" stroke-width="0.22">technical replicates</text>
<path d="M363.35,156.2 V166" stroke="#000" stroke-width="2.8"/>
<path d="M363.35,175.5 V184.5" stroke="#000" stroke-width="3"/>
<path d="M358.55,184.0 L368.15000000000003,184.0 L363.35,190.5 Z" fill="#000"/>
<rect x="320.6" y="190.5" width="85" height="19.7" rx="3" fill="#fff" stroke="#222" stroke-width="1"/>
<text x="363.35" y="199" font-size="7.9" text-anchor="middle" font-weight="normal" fill="#000" stroke="#000" stroke-width="0.22">131,342,470</text>
<text x="363.35" y="207.6" font-size="7.9" text-anchor="middle" font-weight="normal" fill="#000" textLength="48" lengthAdjust="spacingAndGlyphs" stroke="#000" stroke-width="0.22">Unique di-tags</text>
<path d="M443,106.9 V111 H487.5 V106.9" fill="none" stroke="#000" stroke-width="2.6"/>
<path d="M465.25,111 V118.4" stroke="#000" stroke-width="3"/>
<path d="M460.45,117.9 L470.05,117.9 L465.25,124.4 Z" fill="#000"/>
<rect x="422.4" y="124.4" width="85.5" height="31.8" rx="5" fill="#fff" stroke="#222" stroke-width="1"/>
<text x="465.15" y="134.3" font-size="7.9" text-anchor="middle" font-weight="normal" fill="#000" stroke="#000" stroke-width="0.22">401,802,453</text>
<text x="465.15" y="143.3" font-size="7.9" text-anchor="middle" font-weight="normal" fill="#000" textLength="56" lengthAdjust="spacingAndGlyphs" stroke="#000" stroke-width="0.22">reads across two</text>
<text x="465.15" y="152.3" font-size="7.9" text-anchor="middle" font-weight="normal" fill="#000" textLength="63.5" lengthAdjust="spacingAndGlyphs" stroke="#000" stroke-width="0.22">technical replicates</text>
<path d="M465.15,156.2 V166" stroke="#000" stroke-width="2.8"/>
<path d="M465.15,175.5 V184.5" stroke="#000" stroke-width="3"/>
<path d="M460.34999999999997,184.0 L469.95,184.0 L465.15,190.5 Z" fill="#000"/>
<rect x="422.4" y="190.5" width="85" height="19.7" rx="3" fill="#fff" stroke="#222" stroke-width="1"/>
<text x="465.15" y="199" font-size="7.9" text-anchor="middle" font-weight="normal" fill="#000" stroke="#000" stroke-width="0.22">178,157,039</text>
<text x="465.15" y="207.6" font-size="7.9" text-anchor="middle" font-weight="normal" fill="#000" textLength="48" lengthAdjust="spacingAndGlyphs" stroke="#000" stroke-width="0.22">Unique di-tags</text>
<text x="412.7" y="173.9" font-size="6.55" text-anchor="middle" font-weight="normal" fill="#000" textLength="182.3" lengthAdjust="spacingAndGlyphs" stroke="#000" stroke-width="0.22">Filtered set of mapped interaction pairs produced using HiCUP</text>
<path d="M364,210.2 L370.2,216.5 M378.4,224.8 L386.3,232.7" stroke="#000" stroke-width="3.6"/>
<path d="M390.5,237 L381.6,235.7 L389.4,228.1 Z" fill="#000"/>
<path d="M465.4,210.2 L458.6,216.5 M449.7,224.8 L441,232.8" stroke="#000" stroke-width="3.6"/>
<path d="M436.5,237 L437.8,228.2 L445.4,236.2 Z" fill="#000"/>
<text x="413.6" y="223.2" font-size="6.55" text-anchor="middle" font-weight="normal" fill="#000" textLength="141.7" lengthAdjust="spacingAndGlyphs" stroke="#000" stroke-width="0.22">Significant interactions detected using CHiCAGO</text>
<rect x="370" y="236.8" width="89.2" height="30.2" rx="5" fill="#fff" stroke="#222" stroke-width="1"/>
<text x="414.6" y="245.3" font-size="7.9" text-anchor="middle" font-weight="normal" fill="#000" stroke="#000" stroke-width="0.22">133,919</text>
<text x="414.6" y="254.9" font-size="7.9" text-anchor="middle" font-weight="normal" fill="#000" textLength="36.5" lengthAdjust="spacingAndGlyphs" stroke="#000" stroke-width="0.22">Significant</text>
<text x="414.6" y="264.8" font-size="7.9" text-anchor="middle" font-weight="normal" fill="#000" textLength="39" lengthAdjust="spacingAndGlyphs" stroke="#000" stroke-width="0.22">interactions</text>
<path d="M372,283.6 L412.5,267.8 L455.5,283.7" fill="none" stroke="#000" stroke-width="1.6"/>
<rect x="328" y="283.6" width="86.6" height="29.3" rx="5" fill="#fff" stroke="#222" stroke-width="1"/>
<text x="371.2" y="292.6" font-size="7.9" text-anchor="middle" font-weight="normal" fill="#000" textLength="69.6" lengthAdjust="spacingAndGlyphs" stroke="#000" stroke-width="0.22">103,320 interactions:</text>
<text x="371.2" y="301.8" font-size="7.9" text-anchor="middle" font-weight="normal" fill="#000" textLength="57" lengthAdjust="spacingAndGlyphs" stroke="#000" stroke-width="0.22">baited promoters</text>
<text x="371.2" y="310" font-size="7.9" text-anchor="middle" font-weight="normal" fill="#000" textLength="50" lengthAdjust="spacingAndGlyphs" stroke="#000" stroke-width="0.22">and enhancers</text>
<rect x="418.9" y="283.7" width="85.7" height="29.2" rx="5" fill="#fff" stroke="#222" stroke-width="1"/>
<text x="464" y="297" font-size="7.9" text-anchor="middle" font-weight="normal" fill="#000" textLength="65.5" lengthAdjust="spacingAndGlyphs" stroke="#000" stroke-width="0.22">30,599 interactions:</text>
<text x="464" y="306.5" font-size="7.9" text-anchor="middle" font-weight="normal" fill="#000" textLength="57" lengthAdjust="spacingAndGlyphs" stroke="#000" stroke-width="0.22">baited promoters</text>
<text x="9.7" y="340" font-size="11.6" text-anchor="start" font-weight="bold" fill="#000" stroke="#000" stroke-width="0.12">D</text>
<path d="M42.9,346.2H81.3" stroke="#222" stroke-width="1"/>
<text x="61.5" y="345.2" font-size="3.9" text-anchor="middle" font-weight="bold" fill="#222" stroke="#222" stroke-width="0.12">10 Kb</text>
<text x="38.5" y="351.30" font-size="4.9" text-anchor="end" font-weight="bold" fill="#1a1a1a" textLength="20.01" lengthAdjust="spacingAndGlyphs" stroke="#1a1a1a" stroke-width="0.12">H3K27Ac</text>
<path d="M42,355.50H257.5" stroke="#aab0c8" stroke-width="0.5"/>
<path d="M42.0,355.80L42.0,355.77L42.5,355.80L43.0,355.59L43.5,355.73L44.0,355.78L44.5,355.68L45.0,355.72L45.5,355.80L46.0,355.79L46.5,355.76L47.0,355.80L47.5,355.56L48.0,355.63L48.5,355.70L49.0,355.80L49.5,355.75L50.0,355.79L50.5,355.78L51.0,355.79L51.5,355.77L52.0,355.35L52.5,355.80L53.0,355.78L53.5,355.79L54.0,355.80L54.5,355.74L55.0,355.76L55.5,355.37L56.0,355.50L56.5,355.72L57.0,355.79L57.5,355.79L58.0,355.79L58.5,355.76L59.0,355.58L59.5,355.65L60.0,355.78L60.5,355.79L61.0,355.80L61.5,355.76L62.0,355.47L62.5,355.57L63.0,355.80L63.5,355.80L64.0,355.80L64.5,355.80L65.0,355.80L65.5,355.76L66.0,355.64L66.5,355.79L67.0,355.76L67.5,355.71L68.0,355.74L68.5,355.62L69.0,355.79L69.5,355.74L70.0,355.37L70.5,355.00L71.0,355.37L71.5,355.78L72.0,355.80L72.5,355.79L73.0,355.73L73.5,355.74L74.0,355.74L74.5,355.80L75.0,355.76L75.5,355.75L76.0,355.75L76.5,355.75L77.0,355.80L77.5,355.80L78.0,355.75L78.5,355.76L79.0,355.73L79.5,355.78L80.0,355.73L80.5,355.80L81.0,355.70L81.5,355.73L82.0,355.76L82.5,355.80L83.0,355.78L83.5,355.76L84.0,355.40L84.5,355.80L85.0,355.79L85.5,355.74L86.0,355.80L86.5,355.35L87.0,353.91L87.2,353.80L87.5,354.10L88.0,355.56L88.5,355.73L89.0,355.76L89.5,355.80L90.0,355.76L90.5,355.74L91.0,355.80L91.5,355.64L92.0,355.69L92.5,355.67L93.0,355.71L93.5,355.75L94.0,355.63L94.5,355.79L95.0,355.76L95.5,355.77L96.0,355.78L96.5,355.71L97.0,355.73L97.5,355.79L98.0,355.76L98.5,355.73L99.0,355.79L99.5,355.72L100.0,351.23L100.4,347.80L100.5,347.92L101.0,346.68L101.2,345.50L101.5,348.53L102.0,346.20L102.5,348.39L102.8,345.30L103.0,346.50L103.5,346.59L103.6,346.40L104.0,351.01L104.4,345.80L104.5,346.00L105.0,348.18L105.2,347.20L105.5,349.73L106.0,348.30L106.5,352.35L106.8,351.30L107.0,351.70L107.5,355.39L108.0,355.72L108.5,355.72L109.0,355.70L109.5,355.78L110.0,355.76L110.5,355.79L111.0,355.76L111.5,355.73L112.0,355.47L112.5,355.00L113.0,354.30L113.5,355.00L114.0,355.77L114.5,355.68L115.0,355.78L115.5,355.79L116.0,355.77L116.5,355.80L117.0,355.75L117.5,355.74L118.0,355.80L118.5,355.76L119.0,355.79L119.5,355.77L120.0,355.71L120.5,355.72L121.0,355.75L121.5,355.79L122.0,355.76L122.5,355.80L123.0,355.76L123.5,355.79L124.0,355.79L124.5,355.80L125.0,355.78L125.5,351.13L125.8,348.30L126.0,349.44L126.5,351.96L126.8,350.80L127.0,351.24L127.5,353.65L128.0,351.80L128.5,353.65L129.0,355.71L129.5,355.00L130.0,354.30L130.5,355.00L131.0,355.76L131.5,355.73L132.0,355.78L132.5,355.80L133.0,355.77L133.5,355.73L134.0,355.79L134.5,355.73L135.0,355.73L135.5,355.77L136.0,355.78L136.5,355.80L137.0,355.80L137.5,355.80L138.0,355.77L138.5,355.68L139.0,355.71L139.5,355.77L140.0,355.72L140.5,355.79L141.0,355.70L141.5,355.73L142.0,355.79L142.5,355.78L143.0,355.72L143.5,355.79L144.0,355.80L144.5,355.76L145.0,355.79L145.5,355.77L146.0,355.50L146.5,355.74L147.0,355.73L147.5,355.75L148.0,355.73L148.5,355.79L149.0,355.80L149.5,355.79L150.0,355.65L150.5,355.69L151.0,355.66L151.5,355.70L152.0,355.55L152.5,355.78L153.0,355.73L153.5,355.70L154.0,355.73L154.5,355.75L155.0,355.80L155.5,355.75L156.0,355.80L156.5,355.78L157.0,355.80L157.5,355.73L158.0,355.80L158.5,355.77L159.0,355.76L159.5,355.77L160.0,355.76L160.5,355.79L161.0,355.75L161.5,355.73L162.0,355.77L162.5,355.72L163.0,355.74L163.5,355.80L164.0,355.69L164.5,355.47L165.0,355.57L165.5,355.54L166.0,355.62L166.5,355.80L167.0,355.73L167.5,355.80L168.0,355.71L168.5,355.74L169.0,355.80L169.5,355.72L170.0,355.74L170.5,355.61L171.0,355.67L171.5,354.73L172.0,353.80L172.5,354.73L173.0,355.75L173.5,355.72L174.0,355.61L174.5,355.76L175.0,355.79L175.5,355.71L176.0,355.74L176.5,355.78L177.0,355.78L177.5,355.73L178.0,355.55L178.5,355.50L179.0,355.59L179.5,355.43L180.0,355.54L180.5,355.65L181.0,355.76L181.5,355.79L182.0,355.77L182.5,355.77L183.0,355.80L183.5,355.73L184.0,355.80L184.5,355.80L185.0,355.78L185.5,355.80L186.0,355.80L186.5,355.75L187.0,355.64L187.5,355.78L188.0,355.74L188.5,355.78L189.0,355.75L189.5,355.74L190.0,355.80L190.5,355.80L191.0,355.75L191.5,355.74L192.0,355.74L192.5,355.76L193.0,355.69L193.5,355.72L194.0,355.75L194.5,355.75L195.0,355.73L195.5,355.80L196.0,355.75L196.5,355.77L197.0,355.80L197.5,355.79L198.0,355.76L198.5,355.68L199.0,355.72L199.5,355.75L200.0,355.77L200.5,355.74L201.0,355.70L201.5,355.73L202.0,355.76L202.5,355.80L203.0,355.80L203.5,355.77L204.0,355.74L204.5,355.80L205.0,355.80L205.5,355.78L206.0,355.79L206.5,355.51L207.0,355.60L207.5,355.79L208.0,355.75L208.5,355.80L209.0,355.75L209.5,355.80L210.0,355.71L210.5,355.76L211.0,355.59L211.5,355.79L212.0,355.80L212.5,355.80L213.0,355.74L213.5,355.80L214.0,355.76L214.5,355.73L215.0,355.46L215.5,355.56L216.0,355.79L216.5,355.62L217.0,355.67L217.5,355.79L218.0,355.74L218.5,355.76L219.0,355.67L219.5,355.71L220.0,355.75L220.5,355.79L221.0,355.73L221.5,355.67L222.0,355.71L222.5,355.73L223.0,355.76L223.5,355.80L224.0,355.80L224.5,355.63L225.0,355.68L225.5,355.73L226.0,355.79L226.5,355.78L227.0,355.73L227.5,355.80L228.0,355.54L228.5,355.79L229.0,355.76L229.5,355.74L230.0,355.74L230.5,355.80L231.0,355.50L231.5,355.80L232.0,355.77L232.5,355.79L233.0,355.73L233.5,355.60L234.0,355.66L234.5,355.62L235.0,355.80L235.5,355.73L236.0,355.58L236.5,355.74L237.0,355.75L237.5,355.80L238.0,355.80L238.5,355.66L239.0,355.76L239.5,355.80L240.0,355.74L240.5,355.74L241.0,355.76L241.5,355.78L242.0,355.59L242.5,355.75L243.0,355.80L243.5,355.78L244.0,355.37L244.5,355.50L245.0,355.63L245.5,355.74L246.0,355.79L246.5,355.79L247.0,355.78L247.5,355.76L248.0,355.80L248.5,355.77L249.0,355.70L249.5,355.75L250.0,355.79L250.5,355.63L251.0,355.00L251.5,354.30L252.0,355.00L252.5,355.65L253.0,355.69L253.5,355.79L254.0,355.80L254.5,355.74L255.0,355.80L255.5,355.72L256.0,355.78L256.5,355.58L257.0,355.65L257.5,355.71L257.5,355.80Z" fill="#222a80"/>
<text x="38.5" y="365.04" font-size="4.9" text-anchor="end" font-weight="bold" fill="#1a1a1a" textLength="9.11" lengthAdjust="spacingAndGlyphs" stroke="#1a1a1a" stroke-width="0.12">SCL</text>
<path d="M42,368.24H257.5" stroke="#aab0c8" stroke-width="0.5"/>
<path d="M42.0,368.54L42.0,368.29L42.5,368.23L43.0,368.53L43.5,368.54L44.0,368.43L44.5,367.87L45.0,368.54L45.5,368.50L46.0,368.36L46.5,368.43L47.0,368.51L47.5,368.29L48.0,368.27L48.5,368.54L49.0,368.53L49.5,368.23L50.0,368.33L50.5,368.53L51.0,368.36L51.5,368.32L52.0,367.72L52.5,368.28L53.0,368.45L53.5,368.24L54.0,368.33L54.5,368.37L55.0,368.32L55.5,368.47L56.0,368.48L56.5,368.37L57.0,368.35L57.5,368.42L58.0,368.53L58.5,368.54L59.0,368.50L59.5,368.54L60.0,368.51L60.5,368.50L61.0,367.86L61.5,368.07L62.0,368.27L62.5,368.32L63.0,368.53L63.5,368.40L64.0,368.02L64.5,368.54L65.0,368.30L65.5,368.54L66.0,368.48L66.5,368.54L67.0,368.52L67.5,368.05L68.0,368.20L68.5,368.12L69.0,368.25L69.5,368.44L70.0,366.93L70.5,365.54L71.0,366.93L71.5,368.41L72.0,368.49L72.5,368.39L73.0,368.54L73.5,368.53L74.0,368.23L74.5,367.71L75.0,367.54L75.5,367.84L76.0,368.14L76.5,368.54L77.0,368.50L77.5,368.36L78.0,368.36L78.5,368.10L79.0,368.54L79.5,368.39L80.0,367.31L80.5,367.68L81.0,367.65L81.5,367.92L82.0,368.34L82.5,368.35L83.0,368.38L83.5,368.30L84.0,367.79L84.5,368.01L85.0,368.40L85.5,368.54L86.0,368.36L86.5,368.49L87.0,368.38L87.5,368.54L88.0,368.20L88.5,368.40L89.0,368.39L89.5,368.24L90.0,368.33L90.5,368.34L91.0,368.37L91.5,367.61L92.0,367.89L92.5,368.40L93.0,368.38L93.5,368.42L94.0,368.28L94.5,367.76L95.0,368.00L95.5,368.18L96.0,368.08L96.5,368.22L97.0,368.21L97.5,368.54L98.0,368.43L98.5,368.24L99.0,368.44L99.5,368.50L100.0,368.39L100.5,365.05L101.0,362.04L101.5,365.05L102.0,367.44L102.5,366.00L103.0,365.54L103.5,366.00L104.0,367.44L104.5,368.20L105.0,367.47L105.5,366.74L106.0,366.54L106.5,366.74L107.0,367.47L107.5,368.20L108.0,368.31L108.5,368.50L109.0,368.39L109.5,368.52L110.0,368.43L110.5,368.39L111.0,368.24L111.5,368.33L112.0,368.24L112.5,368.37L113.0,368.53L113.5,368.52L114.0,368.51L114.5,368.52L115.0,368.44L115.5,367.18L116.0,368.35L116.5,368.50L117.0,368.37L117.5,368.51L118.0,368.46L118.5,368.45L119.0,368.51L119.5,368.37L120.0,368.43L120.5,368.46L121.0,367.06L121.5,367.50L122.0,368.20L122.5,368.33L123.0,367.33L123.5,367.69L124.0,368.27L124.5,368.22L125.0,368.32L125.5,368.54L126.0,368.50L126.5,368.50L127.0,368.22L127.5,368.32L128.0,368.41L128.5,368.32L129.0,368.54L129.5,368.54L130.0,368.08L130.5,368.22L131.0,368.50L131.5,368.52L132.0,368.38L132.5,368.53L133.0,368.46L133.5,368.33L134.0,368.41L134.5,368.21L135.0,368.31L135.5,368.29L136.0,368.38L136.5,368.24L137.0,368.52L137.5,368.52L138.0,368.33L138.5,368.35L139.0,368.35L139.5,368.51L140.0,368.40L140.5,368.36L141.0,368.32L141.5,368.40L142.0,368.54L142.5,368.54L143.0,367.28L143.5,367.63L144.0,368.51L144.5,368.54L145.0,368.48L145.5,368.53L146.0,368.49L146.5,367.31L147.0,367.68L147.5,368.46L148.0,368.47L148.5,368.29L149.0,368.30L149.5,368.47L150.0,368.54L150.5,368.41L151.0,368.53L151.5,368.54L152.0,368.54L152.5,368.49L153.0,368.34L153.5,368.47L154.0,368.37L154.5,368.46L155.0,368.40L155.5,368.47L156.0,368.39L156.5,368.51L157.0,368.52L157.5,368.37L158.0,368.37L158.5,368.37L159.0,368.41L159.5,368.37L160.0,367.23L160.5,368.42L161.0,368.41L161.5,368.50L162.0,368.54L162.5,368.33L163.0,368.33L163.5,368.51L164.0,368.49L164.5,368.54L165.0,368.30L165.5,368.54L166.0,368.49L166.5,368.54L167.0,367.34L167.5,367.70L168.0,368.38L168.5,368.45L169.0,368.41L169.5,368.31L170.0,368.54L170.5,367.80L171.0,368.54L171.5,368.48L172.0,368.54L172.5,368.43L173.0,368.44L173.5,368.23L174.0,368.35L174.5,368.54L175.0,367.46L175.5,367.78L176.0,368.22L176.5,368.32L177.0,368.51L177.5,368.30L178.0,368.46L178.5,368.47L179.0,368.41L179.5,368.31L180.0,368.39L180.5,368.32L181.0,368.53L181.5,368.54L182.0,368.54L182.5,368.08L183.0,368.39L183.5,368.53L184.0,368.44L184.5,368.53L185.0,368.44L185.5,368.28L186.0,368.33L186.5,368.52L187.0,368.54L187.5,368.12L188.0,368.25L188.5,368.51L189.0,367.68L189.5,367.94L190.0,368.31L190.5,368.51L191.0,368.49L191.5,368.51L192.0,368.46L192.5,368.53L193.0,368.47L193.5,368.47L194.0,368.23L194.5,368.32L195.0,368.31L195.5,367.50L196.0,368.48L196.5,367.73L197.0,367.97L197.5,368.40L198.0,368.41L198.5,368.28L199.0,368.54L199.5,368.18L200.0,368.29L200.5,368.32L201.0,368.53L201.5,367.75L202.0,368.24L202.5,367.34L203.0,367.70L203.5,368.54L204.0,368.28L204.5,368.40L205.0,368.50L205.5,368.48L206.0,368.53L206.5,368.24L207.0,368.29L207.5,368.03L208.0,368.18L208.5,368.37L209.0,368.50L209.5,368.38L210.0,368.11L210.5,368.24L211.0,368.37L211.5,368.49L212.0,367.40L212.5,368.38L213.0,368.50L213.5,367.34L214.0,368.52L214.5,368.54L215.0,367.30L215.5,368.34L216.0,368.53L216.5,368.52L217.0,368.54L217.5,368.28L218.0,368.52L218.5,368.53L219.0,368.40L219.5,368.54L220.0,367.32L220.5,368.40L221.0,368.54L221.5,368.37L222.0,368.53L222.5,368.54L223.0,368.38L223.5,367.10L224.0,368.50L224.5,368.52L225.0,368.22L225.5,368.37L226.0,368.28L226.5,368.41L227.0,368.50L227.5,368.48L228.0,368.33L228.5,368.52L229.0,368.50L229.5,368.53L230.0,368.27L230.5,368.37L231.0,368.52L231.5,368.37L232.0,368.29L232.5,368.51L233.0,368.51L233.5,368.52L234.0,368.34L234.5,368.48L235.0,367.53L235.5,368.50L236.0,368.39L236.5,368.06L237.0,368.20L237.5,368.53L238.0,368.33L238.5,368.29L239.0,368.49L239.5,368.33L240.0,368.27L240.5,368.28L241.0,368.06L241.5,368.21L242.0,368.51L242.5,368.52L243.0,368.52L243.5,368.52L244.0,368.53L244.5,368.54L245.0,367.70L245.5,367.95L246.0,368.24L246.5,368.49L247.0,367.62L247.5,367.86L248.0,356.86L248.1,356.54L248.5,364.13L249.0,367.83L249.5,368.40L250.0,368.52L250.5,368.53L251.0,368.49L251.5,368.51L252.0,368.53L252.5,368.37L253.0,368.51L253.5,368.47L254.0,368.50L254.5,368.43L255.0,368.53L255.5,367.52L256.0,367.83L256.5,367.91L257.0,368.45L257.5,368.34L257.5,368.54Z" fill="#222a80"/>
<text x="38.5" y="376.78" font-size="4.9" text-anchor="end" font-weight="bold" fill="#1a1a1a" textLength="10.72" lengthAdjust="spacingAndGlyphs" stroke="#1a1a1a" stroke-width="0.12">LYL1</text>
<path d="M42,380.98H257.5" stroke="#aab0c8" stroke-width="0.5"/>
<path d="M42.0,381.28L42.0,380.82L42.5,381.13L43.0,381.20L43.5,380.57L44.0,379.54L44.5,378.76L45.0,381.22L45.5,381.17L46.0,380.75L46.5,381.17L47.0,381.15L47.5,380.82L48.0,381.24L48.5,381.26L49.0,380.70L49.5,381.02L50.0,381.26L50.5,380.23L51.0,380.55L51.5,381.28L52.0,380.96L52.5,380.48L53.0,380.60L53.5,381.23L54.0,380.79L54.5,381.17L55.0,379.88L55.5,380.30L56.0,380.74L56.5,381.12L57.0,380.78L57.5,381.17L58.0,381.20L58.5,381.12L59.0,381.23L59.5,380.36L60.0,380.64L60.5,380.77L61.0,380.60L61.5,381.28L62.0,380.74L62.5,380.73L63.0,381.18L63.5,379.54L64.0,380.06L64.5,380.58L65.0,380.33L65.5,380.83L66.0,381.24L66.5,381.26L67.0,378.38L67.5,378.67L68.0,377.78L68.5,378.67L69.0,380.69L69.5,380.69L70.0,378.67L70.5,377.78L71.0,378.67L71.5,379.87L72.0,379.67L72.5,378.28L73.0,379.67L73.5,381.21L74.0,380.90L74.5,378.98L75.0,379.67L75.5,379.94L76.0,378.78L76.5,379.71L77.0,380.83L77.5,379.56L78.0,380.08L78.5,381.17L79.0,377.86L79.5,378.88L80.0,378.77L80.5,379.53L81.0,379.94L81.5,378.78L82.0,379.94L82.5,381.20L83.0,380.69L83.5,381.20L84.0,381.26L84.5,381.07L85.0,380.71L85.5,381.24L86.0,381.06L86.5,380.58L87.0,380.87L87.5,380.89L88.0,381.22L88.5,381.08L89.0,380.91L89.5,381.28L90.0,381.27L90.5,380.13L91.0,380.47L91.5,381.16L92.0,380.64L92.5,380.98L93.0,380.79L93.5,380.95L94.0,381.20L94.5,380.26L95.0,380.56L95.5,380.87L96.0,381.19L96.5,381.28L97.0,381.28L97.5,381.27L98.0,380.77L98.5,381.10L99.0,381.06L99.5,381.15L100.0,380.99L100.5,380.27L101.0,380.57L101.5,381.11L102.0,381.06L102.5,380.93L103.0,377.48L103.5,378.62L104.0,376.28L104.5,379.44L105.0,379.86L105.5,380.93L106.0,379.19L106.5,381.26L107.0,381.18L107.5,378.99L108.0,380.85L108.5,381.15L109.0,378.87L109.5,379.60L110.0,380.92L110.5,381.26L111.0,381.21L111.5,381.01L112.0,380.46L112.5,380.70L113.0,381.25L113.5,381.28L114.0,378.69L114.5,381.28L115.0,381.21L115.5,380.61L116.0,380.77L116.5,381.23L117.0,381.28L117.5,380.26L118.0,380.57L118.5,381.07L119.0,379.92L119.5,380.33L120.0,381.25L120.5,381.28L121.0,381.26L121.5,380.73L122.0,381.28L122.5,380.99L123.0,381.28L123.5,381.20L124.0,379.70L124.5,380.17L125.0,380.72L125.5,380.85L126.0,380.65L126.5,381.23L127.0,380.78L127.5,381.21L128.0,381.23L128.5,379.37L129.0,377.63L129.2,377.28L129.5,378.21L130.0,381.15L130.5,381.06L131.0,380.79L131.5,381.03L132.0,381.04L132.5,381.25L133.0,381.11L133.5,380.58L134.0,380.66L134.5,381.19L135.0,381.21L135.5,380.58L136.0,378.10L136.5,381.03L137.0,381.24L137.5,381.24L138.0,380.47L138.5,380.71L139.0,380.98L139.5,381.05L140.0,380.99L140.5,381.04L141.0,380.82L141.5,381.28L142.0,381.28L142.5,381.02L143.0,381.27L143.5,379.07L144.0,378.93L144.5,379.64L145.0,380.26L145.5,381.17L146.0,380.91L146.5,381.20L147.0,381.28L147.5,380.91L148.0,380.91L148.5,380.99L149.0,380.50L149.5,380.60L150.0,381.09L150.5,380.63L151.0,381.13L151.5,381.16L152.0,381.28L152.5,381.11L153.0,379.97L153.5,380.37L154.0,380.76L154.5,381.15L155.0,380.98L155.5,380.74L156.0,380.40L156.5,381.09L157.0,381.21L157.5,381.27L158.0,381.26L158.5,380.88L159.0,381.01L159.5,380.66L160.0,381.25L160.5,381.11L161.0,381.10L161.5,381.05L162.0,380.78L162.5,381.27L163.0,380.58L163.5,380.86L164.0,381.28L164.5,377.95L165.0,378.95L165.5,379.38L166.0,379.95L166.5,380.65L167.0,380.91L167.5,381.22L168.0,380.59L168.5,378.76L169.0,379.51L169.5,381.00L170.0,381.27L170.5,380.97L171.0,381.18L171.5,380.82L172.0,380.77L172.5,381.28L173.0,381.24L173.5,381.28L174.0,380.87L174.5,380.89L175.0,381.04L175.5,381.03L176.0,379.15L176.5,379.79L177.0,381.22L177.5,379.22L178.0,379.84L178.5,381.20L179.0,381.09L179.5,381.14L180.0,381.23L180.5,380.31L181.0,381.28L181.5,379.00L182.0,379.69L182.5,381.24L183.0,380.99L183.5,380.77L184.0,381.09L184.5,378.03L185.0,379.00L185.5,379.98L186.0,380.21L186.5,379.28L187.0,380.21L187.5,381.21L188.0,379.67L188.5,378.28L189.0,379.67L189.5,379.30L189.6,379.28L190.0,378.32L190.5,379.21L191.0,381.02L191.5,381.00L192.0,381.14L192.5,380.98L193.0,380.00L193.5,380.38L194.0,378.92L194.2,378.78L194.5,379.16L195.0,380.87L195.5,380.71L196.0,381.02L196.5,379.79L197.0,380.24L197.5,379.41L198.0,379.28L198.5,380.21L199.0,377.86L199.5,378.89L200.0,379.91L200.5,380.43L201.0,380.61L201.5,380.88L202.0,381.22L202.5,380.96L203.0,379.94L203.5,378.78L204.0,379.94L204.5,381.22L205.0,380.89L205.5,380.71L206.0,380.37L206.5,380.64L207.0,380.87L207.5,381.11L208.0,380.68L208.5,381.14L209.0,380.18L209.5,378.31L209.6,378.28L210.0,379.16L210.5,381.10L211.0,380.57L211.5,381.26L212.0,380.63L212.5,380.57L213.0,380.94L213.5,377.44L214.0,378.60L214.5,380.73L215.0,381.00L215.5,381.15L216.0,381.20L216.5,378.87L217.0,380.88L217.5,381.22L218.0,380.60L218.5,381.27L219.0,381.22L219.5,379.94L220.0,378.78L220.5,379.94L221.0,380.39L221.5,380.65L222.0,380.92L222.5,379.94L223.0,378.78L223.5,379.94L224.0,381.16L224.5,381.19L225.0,380.98L225.5,380.61L226.0,381.06L226.5,381.24L227.0,381.23L227.5,380.92L228.0,381.12L228.5,381.28L229.0,381.18L229.5,381.10L230.0,381.28L230.5,381.26L231.0,381.23L231.5,381.27L232.0,380.74L232.5,381.17L233.0,381.26L233.5,380.61L234.0,378.45L234.2,378.28L234.5,378.74L235.0,380.92L235.5,381.26L236.0,381.28L236.5,381.04L237.0,380.66L237.5,381.18L238.0,381.27L238.5,381.09L239.0,380.63L239.5,378.31L240.0,379.20L240.5,380.87L241.0,380.89L241.5,381.11L242.0,378.58L242.5,381.28L243.0,380.77L243.5,381.20L244.0,381.25L244.5,379.69L245.0,380.17L245.5,381.27L246.0,380.97L246.5,381.09L247.0,381.04L247.5,380.71L248.0,371.55L248.1,371.28L248.5,377.60L249.0,381.08L249.5,381.17L250.0,381.22L250.5,381.28L251.0,381.10L251.5,381.27L252.0,381.28L252.5,380.48L253.0,380.72L253.5,380.34L254.0,380.62L254.5,379.94L255.0,380.28L255.5,380.58L256.0,380.88L256.5,380.90L257.0,381.24L257.5,381.11L257.5,381.28Z" fill="#222a80"/>
<text x="38.5" y="389.52" font-size="4.9" text-anchor="end" font-weight="bold" fill="#1a1a1a" textLength="12.66" lengthAdjust="spacingAndGlyphs" stroke="#1a1a1a" stroke-width="0.12">LMO2</text>
<path d="M42,393.72H257.5" stroke="#aab0c8" stroke-width="0.5"/>
<path d="M42.0,394.02L42.0,392.72L42.5,393.11L43.0,393.50L43.5,392.67L44.0,393.07L44.5,394.01L45.0,393.73L45.5,394.02L46.0,393.93L46.5,394.02L47.0,394.01L47.5,393.33L48.0,393.93L48.5,393.20L49.0,393.45L49.5,393.93L50.0,393.84L50.5,393.96L51.0,393.90L51.5,393.84L52.0,391.46L52.3,389.02L52.5,390.06L53.0,392.94L53.5,393.41L54.0,393.89L54.5,393.99L55.0,393.82L55.5,392.95L56.0,393.40L56.5,393.95L57.0,394.02L57.5,393.99L58.0,393.83L58.5,393.77L59.0,394.01L59.5,393.77L60.0,393.72L60.5,393.87L61.0,393.62L61.5,393.74L62.0,394.00L62.5,393.95L63.0,393.74L63.5,393.84L64.0,393.66L64.5,394.00L65.0,394.02L65.5,393.94L66.0,393.94L66.5,393.59L67.0,393.88L67.5,393.91L68.0,394.01L68.5,394.00L69.0,393.79L69.5,393.99L70.0,392.41L70.5,388.02L71.0,392.41L71.5,393.94L72.0,393.91L72.5,393.94L73.0,393.93L73.5,393.71L74.0,393.83L74.5,393.36L75.0,393.56L75.5,392.48L76.0,392.94L76.5,392.78L77.0,393.15L77.5,393.52L78.0,393.84L78.5,394.01L79.0,393.92L79.5,393.84L80.0,394.02L80.5,393.89L81.0,393.97L81.5,393.48L82.0,393.85L82.5,393.97L83.0,393.80L83.5,393.76L84.0,394.02L84.5,394.02L85.0,393.97L85.5,393.81L86.0,393.84L86.5,393.75L87.0,393.49L87.5,393.65L88.0,393.85L88.5,393.99L89.0,393.85L89.5,394.02L90.0,393.80L90.5,393.96L91.0,394.02L91.5,393.12L92.0,393.84L92.5,393.77L93.0,393.98L93.5,393.97L94.0,393.93L94.5,393.97L95.0,392.40L95.5,394.02L96.0,393.65L96.5,393.87L97.0,393.78L97.5,393.82L98.0,393.89L98.5,393.95L99.0,393.75L99.5,394.02L100.0,393.77L100.5,393.64L101.0,393.75L101.5,393.98L102.0,393.96L102.5,393.95L103.0,394.00L103.5,393.66L104.0,391.48L104.3,391.02L104.5,391.19L105.0,393.35L105.5,393.97L106.0,393.66L106.5,393.38L107.0,393.57L107.5,393.76L108.0,393.83L108.5,393.97L109.0,393.99L109.5,394.02L110.0,394.02L110.5,393.88L111.0,394.02L111.5,393.87L112.0,393.99L112.5,394.01L113.0,393.95L113.5,394.01L114.0,393.66L114.5,393.77L115.0,393.65L115.5,393.76L116.0,393.81L116.5,393.96L117.0,393.47L117.5,393.12L118.0,393.39L118.5,393.76L119.0,393.69L119.5,393.70L120.0,394.02L120.5,393.81L121.0,393.96L121.5,393.32L122.0,393.91L122.5,393.95L123.0,392.78L123.5,393.16L124.0,393.95L124.5,393.56L125.0,393.85L125.5,394.01L126.0,393.55L126.5,394.00L127.0,394.02L127.5,393.89L128.0,394.01L128.5,394.02L129.0,393.87L129.5,393.96L130.0,393.84L130.5,393.81L131.0,393.08L131.5,393.36L132.0,394.02L132.5,393.93L133.0,393.94L133.5,393.73L134.0,393.81L134.5,394.02L135.0,394.00L135.5,393.99L136.0,393.80L136.5,393.14L137.0,393.41L137.5,393.79L138.0,393.74L138.5,393.69L139.0,393.71L139.5,393.96L140.0,394.00L140.5,393.77L141.0,394.02L141.5,393.89L142.0,393.95L142.5,393.82L143.0,393.72L143.5,393.97L144.0,393.98L144.5,393.86L145.0,393.98L145.5,393.31L146.0,394.02L146.5,393.93L147.0,393.99L147.5,393.18L148.0,393.43L148.5,393.90L149.0,394.00L149.5,393.91L150.0,393.46L150.5,393.98L151.0,393.63L151.5,394.02L152.0,394.00L152.5,393.83L153.0,393.77L153.5,393.85L154.0,393.98L154.5,393.74L155.0,393.43L155.5,393.72L156.0,393.98L156.5,392.66L157.0,393.70L157.5,393.79L158.0,393.58L158.5,394.00L159.0,393.97L159.5,394.01L160.0,393.99L160.5,394.00L161.0,393.84L161.5,393.74L162.0,394.02L162.5,393.86L163.0,393.86L163.5,393.97L164.0,393.77L164.5,393.97L165.0,393.80L165.5,393.75L166.0,393.99L166.5,393.22L167.0,392.52L167.5,393.22L168.0,393.99L168.5,392.75L169.0,393.13L169.5,393.51L170.0,393.94L170.5,393.96L171.0,394.00L171.5,392.35L172.0,392.85L172.5,393.35L173.0,393.81L173.5,394.02L174.0,393.81L174.5,393.89L175.0,393.86L175.5,394.01L176.0,393.82L176.5,394.02L177.0,393.81L177.5,394.01L178.0,393.95L178.5,393.82L179.0,394.02L179.5,393.86L180.0,393.41L180.5,393.98L181.0,394.01L181.5,393.94L182.0,394.02L182.5,394.02L183.0,394.02L183.5,393.97L184.0,393.86L184.5,393.85L185.0,394.01L185.5,393.71L186.0,393.61L186.5,393.73L187.0,393.75L187.5,393.83L188.0,393.94L188.5,393.96L189.0,392.60L189.5,393.03L190.0,393.66L190.5,393.80L191.0,393.85L191.5,393.00L192.0,393.30L192.5,394.00L193.0,393.82L193.5,394.01L194.0,393.91L194.5,393.92L195.0,393.98L195.5,393.84L196.0,393.72L196.5,393.03L197.0,393.95L197.5,393.84L198.0,393.74L198.5,394.02L199.0,393.88L199.5,393.64L200.0,393.73L200.5,394.00L201.0,393.86L201.5,394.02L202.0,393.99L202.5,393.85L203.0,393.50L203.5,394.01L204.0,393.98L204.5,394.01L205.0,394.02L205.5,393.89L206.0,394.02L206.5,393.77L207.0,394.01L207.5,393.90L208.0,394.01L208.5,393.99L209.0,392.69L209.5,393.95L210.0,393.61L210.5,393.73L211.0,393.74L211.5,394.00L212.0,393.82L212.5,393.99L213.0,393.93L213.5,393.98L214.0,393.52L214.5,393.67L215.0,393.88L215.5,393.86L216.0,394.02L216.5,394.02L217.0,393.90L217.5,394.01L218.0,393.76L218.5,393.89L219.0,393.80L219.5,394.02L220.0,393.15L220.5,393.21L221.0,393.76L221.5,393.70L222.0,393.97L222.5,393.13L223.0,393.40L223.5,393.66L224.0,393.22L224.5,393.46L225.0,393.88L225.5,394.00L226.0,393.99L226.5,393.57L227.0,393.98L227.5,393.97L228.0,393.95L228.5,393.97L229.0,393.84L229.5,393.98L230.0,393.92L230.5,394.01L231.0,393.91L231.5,393.95L232.0,393.95L232.5,393.86L233.0,393.95L233.5,394.01L234.0,393.79L234.5,394.00L235.0,392.79L235.5,393.16L236.0,393.53L236.5,393.98L237.0,393.66L237.5,393.86L238.0,393.98L238.5,393.85L239.0,392.39L239.5,392.26L240.0,394.01L240.5,393.96L241.0,393.98L241.5,393.60L242.0,393.73L242.5,393.96L243.0,393.98L243.5,393.99L244.0,393.50L244.5,393.66L245.0,394.01L245.5,393.57L246.0,393.71L246.5,393.95L247.0,393.16L247.5,393.40L248.0,383.32L248.1,383.02L248.5,389.97L249.0,393.94L249.5,393.93L250.0,393.96L250.5,393.66L251.0,393.77L251.5,393.86L252.0,393.69L252.5,393.93L253.0,394.01L253.5,394.02L254.0,393.89L254.5,393.66L255.0,393.76L255.5,393.78L256.0,393.79L256.5,393.76L257.0,392.51L257.5,392.96L257.5,394.02Z" fill="#222a80"/>
<text x="38.5" y="402.26" font-size="4.9" text-anchor="end" font-weight="bold" fill="#1a1a1a" textLength="15.45" lengthAdjust="spacingAndGlyphs" stroke="#1a1a1a" stroke-width="0.12">RUNX1</text>
<path d="M42,406.46H257.5" stroke="#aab0c8" stroke-width="0.5"/>
<path d="M42.0,406.76L42.0,406.72L42.5,406.60L43.0,406.69L43.5,406.53L44.0,406.75L44.5,406.19L45.0,406.36L45.5,406.69L46.0,406.27L46.5,406.40L47.0,406.37L47.5,406.72L48.0,406.73L48.5,406.60L49.0,406.61L49.5,406.65L50.0,406.33L50.5,406.51L51.0,406.39L51.5,406.73L52.0,405.86L52.5,406.13L53.0,405.36L53.5,405.78L54.0,406.20L54.5,406.76L55.0,406.58L55.5,406.68L56.0,406.75L56.5,406.42L57.0,406.19L57.5,406.36L58.0,406.53L58.5,406.74L59.0,406.56L59.5,406.53L60.0,405.05L60.5,405.56L61.0,406.08L61.5,406.76L62.0,406.34L62.5,406.63L63.0,406.76L63.5,406.74L64.0,406.73L64.5,406.39L65.0,406.27L65.5,406.34L66.0,404.69L66.5,406.75L67.0,406.62L67.5,406.76L68.0,406.75L68.5,406.75L69.0,406.47L69.5,406.69L70.0,405.15L70.5,403.76L71.0,405.15L71.5,406.69L72.0,406.41L72.5,406.75L73.0,406.65L73.5,406.47L74.0,406.59L74.5,406.06L75.0,405.85L75.5,406.13L76.0,406.40L76.5,406.68L77.0,406.59L77.5,404.43L78.0,405.13L78.5,405.83L79.0,404.41L79.5,406.66L80.0,405.76L80.5,406.47L81.0,406.73L81.5,406.61L82.0,406.48L82.5,406.65L83.0,406.71L83.5,406.75L84.0,406.62L84.5,405.89L85.0,406.15L85.5,406.74L86.0,406.44L86.5,406.43L87.0,405.63L87.5,406.54L88.0,406.63L88.5,406.63L89.0,406.63L89.5,406.46L90.0,406.72L90.5,406.70L91.0,406.23L91.5,406.39L92.0,406.55L92.5,406.75L93.0,406.60L93.5,406.48L94.0,406.61L94.5,404.97L95.0,405.51L95.5,406.04L96.0,406.54L96.5,406.64L97.0,404.85L97.5,406.70L98.0,406.46L98.5,406.75L99.0,406.76L99.5,406.71L100.0,406.51L100.5,406.33L101.0,406.50L101.5,406.75L102.0,406.65L102.5,406.74L103.0,406.70L103.5,404.68L104.0,404.76L104.5,405.69L105.0,406.65L105.5,406.44L106.0,404.72L106.5,405.33L107.0,406.61L107.5,406.75L108.0,406.74L108.5,406.64L109.0,406.05L109.5,406.48L110.0,406.68L110.5,406.28L111.0,406.35L111.5,406.36L112.0,406.67L112.5,405.34L113.0,405.77L113.5,406.76L114.0,406.69L114.5,406.52L115.0,404.82L115.5,405.40L116.0,406.69L116.5,406.76L117.0,406.42L117.5,405.93L118.0,406.18L118.5,406.74L119.0,406.75L119.5,406.61L120.0,406.03L120.5,406.57L121.0,406.76L121.5,406.36L122.0,406.72L122.5,406.59L123.0,406.71L123.5,406.76L124.0,406.73L124.5,406.75L125.0,405.99L125.5,406.22L126.0,406.65L126.5,406.65L127.0,406.64L127.5,406.36L128.0,406.63L128.5,406.42L129.0,406.50L129.5,406.42L130.0,406.76L130.5,406.75L131.0,406.09L131.5,406.29L132.0,406.69L132.5,406.49L133.0,406.38L133.5,406.73L134.0,406.72L134.5,406.71L135.0,406.73L135.5,406.76L136.0,406.75L136.5,406.74L137.0,406.63L137.5,406.76L138.0,406.76L138.5,406.71L139.0,406.72L139.5,406.70L140.0,406.56L140.5,406.41L141.0,406.74L141.5,406.61L142.0,406.34L142.5,406.76L143.0,406.73L143.5,406.49L144.0,406.41L144.5,406.74L145.0,406.76L145.5,406.68L146.0,406.75L146.5,406.76L147.0,406.76L147.5,406.75L148.0,406.68L148.5,406.68L149.0,406.58L149.5,406.51L150.0,406.76L150.5,406.56L151.0,406.42L151.5,406.69L152.0,406.39L152.5,406.76L153.0,406.76L153.5,406.76L154.0,406.49L154.5,406.71L155.0,406.41L155.5,406.75L156.0,405.04L156.5,405.56L157.0,406.57L157.5,406.75L158.0,406.24L158.5,406.40L159.0,406.69L159.5,405.88L160.0,406.46L160.5,406.44L161.0,406.61L161.5,406.75L162.0,406.36L162.5,406.76L163.0,406.72L163.5,406.35L164.0,406.65L164.5,406.74L165.0,406.62L165.5,406.49L166.0,406.76L166.5,406.35L167.0,406.76L167.5,406.70L168.0,406.75L168.5,406.35L169.0,406.53L169.5,406.66L170.0,406.73L170.5,406.73L171.0,406.50L171.5,406.10L172.0,406.47L172.5,406.61L173.0,406.37L173.5,405.69L174.0,404.76L174.5,405.69L175.0,405.90L175.5,405.69L176.0,404.76L176.5,405.69L177.0,406.69L177.5,406.52L178.0,406.74L178.5,406.56L179.0,406.46L179.5,406.26L180.0,406.64L180.5,406.23L181.0,406.39L181.5,406.41L182.0,405.84L182.5,406.68L183.0,406.74L183.5,406.67L184.0,406.61L184.5,406.32L185.0,406.75L185.5,406.76L186.0,406.61L186.5,406.75L187.0,406.73L187.5,405.26L188.0,405.71L188.5,406.35L189.0,406.39L189.5,406.51L190.0,406.09L190.5,406.29L191.0,406.49L191.5,405.98L192.0,406.22L192.5,405.25L193.0,405.70L193.5,406.33L194.0,406.07L194.5,406.28L195.0,406.52L195.5,406.34L196.0,406.44L196.5,406.56L197.0,406.25L197.5,406.76L198.0,405.14L198.5,406.54L199.0,406.62L199.5,406.68L200.0,406.65L200.5,406.69L201.0,406.51L201.5,406.50L202.0,406.34L202.5,406.27L203.0,406.41L203.5,406.76L204.0,406.45L204.5,405.72L205.0,406.03L205.5,406.51L206.0,406.41L206.5,405.92L207.0,406.17L207.5,406.38L208.0,406.61L208.5,406.52L209.0,406.43L209.5,406.68L210.0,406.67L210.5,406.73L211.0,406.69L211.5,406.68L212.0,406.43L212.5,406.53L213.0,406.76L213.5,406.62L214.0,404.88L214.5,405.45L215.0,406.01L215.5,406.70L216.0,406.74L216.5,406.60L217.0,406.70L217.5,406.75L218.0,406.62L218.5,405.62L219.0,405.96L219.5,406.51L220.0,406.62L220.5,406.76L221.0,406.59L221.5,406.56L222.0,406.72L222.5,406.55L223.0,406.62L223.5,405.66L224.0,405.99L224.5,406.71L225.0,406.70L225.5,406.55L226.0,406.19L226.5,406.64L227.0,406.44L227.5,406.76L228.0,406.62L228.5,405.14L229.0,405.63L229.5,404.93L230.0,406.76L230.5,406.63L231.0,406.54L231.5,406.76L232.0,406.41L232.5,406.18L233.0,406.45L233.5,406.76L234.0,406.18L234.5,405.10L235.0,406.76L235.5,406.73L236.0,406.63L236.5,406.71L237.0,406.67L237.5,406.74L238.0,406.67L238.5,406.74L239.0,406.76L239.5,406.73L240.0,406.75L240.5,406.76L241.0,406.70L241.5,406.75L242.0,406.71L242.5,406.59L243.0,406.75L243.5,406.50L244.0,405.52L244.5,406.52L245.0,406.62L245.5,406.71L246.0,406.72L246.5,406.76L247.0,404.97L247.5,405.51L248.0,397.03L248.1,396.76L248.5,403.08L249.0,406.74L249.5,406.58L250.0,406.76L250.5,406.75L251.0,406.53L251.5,406.49L252.0,406.44L252.5,406.75L253.0,406.46L253.5,406.72L254.0,406.22L254.5,406.38L255.0,406.56L255.5,406.70L256.0,406.57L256.5,406.60L257.0,406.67L257.5,406.44L257.5,406.76Z" fill="#222a80"/>
<text x="38.5" y="415.00" font-size="4.9" text-anchor="end" font-weight="bold" fill="#1a1a1a" textLength="14.77" lengthAdjust="spacingAndGlyphs" stroke="#1a1a1a" stroke-width="0.12">GATA2</text>
<path d="M42,419.20H257.5" stroke="#aab0c8" stroke-width="0.5"/>
<path d="M42.0,419.50L42.0,419.39L42.5,419.45L43.0,419.28L43.5,418.73L44.0,419.25L44.5,419.43L45.0,419.50L45.5,419.23L46.0,419.41L46.5,419.35L47.0,419.46L47.5,419.12L48.0,419.12L48.5,419.23L49.0,419.20L49.5,419.31L50.0,419.49L50.5,419.48L51.0,419.37L51.5,419.49L52.0,415.27L52.3,408.00L52.5,411.38L53.0,419.35L53.5,419.49L54.0,419.41L54.5,419.47L55.0,419.08L55.5,419.17L56.0,419.20L56.5,419.22L57.0,419.48L57.5,419.34L58.0,418.24L58.5,418.61L59.0,418.99L59.5,419.36L60.0,419.49L60.5,419.35L61.0,419.47L61.5,419.32L62.0,419.22L62.5,419.14L63.0,419.18L63.5,419.41L64.0,419.38L64.5,419.28L65.0,419.49L65.5,419.19L66.0,419.14L66.5,419.25L67.0,418.96L67.5,419.12L68.0,419.37L68.5,419.12L69.0,419.22L69.5,419.35L70.0,419.14L70.5,416.96L70.8,416.50L71.0,416.67L71.5,418.83L72.0,419.18L72.5,419.47L73.0,419.40L73.5,419.39L74.0,417.86L74.5,419.46L75.0,419.44L75.5,419.42L76.0,419.42L76.5,419.40L77.0,419.47L77.5,419.20L78.0,419.46L78.5,419.45L79.0,419.12L79.5,419.24L80.0,419.41L80.5,419.48L81.0,419.14L81.5,419.22L82.0,419.31L82.5,419.18L83.0,419.45L83.5,419.31L84.0,419.28L84.5,419.49L85.0,419.31L85.5,419.45L86.0,419.23L86.5,419.28L87.0,419.46L87.5,419.48L88.0,419.50L88.5,419.42L89.0,419.46L89.5,419.25L90.0,419.45L90.5,419.37L91.0,419.44L91.5,419.49L92.0,419.45L92.5,419.37L93.0,419.18L93.5,419.25L94.0,419.13L94.5,419.49L95.0,419.21L95.5,419.39L96.0,419.49L96.5,419.49L97.0,419.28L97.5,419.24L98.0,419.32L98.5,419.50L99.0,419.38L99.5,419.47L100.0,419.20L100.5,419.45L101.0,419.24L101.5,419.04L102.0,419.50L102.5,419.39L103.0,418.76L103.5,417.80L104.0,417.50L104.5,417.80L105.0,418.76L105.5,419.39L106.0,417.92L106.5,418.39L107.0,419.24L107.5,419.50L108.0,419.25L108.5,418.04L109.0,419.47L109.5,419.49L110.0,419.37L110.5,418.09L111.0,418.51L111.5,419.44L112.0,419.49L112.5,419.50L113.0,419.50L113.5,419.07L114.0,419.18L114.5,419.33L115.0,419.38L115.5,419.49L116.0,419.00L116.5,419.50L117.0,419.50L117.5,419.47L118.0,419.43L118.5,419.50L119.0,419.49L119.5,419.46L120.0,419.32L120.5,418.48L121.0,419.20L121.5,419.36L122.0,419.44L122.5,419.42L123.0,419.35L123.5,419.42L124.0,419.34L124.5,419.45L125.0,419.30L125.5,419.47L126.0,419.28L126.5,419.36L127.0,419.45L127.5,419.49L128.0,418.52L128.5,418.82L129.0,418.76L129.5,417.52L129.6,417.50L130.0,418.09L130.5,419.39L131.0,418.51L131.5,419.50L132.0,419.22L132.5,418.73L133.0,418.96L133.5,419.47L134.0,419.33L134.5,419.50L135.0,419.06L135.5,419.19L136.0,419.32L136.5,419.38L137.0,419.45L137.5,418.34L138.0,418.69L138.5,418.77L139.0,419.20L139.5,419.18L140.0,419.50L140.5,418.62L141.0,419.23L141.5,419.44L142.0,419.44L142.5,419.33L143.0,419.45L143.5,419.21L144.0,419.27L144.5,419.47L145.0,418.38L145.5,418.72L146.0,419.33L146.5,419.33L147.0,419.48L147.5,419.24L148.0,419.46L148.5,419.32L149.0,419.49L149.5,419.50L150.0,419.33L150.5,419.49L151.0,419.50L151.5,419.45L152.0,419.50L152.5,419.12L153.0,419.23L153.5,419.49L154.0,419.39L154.5,418.06L155.0,418.49L155.5,418.17L156.0,418.17L156.5,418.57L157.0,419.39L157.5,419.37L158.0,419.10L158.5,419.22L159.0,419.33L159.5,419.41L160.0,419.38L160.5,419.42L161.0,418.97L161.5,419.13L162.0,419.27L162.5,419.22L163.0,419.36L163.5,419.13L164.0,419.38L164.5,419.44L165.0,419.47L165.5,419.27L166.0,419.47L166.5,419.26L167.0,419.27L167.5,419.48L168.0,418.86L168.5,419.47L169.0,418.69L169.5,419.40L170.0,419.46L170.5,418.71L171.0,419.49L171.5,419.45L172.0,418.94L172.5,417.14L172.7,417.00L173.0,417.38L173.5,419.06L174.0,419.35L174.5,419.50L175.0,419.49L175.5,419.31L176.0,419.05L176.5,419.49L177.0,419.47L177.5,419.29L178.0,419.50L178.5,419.49L179.0,419.32L179.5,419.43L180.0,419.24L180.5,419.43L181.0,419.21L181.5,419.30L182.0,419.29L182.5,419.32L183.0,419.48L183.5,419.21L184.0,419.05L184.5,419.19L185.0,419.43L185.5,419.20L186.0,419.50L186.5,417.95L187.0,418.41L187.5,419.18L188.0,419.17L188.5,419.39L189.0,419.14L189.5,419.24L190.0,419.42L190.5,419.00L191.0,419.45L191.5,419.50L192.0,419.49L192.5,419.50L193.0,419.47L193.5,418.64L194.0,418.90L194.5,419.42L195.0,419.50L195.5,419.40L196.0,419.23L196.5,419.18L197.0,419.18L197.5,418.73L198.0,418.96L198.5,419.36L199.0,419.08L199.5,419.50L200.0,419.50L200.5,419.21L201.0,419.35L201.5,418.56L202.0,418.84L202.5,419.11L203.0,419.23L203.5,418.34L204.0,418.69L204.5,419.04L205.0,419.45L205.5,418.48L206.0,418.79L206.5,418.81L207.0,419.37L207.5,419.11L208.0,419.49L208.5,419.50L209.0,419.48L209.5,419.36L210.0,419.48L210.5,418.79L211.0,419.01L211.5,419.36L212.0,419.44L212.5,419.23L213.0,419.33L213.5,419.48L214.0,419.03L214.5,419.46L215.0,419.45L215.5,419.33L216.0,419.06L216.5,419.19L217.0,418.75L217.5,419.50L218.0,419.30L218.5,419.41L219.0,418.01L219.5,418.46L220.0,419.48L220.5,419.47L221.0,419.47L221.5,419.40L222.0,419.48L222.5,419.49L223.0,419.00L223.5,419.48L224.0,418.84L224.5,419.37L225.0,419.49L225.5,419.30L226.0,418.67L226.5,418.92L227.0,419.49L227.5,419.34L228.0,419.24L228.5,419.48L229.0,419.21L229.5,419.49L230.0,419.24L230.5,419.50L231.0,419.44L231.5,419.31L232.0,419.08L232.5,419.21L233.0,419.33L233.5,419.08L234.0,419.50L234.5,419.25L235.0,419.38L235.5,419.41L236.0,419.46L236.5,419.44L237.0,419.43L237.5,419.38L238.0,419.42L238.5,419.32L239.0,418.31L239.5,418.66L240.0,419.31L240.5,419.14L241.0,419.25L241.5,419.44L242.0,417.98L242.5,418.44L243.0,418.89L243.5,419.07L244.0,419.20L244.5,419.33L245.0,418.30L245.5,418.66L246.0,419.02L246.5,419.26L247.0,419.33L247.5,417.66L248.0,414.50L248.5,417.66L249.0,419.33L249.5,419.46L250.0,419.30L250.5,419.00L251.0,419.46L251.5,419.17L252.0,419.50L252.5,419.43L253.0,419.49L253.5,419.43L254.0,418.84L254.5,419.04L255.0,419.45L255.5,419.35L256.0,419.36L256.5,419.43L257.0,419.49L257.5,419.41L257.5,419.50Z" fill="#222a80"/>
<text x="38.5" y="427.74" font-size="4.9" text-anchor="end" font-weight="bold" fill="#1a1a1a" textLength="13.68" lengthAdjust="spacingAndGlyphs" stroke="#1a1a1a" stroke-width="0.12">MEIS1</text>
<path d="M42,431.94H257.5" stroke="#aab0c8" stroke-width="0.5"/>
<path d="M42.0,432.24L42.0,431.59L42.5,431.78L43.0,432.16L43.5,430.27L44.0,430.86L44.5,429.91L45.0,431.76L45.5,431.99L46.0,431.70L46.5,431.94L47.0,431.99L47.5,432.08L48.0,431.18L48.5,431.50L49.0,432.21L49.5,432.15L50.0,431.70L50.5,432.00L51.0,431.92L51.5,432.13L52.0,431.01L52.5,431.38L53.0,431.75L53.5,432.09L54.0,431.35L54.5,431.62L55.0,431.88L55.5,431.81L56.0,431.81L56.5,432.24L57.0,431.73L57.5,431.98L58.0,432.04L58.5,432.21L59.0,432.24L59.5,430.33L60.0,432.23L60.5,431.90L61.0,432.20L61.5,432.16L62.0,432.21L62.5,432.02L63.0,432.24L63.5,431.98L64.0,432.24L64.5,431.99L65.0,432.03L65.5,430.84L66.0,431.90L66.5,431.88L67.0,432.12L67.5,430.18L68.0,430.80L68.5,431.89L69.0,432.00L69.5,429.56L70.0,427.24L70.5,429.56L71.0,432.13L71.5,431.76L72.0,428.85L72.3,428.24L72.5,428.46L73.0,431.34L73.5,431.75L74.0,431.82L74.5,431.94L75.0,432.06L75.5,432.16L76.0,431.92L76.5,430.09L77.0,428.24L77.5,429.32L78.0,430.20L78.5,432.16L79.0,431.95L79.5,431.89L80.0,432.15L80.5,432.19L81.0,432.17L81.5,429.54L82.0,432.09L82.5,432.24L83.0,432.12L83.5,431.84L84.0,431.73L84.5,430.10L85.0,430.74L85.5,431.17L86.0,430.24L86.5,431.17L87.0,432.14L87.5,432.01L88.0,432.24L88.5,432.18L89.0,432.23L89.5,430.98L90.0,431.88L90.5,431.64L91.0,431.82L91.5,432.00L92.0,432.13L92.5,432.07L93.0,431.60L93.5,432.23L94.0,431.99L94.5,432.09L95.0,432.21L95.5,432.06L96.0,431.95L96.5,432.11L97.0,431.63L97.5,431.81L98.0,432.03L98.5,429.93L99.0,430.62L99.5,430.05L100.0,432.17L100.5,430.45L101.0,430.99L101.5,431.52L102.0,432.23L102.5,432.23L103.0,432.07L103.5,428.40L103.8,427.24L104.0,427.68L104.5,428.85L104.8,428.24L105.0,428.46L105.5,431.34L106.0,432.07L106.5,432.06L107.0,432.23L107.5,432.23L108.0,432.24L108.5,432.14L109.0,431.94L109.5,432.24L110.0,432.16L110.5,429.59L111.0,430.39L111.5,432.09L112.0,432.17L112.5,432.24L113.0,432.17L113.5,432.10L114.0,432.20L114.5,431.82L115.0,431.80L115.5,431.89L116.0,430.79L116.5,431.23L117.0,431.66L117.5,432.16L118.0,432.21L118.5,431.55L119.0,431.64L119.5,431.82L120.0,432.24L120.5,429.40L121.0,430.25L121.5,431.10L122.0,430.62L122.5,431.11L123.0,432.04L123.5,430.90L124.0,429.74L124.5,429.38L125.0,431.84L125.5,432.24L126.0,432.18L126.5,430.90L127.0,429.74L127.5,430.90L128.0,430.85L128.5,431.27L129.0,431.68L129.5,430.90L130.0,429.74L130.5,430.90L131.0,430.74L131.5,431.76L132.0,431.99L132.5,431.94L133.0,432.14L133.5,432.23L134.0,432.20L134.5,429.27L135.0,432.23L135.5,431.92L136.0,430.55L136.5,431.06L137.0,431.56L137.5,431.17L138.0,430.24L138.5,430.52L139.0,431.04L139.5,432.20L140.0,432.12L140.5,430.44L141.0,430.24L141.5,431.17L142.0,431.98L142.5,431.81L143.0,432.20L143.5,431.43L144.0,431.67L144.5,431.85L145.0,431.94L145.5,432.23L146.0,431.81L146.5,431.89L147.0,431.38L147.5,431.64L148.0,431.90L148.5,432.17L149.0,431.91L149.5,432.11L150.0,431.86L150.5,432.20L151.0,430.62L151.5,431.99L152.0,432.24L152.5,429.67L153.0,430.44L153.5,432.08L154.0,432.22L154.5,431.11L155.0,431.92L155.5,431.43L156.0,431.67L156.5,432.20L157.0,432.12L157.5,431.17L158.0,430.24L158.5,429.51L159.0,432.19L159.5,431.83L160.0,432.19L160.5,430.97L161.0,431.79L161.5,429.93L162.0,430.62L162.5,432.19L163.0,432.16L163.5,432.07L164.0,432.23L164.5,431.74L165.0,431.90L165.5,431.94L166.0,431.62L166.5,431.81L167.0,431.99L167.5,432.19L168.0,432.24L168.5,432.22L169.0,431.99L169.5,432.24L170.0,431.59L170.5,431.73L171.0,432.23L171.5,431.87L172.0,432.23L172.5,432.20L173.0,432.08L173.5,432.21L174.0,430.32L174.5,432.17L175.0,432.20L175.5,432.19L176.0,431.15L176.5,431.48L177.0,432.23L177.5,431.97L178.0,431.93L178.5,431.70L179.0,431.99L179.5,432.24L180.0,432.20L180.5,431.87L181.0,431.96L181.5,431.93L182.0,431.40L182.5,431.65L183.0,432.21L183.5,432.13L184.0,432.12L184.5,431.19L185.0,431.50L185.5,431.82L186.0,431.17L186.5,430.24L187.0,431.17L187.5,431.85L188.0,432.23L188.5,431.60L189.0,431.69L189.5,432.21L190.0,432.24L190.5,432.12L191.0,431.64L191.5,431.82L192.0,431.86L192.5,431.62L193.0,431.81L193.5,432.05L194.0,432.21L194.5,432.00L195.0,432.13L195.5,431.81L196.0,431.79L196.5,431.01L197.0,431.38L197.5,431.64L198.0,431.82L198.5,432.00L199.0,431.62L199.5,431.81L200.0,431.99L200.5,432.18L201.0,431.84L201.5,432.02L202.0,431.52L202.5,432.20L203.0,432.24L203.5,430.95L204.0,432.22L204.5,432.07L205.0,432.21L205.5,431.88L206.0,430.88L206.5,431.89L207.0,432.15L207.5,432.24L208.0,431.55L208.5,431.71L209.0,432.19L209.5,431.56L210.0,432.11L210.5,431.83L211.0,431.79L211.5,431.71L212.0,431.44L212.5,431.56L213.0,431.76L213.5,432.19L214.0,432.15L214.5,432.21L215.0,432.05L215.5,432.24L216.0,432.07L216.5,431.43L217.0,431.67L217.5,432.23L218.0,431.64L218.5,431.82L219.0,432.00L219.5,432.18L220.0,432.16L220.5,432.20L221.0,431.88L221.5,432.05L222.0,431.75L222.5,431.06L223.0,431.41L223.5,431.55L224.0,432.19L224.5,431.77L225.0,431.76L225.5,432.05L226.0,432.14L226.5,432.24L227.0,432.19L227.5,432.18L228.0,432.15L228.5,431.56L229.0,432.24L229.5,432.22L230.0,432.24L230.5,431.75L231.0,432.18L231.5,432.23L232.0,431.76L232.5,431.79L233.0,432.10L233.5,431.75L234.0,431.98L234.5,432.24L235.0,432.24L235.5,432.16L236.0,432.21L236.5,431.94L237.0,430.98L237.5,431.36L238.0,432.11L238.5,432.04L239.0,432.15L239.5,432.11L240.0,429.57L240.5,430.37L241.0,432.16L241.5,432.12L242.0,431.96L242.5,432.18L243.0,432.01L243.5,432.14L244.0,431.00L244.5,431.85L245.0,432.23L245.5,432.21L246.0,432.17L246.5,432.24L247.0,431.71L247.5,430.73L248.0,423.24L248.5,430.73L249.0,432.00L249.5,432.15L250.0,432.24L250.5,432.19L251.0,431.99L251.5,431.62L252.0,431.81L252.5,431.99L253.0,432.21L253.5,431.96L254.0,432.20L254.5,432.20L255.0,432.21L255.5,431.94L256.0,432.18L256.5,431.92L257.0,432.21L257.5,432.04L257.5,432.24Z" fill="#222a80"/>
<text x="38.5" y="440.48" font-size="4.9" text-anchor="end" font-weight="bold" fill="#1a1a1a" textLength="13.42" lengthAdjust="spacingAndGlyphs" stroke="#1a1a1a" stroke-width="0.12">GFI1B</text>
<path d="M42,444.68H257.5" stroke="#aab0c8" stroke-width="0.5"/>
<path d="M42.0,444.98L42.0,443.77L42.5,444.13L43.0,444.50L43.5,444.67L44.0,444.24L44.5,443.00L44.6,442.98L45.0,443.57L45.5,444.53L46.0,444.98L46.5,444.97L47.0,444.85L47.5,444.79L48.0,444.87L48.5,443.20L49.0,443.73L49.5,444.27L50.0,444.18L50.5,444.42L51.0,444.33L51.5,444.86L52.0,442.44L52.5,443.20L53.0,443.97L53.5,444.55L54.0,441.63L54.5,444.72L55.0,444.98L55.5,444.68L56.0,444.78L56.5,443.63L57.0,444.04L57.5,444.46L58.0,443.91L58.5,442.98L59.0,443.60L59.5,444.02L60.0,441.58L60.5,444.93L61.0,444.98L61.5,444.85L62.0,444.42L62.5,444.52L63.0,444.63L63.5,444.81L64.0,444.56L64.5,441.67L65.0,442.66L65.5,443.66L66.0,444.98L66.5,444.74L67.0,444.55L67.5,444.69L68.0,444.89L68.5,443.91L69.0,442.98L69.5,443.68L70.0,443.54L70.5,443.97L71.0,444.98L71.5,444.88L72.0,444.58L72.5,444.25L73.0,444.47L73.5,444.69L74.0,444.61L74.5,444.91L75.0,444.58L75.5,444.89L76.0,444.93L76.5,443.91L77.0,442.98L77.5,442.46L78.0,443.21L78.5,444.98L79.0,444.18L79.5,444.92L80.0,444.95L80.5,444.89L81.0,444.24L81.5,444.40L82.0,442.86L82.3,442.48L82.5,442.62L83.0,444.40L83.5,443.85L84.0,444.19L84.5,444.51L85.0,444.63L85.5,444.57L86.0,444.59L86.5,443.37L87.0,441.98L87.5,443.37L88.0,444.91L88.5,444.95L89.0,444.90L89.5,444.68L90.0,444.50L90.5,444.41L91.0,444.56L91.5,444.54L92.0,444.48L92.5,444.38L93.0,444.44L93.5,444.86L94.0,444.71L94.5,442.39L95.0,443.17L95.5,444.26L96.0,444.47L96.5,444.59L97.0,444.71L97.5,444.53L98.0,444.47L98.5,444.98L99.0,442.63L99.5,444.93L100.0,444.52L100.5,444.97L101.0,443.71L101.5,436.08L101.8,434.48L102.0,435.07L102.5,442.62L103.0,443.97L103.5,440.51L104.0,438.98L104.5,440.51L105.0,443.97L105.5,443.88L106.0,442.44L106.5,441.98L107.0,442.44L107.5,442.62L107.7,442.48L108.0,442.86L108.5,441.72L109.0,444.98L109.5,444.86L110.0,444.49L110.5,444.81L111.0,444.83L111.5,444.48L112.0,444.21L112.5,443.37L113.0,441.98L113.5,443.37L114.0,443.91L114.5,444.23L115.0,444.62L115.5,443.37L116.0,441.98L116.5,443.37L117.0,442.44L117.3,441.98L117.5,442.15L118.0,444.23L118.5,444.75L119.0,444.93L119.5,444.54L120.0,444.84L120.5,444.98L121.0,444.82L121.5,444.84L122.0,444.85L122.5,444.75L123.0,444.82L123.5,443.37L124.0,441.98L124.5,443.37L125.0,444.21L125.5,444.44L126.0,444.87L126.5,443.37L127.0,441.98L127.5,443.37L128.0,444.51L128.5,444.93L129.0,444.88L129.5,443.37L130.0,441.98L130.5,443.33L131.0,444.82L131.5,444.98L132.0,444.81L132.5,444.94L133.0,444.18L133.5,444.97L134.0,444.97L134.5,444.77L135.0,443.32L135.5,443.82L136.0,444.79L136.5,444.13L137.0,444.39L137.5,444.64L138.0,444.77L138.5,444.96L139.0,444.72L139.5,444.60L140.0,444.88L140.5,444.96L141.0,444.97L141.5,444.88L142.0,444.34L142.5,444.58L143.0,443.63L143.5,444.03L144.0,444.98L144.5,444.86L145.0,444.96L145.5,444.26L146.0,444.88L146.5,444.92L147.0,444.93L147.5,444.96L148.0,444.35L148.5,442.86L149.0,444.45L149.5,444.65L150.0,444.81L150.5,443.64L151.0,442.48L151.5,443.64L152.0,444.46L152.5,444.65L153.0,444.54L153.5,444.64L154.0,444.98L154.5,444.96L155.0,444.74L155.5,443.64L156.0,442.48L156.5,443.64L157.0,444.92L157.5,444.90L158.0,444.97L158.5,443.33L159.0,444.38L159.5,444.98L160.0,444.79L160.5,444.36L161.0,444.94L161.5,444.56L162.0,444.96L162.5,444.84L163.0,444.22L163.5,444.45L164.0,442.50L164.5,443.25L165.0,444.49L165.5,443.75L166.0,444.12L166.5,444.33L167.0,444.77L167.5,444.86L168.0,444.77L168.5,444.60L169.0,444.91L169.5,444.97L170.0,443.38L170.5,443.96L171.0,444.43L171.5,443.91L172.0,442.69L172.5,443.38L173.0,444.93L173.5,444.82L174.0,444.90L174.5,443.74L175.0,444.76L175.5,444.69L176.0,444.98L176.5,444.76L177.0,442.82L177.5,444.51L178.0,444.79L178.5,444.72L179.0,444.63L179.5,444.54L180.0,444.57L180.5,444.64L181.0,444.95L181.5,442.47L182.0,443.22L182.5,443.37L183.0,441.98L183.5,442.76L184.0,444.91L184.5,444.20L185.0,443.93L185.5,444.25L186.0,443.37L186.5,441.98L187.0,443.37L187.5,444.42L188.0,443.37L188.5,441.98L189.0,443.37L189.5,444.83L190.0,444.96L190.5,444.66L191.0,443.15L191.5,443.03L192.0,443.62L192.5,444.85L193.0,444.15L193.5,442.96L194.0,444.33L194.5,444.84L195.0,444.92L195.5,441.60L196.0,442.61L196.5,444.86L197.0,444.80L197.5,444.80L198.0,444.98L198.5,444.75L199.0,444.65L199.5,444.65L200.0,444.49L200.5,444.88L201.0,444.39L201.5,444.07L202.0,444.35L202.5,444.37L203.0,444.98L203.5,444.97L204.0,443.46L204.5,443.91L205.0,444.92L205.5,444.91L206.0,444.51L206.5,444.98L207.0,443.02L207.5,444.96L208.0,444.98L208.5,444.43L209.0,444.98L209.5,441.95L210.0,442.86L210.5,443.75L211.0,444.91L211.5,444.97L212.0,444.80L212.5,444.54L213.0,444.98L213.5,444.37L214.0,444.86L214.5,444.77L215.0,444.82L215.5,444.73L216.0,444.71L216.5,444.86L217.0,444.90L217.5,444.25L218.0,444.60L218.5,444.24L219.0,444.46L219.5,444.76L220.0,444.53L220.5,444.83L221.0,444.63L221.5,444.14L222.0,444.34L222.5,444.93L223.0,444.59L223.5,444.65L224.0,444.79L224.5,444.84L225.0,444.58L225.5,444.97L226.0,442.35L226.5,444.95L227.0,444.81L227.5,444.39L228.0,444.53L228.5,442.33L229.0,443.12L229.5,442.70L230.0,444.38L230.5,444.37L231.0,444.39L231.5,444.98L232.0,444.70L232.5,444.76L233.0,444.98L233.5,444.09L234.0,444.36L234.5,444.95L235.0,444.39L235.5,444.98L236.0,444.65L236.5,444.64L237.0,444.85L237.5,444.93L238.0,444.33L238.5,442.86L238.8,442.48L239.0,441.80L239.5,442.75L240.0,443.71L240.5,443.96L241.0,444.27L241.5,444.57L242.0,442.57L242.5,443.29L243.0,444.97L243.5,444.98L244.0,444.98L244.5,444.42L245.0,444.79L245.5,444.98L246.0,443.02L246.5,443.61L247.0,444.20L247.5,443.47L248.0,435.98L248.5,443.47L249.0,444.75L249.5,444.71L250.0,444.81L250.5,444.35L251.0,444.94L251.5,444.54L252.0,444.93L252.5,444.63L253.0,444.85L253.5,443.53L254.0,443.08L254.5,443.65L255.0,444.94L255.5,444.92L256.0,444.90L256.5,444.18L257.0,444.42L257.5,444.66L257.5,444.98Z" fill="#222a80"/>
<text x="38.5" y="453.22" font-size="4.9" text-anchor="end" font-weight="bold" fill="#1a1a1a" textLength="10.13" lengthAdjust="spacingAndGlyphs" stroke="#1a1a1a" stroke-width="0.12">PU.1</text>
<path d="M42,457.42H257.5" stroke="#aab0c8" stroke-width="0.5"/>
<path d="M42.0,457.72L42.0,457.68L42.5,457.66L43.0,457.59L43.5,457.45L44.0,457.53L44.5,457.46L45.0,457.57L45.5,457.72L46.0,457.45L46.5,457.42L47.0,457.51L47.5,457.57L48.0,457.65L48.5,457.62L49.0,457.53L49.5,457.14L50.0,457.32L50.5,457.45L51.0,457.52L51.5,457.69L52.0,457.56L52.5,457.50L53.0,457.72L53.5,457.66L54.0,457.70L54.5,457.30L55.0,457.60L55.5,457.65L56.0,457.62L56.5,457.71L57.0,457.48L57.5,457.71L58.0,457.02L58.5,457.23L59.0,457.44L59.5,457.59L60.0,457.50L60.5,457.54L61.0,457.35L61.5,457.46L62.0,457.49L62.5,457.32L63.0,457.44L63.5,457.56L64.0,457.72L64.5,457.53L65.0,457.68L65.5,457.72L66.0,457.47L66.5,457.59L67.0,457.51L67.5,457.68L68.0,457.62L68.5,457.72L69.0,457.67L69.5,457.64L70.0,456.74L70.5,456.45L70.8,456.22L71.0,456.30L71.5,457.38L72.0,457.51L72.5,457.69L73.0,456.46L73.5,456.84L74.0,457.22L74.5,457.53L75.0,457.71L75.5,457.70L76.0,457.67L76.5,457.71L77.0,457.68L77.5,457.09L78.0,457.72L78.5,457.58L79.0,457.72L79.5,457.71L80.0,457.51L80.5,457.72L81.0,457.57L81.5,457.55L82.0,457.41L82.5,457.47L83.0,457.71L83.5,457.72L84.0,457.54L84.5,457.64L85.0,457.21L85.5,456.92L86.0,456.22L86.5,456.66L87.0,456.98L87.5,457.13L88.0,457.31L88.5,457.72L89.0,457.53L89.5,457.58L90.0,457.16L90.5,457.72L91.0,457.72L91.5,456.22L92.0,456.67L92.5,457.59L93.0,457.64L93.5,457.53L94.0,457.57L94.5,457.69L95.0,457.60L95.5,457.72L96.0,457.71L96.5,457.72L97.0,457.20L97.5,457.69L98.0,457.70L98.5,457.61L99.0,457.55L99.5,457.49L100.0,457.72L100.5,457.67L101.0,457.51L101.5,452.89L102.0,448.72L102.5,452.89L103.0,457.51L103.5,457.24L104.0,453.77L104.5,451.72L105.0,453.77L105.5,457.24L106.0,457.69L106.5,457.69L107.0,457.60L107.5,457.58L108.0,456.69L108.5,457.68L109.0,457.48L109.5,457.45L110.0,457.66L110.5,457.12L111.0,457.30L111.5,457.48L112.0,457.59L112.5,457.72L113.0,456.31L113.5,456.73L114.0,457.72L114.5,457.51L115.0,457.62L115.5,456.72L116.0,457.02L116.5,457.32L117.0,456.63L117.5,456.96L118.0,457.29L118.5,457.65L119.0,457.65L119.5,457.68L120.0,457.71L120.5,457.72L121.0,457.56L121.5,457.51L122.0,457.64L122.5,457.72L123.0,457.69L123.5,457.58L124.0,457.69L124.5,456.71L125.0,451.72L125.5,456.38L126.0,457.67L126.5,457.70L127.0,457.64L127.5,456.23L128.0,456.68L128.5,457.49L129.0,457.47L129.5,457.05L130.0,457.25L130.5,457.66L131.0,457.71L131.5,457.28L132.0,457.34L132.5,456.69L133.0,457.00L133.5,457.69L134.0,457.64L134.5,457.56L135.0,457.61L135.5,456.43L136.0,456.82L136.5,457.21L137.0,457.49L137.5,457.34L138.0,457.45L138.5,457.68L139.0,457.67L139.5,457.69L140.0,457.71L140.5,457.72L141.0,457.72L141.5,457.70L142.0,457.34L142.5,457.69L143.0,457.48L143.5,456.58L144.0,457.65L144.5,457.71L145.0,457.72L145.5,456.70L146.0,457.53L146.5,457.71L147.0,457.72L147.5,457.64L148.0,457.68L148.5,457.52L149.0,457.67L149.5,457.29L150.0,457.60L150.5,457.62L151.0,457.70L151.5,457.64L152.0,457.72L152.5,457.68L153.0,457.72L153.5,457.67L154.0,457.67L154.5,456.29L155.0,456.72L155.5,457.65L156.0,457.65L156.5,457.64L157.0,456.99L157.5,457.21L158.0,457.72L158.5,457.72L159.0,457.50L159.5,457.71L160.0,457.03L160.5,457.23L161.0,457.44L161.5,457.33L162.0,457.16L162.5,455.36L162.7,455.22L163.0,455.60L163.5,457.42L164.0,457.60L164.5,457.65L165.0,456.26L165.5,456.70L166.0,457.49L166.5,457.70L167.0,457.59L167.5,457.68L168.0,457.71L168.5,457.68L169.0,457.58L169.5,457.71L170.0,457.60L170.5,457.63L171.0,457.72L171.5,457.54L172.0,451.02L172.3,448.22L172.5,449.31L173.0,457.17L173.5,457.33L174.0,457.64L174.5,456.28L175.0,456.71L175.5,457.14L176.0,456.65L176.5,455.72L177.0,456.65L177.5,457.66L178.0,457.59L178.5,457.62L179.0,457.68L179.5,457.46L180.0,457.45L180.5,456.77L181.0,457.06L181.5,457.57L182.0,457.69L182.5,456.25L183.0,457.61L183.5,457.70L184.0,457.66L184.5,457.39L185.0,457.49L185.5,457.63L186.0,457.72L186.5,457.67L187.0,456.43L187.5,456.82L188.0,457.71L188.5,457.52L189.0,457.46L189.5,457.56L190.0,457.69L190.5,457.72L191.0,457.57L191.5,457.71L192.0,457.47L192.5,457.65L193.0,456.67L193.5,456.98L194.0,457.49L194.5,457.70L195.0,457.71L195.5,457.52L196.0,457.64L196.5,457.55L197.0,457.53L197.5,457.66L198.0,457.36L198.5,457.47L199.0,457.58L199.5,456.49L200.0,456.86L200.5,457.23L201.0,456.93L201.5,457.16L202.0,457.59L202.5,457.71L203.0,457.69L203.5,457.49L204.0,457.62L204.5,457.27L205.0,457.72L205.5,457.72L206.0,457.67L206.5,457.51L207.0,457.47L207.5,457.41L208.0,457.50L208.5,457.62L209.0,457.72L209.5,457.64L210.0,457.55L210.5,457.70L211.0,457.61L211.5,457.47L212.0,457.72L212.5,457.45L213.0,457.47L213.5,457.71L214.0,457.47L214.5,457.58L215.0,457.72L215.5,457.67L216.0,457.53L216.5,457.70L217.0,457.65L217.5,457.71L218.0,457.51L218.5,457.49L219.0,457.65L219.5,457.38L220.0,457.48L220.5,457.49L221.0,457.59L221.5,457.54L222.0,457.71L222.5,457.46L223.0,457.72L223.5,457.54L224.0,457.66L224.5,456.76L225.0,457.58L225.5,457.59L226.0,457.71L226.5,457.54L227.0,457.56L227.5,456.28L228.0,457.61L228.5,457.60L229.0,456.49L229.5,456.86L230.0,457.46L230.5,457.07L231.0,456.88L231.5,457.13L232.0,457.50L232.5,457.70L233.0,457.41L233.5,457.51L234.0,457.60L234.5,457.69L235.0,457.23L235.5,457.37L236.0,457.72L236.5,457.71L237.0,457.72L237.5,457.72L238.0,457.46L238.5,457.58L239.0,457.72L239.5,457.68L240.0,457.58L240.5,457.71L241.0,457.56L241.5,457.72L242.0,457.45L242.5,457.63L243.0,457.48L243.5,457.72L244.0,457.54L244.5,457.58L245.0,457.52L245.5,457.49L246.0,457.67L246.5,457.46L247.0,457.64L247.5,457.52L248.0,457.71L248.5,457.72L249.0,457.71L249.5,457.46L250.0,457.55L250.5,457.42L251.0,457.51L251.5,457.71L252.0,457.72L252.5,457.68L253.0,457.72L253.5,457.69L254.0,457.45L254.5,457.61L255.0,457.65L255.5,457.47L256.0,457.58L256.5,457.00L257.0,457.72L257.5,457.57L257.5,457.72Z" fill="#222a80"/>
<text x="38.5" y="465.96" font-size="4.9" text-anchor="end" font-weight="bold" fill="#1a1a1a" textLength="9.37" lengthAdjust="spacingAndGlyphs" stroke="#1a1a1a" stroke-width="0.12">FLI1</text>
<path d="M42,470.16H257.5" stroke="#aab0c8" stroke-width="0.5"/>
<path d="M42.0,470.46L42.0,470.45L42.5,470.29L43.0,470.41L43.5,470.44L44.0,470.38L44.5,470.04L45.0,469.71L45.5,470.29L46.0,470.04L46.5,470.24L47.0,470.45L47.5,470.36L48.0,470.32L48.5,470.23L49.0,470.31L49.5,469.09L50.0,470.34L50.5,468.67L51.0,470.41L51.5,470.30L52.0,466.78L52.3,460.46L52.5,463.40L53.0,470.44L53.5,470.40L54.0,470.22L54.5,470.41L55.0,470.18L55.5,470.41L56.0,470.45L56.5,470.46L57.0,470.21L57.5,470.40L58.0,470.41L58.5,470.10L59.0,470.44L59.5,469.67L60.0,469.91L60.5,468.94L61.0,470.15L61.5,469.62L62.0,469.87L62.5,470.31L63.0,470.34L63.5,470.41L64.0,470.08L64.5,470.44L65.0,470.40L65.5,470.18L66.0,470.09L66.5,469.09L67.0,470.26L67.5,470.27L68.0,470.28L68.5,466.17L69.0,462.46L69.5,466.17L70.0,468.96L70.5,466.70L71.0,463.46L71.5,466.70L72.0,470.30L72.5,468.91L73.0,470.08L73.5,470.38L74.0,470.39L74.5,470.19L75.0,470.40L75.5,469.31L76.0,465.90L76.2,465.46L76.5,466.62L77.0,470.29L77.5,469.92L78.0,470.46L78.5,469.41L79.0,469.72L79.5,470.04L80.0,470.14L80.5,468.76L80.8,468.46L81.0,468.57L81.5,470.01L82.0,470.45L82.5,470.26L83.0,470.44L83.5,470.36L84.0,470.40L84.5,470.42L85.0,470.09L85.5,470.45L86.0,470.02L86.5,470.15L87.0,470.28L87.5,470.40L88.0,470.33L88.5,470.42L89.0,468.75L89.5,469.26L90.0,470.04L90.5,470.17L91.0,470.35L91.5,470.38L92.0,470.38L92.5,470.31L93.0,470.46L93.5,470.38L94.0,470.38L94.5,470.29L95.0,468.34L95.4,467.46L95.5,467.49L96.0,469.36L96.5,470.42L97.0,470.44L97.5,470.43L98.0,470.23L98.5,470.15L99.0,470.17L99.5,470.44L100.0,470.34L100.5,470.45L101.0,469.84L101.5,467.78L102.0,465.46L102.5,467.78L103.0,469.69L103.5,470.46L104.0,470.46L104.5,470.33L105.0,470.43L105.5,470.40L106.0,470.40L106.5,470.15L107.0,469.96L107.5,470.11L108.0,470.43L108.5,470.20L109.0,470.33L109.5,470.36L110.0,469.17L110.5,469.56L111.0,470.46L111.5,470.39L112.0,470.37L112.5,470.45L113.0,470.44L113.5,468.62L114.0,465.46L114.5,468.62L115.0,470.39L115.5,470.42L116.0,470.03L116.5,468.62L117.0,465.46L117.5,468.62L118.0,470.13L118.5,470.35L119.0,470.46L119.5,470.46L120.0,470.14L120.5,470.21L121.0,470.31L121.5,470.44L122.0,470.34L122.5,470.46L123.0,470.36L123.5,469.73L124.0,463.17L124.2,462.46L124.5,464.32L125.0,470.19L125.5,470.46L126.0,470.31L126.5,470.03L127.0,470.16L127.5,470.15L128.0,470.43L128.5,470.32L129.0,469.36L129.5,467.49L129.6,467.46L130.0,468.34L130.5,470.29L131.0,470.27L131.5,470.42L132.0,470.38L132.5,470.15L133.0,470.02L133.5,470.46L134.0,470.11L134.5,468.56L135.0,469.13L135.5,469.70L136.0,470.32L136.5,470.28L137.0,470.41L137.5,470.32L138.0,469.16L138.5,470.46L139.0,470.26L139.5,470.15L140.0,469.14L140.5,468.85L141.0,467.46L141.5,468.85L142.0,469.79L142.5,467.63L142.7,467.46L143.0,467.92L143.5,470.10L144.0,470.46L144.5,469.13L145.0,470.31L145.5,470.38L146.0,470.39L146.5,470.46L147.0,469.83L147.5,470.02L148.0,470.21L148.5,469.94L149.0,470.09L149.5,468.98L150.0,469.43L150.5,470.42L151.0,470.45L151.5,470.29L152.0,468.91L152.5,470.39L153.0,470.09L153.5,470.36L154.0,470.19L154.5,469.55L155.0,469.82L155.5,470.35L156.0,470.40L156.5,469.72L157.0,469.94L157.5,468.07L158.0,463.96L158.5,468.07L159.0,469.00L159.5,469.44L160.0,469.87L160.5,470.12L161.0,470.46L161.5,470.40L162.0,470.22L162.5,470.46L163.0,470.39L163.5,470.45L164.0,468.81L164.5,469.31L165.0,470.39L165.5,470.44L166.0,470.36L166.5,470.20L167.0,470.44L167.5,470.34L168.0,470.41L168.5,470.45L169.0,470.15L169.5,470.00L170.0,470.13L170.5,470.13L171.0,470.19L171.5,470.35L172.0,467.52L172.5,462.46L173.0,467.52L173.5,468.89L174.0,469.36L174.5,470.46L175.0,470.30L175.5,470.37L176.0,470.44L176.5,470.16L177.0,470.46L177.5,470.46L178.0,470.29L178.5,470.45L179.0,470.38L179.5,470.43L180.0,470.32L180.5,470.36L181.0,470.46L181.5,470.22L182.0,470.45L182.5,470.32L183.0,470.23L183.5,470.46L184.0,470.10L184.5,470.43L185.0,470.21L185.5,470.04L186.0,470.17L186.5,470.17L187.0,470.31L187.5,470.31L188.0,469.17L188.5,470.46L189.0,470.46L189.5,470.03L190.0,468.42L190.5,470.45L191.0,469.49L191.5,470.40L192.0,470.25L192.5,470.46L193.0,468.96L193.5,469.39L194.0,468.46L194.5,468.39L195.0,470.40L195.5,470.41L196.0,470.46L196.5,469.73L197.0,469.95L197.5,470.46L198.0,470.40L198.5,470.15L199.0,470.19L199.5,468.78L200.0,469.28L200.5,470.22L201.0,469.84L201.5,470.45L202.0,470.44L202.5,470.34L203.0,470.29L203.5,470.45L204.0,469.16L204.5,469.55L205.0,470.35L205.5,469.96L206.0,470.11L206.5,470.26L207.0,470.41L207.5,470.24L208.0,470.16L208.5,470.44L209.0,469.36L209.5,467.49L209.6,467.46L210.0,468.34L210.5,470.26L211.0,470.36L211.5,470.35L212.0,469.17L212.5,469.56L213.0,469.94L213.5,468.47L214.0,469.07L214.5,470.12L215.0,470.33L215.5,470.23L216.0,470.36L216.5,470.23L217.0,470.19L217.5,470.28L218.0,470.22L218.5,470.19L219.0,470.42L219.5,470.28L220.0,469.78L220.5,468.47L221.0,470.37L221.5,470.41L222.0,470.44L222.5,470.10L223.0,470.39L223.5,469.56L224.0,470.45L224.5,470.45L225.0,470.09L225.5,470.33L226.0,470.46L226.5,470.32L227.0,470.24L227.5,470.03L228.0,470.16L228.5,470.36L229.0,470.36L229.5,470.22L230.0,470.43L230.5,469.29L231.0,469.64L231.5,469.97L232.0,469.55L232.5,470.33L233.0,470.39L233.5,470.40L234.0,470.37L234.5,470.38L235.0,470.45L235.5,470.46L236.0,470.01L236.5,470.10L237.0,469.72L237.5,469.94L238.0,470.46L238.5,470.34L239.0,470.46L239.5,470.39L240.0,470.45L240.5,470.36L241.0,470.45L241.5,469.54L242.0,469.81L242.5,470.11L243.0,468.85L243.5,470.26L244.0,470.09L244.5,470.08L245.0,470.44L245.5,470.20L246.0,468.62L246.5,465.46L247.0,468.62L247.5,470.40L248.0,470.46L248.5,468.89L249.0,470.17L249.5,470.19L250.0,466.46L250.4,463.46L250.5,463.57L251.0,469.06L251.5,470.44L252.0,469.17L252.5,470.25L253.0,470.26L253.5,470.11L254.0,470.19L254.5,470.31L255.0,470.44L255.5,470.24L256.0,470.39L256.5,469.60L257.0,469.86L257.5,470.40L257.5,470.46Z" fill="#222a80"/>
<text x="38.5" y="478.70" font-size="4.9" text-anchor="end" font-weight="bold" fill="#1a1a1a" textLength="9.88" lengthAdjust="spacingAndGlyphs" stroke="#1a1a1a" stroke-width="0.12">ERG</text>
<path d="M42,482.90H257.5" stroke="#aab0c8" stroke-width="0.5"/>
<path d="M42.0,483.20L42.0,482.45L42.5,483.20L43.0,482.99L43.5,482.88L44.0,483.07L44.5,483.06L45.0,483.03L45.5,482.89L46.0,483.20L46.5,481.88L47.0,482.87L47.5,483.10L48.0,483.16L48.5,482.88L49.0,483.20L49.5,483.02L50.0,483.02L50.5,483.06L51.0,483.07L51.5,483.15L52.0,483.13L52.5,482.89L53.0,482.80L53.5,483.18L54.0,483.15L54.5,483.11L55.0,483.19L55.5,482.93L56.0,481.61L56.5,482.09L57.0,482.89L57.5,483.19L58.0,483.13L58.5,483.07L59.0,482.04L59.5,481.75L60.0,483.08L60.5,483.00L61.0,482.49L61.5,482.70L62.0,483.19L62.5,482.72L63.0,482.86L63.5,483.01L64.0,483.05L64.5,482.75L65.0,483.14L65.5,483.18L66.0,483.19L66.5,482.93L67.0,483.10L67.5,483.20L68.0,483.11L68.5,481.05L69.0,479.20L69.5,481.05L70.0,482.55L70.5,479.81L70.8,479.20L71.0,479.42L71.5,482.30L72.0,483.15L72.5,483.15L73.0,483.02L73.5,483.18L74.0,482.96L74.5,483.09L75.0,483.03L75.5,483.18L76.0,483.15L76.5,482.13L77.0,481.20L77.5,482.13L78.0,483.01L78.5,482.84L79.0,483.19L79.5,482.99L80.0,483.05L80.5,482.63L81.0,482.80L81.5,483.14L82.0,483.07L82.5,483.18L83.0,482.66L83.5,482.82L84.0,483.07L84.5,483.01L85.0,483.16L85.5,483.10L86.0,480.99L86.5,477.20L87.0,480.99L87.5,483.09L88.0,483.20L88.5,483.19L89.0,483.12L89.5,483.02L90.0,482.82L90.5,482.93L91.0,483.12L91.5,483.18L92.0,482.59L92.5,482.77L93.0,483.04L93.5,483.17L94.0,483.08L94.5,482.87L95.0,483.10L95.5,483.16L96.0,483.19L96.5,482.90L97.0,481.69L97.5,482.14L98.0,483.20L98.5,482.93L99.0,483.04L99.5,483.12L100.0,483.00L100.5,483.17L101.0,482.97L101.5,477.83L102.0,473.20L102.5,477.83L103.0,482.03L103.5,477.99L104.0,476.20L104.5,477.99L105.0,482.03L105.5,482.99L106.0,483.20L106.5,481.98L107.0,482.99L107.5,483.20L108.0,483.20L108.5,482.80L109.0,482.93L109.5,483.17L110.0,483.04L110.5,483.19L111.0,483.20L111.5,483.17L112.0,483.07L112.5,483.20L113.0,482.96L113.5,483.18L114.0,483.11L114.5,482.98L115.0,483.05L115.5,482.95L116.0,483.14L116.5,483.19L117.0,482.84L117.5,482.95L118.0,483.20L118.5,483.19L119.0,483.19L119.5,483.20L120.0,482.93L120.5,483.11L121.0,483.08L121.5,483.19L122.0,482.95L122.5,483.00L123.0,483.18L123.5,482.81L124.0,482.94L124.5,481.59L125.0,480.20L125.5,481.59L126.0,483.01L126.5,483.12L127.0,482.73L127.5,481.59L128.0,480.20L128.5,481.59L129.0,482.89L129.5,482.91L130.0,483.18L130.5,482.50L131.0,482.71L131.5,482.88L132.0,483.20L132.5,482.90L133.0,483.04L133.5,483.20L134.0,483.09L134.5,482.79L135.0,482.91L135.5,483.20L136.0,483.00L136.5,482.50L137.0,482.71L137.5,482.97L138.0,482.84L138.5,483.10L139.0,483.11L139.5,482.15L140.0,482.95L140.5,483.09L141.0,483.10L141.5,483.15L142.0,483.15L142.5,483.09L143.0,483.07L143.5,483.20L144.0,483.01L144.5,483.19L145.0,482.55L145.5,482.75L146.0,482.89L146.5,483.02L147.0,481.86L147.5,482.90L148.0,483.13L148.5,482.48L149.0,482.99L149.5,483.18L150.0,483.19L150.5,483.05L151.0,482.72L151.5,483.10L152.0,483.08L152.5,482.99L153.0,483.00L153.5,483.17L154.0,483.03L154.5,481.85L155.0,482.25L155.5,482.97L156.0,483.15L156.5,483.17L157.0,483.15L157.5,482.13L158.0,481.20L158.5,482.13L159.0,482.91L159.5,482.44L160.0,482.67L160.5,482.90L161.0,482.79L161.5,482.92L162.0,482.78L162.5,482.88L163.0,483.18L163.5,482.92L164.0,482.88L164.5,482.81L165.0,483.10L165.5,482.95L166.0,483.15L166.5,481.64L167.0,483.19L167.5,483.19L168.0,483.20L168.5,482.87L169.0,482.95L169.5,483.03L170.0,483.10L170.5,483.16L171.0,483.07L171.5,483.09L172.0,482.56L172.5,475.23L172.7,474.20L173.0,476.85L173.5,482.57L174.0,483.10L174.5,483.18L175.0,483.00L175.5,483.19L176.0,482.96L176.5,483.20L177.0,482.96L177.5,483.10L178.0,482.83L178.5,482.93L179.0,482.99L179.5,483.07L180.0,483.19L180.5,483.20L181.0,483.08L181.5,483.15L182.0,482.82L182.5,482.93L183.0,483.03L183.5,483.09L184.0,483.19L184.5,482.53L185.0,483.15L185.5,483.15L186.0,482.80L186.5,482.92L187.0,482.98L187.5,482.13L188.0,482.45L188.5,482.77L189.0,483.18L189.5,483.08L190.0,483.13L190.5,482.46L191.0,482.69L191.5,482.82L192.0,483.06L192.5,483.20L193.0,481.83L193.5,483.16L194.0,483.07L194.5,482.89L195.0,483.06L195.5,483.19L196.0,483.07L196.5,483.15L197.0,483.00L197.5,483.16L198.0,483.20L198.5,483.01L199.0,482.91L199.5,482.77L200.0,482.90L200.5,482.96L201.0,482.53L201.5,482.09L202.0,482.44L202.5,482.66L203.0,482.89L203.5,483.20L204.0,483.06L204.5,483.13L205.0,483.20L205.5,483.15L206.0,483.19L206.5,483.16L207.0,483.20L207.5,483.00L208.0,482.23L208.5,482.52L209.0,483.16L209.5,483.12L210.0,483.20L210.5,483.11L211.0,482.97L211.5,483.19L212.0,483.07L212.5,483.19L213.0,483.04L213.5,482.99L214.0,483.19L214.5,482.49L215.0,482.70L215.5,483.18L216.0,482.84L216.5,483.19L217.0,483.08L217.5,482.83L218.0,483.08L218.5,482.92L219.0,483.19L219.5,482.65L220.0,483.07L220.5,482.92L221.0,482.90L221.5,483.18L222.0,482.90L222.5,482.49L223.0,482.70L223.5,483.16L224.0,482.44L224.5,482.67L225.0,482.88L225.5,481.59L226.0,483.15L226.5,482.27L227.0,482.55L227.5,482.94L228.0,483.18L228.5,483.20L229.0,483.10L229.5,483.14L230.0,482.67L230.5,483.19L231.0,483.02L231.5,481.50L232.0,482.01L232.5,483.16L233.0,482.92L233.5,482.62L234.0,482.95L234.5,481.88L235.0,482.46L235.5,483.15L236.0,483.20L236.5,483.20L237.0,483.20L237.5,482.88L238.0,483.04L238.5,483.13L239.0,482.80L239.5,483.11L240.0,483.00L240.5,483.20L241.0,482.99L241.5,482.25L242.0,482.53L242.5,483.13L243.0,483.07L243.5,483.16L244.0,483.08L244.5,482.70L245.0,482.85L245.5,483.20L246.0,481.60L246.5,483.14L247.0,483.00L247.5,481.36L248.0,478.20L248.5,481.36L249.0,483.15L249.5,481.68L250.0,482.14L250.5,483.20L251.0,483.06L251.5,483.19L252.0,483.17L252.5,483.07L253.0,483.16L253.5,483.20L254.0,483.19L254.5,483.18L255.0,483.19L255.5,482.16L256.0,482.47L256.5,483.05L257.0,482.91L257.5,482.31L257.5,483.20Z" fill="#222a80"/>
<text x="38.5" y="488.2" font-size="5.2" text-anchor="end" font-weight="normal" fill="#1f4524" textLength="20.1" lengthAdjust="spacingAndGlyphs" stroke="#1f4524" stroke-width="0.12">Elements</text>
<text x="38.5" y="494.5" font-size="5.2" text-anchor="end" font-weight="normal" fill="#cf9f2e" textLength="20" lengthAdjust="spacingAndGlyphs" stroke="#cf9f2e" stroke-width="0.12">Promoter</text>
<text x="38.5" y="499.8" font-size="5.2" text-anchor="end" font-weight="normal" fill="#cf9f2e" textLength="22" lengthAdjust="spacingAndGlyphs" stroke="#cf9f2e" stroke-width="0.12">fragments</text>
<text x="38.5" y="505.2" font-size="5.2" text-anchor="end" font-weight="bold" fill="#111" textLength="30.3" lengthAdjust="spacingAndGlyphs" stroke="#111" stroke-width="0.12">RefSeq genes</text>
<text x="38.5" y="510.7" font-size="5.2" text-anchor="end" font-weight="normal" fill="#48596a" textLength="38.5" lengthAdjust="spacingAndGlyphs" stroke="#48596a" stroke-width="0.12">HindIII restriction</text>
<text x="38.5" y="516" font-size="5.2" text-anchor="end" font-weight="normal" fill="#48596a" textLength="22.6" lengthAdjust="spacingAndGlyphs" stroke="#48596a" stroke-width="0.12">fragments</text>
<text x="38.5" y="521.4" font-size="5.2" text-anchor="end" font-weight="normal" fill="#45458a" textLength="26.5" lengthAdjust="spacingAndGlyphs" stroke="#45458a" stroke-width="0.12">Interactions</text>
<rect x="68.4" y="483.3" width="2.60" height="6" fill="#1f4a22"/>
<rect x="100.2" y="483.3" width="5.00" height="6" fill="#1f4a22"/>
<rect x="123.4" y="483.3" width="1.50" height="6" fill="#1f4a22"/>
<rect x="171.3" y="483.3" width="1.40" height="6" fill="#1f4a22"/>
<rect x="247.9" y="483.3" width="2.70" height="6" fill="#1f4a22"/>
<text x="49.8" y="488.2" font-size="4.6" text-anchor="start" font-weight="normal" fill="#1c2e1c" textLength="16.8" lengthAdjust="spacingAndGlyphs" stroke="#1c2e1c" stroke-width="0.1">Scl -15 Kb</text>
<text x="73.6" y="488.2" font-size="4.6" text-anchor="start" font-weight="normal" fill="#1c2e1c" textLength="26.4" lengthAdjust="spacingAndGlyphs" stroke="#1c2e1c" stroke-width="0.1">Scl -7 Kb/Prom</text>
<text x="126" y="488.2" font-size="4.6" text-anchor="start" font-weight="normal" fill="#1c2e1c" textLength="23.2" lengthAdjust="spacingAndGlyphs" stroke="#1c2e1c" stroke-width="0.1">Scl Promoter</text>
<text x="175.2" y="488.2" font-size="4.6" text-anchor="start" font-weight="normal" fill="#1c2e1c" textLength="18" lengthAdjust="spacingAndGlyphs" stroke="#1c2e1c" stroke-width="0.1">Scl +19 Kb</text>
<text x="227.4" y="488.2" font-size="4.6" text-anchor="start" font-weight="normal" fill="#1c2e1c" textLength="18.6" lengthAdjust="spacingAndGlyphs" stroke="#1c2e1c" stroke-width="0.1">Scl +40 Kb</text>
<rect x="99.9" y="495" width="49.1" height="2.6" fill="#d19a2a"/>
<rect x="205.3" y="494.6" width="24" height="2.6" fill="#d19a2a"/>
<path d="M43,502.6H51.6" stroke="#1e2a78" stroke-width="0.7"/><rect x="44.5" y="501.4" width="6" height="2.4" fill="#1e2a78"/><path d="M41.7,502.6l2,-1.2v2.4z" fill="#1e2a78"/>
<text x="52.7" y="504.6" font-size="5.8" text-anchor="start" font-weight="normal" fill="#1e2a78" textLength="7.4" lengthAdjust="spacingAndGlyphs" stroke="#1e2a78" stroke-width="0.12">Stil</text>
<text x="103.5" y="504.8" font-size="5.8" text-anchor="start" font-weight="normal" fill="#1e2a78" textLength="6.3" lengthAdjust="spacingAndGlyphs" stroke="#1e2a78" stroke-width="0.12">Scl</text>
<path d="M112,502.6H158.5" stroke="#1e2a78" stroke-width="0.7"/><rect x="125.6" y="501.2" width="1.4" height="2.8" fill="#1e2a78"/><rect x="131" y="501.6" width="0.9" height="2" fill="#1e2a78"/><rect x="145.8" y="501.5" width="12.7" height="2.2" fill="#1e2a78"/>
<path d="M116,501.8l1,0.8l-1,0.8" fill="none" stroke="#1e2a78" stroke-width="0.3"/>
<path d="M121,501.8l1,0.8l-1,0.8" fill="none" stroke="#1e2a78" stroke-width="0.3"/>
<path d="M126,501.8l1,0.8l-1,0.8" fill="none" stroke="#1e2a78" stroke-width="0.3"/>
<path d="M131,501.8l1,0.8l-1,0.8" fill="none" stroke="#1e2a78" stroke-width="0.3"/>
<path d="M136,501.8l1,0.8l-1,0.8" fill="none" stroke="#1e2a78" stroke-width="0.3"/>
<path d="M141,501.8l1,0.8l-1,0.8" fill="none" stroke="#1e2a78" stroke-width="0.3"/>
<path d="M146,501.8l1,0.8l-1,0.8" fill="none" stroke="#1e2a78" stroke-width="0.3"/>
<path d="M151,501.8l1,0.8l-1,0.8" fill="none" stroke="#1e2a78" stroke-width="0.3"/>
<text x="197.8" y="504.8" font-size="5.8" text-anchor="start" font-weight="normal" fill="#1e2a78" textLength="22.2" lengthAdjust="spacingAndGlyphs" stroke="#1e2a78" stroke-width="0.12">Pdzk1ip1</text>
<path d="M220.8,502.6H240.4" stroke="#1e2a78" stroke-width="0.7"/><rect x="220.8" y="501.3" width="1.6" height="2.6" fill="#1e2a78"/><rect x="238" y="501.3" width="2.4" height="2.6" fill="#1e2a78"/>
<path d="M41.2,512.8H51M51.5,510.9H61.2M62.2,512.8H63.7M64.3,510.9H77.7M78,512.8H82.3M82.7,510.9H99.7M100.3,512.8H148.7M148.9,510.9H149.8M150.4,512.8H154.4M155,510.9H163.7M164.2,512.8H172.9M173.5,510.9H181.5M182.7,512.8H195.4M196,510.9H204.5M205.2,512.8H228.9M229.3,510.9H230M230.6,512.8H233.8M235,510.9H238.8M239.4,512.8H249.8M250.1,510.9H251.2M251.9,512.8H253.8M255,510.9H256.9" fill="none" stroke="#74907a" stroke-width="1.3"/>
<text x="256.5" y="520.2" font-size="3.5" text-anchor="start" font-weight="normal" fill="#888" stroke="#888" stroke-width="0.12">Hi</text>
<rect x="205.2" y="516.43" width="23.9" height="35.55" fill="#ddd7f0"/>
<rect x="205.20" y="516.90" width="23.90" height="3.0" fill="#9385c0"/>
<rect x="205.20" y="520.85" width="23.90" height="3.0" fill="#aba0d2"/>
<rect x="205.20" y="524.80" width="23.90" height="3.0" fill="#b9b2d6"/>
<rect x="205.20" y="528.75" width="23.90" height="3.0" fill="#9385c0"/>
<rect x="205.20" y="532.70" width="23.90" height="3.0" fill="#aba0d2"/>
<rect x="205.20" y="536.65" width="23.90" height="3.0" fill="#b9b2d6"/>
<rect x="205.20" y="540.60" width="23.90" height="3.0" fill="#b9b2d6"/>
<rect x="205.20" y="544.55" width="23.90" height="3.0" fill="#aba0d2"/>
<rect x="205.20" y="548.50" width="23.90" height="3.0" fill="#9385c0"/>
<rect x="100.3" y="536.18" width="48.7" height="47.40" fill="#ddd7f0"/>
<rect x="100.30" y="536.65" width="48.70" height="3.0" fill="#b9b2d6"/>
<rect x="100.30" y="540.60" width="48.70" height="3.0" fill="#aba0d2"/>
<rect x="100.30" y="544.55" width="48.70" height="3.0" fill="#4e3f8a"/>
<rect x="100.30" y="548.50" width="48.70" height="3.0" fill="#9385c0"/>
<rect x="100.30" y="552.45" width="48.70" height="3.0" fill="#7363a6"/>
<rect x="100.30" y="556.40" width="48.70" height="3.0" fill="#9385c0"/>
<rect x="100.30" y="560.35" width="48.70" height="3.0" fill="#4e3f8a"/>
<rect x="100.30" y="564.30" width="48.70" height="3.0" fill="#aba0d2"/>
<rect x="100.30" y="568.25" width="48.70" height="3.0" fill="#9385c0"/>
<rect x="100.30" y="572.20" width="48.70" height="3.0" fill="#aba0d2"/>
<rect x="100.30" y="576.15" width="48.70" height="3.0" fill="#b9b2d6"/>
<rect x="100.30" y="580.10" width="48.70" height="3.0" fill="#b9b2d6"/>
<rect x="41.70" y="517.00" width="9.30" height="2.8" fill="#9385c0"/>
<rect x="51.00" y="517.95" width="154.20" height="0.9" fill="#9d92c6"/>
<rect x="51.60" y="520.95" width="9.60" height="2.8" fill="#aba0d2"/>
<rect x="61.20" y="521.90" width="144.00" height="0.9" fill="#9d92c6"/>
<rect x="62.20" y="524.90" width="1.50" height="2.8" fill="#aba0d2"/>
<rect x="63.70" y="525.85" width="141.50" height="0.9" fill="#9d92c6"/>
<rect x="64.30" y="528.85" width="13.40" height="2.8" fill="#7363a6"/>
<rect x="77.70" y="529.80" width="127.50" height="0.9" fill="#9385c0"/>
<rect x="83.40" y="532.80" width="16.30" height="2.8" fill="#aba0d2"/>
<rect x="99.70" y="533.75" width="105.50" height="0.9" fill="#9d92c6"/>
<rect x="41.70" y="536.75" width="9.30" height="2.8" fill="#b9b2d6"/>
<rect x="51.00" y="537.75" width="49.30" height="0.8" fill="#aba0d2"/>
<rect x="51.60" y="540.70" width="9.60" height="2.8" fill="#aba0d2"/>
<rect x="61.20" y="541.70" width="39.10" height="0.8" fill="#aba0d2"/>
<rect x="64.30" y="544.65" width="13.40" height="2.8" fill="#4e3f8a"/>
<rect x="77.70" y="545.35" width="22.60" height="1.4" fill="#4e3f8a"/>
<rect x="78.00" y="548.60" width="4.30" height="2.8" fill="#9385c0"/>
<rect x="82.30" y="549.60" width="18.00" height="0.8" fill="#9385c0"/>
<rect x="182.60" y="536.75" width="13.30" height="2.8" fill="#aba0d2"/>
<rect x="195.90" y="537.75" width="9.30" height="0.8" fill="#aba0d2"/>
<rect x="173.80" y="540.70" width="7.00" height="2.8" fill="#aba0d2"/>
<rect x="180.80" y="541.70" width="24.40" height="0.8" fill="#aba0d2"/>
<rect x="164.50" y="544.65" width="9.30" height="2.8" fill="#aba0d2"/>
<rect x="173.80" y="545.65" width="31.40" height="0.8" fill="#aba0d2"/>
<rect x="229.10" y="549.60" width="11.00" height="0.8" fill="#9385c0"/>
<rect x="240.10" y="548.60" width="9.50" height="2.8" fill="#aba0d2"/>
<rect x="149.00" y="553.40" width="102.90" height="1.1" fill="#9385c0"/>
<rect x="251.90" y="552.55" width="2.60" height="2.8" fill="#4e3f8a"/>
<rect x="149.00" y="557.45" width="101.50" height="0.9" fill="#9d92c6"/>
<rect x="250.50" y="556.50" width="1.40" height="2.8" fill="#9385c0"/>
<rect x="149.00" y="561.30" width="90.00" height="1.1" fill="#9385c0"/>
<rect x="239.00" y="560.45" width="10.60" height="2.8" fill="#4e3f8a"/>
<rect x="149.00" y="565.35" width="81.20" height="0.9" fill="#9d92c6"/>
<rect x="230.20" y="564.40" width="4.40" height="2.8" fill="#aba0d2"/>
<rect x="149.00" y="569.30" width="56.20" height="0.9" fill="#9d92c6"/>
<rect x="205.20" y="568.35" width="23.90" height="2.8" fill="#aba0d2"/>
<rect x="149.00" y="573.25" width="34.00" height="0.9" fill="#9d92c6"/>
<rect x="183.00" y="572.30" width="12.90" height="2.8" fill="#aba0d2"/>
<rect x="149.00" y="577.20" width="15.50" height="0.9" fill="#9d92c6"/>
<rect x="164.50" y="576.25" width="8.80" height="2.8" fill="#aba0d2"/>
<rect x="149.00" y="581.15" width="6.00" height="0.9" fill="#9d92c6"/>
<rect x="155.00" y="580.20" width="8.80" height="2.8" fill="#aba0d2"/>
<text x="281.9" y="340.5" font-size="11.6" text-anchor="start" font-weight="bold" fill="#000" stroke="#000" stroke-width="0.12">E</text>
<path d="M303,344.6H338.8" stroke="#222" stroke-width="1"/>
<text x="319.7" y="343.1" font-size="3.9" text-anchor="middle" font-weight="bold" fill="#222" stroke="#222" stroke-width="0.12">20 Kb</text>
<text x="295.3" y="351.50" font-size="4.9" text-anchor="end" font-weight="bold" fill="#1a1a1a" textLength="20.01" lengthAdjust="spacingAndGlyphs" stroke="#1a1a1a" stroke-width="0.12">H3K27Ac</text>
<path d="M299.6,355.70H519.5" stroke="#aab0c8" stroke-width="0.5"/>
<path d="M299.6,356.00L299.6,355.93L300.1,355.95L300.6,355.99L301.1,356.00L301.6,355.97L302.1,355.94L302.6,355.96L303.1,355.96L303.6,356.00L304.1,355.98L304.6,356.00L305.1,355.99L305.6,355.98L306.1,355.96L306.6,355.98L307.1,355.96L307.6,355.99L308.1,355.91L308.6,355.94L309.1,355.80L309.6,355.97L310.1,356.00L310.6,356.00L311.1,356.00L311.6,355.99L312.1,355.96L312.6,356.00L313.1,356.00L313.6,355.96L314.1,355.96L314.6,355.97L315.1,356.00L315.6,356.00L316.1,356.00L316.6,355.95L317.1,356.00L317.6,356.00L318.1,356.00L318.6,355.97L319.1,356.00L319.6,355.94L320.1,355.99L320.6,355.98L321.1,356.00L321.6,355.94L322.1,355.96L322.6,355.95L323.1,356.00L323.6,355.99L324.1,356.00L324.6,356.00L325.1,355.99L325.6,355.99L326.1,355.98L326.6,355.99L327.1,356.00L327.6,355.98L328.1,355.99L328.6,355.95L329.1,354.93L329.6,354.00L330.1,354.93L330.6,355.95L331.1,355.95L331.6,355.99L332.1,355.95L332.6,356.00L333.1,355.95L333.6,356.00L334.1,355.96L334.6,355.97L335.1,355.95L335.6,355.99L336.1,355.98L336.6,355.95L337.1,356.00L337.6,356.00L338.1,355.98L338.6,356.00L339.1,356.00L339.6,355.71L340.1,355.79L340.6,355.98L341.1,355.99L341.6,355.98L342.1,356.00L342.6,356.00L343.1,355.98L343.6,356.00L344.1,356.00L344.6,356.00L345.1,355.98L345.6,355.94L346.1,355.99L346.6,356.00L347.1,355.89L347.6,355.97L348.1,355.97L348.6,356.00L349.1,355.99L349.6,356.00L350.1,355.98L350.6,355.97L351.1,355.82L351.6,355.97L352.1,356.00L352.6,355.98L353.1,355.99L353.6,355.93L354.1,355.89L354.6,354.59L355.0,354.00L355.1,354.02L355.6,355.26L356.1,355.98L356.6,355.99L357.1,355.95L357.6,355.98L358.1,355.99L358.6,355.96L359.1,355.94L359.6,355.99L360.1,355.99L360.6,355.96L361.1,355.98L361.6,355.99L362.1,355.99L362.6,356.00L363.1,356.00L363.6,355.98L364.1,355.86L364.6,354.24L365.0,353.50L365.1,353.52L365.6,355.08L366.1,355.93L366.6,355.95L367.1,355.97L367.6,356.00L368.1,355.99L368.6,355.96L369.1,355.95L369.6,355.97L370.1,355.94L370.6,355.86L371.1,354.24L371.5,353.50L371.6,353.52L372.1,355.08L372.6,355.98L373.1,355.98L373.6,355.97L374.1,355.89L374.6,355.95L375.1,355.97L375.6,355.98L376.1,356.00L376.6,355.93L377.1,355.95L377.6,355.98L378.1,355.85L378.6,355.89L379.1,356.00L379.6,355.95L380.1,355.89L380.6,355.93L381.1,355.97L381.6,355.96L382.1,356.00L382.6,356.00L383.1,355.95L383.6,356.00L384.1,355.75L384.6,355.83L385.1,355.88L385.6,355.91L386.1,355.97L386.6,355.99L387.1,356.00L387.6,355.82L388.1,355.87L388.6,355.94L389.1,355.99L389.6,355.97L390.1,356.00L390.6,356.00L391.1,355.98L391.6,355.99L392.1,355.97L392.6,356.00L393.1,355.97L393.6,355.98L394.1,355.99L394.6,355.93L395.1,355.99L395.6,355.95L396.1,355.97L396.6,356.00L397.1,355.96L397.6,355.98L398.1,355.96L398.6,355.97L399.1,355.95L399.6,355.98L400.1,355.99L400.6,355.97L401.1,355.95L401.6,355.98L402.1,355.97L402.6,355.98L403.1,355.99L403.6,356.00L404.1,355.98L404.6,356.00L405.1,355.99L405.6,355.97L406.1,355.99L406.6,355.99L407.1,355.95L407.6,355.98L408.1,355.94L408.6,355.96L409.1,355.97L409.6,355.82L410.1,355.97L410.6,355.95L411.1,355.81L411.6,355.86L412.1,355.95L412.6,355.98L413.1,355.92L413.6,355.94L414.1,355.97L414.6,355.98L415.1,355.99L415.6,355.92L416.1,355.95L416.6,356.00L417.1,355.92L417.6,355.94L418.1,355.96L418.6,355.96L419.1,355.73L419.6,355.99L420.1,355.99L420.6,355.72L421.1,355.80L421.6,356.00L422.1,355.99L422.6,355.84L423.1,355.89L423.6,356.00L424.1,355.99L424.6,355.99L425.1,355.98L425.6,355.99L426.1,355.96L426.6,356.00L427.1,355.98L427.6,355.98L428.1,356.00L428.6,356.00L429.1,355.88L429.6,355.91L430.1,355.96L430.6,355.96L431.1,355.84L431.6,355.89L432.1,355.94L432.6,355.93L433.1,355.95L433.6,355.94L434.1,355.96L434.6,355.97L435.1,355.99L435.6,355.95L436.1,355.89L436.6,355.99L437.1,356.00L437.6,356.00L438.1,355.99L438.6,355.98L439.1,355.86L439.6,354.24L440.0,353.50L440.1,353.52L440.6,355.08L441.1,355.98L441.6,355.97L442.1,356.00L442.6,355.96L443.1,355.97L443.6,355.97L444.1,355.96L444.6,356.00L445.1,356.00L445.6,355.94L446.1,355.94L446.6,355.95L447.1,355.75L447.6,355.83L448.1,355.97L448.6,356.00L449.1,355.79L449.6,355.85L450.1,355.98L450.6,355.96L451.1,355.81L451.6,355.87L452.1,355.92L452.6,355.89L453.1,355.92L453.6,355.96L454.1,356.00L454.6,355.98L455.1,355.99L455.6,355.98L456.1,355.93L456.6,355.98L457.1,355.95L457.6,356.00L458.1,356.00L458.6,355.97L459.1,356.00L459.6,355.99L460.1,355.99L460.6,356.00L461.1,355.99L461.6,355.92L462.1,355.94L462.6,356.00L463.1,355.98L463.6,355.95L464.1,355.76L464.6,355.97L465.1,356.00L465.6,356.00L466.1,356.00L466.6,355.94L467.1,355.96L467.6,355.91L468.1,355.98L468.6,355.91L469.1,356.00L469.6,356.00L470.1,356.00L470.6,355.95L471.1,356.00L471.6,355.96L472.1,355.99L472.6,355.96L473.1,355.99L473.6,355.95L474.1,355.97L474.6,355.73L475.1,355.81L475.6,355.93L476.1,355.95L476.6,355.98L477.1,355.94L477.6,356.00L478.1,355.89L478.6,355.99L479.1,355.99L479.6,355.88L480.1,355.92L480.6,355.99L481.1,353.10L481.6,345.20L482.1,348.80L482.4,345.80L482.6,346.97L483.1,346.69L483.2,346.50L483.6,351.45L484.0,348.50L484.1,348.65L484.6,353.26L484.8,353.00L485.1,353.70L485.6,355.74L486.1,356.00L486.6,355.97L487.1,355.86L487.6,355.90L488.1,356.00L488.6,355.98L489.1,356.00L489.6,355.98L490.1,356.00L490.6,356.00L491.1,355.96L491.6,355.97L492.1,355.98L492.6,355.99L493.1,355.99L493.6,355.84L494.1,355.89L494.6,355.97L495.1,356.00L495.6,355.80L496.1,355.86L496.6,355.84L497.1,355.91L497.6,355.93L498.1,355.98L498.6,355.77L499.1,355.84L499.6,355.91L500.1,355.99L500.6,356.00L501.1,355.97L501.6,356.00L502.1,355.96L502.6,355.98L503.1,355.95L503.6,355.96L504.1,355.93L504.6,355.95L505.1,355.92L505.6,355.94L506.1,355.92L506.6,355.95L507.1,355.75L507.6,355.83L508.1,355.90L508.6,355.96L509.1,355.98L509.6,355.97L510.1,355.98L510.6,356.00L511.1,355.99L511.6,355.99L512.1,355.93L512.6,355.95L513.1,355.99L513.6,355.97L514.1,355.98L514.6,356.00L515.1,355.95L515.6,355.99L516.1,355.95L516.6,355.96L517.1,356.00L517.6,355.94L518.1,355.96L518.6,355.97L519.1,355.93L519.1,356.00Z" fill="#222a80"/>
<text x="295.3" y="365.24" font-size="4.9" text-anchor="end" font-weight="bold" fill="#1a1a1a" textLength="9.11" lengthAdjust="spacingAndGlyphs" stroke="#1a1a1a" stroke-width="0.12">SCL</text>
<path d="M299.6,368.44H519.5" stroke="#aab0c8" stroke-width="0.5"/>
<path d="M299.6,368.74L299.6,368.15L300.1,368.61L300.6,368.74L301.1,366.93L301.6,368.42L302.1,368.65L302.6,368.61L303.1,368.20L303.6,368.36L304.1,368.71L304.6,368.58L305.1,368.03L305.6,368.73L306.1,368.68L306.6,368.63L307.1,368.57L307.6,368.58L308.1,367.47L308.6,367.85L309.1,368.23L309.6,366.39L310.1,367.10L310.6,368.74L311.1,368.07L311.6,368.27L312.1,368.47L312.6,368.62L313.1,368.73L313.6,368.56L314.1,368.42L314.6,366.45L315.1,367.14L315.6,368.52L316.1,368.61L316.6,368.69L317.1,367.01L317.6,367.53L318.1,368.16L318.6,368.34L319.1,368.73L319.6,368.74L320.1,368.49L320.6,368.66L321.1,368.37L321.6,368.73L322.1,368.34L322.6,368.62L323.1,368.66L323.6,368.74L324.1,368.32L324.6,368.74L325.1,368.37L325.6,368.24L326.1,368.39L326.6,368.58L327.1,368.31L327.6,368.13L328.1,368.31L328.6,368.49L329.1,368.73L329.6,368.39L330.1,368.55L330.6,368.65L331.1,368.62L331.6,367.49L332.1,368.40L332.6,368.41L333.1,368.39L333.6,368.72L334.1,368.70L334.6,368.49L335.1,368.59L335.6,368.74L336.1,368.33L336.6,368.59L337.1,368.46L337.6,368.74L338.1,368.33L338.6,368.34L339.1,368.69L339.6,368.47L340.1,368.74L340.6,368.56L341.1,368.68L341.6,368.73L342.1,368.47L342.6,368.72L343.1,368.73L343.6,368.74L344.1,368.67L344.6,368.44L345.1,367.67L345.6,367.99L346.1,367.96L346.6,368.74L347.1,368.36L347.6,368.74L348.1,368.38L348.6,368.64L349.1,368.50L349.6,368.52L350.1,368.46L350.6,368.36L351.1,359.12L351.2,358.74L351.6,366.31L352.1,368.68L352.6,368.48L353.1,368.56L353.6,368.73L354.1,368.64L354.6,368.63L355.1,368.41L355.6,368.47L356.1,368.59L356.6,368.47L357.1,368.74L357.6,368.36L358.1,368.74L358.6,368.72L359.1,368.72L359.6,368.72L360.1,368.37L360.6,368.74L361.1,368.51L361.6,368.64L362.1,368.40L362.6,368.47L363.1,368.69L363.6,368.24L364.1,368.39L364.6,368.25L365.1,368.55L365.6,368.39L366.1,368.73L366.6,368.71L367.1,368.66L367.6,368.60L368.1,368.60L368.6,368.61L369.1,366.96L369.6,368.66L370.1,368.74L370.6,367.72L371.1,368.72L371.6,368.63L372.1,368.43L372.6,368.35L373.1,368.46L373.6,368.72L374.1,368.65L374.6,367.92L375.1,368.17L375.6,368.74L376.1,368.65L376.6,367.27L377.1,367.71L377.6,368.15L378.1,366.41L378.6,367.11L379.1,367.81L379.6,368.39L380.1,368.74L380.6,367.68L381.1,368.00L381.6,366.81L382.1,368.43L382.6,366.93L383.1,367.47L383.6,368.73L384.1,368.08L384.6,368.13L385.1,368.74L385.6,368.68L386.1,366.55L386.6,368.70L387.1,368.73L387.6,368.71L388.1,368.56L388.6,368.72L389.1,368.53L389.6,368.63L390.1,368.66L390.6,368.70L391.1,368.16L391.6,368.33L392.1,368.58L392.6,368.58L393.1,368.70L393.6,368.72L394.1,368.68L394.6,368.66L395.1,368.60L395.6,368.37L396.1,368.63L396.6,368.52L397.1,368.73L397.6,368.69L398.1,368.59L398.6,368.71L399.1,368.72L399.6,368.69L400.1,368.60L400.6,368.71L401.1,368.73L401.6,368.71L402.1,368.32L402.6,368.67L403.1,368.45L403.6,368.72L404.1,368.71L404.6,368.71L405.1,368.69L405.6,368.66L406.1,367.69L406.6,368.01L407.1,368.56L407.6,366.78L408.1,368.65L408.6,368.45L409.1,368.74L409.6,368.41L410.1,368.54L410.6,368.45L411.1,368.17L411.6,368.34L412.1,368.47L412.6,368.57L413.1,368.41L413.6,368.56L414.1,366.86L414.6,365.24L415.1,366.20L415.4,365.74L415.6,365.91L416.1,367.98L416.6,368.21L417.1,368.74L417.6,368.46L418.1,368.66L418.6,368.36L419.1,368.72L419.6,368.43L420.1,368.67L420.6,368.14L421.1,368.32L421.6,368.50L422.1,368.70L422.6,368.73L423.1,368.47L423.6,367.22L424.1,367.68L424.6,368.38L425.1,368.70L425.6,368.70L426.1,368.72L426.6,367.71L427.1,368.70L427.6,368.68L428.1,368.59L428.6,368.69L429.1,368.73L429.6,368.43L430.1,368.41L430.6,368.49L431.1,368.41L431.6,367.89L432.1,368.71L432.6,367.70L433.1,368.69L433.6,368.72L434.1,368.56L434.6,368.54L435.1,368.73L435.6,368.40L436.1,368.26L436.6,367.49L437.1,368.55L437.6,368.71L438.1,368.73L438.6,368.74L439.1,368.71L439.6,368.57L440.1,368.66L440.6,368.73L441.1,368.55L441.6,368.73L442.1,368.37L442.6,368.52L443.1,368.73L443.6,368.66L444.1,368.61L444.6,368.74L445.1,368.73L445.6,368.61L446.1,368.74L446.6,368.62L447.1,368.73L447.6,368.73L448.1,368.69L448.6,368.38L449.1,368.68L449.6,368.49L450.1,368.20L450.6,368.36L451.1,368.69L451.6,368.41L452.1,368.67L452.6,368.49L453.1,368.64L453.6,368.66L454.1,368.48L454.6,368.19L455.1,368.36L455.6,368.72L456.1,368.56L456.6,368.62L457.1,367.06L457.6,367.57L458.1,368.07L458.6,366.47L459.1,368.73L459.6,368.67L460.1,368.49L460.6,368.70L461.1,368.48L461.6,368.67L462.1,368.41L462.6,368.39L463.1,368.37L463.6,368.37L464.1,368.74L464.6,368.39L465.1,368.41L465.6,368.64L466.1,368.58L466.6,368.62L467.1,368.55L467.6,368.74L468.1,368.71L468.6,368.70L469.1,367.73L469.6,368.03L470.1,368.73L470.6,368.65L471.1,368.32L471.6,368.69L472.1,368.26L472.6,368.40L473.1,368.55L473.6,367.23L474.1,367.68L474.6,368.14L475.1,368.46L475.6,368.64L476.1,367.88L476.6,368.74L477.1,368.50L477.6,368.73L478.1,368.38L478.6,368.51L479.1,368.64L479.6,368.25L480.1,368.48L480.6,368.67L481.1,368.65L481.6,368.40L482.1,368.35L482.6,367.33L483.0,366.74L483.1,366.76L483.6,367.73L484.1,368.72L484.6,368.47L485.1,368.34L485.6,368.74L486.1,367.91L486.6,368.16L487.1,368.24L487.6,368.39L488.1,368.71L488.6,368.68L489.1,368.02L489.6,368.24L490.1,368.74L490.6,368.48L491.1,368.71L491.6,368.73L492.1,368.51L492.6,366.62L493.0,365.74L493.1,365.77L493.6,367.64L494.1,368.44L494.6,368.34L495.1,368.61L495.6,368.64L496.1,368.54L496.6,368.22L497.1,368.35L497.6,368.43L498.1,368.40L498.6,368.39L499.1,368.68L499.6,368.74L500.1,367.81L500.6,368.09L501.1,366.12L501.5,357.94L501.6,358.35L502.1,368.05L502.6,368.58L503.1,368.15L503.6,368.74L504.1,368.72L504.6,367.48L505.1,368.74L505.6,368.37L506.1,367.16L506.6,368.54L507.1,368.58L507.6,368.09L508.1,368.29L508.6,368.65L509.1,368.66L509.6,367.97L510.1,368.43L510.6,368.53L511.1,368.33L511.6,368.74L512.1,368.71L512.6,368.38L513.1,368.42L513.6,368.73L514.1,368.68L514.6,368.47L515.1,368.41L515.6,368.72L516.1,368.74L516.6,368.55L517.1,368.73L517.6,366.45L518.1,367.13L518.6,368.36L519.1,368.70L519.1,368.74Z" fill="#222a80"/>
<text x="295.3" y="376.98" font-size="4.9" text-anchor="end" font-weight="bold" fill="#1a1a1a" textLength="10.72" lengthAdjust="spacingAndGlyphs" stroke="#1a1a1a" stroke-width="0.12">LYL1</text>
<path d="M299.6,381.18H519.5" stroke="#aab0c8" stroke-width="0.5"/>
<path d="M299.6,381.48L299.6,380.01L300.1,381.44L300.6,380.83L301.1,381.38L301.6,381.47L302.1,380.84L302.6,381.48L303.1,380.18L303.6,380.57L304.1,380.96L304.6,381.21L305.1,381.36L305.6,381.20L306.1,381.00L306.6,380.75L307.1,380.15L307.6,381.33L308.1,381.41L308.6,381.46L309.1,380.77L309.6,380.71L310.1,381.19L310.6,381.23L311.1,381.17L311.6,381.10L312.1,380.46L312.6,381.34L313.1,379.72L313.5,378.98L313.6,379.00L314.1,380.56L314.6,381.36L315.1,381.20L315.6,381.06L316.1,378.30L316.6,380.80L317.1,381.31L317.6,380.07L318.0,379.48L318.1,379.50L318.6,379.28L319.1,379.94L319.6,381.24L320.1,379.78L320.4,379.48L320.6,379.59L321.1,381.03L321.6,381.03L322.1,377.58L322.6,378.75L323.1,379.92L323.6,380.64L324.1,378.52L324.6,379.41L325.1,380.71L325.6,381.37L326.1,381.34L326.6,381.48L327.1,381.32L327.6,380.93L328.1,380.83L328.6,380.87L329.1,381.48L329.6,379.68L330.1,380.22L330.6,381.48L331.1,380.99L331.6,380.78L332.1,381.41L332.6,380.48L333.1,380.78L333.6,380.48L334.1,376.56L334.2,376.48L334.6,378.62L335.1,380.89L335.6,381.06L336.1,381.28L336.6,381.17L337.1,381.10L337.6,381.42L338.1,380.29L338.6,381.14L339.1,381.48L339.6,380.97L340.1,381.43L340.6,379.56L341.1,380.70L341.6,381.33L342.1,380.47L342.6,380.77L343.1,381.08L343.6,380.44L344.1,380.75L344.6,381.06L345.1,380.60L345.6,380.80L346.1,380.68L346.6,380.80L347.1,376.92L347.3,376.48L347.6,377.64L348.1,381.31L348.6,381.44L349.1,380.94L349.6,381.00L350.1,381.36L350.6,380.81L351.1,372.72L351.2,372.48L351.6,378.17L352.1,381.42L352.6,381.23L353.1,381.46L353.6,380.38L354.1,378.51L354.2,378.48L354.6,379.36L355.1,381.31L355.6,380.60L356.1,381.05L356.6,381.05L357.1,380.60L357.6,381.35L358.1,381.45L358.6,381.20L359.1,381.48L359.6,378.45L360.1,381.25L360.6,381.45L361.1,380.96L361.6,381.36L362.1,381.21L362.6,381.48L363.1,380.98L363.6,380.48L364.1,380.93L364.6,381.17L365.1,380.71L365.6,381.06L366.1,381.40L366.6,381.03L367.1,381.25L367.6,380.81L368.1,381.42L368.6,380.78L369.1,381.06L369.6,381.20L370.1,381.33L370.6,380.90L371.1,381.48L371.6,381.17L372.1,381.22L372.6,380.80L373.1,381.06L373.6,380.62L374.1,381.26L374.6,381.47L375.1,380.44L375.6,380.71L376.1,381.48L376.6,380.73L377.1,381.05L377.6,381.40L378.1,380.60L378.6,381.22L379.1,380.63L379.6,380.51L380.1,380.80L380.6,381.09L381.1,381.03L381.6,380.51L382.1,380.90L382.6,381.02L383.1,381.41L383.6,381.44L384.1,381.02L384.6,381.43L385.1,381.34L385.6,381.43L386.1,381.47L386.6,378.93L387.1,379.70L387.6,381.09L388.1,381.45L388.6,381.47L389.1,381.39L389.6,376.75L390.1,381.06L390.6,381.23L391.1,380.77L391.6,378.66L392.0,377.48L392.1,377.52L392.6,379.16L393.1,379.86L393.6,381.24L394.1,381.15L394.6,378.66L395.0,377.48L395.1,377.52L395.6,380.01L396.1,380.20L396.6,380.58L397.1,381.10L397.6,381.38L398.1,377.47L398.6,378.68L399.1,379.88L399.6,381.46L400.1,379.59L400.6,380.94L401.1,381.37L401.6,381.23L402.1,381.23L402.6,381.47L403.1,381.36L403.6,378.82L404.1,379.62L404.6,380.42L405.1,380.30L405.6,378.26L406.1,379.23L406.6,381.16L407.1,381.11L407.6,381.43L408.1,381.40L408.6,381.29L409.1,381.40L409.6,381.07L410.1,378.81L410.6,381.35L411.1,381.47L411.6,378.01L412.1,379.05L412.6,380.09L413.1,377.91L413.6,378.98L414.1,381.04L414.6,380.23L415.1,380.60L415.6,380.98L416.1,381.34L416.6,381.18L417.1,381.22L417.6,381.04L418.1,380.69L418.6,376.98L419.1,381.25L419.6,380.94L420.1,381.19L420.6,381.45L421.1,380.31L421.6,380.66L422.1,381.32L422.6,381.25L423.1,378.96L423.6,379.71L424.1,380.47L424.6,381.16L425.1,381.40L425.6,381.28L426.1,381.45L426.6,381.45L427.1,381.11L427.6,381.06L428.1,381.46L428.6,381.44L429.1,381.47L429.6,381.41L430.1,381.48L430.6,381.47L431.1,380.94L431.6,381.48L432.1,379.23L432.6,377.78L433.1,378.89L433.6,380.00L434.1,381.33L434.6,381.44L435.1,380.73L435.6,381.47L436.1,380.66L436.6,379.59L437.1,380.16L437.6,381.29L438.1,381.37L438.6,381.46L439.1,377.66L439.6,378.81L440.1,381.31L440.6,380.81L441.1,380.90L441.6,381.33L442.1,381.21L442.6,381.12L443.1,381.28L443.6,381.42L444.1,380.86L444.6,380.95L445.1,380.62L445.6,377.00L446.1,381.25L446.6,380.66L447.1,380.98L447.6,381.02L448.1,380.69L448.6,377.47L449.1,381.31L449.6,381.48L450.1,379.20L450.6,379.89L451.1,378.58L451.6,379.45L452.1,381.44L452.6,380.73L453.1,380.75L453.6,381.39L454.1,377.70L454.6,381.35L455.1,381.10L455.6,377.22L456.1,378.49L456.6,381.17L457.1,381.48L457.6,380.90L458.1,380.22L458.6,380.82L459.1,381.46L459.6,381.16L460.1,381.00L460.6,381.24L461.1,380.43L461.6,380.75L462.1,381.06L462.6,378.23L463.1,379.21L463.6,380.18L464.1,381.43L464.6,381.38L465.1,381.48L465.6,380.75L466.1,380.74L466.6,381.20L467.1,381.47L467.6,381.47L468.1,381.13L468.6,381.43L469.1,381.12L469.6,381.47L470.1,381.32L470.6,380.91L471.1,380.86L471.6,381.43L472.1,380.60L472.6,380.63L473.1,381.15L473.6,380.80L474.1,381.48L474.6,380.35L475.1,380.96L475.6,381.42L476.1,381.43L476.6,381.40L477.1,379.75L477.6,380.27L478.1,381.33L478.6,380.68L479.1,379.12L479.6,379.83L480.1,380.54L480.6,381.31L481.1,381.37L481.6,381.33L482.1,381.37L482.6,380.13L483.1,381.40L483.6,381.41L484.1,380.81L484.6,380.76L485.1,380.93L485.6,381.36L486.1,381.42L486.6,380.90L487.1,380.14L487.6,381.14L488.1,380.68L488.6,378.23L489.1,379.21L489.6,381.08L490.1,381.11L490.6,381.08L491.1,380.96L491.6,381.03L492.1,378.25L492.6,379.22L493.1,378.43L493.6,379.35L494.1,380.26L494.6,381.12L495.1,381.15L495.6,381.37L496.1,381.46L496.6,380.89L497.1,381.20L497.6,381.28L498.1,379.75L498.6,380.27L499.1,380.90L499.6,381.07L500.1,380.76L500.6,380.74L501.1,381.32L501.6,380.19L502.1,381.37L502.6,381.39L503.1,381.36L503.6,381.48L504.1,381.44L504.6,380.99L505.1,381.43L505.6,377.71L506.1,378.84L506.6,381.00L507.1,381.46L507.6,380.73L508.1,381.14L508.6,381.34L509.1,381.09L509.6,381.06L510.1,381.33L510.6,381.48L511.1,381.44L511.6,381.46L512.1,380.16L512.6,378.98L513.1,381.39L513.6,381.04L514.1,381.37L514.6,381.08L515.1,381.42L515.6,380.84L516.1,381.08L516.6,381.04L517.1,380.69L517.6,381.43L518.1,380.91L518.6,381.30L519.1,381.32L519.1,381.48Z" fill="#222a80"/>
<text x="295.3" y="389.72" font-size="4.9" text-anchor="end" font-weight="bold" fill="#1a1a1a" textLength="12.66" lengthAdjust="spacingAndGlyphs" stroke="#1a1a1a" stroke-width="0.12">LMO2</text>
<path d="M299.6,393.92H519.5" stroke="#aab0c8" stroke-width="0.5"/>
<path d="M299.6,394.22L299.6,394.08L300.1,393.97L300.6,394.21L301.1,394.22L301.6,394.02L302.1,394.21L302.6,393.99L303.1,394.20L303.6,392.51L304.1,393.02L304.6,393.99L305.1,394.19L305.6,393.80L306.1,394.08L306.6,392.73L307.1,393.18L307.6,394.17L308.1,394.02L308.6,394.19L309.1,393.42L309.6,394.22L310.1,393.94L310.6,392.62L311.1,394.07L311.6,393.89L312.1,394.19L312.6,393.25L313.1,393.54L313.6,393.83L314.1,394.10L314.6,392.30L315.1,392.87L315.6,392.72L316.1,394.10L316.6,393.92L317.1,394.10L317.6,394.21L318.1,393.96L318.6,394.16L319.1,393.96L319.6,393.94L320.1,393.89L320.6,393.69L321.1,394.13L321.6,394.13L322.1,393.87L322.6,394.00L323.1,393.94L323.6,394.00L324.1,393.84L324.6,394.00L325.1,394.19L325.6,394.08L326.1,394.22L326.6,394.12L327.1,393.97L327.6,394.09L328.1,394.14L328.6,394.14L329.1,394.22L329.6,394.21L330.1,394.10L330.6,394.17L331.1,394.22L331.6,393.85L332.1,394.00L332.6,393.65L333.1,394.22L333.6,393.96L334.1,394.18L334.6,392.75L335.1,394.22L335.6,394.18L336.1,393.96L336.6,393.86L337.1,393.66L337.6,394.22L338.1,394.20L338.6,393.87L339.1,394.20L339.6,393.94L340.1,394.17L340.6,394.22L341.1,394.06L341.6,393.70L342.1,394.19L342.6,393.97L343.1,393.91L343.6,394.19L344.1,394.12L344.6,394.00L345.1,392.19L345.6,394.22L346.1,393.16L346.6,393.48L347.1,394.22L347.6,394.15L348.1,394.22L348.6,394.21L349.1,394.05L349.6,394.14L350.1,394.20L350.6,393.77L351.1,385.56L351.2,385.22L351.6,392.03L352.1,394.22L352.6,394.22L353.1,394.04L353.6,394.13L354.1,394.08L354.6,394.18L355.1,394.11L355.6,394.15L356.1,394.21L356.6,394.04L357.1,394.21L357.6,394.08L358.1,394.12L358.6,393.93L359.1,394.02L359.6,394.05L360.1,393.78L360.6,394.19L361.1,393.85L361.6,394.16L362.1,394.22L362.6,394.22L363.1,394.15L363.6,394.22L364.1,394.19L364.6,394.02L365.1,394.20L365.6,392.54L366.1,394.01L366.6,394.22L367.1,394.13L367.6,393.89L368.1,394.21L368.6,394.21L369.1,394.22L369.6,393.88L370.1,394.22L370.6,394.21L371.1,393.84L371.6,393.85L372.1,394.05L372.6,392.43L373.1,392.97L373.6,393.50L374.1,394.08L374.6,394.16L375.1,392.65L375.6,393.12L376.1,394.18L376.6,394.15L377.1,394.05L377.6,394.21L378.1,393.97L378.6,394.06L379.1,394.16L379.6,392.69L380.1,394.16L380.6,394.00L381.1,394.07L381.6,393.97L382.1,393.94L382.6,392.44L383.1,392.97L383.6,394.22L384.1,394.22L384.6,392.42L385.1,392.96L385.6,393.50L386.1,394.18L386.6,394.21L387.1,394.22L387.6,393.93L388.1,393.75L388.6,394.09L389.1,394.09L389.6,392.20L390.1,392.81L390.6,393.95L391.1,394.14L391.6,392.17L392.1,393.86L392.6,392.13L393.1,392.76L393.6,393.38L394.1,394.22L394.6,394.17L395.1,393.80L395.6,394.14L396.1,393.80L396.6,393.93L397.1,394.05L397.6,394.16L398.1,392.95L398.6,393.33L399.1,394.21L399.6,394.16L400.1,393.80L400.6,393.89L401.1,392.94L401.6,393.33L402.1,393.97L402.6,394.14L403.1,393.15L403.6,394.20L404.1,393.96L404.6,394.18L405.1,393.70L405.6,394.14L406.1,393.96L406.6,394.20L407.1,394.18L407.6,393.85L408.1,394.22L408.6,393.80L409.1,393.93L409.6,394.04L410.1,393.87L410.6,394.10L411.1,394.05L411.6,394.10L412.1,392.50L412.6,393.01L413.1,394.09L413.6,394.11L414.1,392.61L414.6,391.22L415.1,392.61L415.6,394.15L416.1,394.06L416.6,393.94L417.1,394.20L417.6,394.22L418.1,392.44L418.6,392.97L419.1,393.51L419.6,393.55L420.1,393.85L420.6,393.92L421.1,393.80L421.6,393.93L422.1,394.13L422.6,393.98L423.1,393.92L423.6,392.98L424.1,394.21L424.6,394.21L425.1,394.11L425.6,393.95L426.1,393.31L426.6,393.98L427.1,393.96L427.6,394.22L428.1,394.18L428.6,394.22L429.1,394.20L429.6,393.71L430.1,393.86L430.6,394.21L431.1,394.21L431.6,394.14L432.1,394.02L432.6,394.18L433.1,393.98L433.6,394.19L434.1,394.13L434.6,393.68L435.1,393.84L435.6,393.90L436.1,393.94L436.6,393.80L437.1,393.93L437.6,394.19L438.1,394.17L438.6,393.90L439.1,393.88L439.6,393.49L440.1,393.71L440.6,394.21L441.1,394.18L441.6,393.99L442.1,394.22L442.6,393.94L443.1,394.18L443.6,393.00L444.1,394.17L444.6,393.88L445.1,392.35L445.6,394.19L446.1,393.77L446.6,393.90L447.1,393.90L447.6,393.80L448.1,394.16L448.6,393.96L449.1,393.73L449.6,393.87L450.1,394.02L450.6,394.12L451.1,393.94L451.6,393.95L452.1,394.05L452.6,393.89L453.1,394.22L453.6,394.02L454.1,394.15L454.6,394.03L455.1,393.99L455.6,394.21L456.1,393.91L456.6,394.11L457.1,394.22L457.6,393.89L458.1,394.20L458.6,393.88L459.1,392.91L459.6,393.30L460.1,393.98L460.6,393.78L461.1,393.91L461.6,394.04L462.1,394.04L462.6,394.20L463.1,394.02L463.6,394.05L464.1,393.75L464.6,394.17L465.1,394.14L465.6,394.17L466.1,394.22L466.6,394.16L467.1,393.94L467.6,394.14L468.1,394.21L468.6,394.17L469.1,393.77L469.6,393.91L470.1,392.38L470.6,392.93L471.1,393.48L471.6,394.10L472.1,394.22L472.6,393.92L473.1,394.18L473.6,394.06L474.1,394.14L474.6,394.22L475.1,394.21L475.6,393.91L476.1,393.74L476.6,394.05L477.1,392.96L477.6,393.34L478.1,393.72L478.6,392.14L479.1,392.77L479.6,394.20L480.1,394.04L480.6,394.00L481.1,393.91L481.6,394.16L482.1,394.21L482.6,394.11L483.1,393.84L483.6,393.87L484.1,394.19L484.6,394.04L485.1,394.21L485.6,394.21L486.1,394.08L486.6,394.08L487.1,394.04L487.6,393.59L488.1,393.84L488.6,393.98L489.1,393.88L489.6,393.66L490.1,394.06L490.6,393.79L491.1,394.16L491.6,394.08L492.1,394.17L492.6,394.02L493.1,393.72L493.6,393.87L494.1,393.87L494.6,394.10L495.1,392.75L495.6,393.85L496.1,393.85L496.6,394.19L497.1,394.04L497.6,392.44L498.1,392.97L498.6,393.51L499.1,393.94L499.6,394.05L500.1,394.02L500.6,393.96L501.1,394.03L501.6,393.86L502.1,394.21L502.6,394.22L503.1,394.09L503.6,394.22L504.1,393.96L504.6,394.07L505.1,394.18L505.6,393.53L506.1,393.88L506.6,394.21L507.1,394.22L507.6,394.12L508.1,394.03L508.6,394.19L509.1,394.22L509.6,393.99L510.1,394.22L510.6,393.97L511.1,394.01L511.6,393.84L512.1,394.08L512.6,392.47L513.1,394.20L513.6,394.13L514.1,394.22L514.6,394.12L515.1,394.15L515.6,393.85L516.1,394.03L516.6,394.21L517.1,394.04L517.6,394.22L518.1,394.04L518.6,393.11L519.1,394.08L519.1,394.22Z" fill="#222a80"/>
<text x="295.3" y="402.46" font-size="4.9" text-anchor="end" font-weight="bold" fill="#1a1a1a" textLength="15.45" lengthAdjust="spacingAndGlyphs" stroke="#1a1a1a" stroke-width="0.12">RUNX1</text>
<path d="M299.6,406.66H519.5" stroke="#aab0c8" stroke-width="0.5"/>
<path d="M299.6,406.96L299.6,406.15L300.1,406.34L300.6,406.96L301.1,406.90L301.6,406.56L302.1,406.78L302.6,406.93L303.1,406.14L303.6,406.25L304.1,406.38L304.6,406.96L305.1,406.27L305.6,406.95L306.1,406.43L306.6,406.86L307.1,406.73L307.6,406.77L308.1,406.90L308.6,406.89L309.1,406.46L309.6,406.52L310.1,406.95L310.6,406.66L311.1,406.55L311.6,406.90L312.1,406.91L312.6,406.91L313.1,404.10L313.5,401.96L313.6,402.04L314.1,405.96L314.6,403.24L315.1,406.95L315.6,406.86L316.1,406.93L316.6,406.12L317.1,406.37L317.6,406.62L318.1,406.59L318.6,406.93L319.1,406.53L319.6,404.98L320.1,405.57L320.6,403.29L321.1,404.39L321.6,403.74L322.1,406.96L322.6,406.95L323.1,406.30L323.6,406.12L324.1,406.94L324.6,406.50L325.1,406.34L325.6,406.78L326.1,406.95L326.6,406.79L327.1,406.51L327.6,406.77L328.1,406.91L328.6,406.83L329.1,404.80L329.6,399.96L330.1,405.08L330.6,406.58L331.1,406.45L331.6,406.56L332.1,406.58L332.6,406.96L333.1,406.04L333.6,406.10L334.1,406.36L334.6,406.93L335.1,406.46L335.6,406.72L336.1,406.47L336.6,406.73L337.1,403.30L337.6,404.40L338.1,405.50L338.6,406.70L339.1,406.94L339.6,406.42L340.1,405.82L340.6,406.16L341.1,406.50L341.6,406.95L342.1,406.48L342.6,406.91L343.1,406.73L343.6,406.50L344.1,406.26L344.6,406.75L345.1,406.54L345.6,405.62L346.1,406.02L346.6,406.42L347.1,406.73L347.6,404.14L348.0,402.96L348.1,403.00L348.6,405.49L349.1,406.92L349.6,406.92L350.1,406.75L350.6,406.93L351.1,404.02L351.6,403.53L352.0,400.96L352.1,401.05L352.6,405.76L353.1,405.43L353.6,405.89L354.1,406.76L354.6,406.77L355.1,406.29L355.6,404.14L356.0,402.96L356.1,403.00L356.6,405.49L357.1,404.92L357.6,405.53L358.1,406.94L358.6,405.91L359.1,405.95L359.6,406.26L360.1,406.60L360.6,406.95L361.1,406.85L361.6,406.95L362.1,406.95L362.6,406.06L363.1,406.75L363.6,405.76L364.1,401.05L364.2,400.96L364.6,403.53L365.1,406.26L365.6,406.55L366.1,406.61L366.6,406.86L367.1,405.91L367.6,406.85L368.1,406.94L368.6,406.86L369.1,406.72L369.6,406.75L370.1,405.06L370.6,406.84L371.1,406.79L371.6,404.84L372.0,403.96L372.1,403.99L372.6,405.86L373.1,406.49L373.6,404.84L374.0,403.96L374.1,403.99L374.6,405.86L375.1,406.93L375.6,406.55L376.1,406.73L376.6,406.96L377.1,406.88L377.6,406.93L378.1,406.57L378.6,405.73L379.1,406.86L379.6,406.91L380.1,405.11L380.6,405.67L381.1,406.95L381.6,406.96L382.1,406.96L382.6,406.96L383.1,406.69L383.6,405.33L384.1,406.47L384.6,406.79L385.1,406.92L385.6,406.96L386.1,406.80L386.6,406.95L387.1,406.88L387.6,406.95L388.1,406.45L388.6,406.58L389.1,406.89L389.6,406.25L390.1,406.95L390.6,406.95L391.1,406.82L391.6,406.70L392.1,405.69L392.6,406.07L393.1,406.34L393.6,406.51L394.1,406.87L394.6,406.96L395.1,406.92L395.6,406.49L396.1,404.34L396.6,405.13L397.1,406.86L397.6,406.78L398.1,406.88L398.6,406.96L399.1,406.89L399.6,406.89L400.1,406.95L400.6,406.94L401.1,404.83L401.6,405.47L402.1,404.20L402.6,405.03L403.1,406.57L403.6,406.91L404.1,406.71L404.6,406.96L405.1,406.18L405.6,406.41L406.1,406.95L406.6,406.59L407.1,406.96L407.6,406.88L408.1,406.95L408.6,406.95L409.1,406.95L409.6,403.06L410.1,406.25L410.6,405.97L411.1,406.27L411.6,405.58L412.1,406.00L412.6,406.41L413.1,406.15L413.6,406.39L414.1,406.76L414.6,406.61L415.1,406.86L415.6,406.86L416.1,406.90L416.6,406.89L417.1,406.79L417.6,406.85L418.1,406.58L418.6,406.44L419.1,406.10L419.6,406.36L420.1,406.26L420.6,404.57L421.1,405.29L421.6,406.00L422.1,406.94L422.6,406.85L423.1,406.93L423.6,406.55L424.1,406.50L424.6,406.28L425.1,404.45L425.6,406.73L426.1,406.90L426.6,406.41L427.1,406.18L427.6,406.41L428.1,406.53L428.6,405.92L429.1,406.26L429.6,406.33L430.1,406.31L430.6,406.96L431.1,406.75L431.6,406.85L432.1,406.68L432.6,404.81L433.1,405.45L433.6,406.10L434.1,406.93L434.6,406.94L435.1,406.65L435.6,406.91L436.1,406.81L436.6,406.94L437.1,406.54L437.6,406.96L438.1,406.87L438.6,406.91L439.1,406.84L439.6,406.96L440.1,406.58L440.6,398.99L440.8,397.96L441.1,400.61L441.6,406.86L442.1,406.55L442.6,406.39L443.1,406.77L443.6,406.87L444.1,406.84L444.6,406.72L445.1,406.86L445.6,406.47L446.1,406.84L446.6,406.91L447.1,406.82L447.6,406.14L448.1,406.30L448.6,404.93L449.1,405.54L449.6,406.62L450.1,406.42L450.6,406.86L451.1,404.98L451.6,406.49L452.1,406.71L452.6,406.96L453.1,406.84L453.6,406.90L454.1,406.28L454.6,406.68L455.1,406.90L455.6,405.90L456.1,406.22L456.6,406.84L457.1,406.57L457.6,406.77L458.1,406.15L458.6,406.91L459.1,406.96L459.6,403.63L460.1,406.93L460.6,406.79L461.1,404.84L461.5,403.96L461.6,403.99L462.1,405.30L462.6,405.80L463.1,406.64L463.6,406.50L464.1,406.89L464.6,406.26L465.1,406.38L465.6,406.32L466.1,406.72L466.6,406.88L467.1,406.95L467.6,406.63L468.1,406.83L468.6,406.34L469.1,406.61L469.6,406.77L470.1,405.84L470.6,405.11L471.1,405.67L471.6,406.93L472.1,405.54L472.6,406.62L473.1,406.89L473.6,406.76L474.1,406.53L474.6,406.96L475.1,406.76L475.6,406.32L476.1,406.17L476.6,406.41L477.1,406.95L477.6,406.96L478.1,406.48L478.6,406.94L479.1,404.36L479.6,405.14L480.1,406.46L480.6,406.40L481.1,403.53L481.5,400.96L481.6,401.05L482.1,405.76L482.6,403.94L483.1,404.84L483.6,405.75L484.1,404.00L484.6,404.88L485.1,406.28L485.6,406.27L486.1,405.81L486.6,406.15L487.1,406.25L487.6,406.40L488.1,406.90L488.6,404.74L489.1,406.94L489.6,406.55L490.1,406.01L490.6,406.30L491.1,406.96L491.6,406.26L492.1,406.49L492.6,406.36L493.1,406.86L493.6,406.54L494.1,406.94L494.6,406.38L495.1,406.95L495.6,406.96L496.1,406.96L496.6,406.76L497.1,406.42L497.6,406.46L498.1,405.55L498.5,404.96L498.6,404.98L499.1,406.22L499.6,406.84L500.1,403.33L500.6,404.42L501.1,405.51L501.6,406.25L502.1,406.84L502.6,406.95L503.1,403.92L503.6,404.83L504.1,405.74L504.6,406.76L505.1,406.87L505.6,406.18L506.1,406.81L506.6,406.79L507.1,406.29L507.6,406.91L508.1,406.87L508.6,405.40L509.1,405.87L509.6,406.88L510.1,406.33L510.6,406.09L511.1,406.35L511.6,406.88L512.1,405.84L512.6,406.17L513.1,406.95L513.6,406.80L514.1,406.42L514.6,405.56L515.1,405.98L515.6,406.39L516.1,406.80L516.6,406.87L517.1,406.83L517.6,405.19L518.1,404.00L518.6,404.88L519.1,405.77L519.1,406.96Z" fill="#222a80"/>
<text x="295.3" y="415.20" font-size="4.9" text-anchor="end" font-weight="bold" fill="#1a1a1a" textLength="14.77" lengthAdjust="spacingAndGlyphs" stroke="#1a1a1a" stroke-width="0.12">GATA2</text>
<path d="M299.6,419.40H519.5" stroke="#aab0c8" stroke-width="0.5"/>
<path d="M299.6,419.70L299.6,419.69L300.1,419.01L300.6,419.33L301.1,419.48L301.6,419.36L302.1,418.97L302.6,417.74L303.1,418.33L303.6,419.01L304.1,418.85L304.6,418.83L305.1,419.28L305.6,419.60L306.1,419.45L306.6,419.61L307.1,419.04L307.6,419.12L308.1,419.65L308.6,419.14L309.1,419.70L309.6,419.70L310.1,416.24L310.6,417.28L311.1,418.32L311.6,417.83L312.1,418.39L312.6,419.41L313.1,417.23L313.5,416.20L313.6,416.23L314.1,418.41L314.6,419.58L315.1,419.37L315.6,419.44L316.1,419.00L316.6,419.33L317.1,419.53L317.6,417.58L318.0,416.70L318.1,416.73L318.6,418.60L319.1,419.25L319.6,419.33L320.1,419.69L320.6,418.65L321.1,419.45L321.6,419.64L322.1,418.24L322.6,418.68L323.1,419.22L323.6,419.40L324.1,419.68L324.6,419.12L325.1,418.47L325.6,418.84L326.1,418.99L326.6,419.67L327.1,419.19L327.6,419.05L328.1,419.49L328.6,418.48L329.1,418.85L329.6,418.86L330.1,419.11L330.6,419.48L331.1,419.31L331.6,419.48L332.1,419.69L332.6,419.65L333.1,418.95L333.6,418.40L334.1,413.30L334.2,413.20L334.6,415.99L335.1,418.15L335.6,418.81L336.1,418.67L336.6,419.63L337.1,419.53L337.6,419.62L338.1,419.63L338.6,419.51L339.1,419.67L339.6,419.44L340.1,419.70L340.6,419.42L341.1,419.68L341.6,418.86L342.1,419.11L342.6,419.43L343.1,419.61L343.6,419.67L344.1,419.68L344.6,419.04L345.1,419.61L345.6,419.43L346.1,419.68L346.6,419.60L347.1,418.22L347.6,417.14L348.1,419.70L348.6,419.63L349.1,419.38L349.6,419.43L350.1,419.70L350.6,418.40L351.1,413.30L351.2,413.20L351.6,415.99L352.1,419.64L352.6,419.64L353.1,416.48L353.6,419.47L354.1,419.26L354.6,416.56L355.0,414.20L355.1,414.28L355.6,418.18L356.1,419.70L356.6,419.11L357.1,419.36L357.6,419.05L358.1,419.53L358.6,419.66L359.1,419.17L359.6,419.25L360.1,419.23L360.6,419.55L361.1,419.66L361.6,418.35L362.1,418.75L362.6,415.98L363.1,417.10L363.6,418.21L364.1,419.67L364.6,419.69L365.1,419.14L365.6,417.34L365.8,417.20L366.1,417.58L366.6,416.40L367.1,417.39L367.6,418.38L368.1,419.52L368.6,419.01L369.1,419.70L369.6,419.70L370.1,417.39L370.6,419.18L371.1,418.86L371.6,419.11L372.1,419.15L372.6,418.67L373.1,416.64L373.6,417.56L374.1,416.04L374.6,418.95L375.1,419.39L375.6,419.63L376.1,419.68L376.6,419.25L377.1,419.70L377.6,419.27L378.1,419.14L378.6,419.26L379.1,419.40L379.6,419.05L380.1,419.02L380.6,419.50L381.1,419.17L381.6,419.70L382.1,419.63L382.6,419.23L383.1,418.52L383.6,415.67L384.1,416.88L384.6,418.09L385.1,419.53L385.6,419.33L386.1,419.53L386.6,419.35L387.1,418.99L387.6,418.52L388.1,418.87L388.6,419.03L389.1,419.69L389.6,418.81L390.1,419.39L390.6,419.69L391.1,419.64L391.6,419.70L392.1,419.38L392.6,419.30L393.1,419.13L393.6,419.55L394.1,419.51L394.6,419.69L395.1,419.13L395.6,416.12L396.1,417.19L396.6,419.33L397.1,419.37L397.6,419.10L398.1,419.21L398.6,419.68L399.1,419.32L399.6,419.66L400.1,419.65L400.6,419.44L401.1,419.33L401.6,419.19L402.1,419.70L402.6,419.07L403.1,419.36L403.6,419.42L404.1,418.86L404.6,419.11L405.1,419.66L405.6,419.56L406.1,419.39L406.6,418.94L407.1,419.68L407.6,419.70L408.1,419.42L408.6,419.55L409.1,419.37L409.6,419.48L410.1,419.69L410.6,419.66L411.1,419.38L411.6,418.95L412.1,419.67L412.6,419.08L413.1,417.04L413.6,417.84L414.1,417.82L414.6,412.70L415.1,417.82L415.6,419.05L416.1,419.33L416.6,419.66L417.1,419.57L417.6,419.69L418.1,418.86L418.6,419.53L419.1,419.64L419.6,419.02L420.1,419.63L420.6,418.10L421.1,419.70L421.6,419.68L422.1,419.68L422.6,419.60L423.1,419.62L423.6,419.19L424.1,418.94L424.6,419.54L425.1,419.44L425.6,419.23L426.1,419.47L426.6,417.35L427.1,418.05L427.6,418.71L428.1,419.70L428.6,419.24L429.1,419.52L429.6,418.86L430.1,419.11L430.6,419.38L431.1,418.32L431.6,418.73L432.1,419.69L432.6,419.65L433.1,419.59L433.6,419.68L434.1,419.54L434.6,419.64L435.1,419.11L435.6,419.24L436.1,417.34L436.6,418.05L437.1,419.41L437.6,419.57L438.1,418.98L438.6,419.37L439.1,419.34L439.6,419.69L440.1,419.25L440.6,415.14L440.8,414.70L441.1,415.86L441.6,417.18L442.1,418.26L442.6,419.67L443.1,419.48L443.6,419.22L444.1,419.23L444.6,419.70L445.1,416.22L445.6,417.26L446.1,419.25L446.6,419.43L447.1,419.56L447.6,418.84L448.1,419.10L448.6,419.50L449.1,419.60L449.6,419.48L450.1,418.70L450.6,419.47L451.1,419.64L451.6,419.57L452.1,419.69L452.6,419.54L453.1,419.70L453.6,418.36L454.1,418.76L454.6,419.58L455.1,418.78L455.6,419.06L456.1,419.33L456.6,419.69L457.1,419.18L457.6,418.19L458.1,418.65L458.6,416.14L459.1,417.21L459.6,418.27L460.1,419.63L460.6,419.69L461.1,419.69L461.6,419.33L462.1,416.42L462.6,417.40L463.1,419.55L463.6,419.68L464.1,419.30L464.6,416.59L465.1,417.52L465.6,418.98L466.1,419.51L466.6,419.63L467.1,419.64L467.6,416.74L468.1,417.63L468.6,418.52L469.1,419.51L469.6,419.11L470.1,419.07L470.6,419.35L471.1,418.36L471.6,418.76L472.1,419.16L472.6,419.30L473.1,419.50L473.6,419.68L474.1,419.53L474.6,419.34L475.1,417.16L475.4,416.70L475.6,416.87L476.1,419.03L476.6,419.37L477.1,419.16L477.6,419.11L478.1,419.45L478.6,419.69L479.1,418.94L479.6,419.68L480.1,419.23L480.6,419.22L481.1,419.69L481.6,418.80L482.1,419.07L482.6,419.38L483.1,419.68L483.6,419.58L484.1,419.08L484.6,419.65L485.1,419.48L485.6,418.47L486.1,418.84L486.6,419.29L487.1,419.48L487.6,419.33L488.1,418.38L488.6,418.77L489.1,419.58L489.6,417.44L490.1,418.11L490.6,418.79L491.1,418.72L491.6,419.01L492.1,419.31L492.6,419.58L493.1,419.16L493.6,419.29L494.1,419.68L494.6,419.67L495.1,419.66L495.6,418.44L496.1,418.82L496.6,419.66L497.1,418.74L497.6,417.12L498.1,417.89L498.6,419.70L499.1,419.31L499.6,419.64L500.1,419.54L500.6,419.38L501.1,419.61L501.6,419.69L502.1,419.31L502.6,419.38L503.1,419.60L503.6,419.24L504.1,419.04L504.6,419.65L505.1,419.53L505.6,419.35L506.1,419.12L506.6,419.63L507.1,419.68L507.6,418.48L508.1,418.84L508.6,419.69L509.1,419.70L509.6,419.65L510.1,419.14L510.6,419.69L511.1,416.36L511.6,417.36L512.1,418.36L512.6,419.63L513.1,419.46L513.6,418.16L514.1,419.70L514.6,419.26L515.1,419.46L515.6,418.84L516.1,418.97L516.6,419.36L517.1,419.63L517.6,419.59L518.1,419.05L518.6,417.34L519.1,418.05L519.1,419.70Z" fill="#222a80"/>
<text x="295.3" y="427.94" font-size="4.9" text-anchor="end" font-weight="bold" fill="#1a1a1a" textLength="13.68" lengthAdjust="spacingAndGlyphs" stroke="#1a1a1a" stroke-width="0.12">MEIS1</text>
<path d="M299.6,432.14H519.5" stroke="#aab0c8" stroke-width="0.5"/>
<path d="M299.6,432.44L299.6,432.39L300.1,432.43L300.6,432.40L301.1,432.33L301.6,431.21L302.1,432.44L302.6,432.43L303.1,432.40L303.6,432.36L304.1,432.40L304.6,432.22L305.1,432.09L305.6,432.25L306.1,432.41L306.6,432.23L307.1,432.12L307.6,432.22L308.1,432.31L308.6,432.33L309.1,431.73L309.6,431.94L310.1,432.43L310.6,432.44L311.1,431.98L311.6,432.12L312.1,432.43L312.6,431.90L313.1,432.06L313.6,432.35L314.1,432.27L314.6,432.44L315.1,432.43L315.6,432.28L316.1,432.43L316.6,432.40L317.1,430.99L317.6,431.42L318.1,431.86L318.6,431.41L319.1,431.72L319.6,431.25L320.1,431.61L320.6,432.43L321.1,432.27L321.6,432.32L322.1,432.43L322.6,432.24L323.1,432.34L323.6,431.31L324.1,431.65L324.6,432.41L325.1,431.88L325.6,432.05L326.1,432.44L326.6,432.43L327.1,432.23L327.6,432.43L328.1,432.44L328.6,432.11L329.1,431.10L329.6,429.94L330.1,431.10L330.6,432.38L331.1,432.12L331.6,432.22L332.1,432.42L332.6,432.44L333.1,432.23L333.6,432.37L334.1,432.42L334.6,432.33L335.1,432.36L335.6,431.36L336.1,431.68L336.6,432.01L337.1,432.38L337.6,432.17L338.1,432.44L338.6,432.40L339.1,432.42L339.6,432.41L340.1,432.44L340.6,432.41L341.1,431.88L341.6,432.04L342.1,432.17L342.6,432.43L343.1,432.24L343.6,432.43L344.1,432.43L344.6,432.28L345.1,432.31L345.6,432.41L346.1,432.30L346.6,432.44L347.1,432.37L347.6,432.34L348.1,432.28L348.6,431.79L349.1,432.40L349.6,432.36L350.1,432.29L350.6,431.82L351.1,432.00L351.6,432.19L352.1,432.32L352.6,431.69L353.1,431.92L353.6,432.35L354.1,432.26L354.6,432.43L355.1,432.40L355.6,432.34L356.1,432.41L356.6,432.40L357.1,432.44L357.6,431.99L358.1,432.12L358.6,432.35L359.1,432.31L359.6,432.44L360.1,432.37L360.6,432.34L361.1,432.34L361.6,432.05L362.1,432.35L362.6,432.44L363.1,432.42L363.6,431.54L364.1,428.01L364.2,427.94L364.6,429.87L365.1,431.39L365.6,431.70L366.1,432.43L366.6,432.14L367.1,432.44L367.6,432.09L368.1,432.28L368.6,432.40L369.1,431.97L369.6,432.11L370.1,432.22L370.6,432.41L371.1,432.29L371.6,428.13L372.0,423.44L372.1,423.62L372.6,431.35L373.1,432.03L373.6,432.44L374.1,432.26L374.6,432.12L375.1,432.18L375.6,432.29L376.1,432.44L376.6,432.41L377.1,432.23L377.6,432.21L378.1,432.38L378.6,432.37L379.1,432.41L379.6,431.99L380.1,432.24L380.6,432.32L381.1,432.29L381.6,432.43L382.1,432.31L382.6,432.14L383.1,431.99L383.6,432.12L384.1,432.41L384.6,432.38L385.1,432.13L385.6,432.23L386.1,432.26L386.6,432.40L387.1,432.37L387.6,432.39L388.1,432.21L388.6,432.36L389.1,432.37L389.6,432.37L390.1,432.33L390.6,432.29L391.1,432.12L391.6,432.32L392.1,431.63L392.6,431.87L393.1,432.12L393.6,431.15L394.1,432.44L394.6,432.19L395.1,432.25L395.6,432.12L396.1,432.44L396.6,432.38L397.1,431.72L397.6,431.93L398.1,432.27L398.6,432.29L399.1,432.44L399.6,432.43L400.1,432.34L400.6,432.30L401.1,432.42L401.6,432.29L402.1,431.15L402.6,431.54L403.1,432.24L403.6,432.44L404.1,432.36L404.6,432.20L405.1,432.41L405.6,432.41L406.1,432.32L406.6,431.37L407.1,432.21L407.6,432.30L408.1,432.43L408.6,432.33L409.1,431.25L409.6,432.42L410.1,432.44L410.6,432.43L411.1,432.27L411.6,432.23L412.1,432.04L412.6,432.16L413.1,432.28L413.6,432.13L414.1,432.22L414.6,432.31L415.1,431.88L415.6,432.36L416.1,432.22L416.6,432.28L417.1,432.21L417.6,431.88L418.1,432.05L418.6,432.44L419.1,432.35L419.6,432.42L420.1,432.27L420.6,432.33L421.1,432.20L421.6,432.43L422.1,432.43L422.6,432.13L423.1,432.36L423.6,432.17L424.1,432.36L424.6,432.33L425.1,432.30L425.6,432.43L426.1,432.43L426.6,432.44L427.1,432.20L427.6,432.43L428.1,432.25L428.6,432.36L429.1,432.37L429.6,431.35L430.1,431.68L430.6,432.00L431.1,432.44L431.6,432.44L432.1,432.27L432.6,432.37L433.1,432.44L433.6,432.19L434.1,432.40L434.6,432.22L435.1,432.18L435.6,432.39L436.1,432.35L436.6,432.43L437.1,432.30L437.6,431.94L438.1,432.44L438.6,432.02L439.1,432.15L439.6,432.19L440.1,432.42L440.6,432.42L441.1,427.89L441.5,422.94L441.6,423.13L442.1,431.29L442.6,432.40L443.1,432.19L443.6,432.28L444.1,432.17L444.6,432.38L445.1,432.25L445.6,432.24L446.1,432.42L446.6,432.42L447.1,432.36L447.6,431.77L448.1,431.97L448.6,432.44L449.1,432.30L449.6,431.75L450.1,431.96L450.6,432.03L451.1,432.44L451.6,432.39L452.1,432.31L452.6,432.38L453.1,432.44L453.6,431.94L454.1,432.09L454.6,432.39L455.1,432.22L455.6,432.12L456.1,432.22L456.6,432.42L457.1,432.23L457.6,432.19L458.1,432.18L458.6,432.44L459.1,432.40L459.6,430.15L460.0,428.44L460.1,428.50L460.6,431.64L461.1,432.18L461.6,432.39L462.1,432.06L462.6,432.38L463.1,432.14L463.6,432.37L464.1,432.39L464.6,432.20L465.1,432.30L465.6,432.42L466.1,432.44L466.6,432.35L467.1,432.37L467.6,432.22L468.1,432.22L468.6,432.23L469.1,432.35L469.6,432.07L470.1,432.18L470.6,432.26L471.1,431.77L471.6,431.97L472.1,432.44L472.6,432.36L473.1,432.27L473.6,432.39L474.1,431.51L474.6,431.79L475.1,432.07L475.6,432.28L476.1,432.14L476.6,432.23L477.1,432.33L477.6,432.43L478.1,431.13L478.6,431.52L479.1,432.34L479.6,431.76L480.1,431.96L480.6,431.29L481.1,431.63L481.6,431.98L482.1,432.41L482.6,432.35L483.1,432.23L483.6,432.44L484.1,432.44L484.6,432.24L485.1,432.44L485.6,432.13L486.1,432.10L486.6,432.18L487.1,432.05L487.6,432.17L488.1,432.33L488.6,432.39L489.1,432.43L489.6,432.25L490.1,432.38L490.6,432.44L491.1,432.29L491.6,432.44L492.1,432.25L492.6,432.37L493.1,432.36L493.6,432.43L494.1,432.43L494.6,432.40L495.1,431.86L495.6,432.03L496.1,432.17L496.6,432.40L497.1,431.35L497.6,431.68L498.1,432.01L498.6,432.08L499.1,432.19L499.6,432.38L500.1,432.24L500.6,432.37L501.1,432.42L501.6,432.41L502.1,432.36L502.6,432.42L503.1,432.40L503.6,432.43L504.1,432.42L504.6,432.23L505.1,432.24L505.6,432.27L506.1,432.43L506.6,432.29L507.1,432.22L507.6,432.44L508.1,432.40L508.6,432.33L509.1,432.35L509.6,432.44L510.1,431.93L510.6,432.08L511.1,432.27L511.6,432.43L512.1,432.36L512.6,432.44L513.1,432.30L513.6,432.42L514.1,432.36L514.6,432.25L515.1,431.65L515.6,431.88L516.1,432.05L516.6,432.22L517.1,432.42L517.6,432.20L518.1,432.21L518.6,432.23L519.1,432.21L519.1,432.44Z" fill="#222a80"/>
<text x="295.3" y="440.68" font-size="4.9" text-anchor="end" font-weight="bold" fill="#1a1a1a" textLength="13.42" lengthAdjust="spacingAndGlyphs" stroke="#1a1a1a" stroke-width="0.12">GFI1B</text>
<path d="M299.6,444.88H519.5" stroke="#aab0c8" stroke-width="0.5"/>
<path d="M299.6,445.18L299.6,442.61L300.1,443.38L300.6,444.73L301.1,444.65L301.6,444.85L302.1,445.16L302.6,445.01L303.1,444.32L303.6,444.58L304.1,445.03L304.6,445.18L305.1,444.99L305.6,445.11L306.1,445.07L306.6,444.68L307.1,445.03L307.6,444.74L308.1,444.53L308.6,445.08L309.1,445.02L309.6,444.89L310.1,443.22L310.6,445.15L311.1,445.18L311.6,445.11L312.1,444.54L312.6,444.91L313.1,442.71L313.5,441.68L313.6,441.71L314.1,443.89L314.6,445.15L315.1,445.18L315.6,445.13L316.1,445.17L316.6,445.08L317.1,443.49L317.6,445.16L318.1,445.18L318.6,445.11L319.1,444.51L319.6,445.16L320.1,445.18L320.6,445.16L321.1,444.56L321.6,445.03L322.1,445.06L322.6,444.34L323.1,445.18L323.6,444.97L324.1,445.10L324.6,444.75L325.1,444.84L325.6,444.49L326.1,444.58L326.6,445.16L327.1,444.76L327.6,442.51L328.1,444.60L328.6,445.13L329.1,444.11L329.6,443.18L330.1,444.11L330.6,444.85L331.1,444.58L331.6,445.12L332.1,444.88L332.6,444.80L333.1,444.44L333.6,445.10L334.1,445.16L334.6,445.06L335.1,444.83L335.6,445.03L336.1,443.85L336.6,444.25L337.1,444.63L337.6,444.73L338.1,445.06L338.6,441.05L339.1,442.29L339.6,445.05L340.1,445.17L340.6,443.21L341.1,443.80L341.6,441.89L342.1,442.87L342.6,443.86L343.1,445.10L343.6,444.95L344.1,445.18L344.6,445.18L345.1,444.78L345.6,444.91L346.1,445.15L346.6,444.72L347.1,445.18L347.6,445.18L348.1,441.92L348.6,442.90L349.1,441.67L349.6,442.72L350.1,444.72L350.6,445.06L351.1,445.13L351.6,445.13L352.1,445.13L352.6,443.83L353.1,441.64L353.6,442.70L354.1,444.98L354.6,442.71L355.0,441.68L355.1,441.71L355.6,443.89L356.1,445.11L356.6,444.96L357.1,445.09L357.6,444.44L358.1,445.18L358.6,443.78L359.1,443.41L359.6,444.71L360.1,444.68L360.6,444.66L361.1,444.62L361.6,444.62L362.1,444.43L362.6,442.81L363.1,443.52L363.6,444.55L364.1,444.93L364.6,444.03L365.1,445.12L365.6,444.59L366.1,444.89L366.6,444.72L367.1,445.18L367.6,444.33L368.1,444.58L368.6,444.09L369.1,444.34L369.6,445.12L370.1,443.08L370.6,443.71L371.1,442.77L371.6,445.06L372.1,445.04L372.6,444.63L373.1,442.31L373.6,443.17L374.1,445.06L374.6,444.34L375.1,444.59L375.6,444.71L376.1,443.50L376.6,444.00L377.1,445.03L377.6,445.04L378.1,444.89L378.6,442.55L379.1,443.34L379.6,444.13L380.1,445.12L380.6,444.99L381.1,444.68L381.6,444.30L382.1,445.07L382.6,444.72L383.1,444.15L383.6,444.46L384.1,443.49L384.6,445.08L385.1,444.78L385.6,445.03L386.1,444.97L386.6,444.92L387.1,444.98L387.6,445.07L388.1,445.17L388.6,444.64L389.1,444.63L389.6,444.55L390.1,445.11L390.6,444.90L391.1,445.13L391.6,444.22L392.1,444.71L392.6,444.64L393.1,444.86L393.6,444.22L394.1,444.51L394.6,442.83L395.1,443.53L395.6,444.80L396.1,444.82L396.6,444.69L397.1,443.86L397.6,444.25L398.1,445.18L398.6,445.10L399.1,445.05L399.6,444.20L400.1,444.49L400.6,443.19L401.1,445.08L401.6,445.14L402.1,444.80L402.6,444.81L403.1,444.50L403.6,445.17L404.1,441.94L404.6,445.16L405.1,445.15L405.6,445.06L406.1,444.87L406.6,445.16L407.1,444.94L407.6,445.15L408.1,444.55L408.6,444.71L409.1,444.91L409.6,445.18L410.1,444.90L410.6,444.81L411.1,444.65L411.6,444.52L412.1,444.88L412.6,444.91L413.1,444.92L413.6,442.86L414.1,443.55L414.6,444.62L415.1,445.02L415.6,444.16L416.1,444.47L416.6,444.77L417.1,445.11L417.6,444.74L418.1,442.93L418.6,444.23L419.1,445.17L419.6,444.93L420.1,444.11L420.6,444.43L421.1,444.56L421.6,445.13L422.1,444.91L422.6,441.44L423.1,442.57L423.6,443.69L424.1,444.74L424.6,445.13L425.1,444.82L425.6,445.12L426.1,444.54L426.6,444.19L427.1,444.49L427.6,445.14L428.1,444.49L428.6,444.93L429.1,445.17L429.6,444.59L430.1,444.43L430.6,443.06L431.1,443.69L431.6,442.61L432.1,443.38L432.6,445.13L433.1,445.02L433.6,441.84L434.1,444.93L434.6,445.17L435.1,445.04L435.6,444.70L436.1,445.18L436.6,445.08L437.1,445.17L437.6,444.95L438.1,445.17L438.6,445.06L439.1,444.06L439.6,444.60L440.1,444.45L440.6,444.86L441.1,444.42L441.6,444.71L442.1,444.17L442.6,444.76L443.1,443.16L443.6,442.17L444.1,444.50L444.6,445.09L445.1,445.17L445.6,445.04L446.1,445.13L446.6,444.33L447.1,444.45L447.6,444.84L448.1,444.79L448.6,445.18L449.1,443.56L449.6,444.50L450.1,445.17L450.6,444.94L451.1,445.07L451.6,445.10L452.1,444.16L452.6,444.47L453.1,445.06L453.6,445.13L454.1,443.12L454.6,445.17L455.1,444.33L455.6,444.59L456.1,444.64L456.6,444.76L457.1,443.73L457.6,444.91L458.1,445.16L458.6,442.99L459.1,443.65L459.6,444.77L460.1,441.24L460.6,442.42L461.1,444.66L461.6,444.19L462.1,444.49L462.6,445.04L463.1,444.77L463.6,445.17L464.1,444.48L464.6,445.18L465.1,445.14L465.6,445.12L466.1,444.92L466.6,445.15L467.1,444.81L467.6,444.63L468.1,444.73L468.6,445.00L469.1,443.98L469.6,445.16L470.1,444.78L470.6,444.77L471.1,445.16L471.6,445.01L472.1,444.76L472.6,445.05L473.1,441.02L473.6,444.90L474.1,445.17L474.6,444.27L475.1,444.95L475.6,445.08L476.1,444.64L476.6,445.04L477.1,445.17L477.6,445.16L478.1,445.14L478.6,444.72L479.1,445.11L479.6,442.23L480.1,443.12L480.6,444.00L481.1,441.87L481.5,436.18L481.6,436.42L482.1,442.41L482.6,445.14L483.1,444.33L483.6,444.59L484.1,444.74L484.6,444.99L485.1,444.76L485.6,445.18L486.1,445.18L486.6,443.11L487.1,443.73L487.6,444.35L488.1,442.17L488.6,444.43L489.1,441.42L489.6,444.91L490.1,444.55L490.6,444.55L491.1,444.73L491.6,442.08L492.1,443.01L492.6,444.94L493.1,442.15L493.6,444.76L494.1,445.03L494.6,444.58L495.1,444.42L495.6,444.80L496.1,445.15L496.6,445.10L497.1,444.98L497.6,444.62L498.1,444.60L498.6,445.06L499.1,445.05L499.6,445.17L500.1,444.32L500.6,444.58L501.1,445.04L501.6,445.07L502.1,445.18L502.6,443.95L503.1,445.16L503.6,445.02L504.1,444.57L504.6,444.97L505.1,444.94L505.6,443.85L506.1,445.13L506.6,444.68L507.1,444.87L507.6,444.59L508.1,444.45L508.6,443.23L509.1,444.73L509.6,444.71L510.1,441.98L510.6,444.82L511.1,445.10L511.6,445.08L512.1,445.18L512.6,444.32L513.1,444.58L513.6,445.11L514.1,444.91L514.6,442.48L515.1,444.83L515.6,444.86L516.1,444.89L516.6,445.07L517.1,444.90L517.6,444.92L518.1,445.09L518.6,443.83L519.1,444.90L519.1,445.18Z" fill="#222a80"/>
<text x="295.3" y="453.42" font-size="4.9" text-anchor="end" font-weight="bold" fill="#1a1a1a" textLength="10.13" lengthAdjust="spacingAndGlyphs" stroke="#1a1a1a" stroke-width="0.12">PU.1</text>
<path d="M299.6,457.62H519.5" stroke="#aab0c8" stroke-width="0.5"/>
<path d="M299.6,457.92L299.6,457.67L300.1,457.74L300.6,457.91L301.1,457.78L301.6,457.92L302.1,457.12L302.6,457.82L303.1,457.92L303.6,457.74L304.1,457.89L304.6,457.72L305.1,457.92L305.6,457.56L306.1,457.67L306.6,457.77L307.1,457.91L307.6,457.90L308.1,457.89L308.6,457.91L309.1,457.91L309.6,457.76L310.1,457.67L310.6,457.75L311.1,457.67L311.6,457.72L312.1,457.62L312.6,457.71L313.1,457.79L313.6,457.81L314.1,457.06L314.6,457.32L315.1,457.90L315.6,457.87L316.1,457.82L316.6,457.89L317.1,457.68L317.6,457.85L318.1,457.87L318.6,457.91L319.1,457.67L319.6,457.88L320.1,457.83L320.6,457.79L321.1,457.86L321.6,457.88L322.1,457.70L322.6,457.43L323.1,457.87L323.6,457.20L324.1,457.91L324.6,457.83L325.1,457.87L325.6,457.89L326.1,457.81L326.6,457.92L327.1,457.90L327.6,457.92L328.1,457.90L328.6,457.90L329.1,457.20L329.6,448.92L330.1,457.20L330.6,457.88L331.1,457.40L331.6,457.56L332.1,457.70L332.6,457.86L333.1,457.21L333.6,457.42L334.1,457.63L334.6,457.92L335.1,457.84L335.6,457.92L336.1,457.92L336.6,457.80L337.1,457.77L337.6,457.40L338.1,457.55L338.6,457.84L339.1,457.88L339.6,457.90L340.1,457.85L340.6,457.91L341.1,457.60L341.6,457.70L342.1,457.10L342.6,457.35L343.1,457.59L343.6,457.90L344.1,457.91L344.6,457.37L345.1,457.53L345.6,457.90L346.1,457.81L346.6,457.75L347.1,457.77L347.6,457.84L348.1,457.28L348.6,457.47L349.1,457.65L349.6,457.73L350.1,457.78L350.6,456.96L351.1,457.91L351.6,457.88L352.1,457.71L352.6,457.79L353.1,457.73L353.6,457.92L354.1,457.77L354.6,457.89L355.1,457.75L355.6,454.38L355.8,453.92L356.1,455.10L356.6,457.16L357.1,457.49L357.6,457.55L358.1,457.66L358.6,457.85L359.1,457.88L359.6,457.89L360.1,457.68L360.6,457.75L361.1,457.79L361.6,457.75L362.1,457.82L362.6,457.45L363.1,457.59L363.6,457.37L364.1,457.53L364.6,457.72L365.1,457.71L365.6,457.92L366.1,457.92L366.6,457.79L367.1,457.79L367.6,457.87L368.1,457.81L368.6,457.88L369.1,457.88L369.6,457.91L370.1,457.85L370.6,457.84L371.1,457.88L371.6,457.90L372.1,457.90L372.6,457.90L373.1,457.71L373.6,457.76L374.1,457.79L374.6,457.87L375.1,457.92L375.6,457.91L376.1,457.28L376.6,457.47L377.1,457.86L377.6,457.86L378.1,457.66L378.6,457.74L379.1,457.91L379.6,457.84L380.1,457.89L380.6,457.92L381.1,457.78L381.6,457.73L382.1,457.84L382.6,457.82L383.1,457.85L383.6,457.92L384.1,457.92L384.6,457.79L385.1,457.90L385.6,457.92L386.1,457.91L386.6,457.77L387.1,457.87L387.6,457.92L388.1,457.85L388.6,457.90L389.1,457.82L389.6,457.88L390.1,457.91L390.6,457.81L391.1,457.78L391.6,457.84L392.1,457.77L392.6,457.88L393.1,457.92L393.6,457.92L394.1,457.85L394.6,457.68L395.1,456.22L395.4,455.92L395.6,456.03L396.1,457.47L396.6,457.80L397.1,457.91L397.6,457.67L398.1,457.75L398.6,457.88L399.1,457.72L399.6,457.92L400.1,457.75L400.6,457.89L401.1,457.92L401.6,457.92L402.1,457.91L402.6,457.85L403.1,457.86L403.6,457.74L404.1,457.11L404.6,457.86L405.1,457.91L405.6,457.84L406.1,457.78L406.6,457.73L407.1,457.90L407.6,457.89L408.1,457.73L408.6,457.89L409.1,457.92L409.6,457.88L410.1,457.86L410.6,457.91L411.1,456.73L411.6,457.09L412.1,457.89L412.6,457.85L413.1,456.94L413.6,457.23L414.1,457.91L414.6,457.92L415.1,457.77L415.6,457.82L416.1,457.82L416.6,457.90L417.1,457.79L417.6,457.91L418.1,457.72L418.6,457.85L419.1,457.90L419.6,457.76L420.1,457.90L420.6,457.71L421.1,457.81L421.6,457.81L422.1,457.92L422.6,457.91L423.1,457.71L423.6,457.71L424.1,457.90L424.6,457.78L425.1,457.91L425.6,457.86L426.1,457.92L426.6,457.78L427.1,457.71L427.6,457.86L428.1,457.91L428.6,457.73L429.1,457.92L429.6,457.86L430.1,457.73L430.6,457.86L431.1,457.07L431.6,457.74L432.1,457.91L432.6,457.92L433.1,457.91L433.6,457.68L434.1,457.75L434.6,457.76L435.1,457.84L435.6,457.84L436.1,457.90L436.6,457.91L437.1,457.91L437.6,457.86L438.1,457.26L438.6,457.00L439.1,455.44L439.2,455.42L439.6,456.16L440.1,457.78L440.6,457.91L441.1,456.83L441.6,457.16L442.1,457.71L442.6,457.79L443.1,457.89L443.6,457.46L444.1,457.84L444.6,457.82L445.1,457.87L445.6,457.91L446.1,457.53L446.6,457.64L447.1,457.92L447.6,457.73L448.1,457.92L448.6,457.86L449.1,457.87L449.6,457.87L450.1,457.66L450.6,457.84L451.1,457.85L451.6,457.82L452.1,457.84L452.6,457.89L453.1,457.78L453.6,457.91L454.1,457.90L454.6,457.90L455.1,457.85L455.6,456.82L456.1,457.92L456.6,457.92L457.1,457.65L457.6,457.80L458.1,457.21L458.6,457.73L459.1,457.79L459.6,457.72L460.1,457.76L460.6,457.70L461.1,457.88L461.6,457.90L462.1,457.67L462.6,457.81L463.1,457.90L463.6,457.89L464.1,457.91L464.6,457.31L465.1,457.77L465.6,457.75L466.1,457.91L466.6,457.49L467.1,457.62L467.6,457.92L468.1,456.88L468.6,457.19L469.1,457.77L469.6,457.76L470.1,457.74L470.6,457.19L471.1,457.76L471.6,457.75L472.1,456.78L472.6,457.12L473.1,457.89L473.6,457.90L474.1,457.92L474.6,457.90L475.1,457.79L475.6,457.90L476.1,457.37L476.6,457.54L477.1,457.24L477.6,457.21L478.1,457.90L478.6,457.40L479.1,457.56L479.6,457.87L480.1,457.80L480.6,457.73L481.1,456.51L481.5,455.92L481.6,455.94L482.1,457.18L482.6,457.72L483.1,457.49L483.6,457.62L484.1,456.98L484.6,457.26L485.1,457.70L485.6,457.07L486.1,457.32L486.6,457.58L487.1,456.98L487.6,457.91L488.1,457.78L488.6,457.80L489.1,457.79L489.6,457.91L490.1,457.92L490.6,457.78L491.1,457.70L491.6,457.92L492.1,457.92L492.6,457.91L493.1,457.91L493.6,457.86L494.1,457.90L494.6,457.37L495.1,457.53L495.6,457.87L496.1,457.87L496.6,457.47L497.1,457.76L497.6,457.89L498.1,457.72L498.6,457.75L499.1,457.92L499.6,457.92L500.1,457.84L500.6,457.92L501.1,457.80L501.6,457.25L502.1,457.45L502.6,457.55L503.1,457.66L503.6,457.77L504.1,457.71L504.6,457.91L505.1,457.82L505.6,457.90L506.1,457.87L506.6,457.91L507.1,457.92L507.6,457.85L508.1,457.92L508.6,457.86L509.1,457.91L509.6,457.75L510.1,457.92L510.6,457.75L511.1,457.65L511.6,457.73L512.1,457.81L512.6,457.68L513.1,457.75L513.6,457.91L514.1,457.92L514.6,457.77L515.1,457.84L515.6,457.91L516.1,457.91L516.6,457.87L517.1,457.86L517.6,457.91L518.1,457.75L518.6,457.84L519.1,457.19L519.1,457.92Z" fill="#222a80"/>
<text x="295.3" y="466.16" font-size="4.9" text-anchor="end" font-weight="bold" fill="#1a1a1a" textLength="9.37" lengthAdjust="spacingAndGlyphs" stroke="#1a1a1a" stroke-width="0.12">FLI1</text>
<path d="M299.6,470.36H519.5" stroke="#aab0c8" stroke-width="0.5"/>
<path d="M299.6,470.66L299.6,470.45L300.1,470.49L300.6,470.65L301.1,470.51L301.6,470.56L302.1,470.18L302.6,470.17L303.1,470.31L303.6,470.46L304.1,469.18L304.6,469.62L305.1,470.66L305.6,470.65L306.1,470.62L306.6,470.48L307.1,470.66L307.6,470.59L308.1,470.49L308.6,470.56L309.1,469.66L309.6,470.66L310.1,470.60L310.6,469.44L311.1,469.81L311.6,470.66L312.1,470.65L312.6,470.24L313.1,468.54L313.5,467.66L313.6,467.69L314.1,469.56L314.6,470.34L315.1,470.52L315.6,470.50L316.1,470.64L316.6,470.63L317.1,470.47L317.6,470.34L318.1,470.50L318.6,470.54L319.1,470.38L319.6,469.98L320.1,470.60L320.6,470.52L321.1,469.46L321.6,469.82L322.1,470.63L322.6,470.23L323.1,470.51L323.6,470.45L324.1,469.90L324.6,470.40L325.1,470.45L325.6,470.62L326.1,470.66L326.6,469.38L327.1,469.76L327.6,470.15L328.1,468.86L328.6,470.54L329.1,469.32L329.6,468.16L330.1,469.32L330.6,470.44L331.1,470.63L331.6,469.89L332.1,470.12L332.6,470.35L333.1,470.54L333.6,469.78L334.1,470.04L334.6,470.59L335.1,470.60L335.6,470.61L336.1,470.56L336.6,470.54L337.1,470.56L337.6,470.55L338.1,470.42L338.6,470.66L339.1,470.59L339.6,470.65L340.1,470.52L340.6,470.63L341.1,470.05L341.6,470.23L342.1,470.66L342.6,470.63L343.1,470.61L343.6,470.37L344.1,470.47L344.6,469.52L345.1,469.86L345.6,470.66L346.1,470.38L346.6,470.65L347.1,470.58L347.6,470.64L348.1,470.52L348.6,470.59L349.1,470.56L349.6,470.50L350.1,470.66L350.6,470.64L351.1,470.42L351.6,470.47L352.1,470.58L352.6,470.18L353.1,469.60L353.6,469.92L354.1,470.42L354.6,466.59L355.0,462.16L355.1,462.33L355.6,469.63L356.1,470.40L356.6,470.65L357.1,470.63L357.6,470.66L358.1,470.62L358.6,470.38L359.1,470.45L359.6,470.00L360.1,470.20L360.6,470.50L361.1,470.65L361.6,470.38L362.1,470.33L362.6,470.61L363.1,470.40L363.6,469.57L364.1,461.84L364.2,461.66L364.6,466.35L365.1,470.30L365.6,470.41L366.1,470.64L366.6,470.59L367.1,470.42L367.6,470.57L368.1,469.65L368.6,466.41L368.8,466.16L369.1,466.84L369.6,470.12L370.1,470.36L370.6,470.64L371.1,470.47L371.6,470.39L372.1,466.35L372.5,461.66L372.6,461.84L373.1,469.57L373.6,470.64L374.1,470.59L374.6,470.62L375.1,470.65L375.6,470.65L376.1,470.40L376.6,470.59L377.1,470.56L377.6,470.61L378.1,469.21L378.6,469.65L379.1,470.51L379.6,470.65L380.1,469.87L380.6,470.11L381.1,470.62L381.6,470.65L382.1,470.44L382.6,470.43L383.1,470.49L383.6,470.65L384.1,470.53L384.6,470.21L385.1,470.34L385.6,470.61L386.1,470.62L386.6,470.47L387.1,470.24L387.6,470.37L388.1,470.39L388.6,470.65L389.1,469.24L389.6,470.50L390.1,470.29L390.6,470.40L391.1,470.43L391.6,470.58L392.1,470.63L392.6,470.45L393.1,470.53L393.6,470.64L394.1,470.41L394.6,470.33L395.1,470.53L395.6,470.45L396.1,469.10L396.6,470.59L397.1,470.53L397.6,470.57L398.1,470.48L398.6,470.59L399.1,470.46L399.6,470.61L400.1,470.65L400.6,470.66L401.1,470.47L401.6,470.50L402.1,470.58L402.6,470.55L403.1,470.65L403.6,470.41L404.1,470.38L404.6,470.63L405.1,470.51L405.6,470.09L406.1,470.58L406.6,470.38L407.1,470.46L407.6,470.56L408.1,470.30L408.6,470.35L409.1,470.46L409.6,470.66L410.1,470.65L410.6,470.39L411.1,470.62L411.6,469.56L412.1,469.89L412.6,470.30L413.1,470.59L413.6,470.33L414.1,468.51L414.6,466.66L415.1,468.51L415.6,470.57L416.1,470.63L416.6,470.65L417.1,470.59L417.6,470.64L418.1,470.58L418.6,470.65L419.1,470.61L419.6,470.50L420.1,469.29L420.6,469.70L421.1,468.19L421.5,467.16L421.6,467.19L422.1,469.37L422.6,470.35L423.1,470.36L423.6,470.60L424.1,470.30L424.6,470.66L425.1,470.55L425.6,469.89L426.1,470.12L426.6,470.61L427.1,470.60L427.6,470.64L428.1,470.59L428.6,470.60L429.1,470.62L429.6,470.38L430.1,470.60L430.6,469.56L431.1,469.89L431.6,470.50L432.1,470.51L432.6,470.29L433.1,470.53L433.6,469.94L434.1,470.15L434.6,470.66L435.1,470.66L435.6,469.94L436.1,470.66L436.6,470.60L437.1,470.62L437.6,470.26L438.1,470.38L438.6,470.50L439.1,470.58L439.6,466.09L440.0,462.66L440.1,462.78L440.6,469.06L441.1,470.54L441.6,470.54L442.1,470.59L442.6,470.39L443.1,470.45L443.6,470.57L444.1,470.56L444.6,470.24L445.1,470.56L445.6,470.66L446.1,470.49L446.6,470.52L447.1,470.61L447.6,470.65L448.1,470.43L448.6,470.39L449.1,469.47L449.6,469.83L450.1,470.52L450.6,470.65L451.1,470.66L451.6,470.60L452.1,470.58L452.6,470.64L453.1,470.43L453.6,470.46L454.1,470.66L454.6,470.53L455.1,470.61L455.6,470.64L456.1,470.65L456.6,470.52L457.1,470.63L457.6,470.65L458.1,470.50L458.6,470.66L459.1,470.65L459.6,470.52L460.1,469.63L460.6,469.94L461.1,470.66L461.6,470.40L462.1,470.63L462.6,470.57L463.1,470.64L463.6,470.56L464.1,470.48L464.6,470.48L465.1,470.66L465.6,470.46L466.1,470.29L466.6,470.40L467.1,470.65L467.6,468.94L468.1,470.39L468.6,468.93L469.1,469.45L469.6,469.97L470.1,470.52L470.6,470.65L471.1,469.18L471.6,469.63L472.1,470.07L472.6,470.62L473.1,470.49L473.6,470.56L474.1,470.37L474.6,470.58L475.1,470.43L475.6,470.06L476.1,470.24L476.6,470.64L477.1,470.50L477.6,470.33L478.1,469.76L478.6,470.64L479.1,470.58L479.6,470.64L480.1,470.65L480.6,470.65L481.1,470.65L481.6,470.42L482.1,470.52L482.6,470.44L483.1,469.61L483.6,470.51L484.1,470.37L484.6,470.65L485.1,470.55L485.6,470.49L486.1,470.65L486.6,470.49L487.1,470.37L487.6,470.66L488.1,469.26L488.6,469.68L489.1,470.63L489.6,470.61L490.1,470.34L490.6,470.26L491.1,469.84L491.6,470.09L492.1,470.65L492.6,469.01L493.1,469.50L493.6,470.60L494.1,470.66L494.6,470.46L495.1,470.46L495.6,470.54L496.1,470.55L496.6,470.57L497.1,470.65L497.6,470.36L498.1,470.34L498.6,470.64L499.1,470.63L499.6,470.58L500.1,470.59L500.6,469.09L501.1,469.56L501.6,470.65L502.1,470.56L502.6,470.36L503.1,470.37L503.6,470.66L504.1,470.21L504.6,470.35L505.1,470.53L505.6,470.47L506.1,470.50L506.6,470.64L507.1,470.51L507.6,470.52L508.1,470.51L508.6,470.60L509.1,470.57L509.6,470.43L510.1,470.27L510.6,470.39L511.1,470.16L511.6,470.31L512.1,470.52L512.6,470.44L513.1,470.37L513.6,470.61L514.1,470.40L514.6,470.26L515.1,470.38L515.6,470.50L516.1,470.63L516.6,470.28L517.1,470.39L517.6,470.46L518.1,470.47L518.6,470.66L519.1,470.30L519.1,470.66Z" fill="#222a80"/>
<text x="295.3" y="478.90" font-size="4.9" text-anchor="end" font-weight="bold" fill="#1a1a1a" textLength="9.88" lengthAdjust="spacingAndGlyphs" stroke="#1a1a1a" stroke-width="0.12">ERG</text>
<path d="M299.6,483.10H519.5" stroke="#aab0c8" stroke-width="0.5"/>
<path d="M299.6,483.40L299.6,483.20L300.1,483.30L300.6,483.17L301.1,483.33L301.6,483.21L302.1,483.39L302.6,483.40L303.1,483.30L303.6,483.08L304.1,483.39L304.6,483.37L305.1,483.39L305.6,483.04L306.1,483.15L306.6,483.17L307.1,483.38L307.6,483.37L308.1,483.20L308.6,483.17L309.1,483.33L309.6,482.31L310.1,483.37L310.6,483.15L311.1,483.15L311.6,483.27L312.1,483.16L312.6,482.96L313.1,480.77L313.5,477.90L313.6,478.01L314.1,482.73L314.6,483.34L315.1,483.29L315.6,483.38L316.1,482.12L316.6,482.51L317.1,483.29L317.6,482.50L318.1,481.71L318.6,482.22L319.1,483.13L319.6,483.39L320.1,483.01L320.6,483.13L321.1,483.24L321.6,483.35L322.1,483.17L322.6,483.39L323.1,483.39L323.6,483.02L324.1,483.40L324.6,483.03L325.1,483.14L325.6,482.90L326.1,483.05L326.6,483.40L327.1,483.40L327.6,483.26L328.1,483.36L328.6,483.21L329.1,481.92L329.6,477.90L330.1,481.92L330.6,483.40L331.1,483.13L331.6,483.10L332.1,483.30L332.6,482.72L333.1,482.92L333.6,483.13L334.1,483.23L334.6,483.39L335.1,482.61L335.6,483.34L336.1,482.41L336.6,482.70L337.1,483.34L337.6,483.17L338.1,483.40L338.6,483.20L339.1,483.38L339.6,482.90L340.1,483.05L340.6,483.20L341.1,483.18L341.6,483.40L342.1,483.40L342.6,483.40L343.1,483.35L343.6,482.27L344.1,483.39L344.6,483.08L345.1,483.35L345.6,481.81L346.1,482.29L346.6,482.73L347.1,480.57L347.3,480.40L347.6,480.86L348.1,483.04L348.6,482.74L349.1,483.25L349.6,483.31L350.1,483.36L350.6,481.56L351.1,478.45L351.2,478.40L351.6,479.87L352.1,483.12L352.6,483.23L353.1,483.18L353.6,483.40L354.1,483.34L354.6,479.97L355.0,477.40L355.1,477.49L355.6,482.20L356.1,483.27L356.6,483.27L357.1,482.62L357.6,482.86L358.1,483.26L358.6,483.33L359.1,483.33L359.6,483.32L360.1,483.01L360.6,483.39L361.1,483.20L361.6,483.39L362.1,483.22L362.6,483.40L363.1,483.15L363.6,482.31L364.1,474.58L364.2,474.40L364.6,479.09L365.1,483.26L365.6,483.33L366.1,483.14L366.6,483.31L367.1,483.31L367.6,483.27L368.1,483.14L368.6,478.09L368.8,477.40L369.1,479.17L369.6,483.26L370.1,483.24L370.6,483.39L371.1,483.32L371.6,483.37L372.1,480.53L372.5,477.40L372.6,477.52L373.1,482.67L373.6,483.33L374.1,482.84L374.6,483.28L375.1,483.36L375.6,483.23L376.1,483.11L376.6,481.81L377.1,483.08L377.6,483.24L378.1,483.40L378.6,483.24L379.1,483.03L379.6,483.14L380.1,483.32L380.6,483.26L381.1,483.23L381.6,483.37L382.1,483.40L382.6,483.25L383.1,483.37L383.6,483.40L384.1,483.36L384.6,483.33L385.1,483.40L385.6,482.78L386.1,482.97L386.6,483.15L387.1,483.13L387.6,483.31L388.1,483.33L388.6,483.13L389.1,483.19L389.6,483.38L390.1,482.73L390.6,483.33L391.1,483.26L391.6,483.35L392.1,483.19L392.6,483.38L393.1,483.39L393.6,483.40L394.1,483.25L394.6,483.25L395.1,483.14L395.6,483.38L396.1,483.40L396.6,482.94L397.1,483.08L397.6,483.19L398.1,482.80L398.6,483.35L399.1,483.40L399.6,483.21L400.1,483.09L400.6,483.40L401.1,483.40L401.6,483.13L402.1,483.40L402.6,481.85L403.1,482.31L403.6,483.38L404.1,483.17L404.6,482.19L405.1,482.55L405.6,483.34L406.1,483.24L406.6,483.35L407.1,483.36L407.6,483.18L408.1,483.28L408.6,483.33L409.1,483.37L409.6,483.40L410.1,483.12L410.6,483.14L411.1,482.30L411.6,483.13L412.1,483.17L412.6,483.35L413.1,483.19L413.6,483.32L414.1,480.98L414.6,474.40L415.1,480.98L415.6,483.39L416.1,483.38L416.6,483.14L417.1,483.34L417.6,483.25L418.1,483.36L418.6,482.99L419.1,483.07L419.6,483.18L420.1,483.35L420.6,481.85L421.1,482.31L421.6,482.78L422.1,483.29L422.6,482.58L423.1,482.83L423.6,482.85L424.1,483.25L424.6,483.18L425.1,482.63L425.6,482.86L426.1,483.02L426.6,483.14L427.1,483.10L427.6,483.12L428.1,482.78L428.6,483.27L429.1,483.40L429.6,483.39L430.1,483.36L430.6,483.07L431.1,483.38L431.6,481.69L432.1,483.39L432.6,483.28L433.1,483.40L433.6,483.40L434.1,483.04L434.6,483.15L435.1,483.26L435.6,483.40L436.1,483.32L436.6,483.34L437.1,483.09L437.6,482.87L438.1,483.03L438.6,483.38L439.1,483.33L439.6,479.40L440.0,476.40L440.1,476.51L440.6,482.00L441.1,482.81L441.6,483.28L442.1,483.01L442.6,483.11L443.1,483.24L443.6,483.29L444.1,483.21L444.6,483.20L445.1,483.40L445.6,483.22L446.1,483.15L446.6,483.39L447.1,483.01L447.6,483.13L448.1,483.24L448.6,482.22L449.1,482.57L449.6,483.15L450.1,483.34L450.6,483.27L451.1,483.07L451.6,483.30L452.1,483.38L452.6,483.26L453.1,483.14L453.6,483.28L454.1,481.72L454.6,482.22L455.1,482.44L455.6,483.35L456.1,483.40L456.6,483.25L457.1,483.36L457.6,483.39L458.1,483.18L458.6,483.25L459.1,482.29L459.6,482.62L460.1,483.22L460.6,483.09L461.1,483.21L461.6,481.98L462.1,482.41L462.6,482.83L463.1,481.98L463.6,482.41L464.1,483.32L464.6,483.27L465.1,483.39L465.6,482.85L466.1,483.01L466.6,483.07L467.1,483.14L467.6,483.40L468.1,483.29L468.6,483.40L469.1,483.40L469.6,481.63L470.1,481.89L470.6,482.73L471.1,483.40L471.6,483.35L472.1,483.25L472.6,483.40L473.1,483.32L473.6,483.07L474.1,483.40L474.6,483.16L475.1,482.97L475.6,483.27L476.1,482.98L476.6,483.10L477.1,482.79L477.6,483.33L478.1,483.40L478.6,483.32L479.1,483.25L479.6,483.03L480.1,482.40L480.6,482.70L481.1,480.54L481.5,478.40L481.6,478.48L482.1,482.40L482.6,483.33L483.1,483.37L483.6,483.40L484.1,483.40L484.6,483.36L485.1,483.23L485.6,483.27L486.1,482.51L486.6,483.40L487.1,483.39L487.6,483.36L488.1,483.23L488.6,482.97L489.1,483.04L489.6,483.23L490.1,483.09L490.6,483.36L491.1,483.32L491.6,483.10L492.1,483.34L492.6,483.20L493.1,482.64L493.6,482.87L494.1,483.09L494.6,483.40L495.1,483.19L495.6,483.08L496.1,482.63L496.6,483.24L497.1,483.33L497.6,483.24L498.1,483.20L498.6,483.33L499.1,483.37L499.6,482.16L500.1,483.39L500.6,482.97L501.1,483.10L501.6,483.37L502.1,483.40L502.6,483.38L503.1,481.69L503.6,482.20L504.1,483.40L504.6,482.72L505.1,482.92L505.6,483.11L506.1,483.34L506.6,483.38L507.1,483.16L507.6,483.03L508.1,483.14L508.6,483.15L509.1,481.99L509.6,482.41L510.1,483.37L510.6,483.39L511.1,483.20L511.6,482.40L512.1,482.70L512.6,483.28L513.1,483.19L513.6,483.39L514.1,483.19L514.6,483.22L515.1,483.32L515.6,483.29L516.1,483.20L516.6,483.29L517.1,483.34L517.6,483.24L518.1,483.37L518.6,483.29L519.1,483.33L519.1,483.40Z" fill="#222a80"/>
<text x="295.3" y="494.3" font-size="5.2" text-anchor="end" font-weight="normal" fill="#1f4524" textLength="20.1" lengthAdjust="spacingAndGlyphs" stroke="#1f4524" stroke-width="0.12">Elements</text>
<text x="295.3" y="507.3" font-size="5.2" text-anchor="end" font-weight="normal" fill="#cf9f2e" textLength="20" lengthAdjust="spacingAndGlyphs" stroke="#cf9f2e" stroke-width="0.12">Promoter</text>
<text x="295.3" y="512.3" font-size="5.2" text-anchor="end" font-weight="normal" fill="#cf9f2e" textLength="22" lengthAdjust="spacingAndGlyphs" stroke="#cf9f2e" stroke-width="0.12">fragments</text>
<text x="295.3" y="517.1" font-size="5.2" text-anchor="end" font-weight="bold" fill="#111" textLength="31" lengthAdjust="spacingAndGlyphs" stroke="#111" stroke-width="0.12">RefSeq genes</text>
<text x="295.3" y="522.1" font-size="5.2" text-anchor="end" font-weight="normal" fill="#48596a" textLength="39" lengthAdjust="spacingAndGlyphs" stroke="#48596a" stroke-width="0.12">HindIII restriction</text>
<text x="295.3" y="527.1" font-size="5.2" text-anchor="end" font-weight="normal" fill="#48596a" textLength="22.6" lengthAdjust="spacingAndGlyphs" stroke="#48596a" stroke-width="0.12">fragments</text>
<text x="295.3" y="533.3" font-size="5.2" text-anchor="end" font-weight="normal" fill="#45458a" textLength="27" lengthAdjust="spacingAndGlyphs" stroke="#45458a" stroke-width="0.12">Interactions</text>
<rect x="327.3" y="485.8" width="3.90" height="5.70" fill="#1f4a22"/>
<rect x="349.8" y="485.8" width="5.80" height="5.70" fill="#1f4a22"/>
<rect x="372.3" y="486" width="1.50" height="5.00" fill="#1f4a22"/>
<rect x="362.7" y="493.5" width="4.40" height="5.70" fill="#1f4a22"/>
<rect x="439.2" y="485.3" width="2.50" height="5.70" fill="#1f4a22"/>
<rect x="461.4" y="485.5" width="1.10" height="5.50" fill="#1f4a22"/>
<rect x="495.7" y="485.5" width="1.30" height="5.50" fill="#1f4a22"/>
<rect x="443" y="493.2" width="2.40" height="5.00" fill="#1f4a22"/>
<rect x="461.2" y="492.8" width="0.90" height="4.60" fill="#1f4a22"/>
<rect x="481.5" y="493.5" width="1.60" height="4.70" fill="#1f4a22"/>
<rect x="484.6" y="499.7" width="1.10" height="5.30" fill="#1f4a22"/>
<text x="332.5" y="488.2" font-size="4.3" text-anchor="start" font-weight="normal" fill="#1c2e1c" textLength="9.2" lengthAdjust="spacingAndGlyphs" stroke="#1c2e1c" stroke-width="0.1">Lmo2</text>
<text x="332.5" y="491.8" font-size="4.3" text-anchor="start" font-weight="normal" fill="#1c2e1c" textLength="11.5" lengthAdjust="spacingAndGlyphs" stroke="#1c2e1c" stroke-width="0.1">-90 Kb</text>
<text x="356.5" y="488.2" font-size="4.3" text-anchor="start" font-weight="normal" fill="#1c2e1c" textLength="9.2" lengthAdjust="spacingAndGlyphs" stroke="#1c2e1c" stroke-width="0.1">Lmo2</text>
<text x="356.5" y="491.8" font-size="4.3" text-anchor="start" font-weight="normal" fill="#1c2e1c" textLength="11.5" lengthAdjust="spacingAndGlyphs" stroke="#1c2e1c" stroke-width="0.1">-75 Kb</text>
<text x="374.8" y="490.2" font-size="4.3" text-anchor="start" font-weight="normal" fill="#1c2e1c" textLength="22.1" lengthAdjust="spacingAndGlyphs" stroke="#1c2e1c" stroke-width="0.1">Lmo2 -64 Kb</text>
<text x="368" y="497.2" font-size="4.3" text-anchor="start" font-weight="normal" fill="#1c2e1c" textLength="23.2" lengthAdjust="spacingAndGlyphs" stroke="#1c2e1c" stroke-width="0.1">Lmo2 -70 Kb</text>
<text x="438.6" y="490.2" font-size="4.3" text-anchor="end" font-weight="normal" fill="#1c2e1c" textLength="22.7" lengthAdjust="spacingAndGlyphs" stroke="#1c2e1c" stroke-width="0.1">Lmo2 -25 Kb</text>
<text x="463.8" y="490.2" font-size="4.3" text-anchor="start" font-weight="normal" fill="#1c2e1c" textLength="22.4" lengthAdjust="spacingAndGlyphs" stroke="#1c2e1c" stroke-width="0.1">Lmo2 -12 Kb</text>
<text x="499.2" y="490.2" font-size="4.3" text-anchor="start" font-weight="normal" fill="#1c2e1c" textLength="20" lengthAdjust="spacingAndGlyphs" stroke="#1c2e1c" stroke-width="0.1">Lmo2 +7 Kb</text>
<text x="442.5" y="497.5" font-size="4.3" text-anchor="end" font-weight="normal" fill="#1c2e1c" textLength="15" lengthAdjust="spacingAndGlyphs" stroke="#1c2e1c" stroke-width="0.1">Lmo2 dP</text>
<text x="463" y="495.2" font-size="4.3" text-anchor="start" font-weight="normal" fill="#1c2e1c" textLength="9.2" lengthAdjust="spacingAndGlyphs" stroke="#1c2e1c" stroke-width="0.1">Lmo2</text>
<text x="463" y="499" font-size="4.3" text-anchor="start" font-weight="normal" fill="#1c2e1c" textLength="8" lengthAdjust="spacingAndGlyphs" stroke="#1c2e1c" stroke-width="0.1">indP</text>
<text x="484.6" y="497.8" font-size="4.3" text-anchor="start" font-weight="normal" fill="#1c2e1c" textLength="16.2" lengthAdjust="spacingAndGlyphs" stroke="#1c2e1c" stroke-width="0.1">Lmo2 pPex</text>
<text x="487.7" y="503.6" font-size="4.3" text-anchor="start" font-weight="normal" fill="#1c2e1c" textLength="20.8" lengthAdjust="spacingAndGlyphs" stroke="#1c2e1c" stroke-width="0.1">Lmo2 +1 Kb</text>
<rect x="450.8" y="507" width="22.7" height="2.6" fill="#d19a2a"/>
<text x="446.4" y="516.6" font-size="5.8" text-anchor="start" font-weight="normal" fill="#1e2a78" textLength="12.9" lengthAdjust="spacingAndGlyphs" stroke="#1e2a78" stroke-width="0.12">Lmo2</text>
<path d="M460.8,514.5H502.4" stroke="#1e2a78" stroke-width="0.7"/><rect x="460.8" y="513.5" width="1.2" height="2" fill="#1e2a78"/><rect x="483.5" y="513.3" width="1" height="2.4" fill="#1e2a78"/><rect x="500.6" y="513.2" width="1.8" height="2.6" fill="#1e2a78"/>
<path d="M465,513.7l1,0.8l-1,0.8" fill="none" stroke="#1e2a78" stroke-width="0.3"/>
<path d="M470,513.7l1,0.8l-1,0.8" fill="none" stroke="#1e2a78" stroke-width="0.3"/>
<path d="M475,513.7l1,0.8l-1,0.8" fill="none" stroke="#1e2a78" stroke-width="0.3"/>
<path d="M480,513.7l1,0.8l-1,0.8" fill="none" stroke="#1e2a78" stroke-width="0.3"/>
<path d="M485,513.7l1,0.8l-1,0.8" fill="none" stroke="#1e2a78" stroke-width="0.3"/>
<path d="M490,513.7l1,0.8l-1,0.8" fill="none" stroke="#1e2a78" stroke-width="0.3"/>
<path d="M495,513.7l1,0.8l-1,0.8" fill="none" stroke="#1e2a78" stroke-width="0.3"/>
<path d="M299.4,521.3H301.2M301.8,523.4H318.7M319.1,521.3H328.6M329,523.4H343M343.4,521.3H346.8M347.2,523.4H356.6M357,521.3H369M369.6,523.4H395.6M396.2,521.3H396.7M397.3,521.3H403M403.7,523.4H405.4M406,521.3H422.3M422.9,523.4H424M424.6,521.3H426.3M426.9,523.4H428.7M429.2,521.3H474.4M474.6,523.4H477.3M478.5,521.3H480.2M481.3,523.4H485.4M486.5,521.3H495.2M495.4,523.4H495.8M496.3,521.3H502.1M502.7,523.4H503.8M505,521.3H507.3M507.9,523.4H509M510.8,523.4H519.5" fill="none" stroke="#6a6e72" stroke-width="0.85"/>
<rect x="451" y="528.64" width="23.4" height="56.36" fill="#ddd7f0"/>
<rect x="451.00" y="529.15" width="23.40" height="3.3" fill="#b9b2d6"/>
<rect x="451.00" y="533.48" width="23.40" height="3.3" fill="#aba0d2"/>
<rect x="451.00" y="537.80" width="23.40" height="3.3" fill="#9385c0"/>
<rect x="451.00" y="542.12" width="23.40" height="3.3" fill="#b9b2d6"/>
<rect x="451.00" y="546.45" width="23.40" height="3.3" fill="#9385c0"/>
<rect x="451.00" y="550.77" width="23.40" height="3.3" fill="#7363a6"/>
<rect x="451.00" y="555.10" width="23.40" height="3.3" fill="#b9b2d6"/>
<rect x="451.00" y="559.42" width="23.40" height="3.3" fill="#b9b2d6"/>
<rect x="451.00" y="563.75" width="23.40" height="3.3" fill="#b9b2d6"/>
<rect x="451.00" y="568.07" width="23.40" height="3.3" fill="#b9b2d6"/>
<rect x="451.00" y="572.40" width="23.40" height="3.3" fill="#b9b2d6"/>
<rect x="451.00" y="576.73" width="23.40" height="3.3" fill="#aba0d2"/>
<rect x="451.00" y="581.05" width="23.40" height="3.3" fill="#9385c0"/>
<rect x="301.60" y="529.20" width="17.30" height="3.2" fill="#b9b2d6"/>
<rect x="318.90" y="530.40" width="132.10" height="0.8" fill="#aba0d2"/>
<rect x="318.90" y="533.52" width="9.90" height="3.2" fill="#9385c0"/>
<rect x="328.80" y="534.73" width="122.20" height="0.8" fill="#9385c0"/>
<rect x="328.80" y="537.85" width="14.40" height="3.2" fill="#9385c0"/>
<rect x="343.20" y="539.05" width="107.80" height="0.8" fill="#9385c0"/>
<rect x="343.20" y="542.17" width="3.80" height="3.2" fill="#b9b2d6"/>
<rect x="347.00" y="543.38" width="104.00" height="0.8" fill="#aba0d2"/>
<rect x="347.00" y="546.50" width="10.00" height="3.2" fill="#9385c0"/>
<rect x="357.00" y="547.70" width="94.00" height="0.8" fill="#9385c0"/>
<rect x="357.00" y="550.82" width="12.10" height="3.2" fill="#4e3f8a"/>
<rect x="369.10" y="551.77" width="81.90" height="1.3" fill="#4e3f8a"/>
<rect x="369.10" y="555.15" width="27.20" height="3.2" fill="#b9b2d6"/>
<rect x="396.30" y="556.35" width="54.70" height="0.8" fill="#b9b2d6"/>
<rect x="403.40" y="559.47" width="3.30" height="3.2" fill="#b9b2d6"/>
<rect x="406.70" y="560.67" width="44.30" height="0.8" fill="#b9b2d6"/>
<rect x="426.00" y="563.80" width="2.90" height="3.2" fill="#b9b2d6"/>
<rect x="428.90" y="565.00" width="22.10" height="0.8" fill="#b9b2d6"/>
<rect x="474.40" y="569.32" width="29.10" height="0.8" fill="#aba0d2"/>
<rect x="503.50" y="568.12" width="1.50" height="3.2" fill="#b9b2d6"/>
<rect x="474.40" y="573.65" width="12.00" height="0.8" fill="#aba0d2"/>
<rect x="486.40" y="572.45" width="8.90" height="3.2" fill="#b9b2d6"/>
<rect x="474.40" y="577.98" width="6.50" height="0.8" fill="#aba0d2"/>
<rect x="480.90" y="576.77" width="4.90" height="3.2" fill="#7363a6"/>
<rect x="474.40" y="582.30" width="3.60" height="0.8" fill="#aba0d2"/>
<rect x="478.00" y="581.10" width="2.90" height="3.2" fill="#aba0d2"/>
</svg></body></html>
